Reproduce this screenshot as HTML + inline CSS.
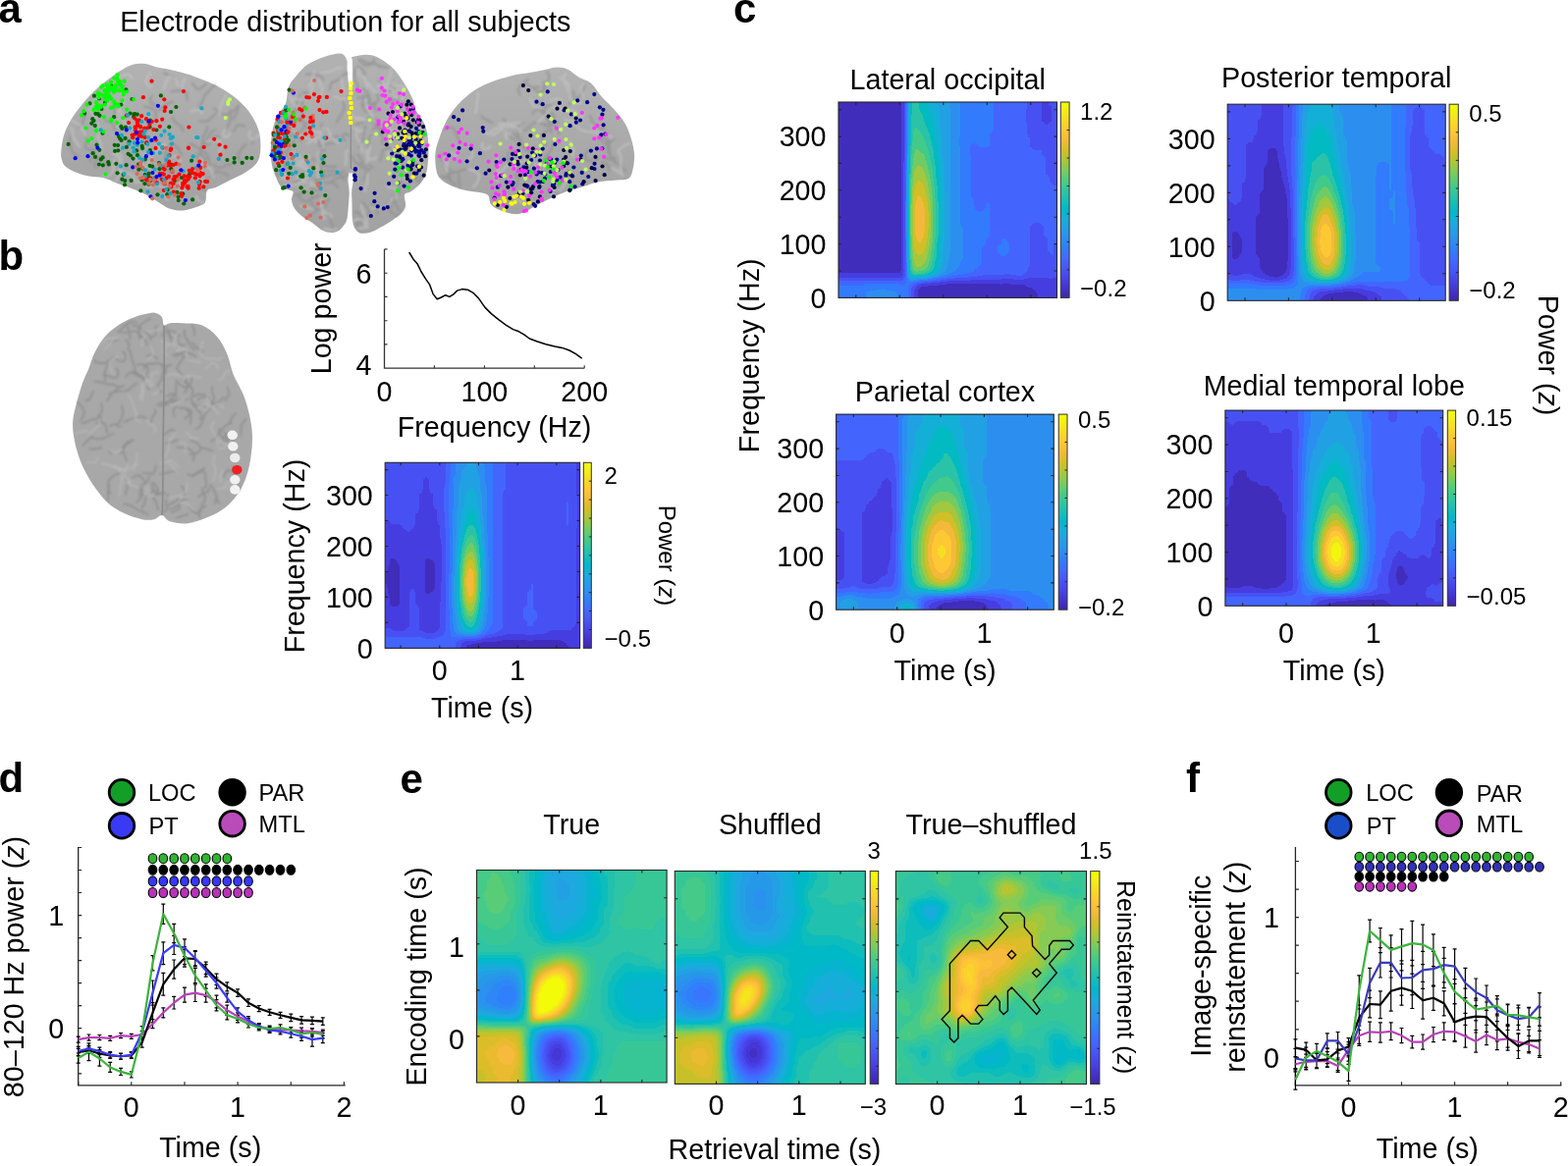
<!DOCTYPE html><html><head><meta charset="utf-8"><title>Figure</title><style>html,body{margin:0;padding:0;background:#fff;width:1597px;height:1188px;overflow:hidden}svg{display:block}</style></head><body><svg width="1597" height="1188" viewBox="0 0 1597 1188" font-family="'Liberation Sans', Arial, Helvetica, sans-serif" font-size="28.7" fill="#000"><defs><filter id="fc" x="0" y="0" width="1" height="1" color-interpolation-filters="sRGB"><feGaussianBlur stdDeviation="2.2"/><feComponentTransfer><feFuncR type="discrete" tableValues="0.256 0.276 0.281 0.266 0.196 0.174 0.137 0.079 0.011 0.166 0.260 0.439 0.641 0.820 0.958 0.995 0.967 0.954"/><feFuncG type="discrete" tableValues="0.178 0.241 0.320 0.399 0.485 0.561 0.630 0.690 0.733 0.765 0.794 0.803 0.784 0.750 0.728 0.788 0.871 0.962"/><feFuncB type="discrete" tableValues="0.741 0.881 0.956 0.993 0.989 0.943 0.896 0.847 0.760 0.662 0.545 0.396 0.244 0.154 0.228 0.201 0.138 0.065"/><feFuncA type="linear" slope="0" intercept="1"/></feComponentTransfer></filter><filter id="fe" x="0" y="0" width="1" height="1" color-interpolation-filters="sRGB"><feGaussianBlur stdDeviation="2.6"/><feComponentTransfer><feFuncR type="discrete" tableValues="0.249 0.261 0.271 0.277 0.281 0.281 0.278 0.270 0.252 0.216 0.185 0.178 0.169 0.148 0.136 0.114 0.086 0.030 0.002 0.054 0.133 0.181 0.216 0.271 0.350 0.434 0.527 0.617 0.703 0.783 0.855 0.918 0.972 0.997 0.994 0.983 0.969 0.958 0.953 0.957"/><feFuncG type="discrete" tableValues="0.162 0.188 0.215 0.247 0.283 0.318 0.353 0.389 0.426 0.465 0.503 0.537 0.570 0.602 0.631 0.660 0.686 0.708 0.727 0.743 0.757 0.770 0.784 0.795 0.801 0.803 0.797 0.788 0.774 0.758 0.742 0.731 0.730 0.756 0.790 0.826 0.864 0.904 0.945 0.988"/><feFuncB type="discrete" tableValues="0.699 0.769 0.836 0.889 0.926 0.955 0.977 0.991 0.997 0.996 0.982 0.962 0.936 0.913 0.896 0.879 0.852 0.816 0.777 0.734 0.690 0.644 0.593 0.534 0.471 0.400 0.331 0.262 0.203 0.161 0.158 0.189 0.239 0.227 0.200 0.173 0.143 0.112 0.079 0.039"/><feFuncA type="linear" slope="0" intercept="1"/></feComponentTransfer></filter><clipPath id="cl1"><rect x="392.2" y="471.3" width="198.4" height="189.1"/></clipPath><linearGradient id="cbg" x1="0" y1="0" x2="0" y2="1"><stop offset="0.00" stop-color="#f2ff03"/><stop offset="0.05" stop-color="#f3ec18"/><stop offset="0.10" stop-color="#f9d728"/><stop offset="0.15" stop-color="#fec536"/><stop offset="0.20" stop-color="#f1ba37"/><stop offset="0.25" stop-color="#d1bf27"/><stop offset="0.30" stop-color="#a8c73b"/><stop offset="0.35" stop-color="#7bcc5d"/><stop offset="0.40" stop-color="#4fcc80"/><stop offset="0.45" stop-color="#32c69e"/><stop offset="0.50" stop-color="#19bfb6"/><stop offset="0.55" stop-color="#02b7cb"/><stop offset="0.60" stop-color="#1aacdd"/><stop offset="0.65" stop-color="#259de6"/><stop offset="0.70" stop-color="#2d8df2"/><stop offset="0.75" stop-color="#327cfc"/><stop offset="0.80" stop-color="#4368fe"/><stop offset="0.85" stop-color="#4756f6"/><stop offset="0.90" stop-color="#4744e8"/><stop offset="0.95" stop-color="#4433cd"/><stop offset="1.00" stop-color="#3e26a8"/></linearGradient><clipPath id="cl2"><rect x="854.0" y="104.0" width="222.5" height="199.4"/></clipPath><clipPath id="cl3"><rect x="1250.2" y="106.2" width="222.0" height="200.1"/></clipPath><clipPath id="cl4"><rect x="851.6" y="422.1" width="221.7" height="199.1"/></clipPath><clipPath id="cl5"><rect x="1247.9" y="418.1" width="221.8" height="199.2"/></clipPath><clipPath id="cl6"><rect x="485.5" y="886.5" width="193.6" height="216.5"/></clipPath><clipPath id="cl7"><rect x="687.3" y="887.5" width="194.0" height="216.9"/></clipPath><clipPath id="cl8"><rect x="912.4" y="887.6" width="194.1" height="216.9"/></clipPath></defs><text x="-1.5" y="23.0" font-size="42" font-weight="bold">a</text><text x="122.2" y="31.7">Electrode distribution for all subjects</text><defs><linearGradient id="bgr" x1="0" y1="0" x2="0" y2="1"><stop offset="0" stop-color="#b2b2b2"/><stop offset="1" stop-color="#a2a2a2"/></linearGradient><filter id="sb" x="-5%" y="-5%" width="110%" height="110%"><feGaussianBlur stdDeviation="0.9"/></filter></defs><path d="M62.2 155.2C62.6 151.1 63.3 143.5 65.0 138.0C66.7 132.5 69.1 127.5 72.2 122.3C75.3 117.0 79.5 111.5 83.6 106.5C87.6 101.5 91.7 96.7 96.5 92.2C101.3 87.7 108.0 82.6 112.3 79.3C116.6 76.0 118.5 74.5 122.3 72.2C126.1 69.9 130.9 66.9 135.2 65.7C139.5 64.5 144.2 64.6 148.0 65.0C151.8 65.4 154.0 67.0 158.1 67.9C162.2 68.9 168.1 69.8 172.4 70.7C176.7 71.7 179.5 72.4 183.8 73.6C188.1 74.8 193.3 76.2 198.1 77.9C202.9 79.6 207.7 81.4 212.5 83.6C217.3 85.8 222.0 87.9 226.8 90.8C231.6 93.7 236.8 97.2 241.1 100.8C245.4 104.4 249.4 108.5 252.5 112.3C255.6 116.1 257.8 119.9 259.7 123.7C261.6 127.5 263.1 131.1 264.0 135.2C264.9 139.2 265.4 143.7 265.4 148.0C265.4 152.3 265.2 157.3 264.0 160.9C262.8 164.5 260.9 166.9 258.3 169.5C255.7 172.1 252.3 174.3 248.2 176.7C244.1 179.1 238.7 181.4 233.9 183.8C229.1 186.2 223.4 189.3 219.6 191.0C215.8 192.7 212.7 191.7 211.0 193.8C209.3 196.0 210.3 201.5 209.6 203.9C208.9 206.3 209.1 206.8 206.7 208.2C204.3 209.6 199.1 211.4 195.3 212.5C191.5 213.6 187.6 214.6 183.8 214.6C180.0 214.6 176.0 213.8 172.4 212.5C168.8 211.2 166.5 209.1 162.4 206.7C158.3 204.3 152.5 200.5 148.0 198.1C143.5 195.7 140.0 194.3 135.2 192.4C130.4 190.5 124.4 188.6 119.4 186.7C114.4 184.8 109.9 182.2 105.1 181.0C100.3 179.8 95.6 180.5 90.8 179.5C86.0 178.5 80.5 176.9 76.5 175.2C72.5 173.5 68.8 171.6 66.5 169.5C64.2 167.4 63.6 164.8 62.9 162.4C62.2 160.0 61.9 159.3 62.2 155.2Z" fill="url(#bgr)"/><path d="M353.2 61.0C352.1 58.4 350.5 55.1 346.8 54.6C343.1 54.1 336.4 55.9 330.8 57.8C325.2 59.7 318.0 62.6 313.2 65.8C308.4 69.0 305.2 73.3 302.0 77.0C298.8 80.7 295.9 83.4 294.0 88.2C292.1 93.0 292.9 100.5 290.8 105.8C288.7 111.1 283.6 114.3 281.2 120.2C278.8 126.1 277.2 133.5 276.4 141.0C275.6 148.5 275.3 157.8 276.4 165.0C277.5 172.2 280.9 179.8 282.8 184.2C284.7 188.6 285.4 189.9 288.0 191.7C290.6 193.5 296.7 193.0 298.2 195.1C299.7 197.2 296.6 201.1 297.0 204.1C297.4 207.1 298.7 210.5 300.4 213.1C302.1 215.7 304.4 217.7 307.2 219.9C310.0 222.2 314.1 224.3 317.3 226.6C320.5 228.8 323.4 231.7 326.4 233.4C329.4 235.1 332.6 236.4 335.4 236.8C338.2 237.2 341.1 236.6 343.3 235.7C345.6 234.8 347.2 233.3 348.9 231.2C350.6 229.1 352.4 227.4 353.4 223.3C354.4 219.2 354.7 211.1 355.1 206.4C355.5 201.7 355.8 198.6 355.7 195.0C355.6 191.4 354.7 188.2 354.6 185.0C354.5 181.8 354.7 178.5 355.2 176.0C355.7 173.5 357.2 182.7 357.6 170.0C358.0 157.3 358.0 114.0 357.6 100.0C357.2 86.0 355.9 91.0 355.2 86.0C354.5 81.0 353.9 74.2 353.6 70.0C353.3 65.8 354.3 63.6 353.2 61.0Z" fill="url(#bgr)"/><path d="M359.6 57.8C362.9 56.8 372.4 54.6 378.8 56.2C385.2 57.8 392.7 62.9 398.0 67.4C403.3 71.9 407.1 77.8 410.8 83.4C414.5 89.0 418.3 96.2 420.4 101.0C422.5 105.8 421.5 107.7 423.6 112.2C425.7 116.7 431.1 122.1 433.2 128.2C435.3 134.3 436.0 142.6 436.4 149.0C436.8 155.4 436.2 162.0 435.7 166.9C435.2 171.8 434.7 174.8 433.4 178.2C432.1 181.6 430.2 184.4 427.8 187.2C425.4 190.0 421.4 193.2 418.8 195.1C416.2 197.0 412.9 196.1 412.0 198.5C411.1 200.9 413.7 206.5 413.1 209.7C412.5 212.9 410.9 215.1 408.6 217.6C406.4 220.1 403.0 222.1 399.6 224.4C396.2 226.7 392.1 229.1 388.3 231.2C384.6 233.3 380.7 235.8 377.1 236.8C373.5 237.8 369.5 238.2 366.9 237.4C364.3 236.7 362.6 234.7 361.3 232.3C360.0 230.0 359.5 227.6 359.0 223.3C358.5 219.0 358.6 211.1 358.5 206.4C358.4 201.7 358.0 198.6 358.2 195.0C358.4 191.4 359.4 188.2 359.6 185.0C359.8 181.8 359.6 178.5 359.2 176.0C358.8 173.5 357.4 182.7 357.0 170.0C356.6 157.3 356.7 113.7 357.0 100.0C357.3 86.3 358.4 92.2 358.8 88.0C359.2 83.8 359.2 79.3 359.2 75.0C359.2 70.7 358.9 64.9 359.0 62.0C359.1 59.1 356.3 58.8 359.6 57.8Z" fill="url(#bgr)"/><path d="M443.3 157.1C443.7 151.4 445.2 147.2 447.2 141.4C449.1 135.7 451.9 128.3 455.0 122.6C458.1 116.9 461.6 112.0 466.0 107.0C470.4 102.0 476.0 96.8 481.7 92.9C487.4 89.0 493.9 86.1 500.4 83.5C506.9 80.9 514.3 78.8 520.8 77.2C527.3 75.6 533.9 75.1 539.6 74.1C545.3 73.1 550.5 71.9 555.2 71.0C559.9 70.1 563.9 68.6 567.8 68.6C571.7 68.6 575.1 69.3 578.7 71.0C582.4 72.7 585.8 76.5 589.7 78.8C593.6 81.1 598.3 81.6 602.2 85.0C606.1 88.4 609.3 94.6 613.2 99.1C617.1 103.5 621.8 107.3 625.7 111.7C629.6 116.1 633.7 120.8 636.6 125.7C639.5 130.7 641.3 136.2 642.9 141.4C644.5 146.6 645.7 151.9 646.0 157.1C646.3 162.3 645.5 168.5 644.5 172.7C643.5 176.9 642.9 180.3 639.8 182.1C636.7 183.9 630.7 183.2 625.7 183.7C620.7 184.2 615.2 184.2 610.0 185.2C604.8 186.2 599.6 188.3 594.4 189.9C589.2 191.5 583.9 192.8 578.7 194.6C573.5 196.4 568.3 198.6 563.1 200.9C557.9 203.2 552.4 206.1 547.4 208.7C542.4 211.3 537.2 214.9 533.3 216.5C529.4 218.1 527.5 218.3 523.9 218.1C520.2 217.8 515.3 216.6 511.4 215.0C507.5 213.4 502.8 211.3 500.4 208.7C498.0 206.1 499.1 201.4 497.3 199.3C495.5 197.2 492.9 197.0 489.5 196.2C486.1 195.4 481.7 195.6 477.0 194.6C472.3 193.6 465.7 191.7 461.3 189.9C456.9 188.1 453.1 186.0 450.4 183.7C447.7 181.3 446.1 180.2 444.9 175.8C443.7 171.4 442.9 162.8 443.3 157.1Z" fill="url(#bgr)"/><g filter="url(#sb)"><path d="M174.1 170.9C171.1 172.7 167.7 171.8 164.5 173.4 162.8 176.5 164.2 179.8 165.9 182.9M175.8 103.8C172.9 104.2 170.2 105.0 168.5 107.3 166.7 109.4 164.0 110.3 161.8 112.1M107.3 123.0C112.2 122.8 115.8 126.1 116.5 131.0 118.3 135.6 122.8 137.4 126.6 140.6M175.6 119.1C176.3 122.2 178.3 124.7 181.1 126.2 184.1 127.4 185.6 130.3 186.5 133.4M119.8 106.6C118.1 108.6 116.4 110.6 116.7 113.2 117.1 115.8 118.1 118.2 118.1 120.8M213.9 168.4C213.8 165.3 212.7 162.4 212.0 159.3 210.3 156.7 208.4 154.3 205.2 154.2M109.1 168.4C106.4 165.2 104.5 161.5 100.4 160.6 97.1 163.0 95.7 167.0 97.2 170.9M174.6 93.1C178.6 92.2 182.5 93.0 186.4 91.9 189.8 94.1 191.1 97.9 190.5 102.0M159.8 191.0C162.6 188.2 166.1 186.3 168.9 183.5 172.1 181.0 173.2 177.2 171.9 173.4M209.7 182.4C214.2 182.0 217.0 178.4 219.7 174.8 224.3 174.4 228.2 176.6 232.3 178.7M154.7 97.6C154.0 99.7 152.7 101.5 153.0 103.7 153.6 105.9 155.6 106.7 157.8 106.3M210.7 162.4C207.9 161.9 206.6 159.4 205.0 157.1 202.1 156.8 200.1 158.8 200.3 161.7M257.2 145.9C257.4 143.4 258.5 141.1 260.9 140.3M209.9 85.9C206.9 87.2 205.4 90.1 202.4 91.2 199.2 90.4 198.0 87.4 196.1 84.8M103.8 101.0C107.6 97.9 111.3 94.7 113.3 90.2 117.7 88.0 122.4 89.3 126.6 86.7M234.6 112.1C233.7 115.3 235.4 118.1 235.0 121.3 234.4 124.6 232.1 127.0 231.4 130.2M204.5 190.7C206.1 192.3 208.1 193.1 210.1 193.9M164.4 189.0C167.5 187.6 170.7 188.9 174.1 189.7 176.9 187.7 177.2 184.3 177.9 180.9M150.9 139.5C147.1 138.4 143.8 136.6 140.0 137.3 136.8 139.5 133.0 139.6 130.1 142.2M107.6 101.3C106.6 103.1 105.8 104.9 106.3 106.9 106.1 108.9 104.8 110.4 103.3 111.7M203.4 123.5C206.7 123.6 209.9 124.4 212.8 122.8 214.5 119.9 217.5 118.5 219.6 116.0M238.4 166.1C234.7 167.8 230.7 167.2 227.5 169.6 224.2 171.9 220.2 171.4 218.0 168.0M107.0 102.7C107.2 99.7 108.7 97.0 109.7 94.2 111.9 92.1 114.0 89.9 116.1 87.7M147.0 108.5C151.1 108.3 154.0 111.0 157.9 112.0 159.8 115.5 158.8 119.4 157.8 123.3M177.6 82.2C178.0 79.7 176.5 77.6 174.0 77.3 171.6 76.5 169.2 75.7 167.3 74.2M79.3 159.4C76.0 157.3 72.9 154.8 72.3 150.9 71.4 147.1 70.7 143.2 71.5 139.3M80.4 129.6C82.6 128.8 84.1 126.8 84.3 124.4 84.5 122.0 85.1 119.7 87.0 118.2M218.6 86.8C214.7 89.9 212.2 94.2 208.1 96.9 207.7 101.9 205.1 106.1 201.8 109.9M210.9 147.4C213.8 146.7 215.1 144.0 216.7 141.4 217.9 138.5 220.8 137.9 223.2 139.8M209.8 146.4C207.3 148.7 205.4 151.6 202.0 151.5 199.3 149.4 197.0 147.0 193.7 146.3M249.2 128.5C246.8 127.4 244.2 127.2 241.7 127.5 240.4 129.8 238.5 131.5 238.1 134.1M184.8 157.7C182.8 155.6 182.2 152.8 180.9 150.2 178.3 149.0 177.3 146.3 174.5 145.6M242.3 108.7C239.1 112.5 234.7 114.6 230.6 117.4 225.8 116.4 221.9 113.4 217.9 110.5M169.5 165.7C168.7 161.6 167.6 157.6 169.6 153.9 170.4 149.8 173.0 146.5 177.2 146.9M250.1 147.2C247.6 150.1 244.9 152.9 243.2 156.3 241.8 160.0 243.6 163.4 246.6 165.8M91.6 164.7C92.5 162.4 94.4 160.8 95.7 158.7 97.1 156.6 96.3 154.3 94.3 152.8M203.5 155.5C205.3 151.0 208.1 147.0 210.5 142.7 212.9 138.4 214.3 133.8 219.0 132.2M211.3 129.2C211.2 133.4 208.8 136.9 206.4 140.4 207.4 144.5 205.8 148.4 205.1 152.5M238.2 121.8C238.0 119.2 239.5 117.0 241.2 115.0 242.2 112.6 242.4 109.9 243.1 107.4M88.3 141.4C88.5 144.4 86.8 146.9 87.0 149.9 88.6 152.4 91.5 153.4 93.9 151.6" fill="none" stroke="#8e8e8e" stroke-width="2.2" stroke-linecap="round" opacity="0.65"/><path d="M148.7 191.3C151.2 188.8 154.6 188.7 158.1 188.8 161.5 189.2 164.7 190.7 167.9 189.3M170.4 203.5C168.2 201.4 168.1 198.4 168.8 195.5 166.9 193.1 167.2 190.1 164.9 188.1M200.0 199.6C200.6 203.2 203.3 205.6 206.7 206.5M121.3 177.3C121.1 173.0 123.4 169.4 122.7 165.1 122.6 160.8 119.0 158.5 115.3 156.2M233.6 135.7C233.4 138.5 231.2 140.2 228.4 139.4 226.4 137.5 226.9 134.7 228.8 132.5M120.0 130.1C120.7 126.0 121.4 122.0 119.2 118.4 120.7 114.6 119.9 110.5 122.8 107.6M138.6 186.3C141.6 184.8 144.9 184.6 148.2 185.5 151.5 186.1 154.2 188.0 154.3 191.3M81.1 149.2C78.0 146.9 77.3 143.0 74.7 140.1 74.7 136.2 74.4 132.3 71.7 129.5M223.7 154.8C226.2 151.1 225.7 146.7 223.2 143.1 218.8 143.2 214.5 142.0 210.8 144.3M98.6 101.6C95.5 104.3 92.4 106.9 92.1 110.9 93.2 114.8 96.2 117.5 97.7 121.3M110.5 105.1C107.5 108.9 102.6 109.5 97.9 108.1M155.6 172.0C152.4 170.3 148.9 169.8 145.8 168.1 142.5 166.5 140.2 163.8 139.1 160.4M134.5 79.8C133.5 76.9 130.9 75.4 127.9 76.0 125.0 77.0 121.9 77.0 119.7 79.2M198.9 177.1C199.8 179.2 201.9 180.2 204.1 180.7 205.8 182.3 208.0 183.0 209.2 185.0M154.2 89.2C151.4 87.5 148.7 85.6 148.7 82.3 150.3 79.4 150.6 76.1 153.2 74.2M99.6 126.1C100.7 130.9 100.3 135.8 99.9 140.8 102.6 144.9 104.1 149.6 102.6 154.3M223.8 116.7C223.0 113.1 224.1 109.6 225.6 106.2 226.8 102.7 228.9 99.7 230.6 96.4M120.7 106.8C122.4 110.5 124.5 114.2 124.0 118.3 125.0 122.3 126.8 126.1 130.0 128.7M122.1 149.0C120.5 150.4 119.5 152.4 118.9 154.5 119.7 156.5 121.8 157.2 123.6 158.4M179.7 203.6C182.5 202.4 184.1 199.9 185.0 197.0 186.9 194.6 189.0 192.6 189.0 189.5M204.7 162.0C204.8 166.4 207.7 169.6 212.0 170.3 216.0 172.1 216.9 176.3 217.0 180.7M122.2 172.1C123.9 175.6 127.8 176.3 131.7 177.1 135.5 177.9 137.5 181.3 137.9 185.2M123.9 161.5C123.1 165.4 121.5 169.0 122.4 172.8 121.8 176.7 120.8 180.6 118.1 183.5M175.9 159.7C177.8 158.7 179.9 158.8 181.9 159.5 183.0 161.3 183.4 163.4 183.3 165.5M186.1 89.6C185.1 86.2 186.3 82.9 188.6 80.2M205.5 115.6C205.7 113.1 204.1 111.2 201.7 111.5 199.4 112.6 197.0 112.8 194.6 113.3M123.8 94.0C125.8 94.8 126.5 97.0 126.2 99.2 125.6 101.3 125.6 103.6 126.4 105.7M184.2 197.1C183.1 194.2 182.2 191.3 182.0 188.2 183.4 185.5 183.5 182.4 184.7 179.6M116.4 162.6C117.5 166.8 114.8 170.3 114.8 174.7 113.0 178.7 109.0 180.5 104.8 179.2M167.9 147.2C164.6 150.4 161.2 153.4 157.8 156.5 153.3 156.0 148.8 155.0 145.0 157.6M169.0 148.2C167.0 147.9 165.0 148.0 162.9 148.2 160.9 148.7 159.7 150.4 157.7 150.5M73.3 122.8C75.9 125.1 79.0 126.5 82.2 127.8 83.9 130.8 84.5 134.2 86.4 137.1M155.0 158.4C154.0 160.8 152.0 162.4 151.2 164.9 152.1 167.3 153.8 169.2 153.3 171.8M263.7 136.8C261.9 139.6 259.7 142.1 256.3 142.2 253.8 140.1 253.1 136.8 254.8 134.0M166.4 90.3C168.8 85.9 168.9 80.9 172.6 77.7 177.6 78.4 180.3 82.5 181.6 87.3" fill="none" stroke="#c4c4c4" stroke-width="2.6" stroke-linecap="round" opacity="0.6"/><path d="M327.4 126.1C327.4 130.8 328.7 135.3 331.4 139.1 335.9 140.4 340.4 138.8 345.0 138.8M299.7 112.3C301.9 112.2 304.1 111.6 306.2 112.5 307.3 114.5 307.7 116.8 309.7 117.9M329.6 136.0C327.2 138.7 325.6 141.8 324.5 145.2 325.4 148.6 328.3 150.8 330.5 153.5M329.7 163.9C328.3 161.3 326.0 159.5 325.3 156.6 326.6 153.9 329.2 152.5 331.0 150.2M307.1 107.5C307.3 104.8 309.0 102.7 310.8 100.7 311.1 98.0 310.0 95.5 309.4 92.9M336.1 91.2C335.3 86.5 337.9 82.6 342.7 82.4 346.8 80.1 349.0 75.9 353.5 74.6M351.4 142.9C349.7 141.3 348.6 139.2 349.6 137.1 351.7 136.0 353.9 136.7 355.4 138.5M299.2 115.7C296.8 118.5 293.1 119.0 289.7 120.4M310.8 130.1C310.5 125.9 309.0 122.0 305.0 120.5 300.8 121.0 298.5 124.6 297.4 128.6M291.8 172.3C291.6 168.8 290.3 165.6 292.1 162.6 295.6 162.5 299.0 163.4 301.0 166.2M306.9 161.7C302.9 164.5 298.2 163.6 293.7 161.6 289.3 163.5 285.9 167.0 281.9 169.8M350.7 174.3C347.6 176.7 343.8 175.5 340.3 173.6 336.8 175.4 333.3 173.5 329.4 174.3M331.0 178.9C328.8 181.2 325.7 182.2 323.0 183.8 322.2 186.9 323.2 190.0 326.0 191.6M349.3 103.4C351.2 106.9 350.9 110.8 349.1 114.4 346.7 117.5 344.5 120.8 343.1 124.5M312.2 183.4C314.1 185.3 315.1 187.8 315.8 190.4 317.6 192.4 320.1 193.3 322.6 194.2M297.8 189.3C299.3 185.4 303.1 183.8 307.1 182.5 310.1 179.7 311.4 175.7 309.4 172.1M326.6 194.0C325.5 191.9 325.5 189.5 324.9 187.2 324.5 184.8 322.4 183.5 320.7 181.9M342.1 169.2C338.0 171.6 333.5 170.0 329.0 168.6 325.1 165.9 322.2 162.2 317.4 162.1M330.9 186.0C333.5 186.0 336.0 186.2 338.5 185.7 341.0 186.5 342.5 188.5 343.7 190.7M332.1 209.7C329.4 213.3 324.9 213.7 320.7 212.1 316.9 209.7 316.7 205.2 316.7 200.7M293.8 150.7C293.2 155.6 291.4 160.2 289.0 164.5 290.3 169.2 289.6 174.1 288.1 178.8M285.3 169.5C285.3 173.0 284.0 176.3 280.8 177.7M315.3 188.5C312.6 189.7 311.5 192.6 310.0 195.2 307.6 197.0 304.7 197.9 303.6 200.7M279.0 155.8C280.5 158.4 281.6 161.1 282.3 164.0 280.6 166.5 281.2 169.4 279.1 171.5M328.5 179.9C333.1 179.4 337.5 178.0 342.1 177.8 346.6 176.6 350.3 179.4 350.8 184.0M306.7 95.8C303.9 99.9 301.1 104.1 301.2 109.0 301.5 114.0 297.7 117.3 294.7 121.2M305.7 198.2C303.7 197.8 301.7 198.3 299.7 198.6M308.5 103.3C307.7 101.0 308.4 98.7 310.2 96.9 310.8 94.6 313.1 93.7 315.2 95.0M340.7 233.9C338.1 231.8 337.6 228.6 337.1 225.4 336.6 222.2 335.5 219.1 334.0 216.2M312.0 75.7C315.5 75.6 319.1 75.1 322.3 76.6 325.8 76.2 328.8 78.1 329.1 81.7M287.0 134.3C291.1 135.6 294.6 133.0 298.9 133.8 301.1 137.5 304.7 139.9 306.8 143.7M282.4 173.9C282.4 175.9 282.2 178.0 283.7 179.4 283.9 181.4 284.4 183.4 284.9 185.5M334.8 186.9C337.5 184.1 341.4 183.8 344.0 181.0 347.9 181.6 351.6 180.2 354.0 177.2M327.1 156.1C323.5 159.0 322.7 163.6 324.6 167.8 326.1 172.1 328.8 175.9 330.2 180.3M340.6 146.3C337.7 146.1 335.0 145.2 332.5 146.6 330.3 148.4 327.6 147.6 324.8 148.2M314.4 219.7C318.3 217.1 323.0 216.2 325.2 212.1 329.3 209.7 331.9 205.8 335.7 202.9M299.9 143.5C296.7 145.7 295.4 149.3 293.6 152.7 290.3 154.7 287.6 157.4 283.8 156.9M312.4 125.4C310.3 129.8 307.1 133.5 303.7 137.1 298.9 136.3 295.3 139.6 290.5 138.6M304.9 201.2C307.3 204.5 311.3 205.8 315.2 204.4 317.5 200.9 321.5 200.3 325.6 199.2M288.0 116.4C285.2 119.2 283.2 122.6 283.4 126.5 284.5 130.3 285.1 134.1 288.2 136.6" fill="none" stroke="#8e8e8e" stroke-width="2.2" stroke-linecap="round" opacity="0.65"/><path d="M337.8 221.5C337.2 218.7 334.8 217.0 331.9 217.0 329.4 215.4 328.2 212.8 326.4 210.4M284.1 171.0C285.4 175.3 286.3 179.8 289.9 182.7M324.0 181.0C324.2 176.3 322.9 171.7 324.3 167.2 323.6 162.6 322.2 158.1 325.1 154.4M314.9 159.4C313.4 161.4 311.2 162.3 310.1 164.5 307.7 165.1 305.6 163.8 303.2 163.4M347.9 79.0C347.7 83.7 348.3 88.3 350.6 92.3M313.0 145.7C317.1 144.6 319.4 141.0 323.5 140.1 327.2 138.2 328.7 134.3 329.3 130.1M336.8 136.7C337.2 141.3 341.1 143.8 345.4 145.4M303.0 109.8C299.2 106.6 295.6 103.1 295.5 98.1M327.6 203.0C327.1 206.7 329.4 209.5 328.4 213.1 328.4 216.8 327.8 220.4 330.5 223.0M318.6 135.4C320.8 135.3 322.6 134.1 324.8 134.2 326.6 135.4 328.2 137.0 330.1 138.1M313.3 176.8C311.3 177.6 309.1 177.4 307.0 178.2 305.7 180.0 303.6 180.3 301.6 181.3M295.6 126.2C292.2 126.7 289.6 128.9 286.9 131.0 286.4 134.4 283.6 136.3 282.0 139.3M311.3 192.2C312.8 190.5 315.0 190.0 316.7 188.4 318.9 188.7 321.2 189.0 323.4 189.5M351.9 100.5C349.7 100.3 347.7 101.2 345.5 100.8 344.5 98.8 342.5 97.9 340.5 98.9M330.1 232.9C334.6 233.9 338.8 235.7 342.7 233.1M322.7 140.1C325.1 139.6 327.0 141.3 328.3 143.5 328.7 146.0 329.7 148.3 329.4 150.8M311.7 101.6C307.3 101.7 303.2 100.3 298.8 101.0M307.0 182.4C309.1 183.8 311.5 183.0 313.5 181.5 313.7 179.0 312.7 176.7 313.6 174.3M333.3 130.9C334.2 132.9 335.4 134.7 336.2 136.7 336.0 138.8 335.3 140.8 333.7 142.3M321.9 144.6C318.3 141.7 314.1 139.7 309.5 140.4 305.9 137.4 301.4 136.1 297.9 133.0M295.6 163.1C296.7 164.9 298.4 166.2 300.2 167.3 302.1 168.2 304.1 168.9 306.1 169.6M287.0 173.1C287.2 169.8 285.1 167.3 281.8 167.5M319.0 86.7C317.6 89.6 316.6 92.8 316.4 96.1 313.8 98.2 310.6 99.2 307.8 97.6M290.4 176.7C288.9 179.3 286.0 180.0 285.1 182.8M306.4 210.1C308.6 210.1 310.6 210.6 312.5 211.7 314.6 211.9 316.6 212.8 318.6 213.2M299.1 155.4C298.6 160.4 301.3 164.5 305.8 166.6 307.7 171.2 311.2 174.7 316.1 174.6M325.0 81.6C325.6 85.5 328.4 88.2 328.7 92.1 328.0 96.0 324.9 98.4 322.8 101.6M304.7 158.6C307.1 160.4 307.7 163.2 308.5 166.0 311.0 167.6 311.5 170.5 313.5 172.6M280.0 144.1C279.0 140.6 277.4 137.3 278.2 133.7M348.6 69.0C344.8 68.7 341.1 69.5 338.4 72.2 335.0 74.0 331.2 73.4 327.5 74.3M318.0 185.7C313.4 186.7 309.3 184.5 304.9 186.2 301.4 189.2 296.7 189.1 292.1 188.7M351.8 168.0C352.4 165.4 353.0 162.8 352.5 160.1 351.8 157.5 351.8 154.8 354.0 153.1M320.1 72.7C319.1 75.4 318.4 78.3 318.8 81.2 317.5 83.8 316.6 86.6 314.0 87.9M286.6 168.3C287.1 171.0 287.3 173.6 288.2 176.1 290.7 177.1 291.9 179.4 292.4 182.1M283.4 172.0C283.3 168.9 283.1 165.9 284.5 163.2 287.1 161.7 290.1 161.8 292.6 163.6" fill="none" stroke="#c4c4c4" stroke-width="2.6" stroke-linecap="round" opacity="0.6"/><path d="M396.5 105.0C399.8 102.2 399.4 98.0 398.2 93.8 396.4 90.0 396.4 85.7 399.9 83.1M396.4 137.0C394.0 134.1 390.4 133.0 386.7 132.4 384.1 129.7 381.9 126.7 379.1 124.1M369.4 89.9C373.3 92.4 375.8 96.4 376.7 101.1 376.5 105.8 379.7 109.3 383.3 112.3M368.5 107.5C370.5 105.8 373.0 105.1 375.4 106.2 377.7 107.5 380.1 106.5 381.8 104.4M377.1 168.4C373.5 166.9 369.9 165.5 366.3 166.6M407.8 215.8C406.4 212.8 403.6 210.9 402.9 207.6 402.8 204.3 400.2 202.2 399.0 199.0M410.6 170.6C414.7 169.1 418.8 170.9 420.0 175.1 421.8 179.1 424.5 182.6 426.9 186.3M369.2 206.1C371.4 209.7 375.0 211.9 376.3 215.9 373.9 219.3 372.5 223.4 368.6 225.0M372.0 128.9C370.5 132.5 370.9 136.3 370.1 140.1 369.6 143.9 367.6 147.2 365.4 150.3M389.3 147.1C389.9 143.0 390.4 138.8 387.4 136.0 387.2 131.8 390.4 129.2 394.5 128.4M385.1 81.5C388.0 82.8 389.7 85.5 389.1 88.6 390.1 91.5 388.8 94.4 385.9 95.5M405.7 198.4C407.5 195.3 407.2 191.8 407.6 188.2 409.2 185.1 410.1 181.6 409.6 178.1M418.2 184.4C421.6 182.5 425.0 180.5 427.8 177.8M374.5 121.6C378.5 121.0 382.5 120.3 385.2 123.2 385.0 127.2 383.0 130.7 379.4 132.3M371.0 171.6C368.1 170.7 366.3 168.2 363.6 166.6 361.1 164.7 359.6 162.0 358.4 159.1M386.7 68.6C384.8 64.8 380.8 63.8 377.4 66.3 373.3 67.2 369.2 66.2 367.0 62.6M386.8 164.2C388.5 160.3 389.0 156.2 390.5 152.2 394.3 150.3 398.4 151.4 402.3 150.0M376.3 122.2C374.2 123.9 371.8 125.1 369.1 124.8 366.4 124.3 364.4 126.0 362.5 128.0M374.3 105.7C375.9 102.8 375.8 99.5 373.0 97.7 369.7 97.7 367.3 100.0 364.0 99.7M382.5 108.8C381.1 106.4 382.4 103.9 385.0 103.0 386.3 100.5 385.1 98.0 383.9 95.5M427.0 184.6C428.9 181.1 429.5 177.1 431.7 173.8M381.5 60.6C380.4 63.7 377.3 64.9 374.1 64.1 371.3 62.5 368.6 60.5 365.4 60.6M414.4 112.0C412.3 109.1 411.7 105.5 408.8 103.2 405.9 101.1 402.3 101.6 398.9 102.8M397.5 204.0C394.9 207.0 394.4 210.9 397.0 213.9 398.3 217.6 401.8 219.6 405.6 218.9M379.4 169.6C377.7 171.8 375.1 172.9 373.0 174.8 372.4 177.6 371.4 180.2 370.7 182.9M363.8 94.5C365.3 90.4 364.7 86.0 362.3 82.4 360.1 78.6 360.9 74.3 362.1 70.1M362.8 226.2C364.2 229.2 364.6 232.6 366.3 235.5M426.4 127.9C423.1 127.1 419.7 127.1 417.5 124.4 415.5 121.7 415.0 118.3 416.2 115.2M364.4 157.6C366.1 160.0 368.7 161.6 368.8 164.6 370.0 167.3 372.0 169.6 373.7 172.0M384.9 217.6C384.1 215.7 383.2 213.8 382.5 211.9 381.6 210.0 380.3 208.4 378.2 208.4M372.5 225.5C369.9 223.7 366.9 224.5 365.1 227.1M403.0 92.6C402.4 90.3 400.1 89.5 398.0 90.9 397.2 93.1 395.9 95.2 393.7 96.2M371.8 96.8C370.1 100.1 368.2 103.4 369.8 106.7 369.7 110.5 371.5 113.7 375.2 114.4M368.1 229.4C369.1 226.6 368.4 223.6 368.2 220.6 367.4 217.7 364.8 216.0 361.8 215.9M371.4 76.1C371.1 71.6 367.7 68.7 363.3 67.8M376.5 118.7C377.8 122.5 381.3 124.6 383.0 128.2 386.5 130.1 389.8 132.4 392.9 135.0M381.7 64.7C385.5 67.6 390.2 68.7 395.1 68.8M405.0 192.2C406.0 197.0 402.6 200.5 400.3 204.9 398.4 209.4 394.4 212.3 389.6 213.5M374.9 150.7C374.9 148.2 376.1 146.0 375.7 143.6 375.8 141.1 376.1 138.6 378.2 137.4M421.7 128.8C419.1 126.9 415.8 126.7 413.1 128.3 410.4 130.1 407.7 131.9 407.6 135.2" fill="none" stroke="#8e8e8e" stroke-width="2.2" stroke-linecap="round" opacity="0.65"/><path d="M358.5 115.2C358.1 118.2 360.3 120.2 362.8 121.8 365.8 121.9 368.7 121.1 371.5 122.2M400.2 83.9C401.0 86.5 403.6 87.3 406.3 87.7 409.0 87.2 411.6 87.8 413.9 89.3M372.3 123.3C370.5 120.6 367.3 120.3 364.1 119.8M423.6 124.9C427.2 125.9 429.4 129.1 428.5 132.8 424.9 134.2 421.8 136.4 420.1 139.8M373.0 101.6C371.5 105.7 373.8 109.4 375.8 113.2 379.0 116.1 380.2 120.2 380.6 124.5M384.0 86.7C387.2 89.4 391.1 90.7 393.3 94.2 397.3 95.0 399.9 98.3 403.8 99.5M412.4 106.2C413.3 109.0 413.1 112.0 411.7 114.5 411.4 117.5 409.5 119.7 409.9 122.6M371.6 224.8C367.8 222.8 363.5 223.1 359.7 225.0M394.5 191.1C397.8 190.5 401.2 190.3 403.3 192.9 405.4 195.5 404.5 198.8 403.2 201.9M426.4 125.6C426.3 127.7 427.4 129.4 427.2 131.4 427.0 133.5 427.1 135.5 425.6 136.9M400.1 201.4C397.5 205.3 396.5 209.9 392.5 212.3 387.8 211.8 383.2 211.0 378.6 212.0M368.0 209.2C369.0 213.1 369.3 217.3 372.0 220.3 374.3 223.8 373.9 227.9 374.2 232.0M399.4 95.6C401.1 91.7 405.2 90.7 408.8 93.0 411.7 96.2 411.3 100.4 408.1 103.3M393.8 116.3C396.9 115.3 400.2 115.4 403.3 114.3 405.9 116.3 406.7 119.4 408.9 121.9M387.9 86.5C390.2 87.7 392.7 88.2 395.0 89.2 397.5 89.6 399.7 90.9 401.1 93.1M415.8 161.3C417.4 163.2 420.0 163.0 422.2 161.8 422.7 159.3 423.4 156.9 424.7 154.7M364.6 70.4C364.6 74.2 366.5 77.5 370.3 78.1 373.0 80.7 372.9 84.6 374.1 88.2M394.9 155.4C397.2 157.0 400.0 157.3 402.5 156.0 403.2 153.3 402.4 150.6 399.8 149.5M424.7 161.6C426.8 163.9 428.0 166.8 429.8 169.4M395.5 159.8C397.0 158.0 398.4 156.1 400.6 155.1 402.5 153.6 404.2 152.0 406.5 152.4M374.2 177.6C373.9 180.6 373.6 183.7 374.3 186.8 372.6 189.3 371.1 192.0 372.3 194.9M373.1 153.4C373.6 156.3 374.4 159.1 375.9 161.6 378.5 163.0 381.3 162.5 382.9 160.0M364.3 233.3C366.7 232.6 369.2 232.5 371.7 231.8 372.9 229.6 372.1 227.3 370.3 225.5M369.0 132.9C365.9 133.5 363.2 131.8 360.6 130.1M424.7 135.9C426.3 133.5 426.7 130.7 427.7 128.0 427.8 125.1 425.5 123.4 425.4 120.6M376.6 149.0C376.9 152.2 375.7 155.2 374.0 158.0 374.7 161.2 375.0 164.4 372.8 166.7M428.5 176.5C424.4 176.0 421.5 178.9 417.8 180.6 413.9 182.1 410.0 180.9 405.9 181.4M402.9 139.9C402.4 137.7 403.1 135.7 401.8 133.9 400.0 132.7 397.9 132.0 395.7 131.7M410.5 142.2C408.9 139.1 409.6 135.6 410.1 132.0 408.5 128.9 405.9 126.4 406.0 122.8M432.2 167.7C430.3 170.3 429.9 173.6 431.0 176.7M389.0 81.9C389.2 84.1 390.7 85.8 392.8 86.4 395.1 86.1 397.2 85.5 399.2 84.4M369.5 155.1C367.7 151.2 368.5 147.0 365.7 143.7 362.2 141.2 362.1 136.9 364.2 133.1M390.1 95.1C387.1 93.9 383.8 94.5 380.9 93.2 379.3 90.3 376.6 88.4 375.7 85.2M434.1 141.1C432.0 143.8 429.4 146.0 426.7 148.1 423.3 148.0 420.0 149.0 417.4 146.9M398.4 71.0C397.2 74.5 398.1 78.0 395.8 80.9 396.2 84.5 393.5 87.0 392.7 90.5" fill="none" stroke="#c4c4c4" stroke-width="2.6" stroke-linecap="round" opacity="0.6"/><path d="M564.4 180.1C567.2 181.6 568.4 184.6 569.5 187.6 569.5 190.9 569.3 194.1 566.8 196.1M561.6 135.6C562.0 131.6 559.3 128.8 560.1 124.9 557.9 121.7 555.2 118.8 554.5 114.9M490.4 117.7C491.1 119.9 492.8 121.6 495.2 121.5 496.8 123.2 499.0 124.1 501.2 125.0M569.0 164.8C565.4 165.4 561.6 165.8 558.4 167.6 556.4 170.8 555.6 174.4 555.0 178.1M621.5 155.5C619.8 152.0 621.6 148.7 620.2 145.1 618.1 141.9 615.0 139.8 611.2 139.5M452.0 132.1C455.0 129.2 459.2 129.0 462.7 131.2 463.6 135.3 466.5 138.3 466.9 142.5M533.2 125.2C529.2 125.3 526.6 128.3 527.5 132.2 529.1 135.9 527.4 139.5 524.9 142.6M525.2 191.1C528.2 187.2 528.3 182.2 525.4 178.2 526.7 173.4 530.9 170.8 535.2 168.3M569.2 137.1C569.4 133.2 566.9 130.1 564.6 126.9 560.7 126.7 556.7 126.3 552.9 127.1M555.3 108.7C552.4 112.3 553.1 116.9 556.6 120.1 561.2 120.2 564.4 123.6 568.9 124.7M477.9 171.8C473.9 172.7 469.9 173.3 466.5 175.5 462.6 174.2 459.4 176.6 455.6 178.2M615.8 161.2C620.2 161.4 624.5 162.3 627.4 165.6 631.7 166.8 633.8 170.7 636.6 174.1M557.1 73.3C559.4 75.8 559.8 79.2 558.1 82.2 556.2 85.1 553.3 86.9 552.8 90.3M556.9 147.7C554.1 145.5 552.2 142.5 552.0 138.9 552.7 135.4 555.7 133.4 559.3 132.8M521.2 135.6C524.7 136.8 528.3 138.1 529.8 141.5 530.8 145.1 531.9 148.7 534.6 151.3M608.7 138.4C610.9 141.2 613.5 143.7 616.0 146.3 619.6 146.2 622.4 143.8 625.4 141.9M514.8 134.2C515.7 132.0 515.5 129.7 516.3 127.5 515.7 125.2 514.3 123.4 513.0 121.5M517.8 164.6C516.1 162.0 517.1 159.0 518.2 156.0 520.6 154.0 523.6 155.0 526.5 153.7M467.2 178.3C467.9 180.4 467.4 182.6 467.5 184.8 467.7 187.0 469.0 188.8 468.0 190.8M560.9 113.6C562.7 115.3 562.8 117.8 564.6 119.4 564.8 121.9 563.0 123.6 562.3 125.9M449.6 163.8C448.5 160.9 450.1 158.3 452.3 156.2 455.0 154.9 457.6 156.5 459.9 158.4M600.1 153.3C595.9 154.8 594.8 159.1 597.1 162.9 601.1 164.9 605.6 164.3 609.0 161.4M522.2 142.1C521.0 140.5 520.6 138.5 519.9 136.5 518.2 135.3 517.2 133.5 515.7 132.1M543.9 90.4C546.4 93.4 550.1 94.3 553.6 92.7 556.4 90.2 556.0 86.4 553.2 83.8M562.2 106.1C557.9 106.4 555.7 110.0 552.0 112.2 548.1 110.6 544.0 112.1 542.3 116.0M613.2 165.7C617.8 166.3 621.3 169.4 620.7 174.1M546.1 159.9C542.8 157.2 540.8 153.4 536.5 153.1 532.8 150.9 530.9 147.0 529.4 143.0M457.4 182.8C457.4 180.5 457.6 178.2 459.0 176.4 459.2 174.2 458.2 172.1 456.2 171.2M550.3 104.3C550.8 108.2 550.3 112.2 552.7 115.3 556.6 115.4 559.8 113.1 563.3 111.3M551.0 170.8C551.9 166.0 555.5 162.6 557.1 157.9 561.3 155.4 561.9 150.5 563.6 145.9M529.9 96.5C527.7 93.6 527.3 90.1 529.9 87.5 532.9 85.6 535.8 83.4 537.9 80.6M534.0 133.6C538.5 131.6 539.9 126.8 544.5 124.9 549.5 124.9 554.4 126.0 557.8 129.5M560.0 160.2C562.3 161.3 563.1 163.8 562.6 166.3 561.1 168.4 558.5 168.6 556.7 170.4M615.2 130.1C613.2 131.4 610.8 131.3 608.4 130.9 607.4 128.7 605.6 127.1 603.7 125.6M627.0 161.5C622.4 160.9 619.6 157.2 618.8 152.7 617.9 148.2 617.2 143.6 620.0 139.9M618.9 135.6C614.3 135.0 612.0 131.0 607.5 130.1 604.3 126.8 602.6 122.5 600.9 118.2M579.0 106.1C581.5 105.2 583.1 103.1 583.5 100.4 584.7 98.1 584.8 95.4 583.7 92.9M595.8 87.1C594.7 91.4 592.3 95.0 590.0 98.7 586.7 101.6 582.4 102.5 580.0 106.1M464.0 187.6C461.2 187.0 459.4 184.6 458.1 182.0 455.4 180.9 452.5 180.6 449.7 179.8M549.5 88.5C547.2 88.9 544.9 89.6 542.6 89.1 540.7 87.6 538.4 87.1 536.8 85.4" fill="none" stroke="#8e8e8e" stroke-width="2.2" stroke-linecap="round" opacity="0.65"/><path d="M547.6 125.3C550.9 122.3 553.7 118.8 557.1 115.9 559.2 111.9 563.1 109.9 567.6 109.7M564.6 185.8C565.1 190.3 562.4 193.9 562.3 198.5M580.4 144.6C580.6 147.4 581.4 150.0 583.7 151.5 584.5 154.1 583.5 156.7 583.0 159.4M623.4 171.2C627.5 173.0 630.8 175.9 634.3 178.6M576.5 75.2C574.3 77.0 573.4 79.7 574.5 82.4 575.1 85.2 576.7 87.6 578.2 90.0M602.6 127.9C605.7 130.5 608.3 133.7 612.0 135.4 616.1 135.9 619.8 137.5 622.6 140.5M544.7 206.0C540.2 206.7 536.1 205.0 532.2 207.0 528.2 204.9 525.5 201.4 521.9 198.7M629.6 153.6C633.5 150.5 636.2 146.4 641.1 146.3M566.7 193.0C569.7 194.0 572.6 192.5 573.8 189.5 576.1 187.3 576.8 184.1 578.1 181.2M594.2 98.9C592.8 96.8 593.3 94.4 591.6 92.6 591.6 90.1 592.1 87.7 593.7 85.8M486.6 94.5C487.7 97.9 486.3 101.2 485.5 104.7 486.0 108.3 486.1 111.8 484.1 114.8M545.0 167.9C547.8 168.1 550.5 168.6 553.3 168.8 556.0 169.7 558.8 169.2 561.5 169.8M499.8 134.5C502.8 131.3 506.7 129.4 510.9 128.9 515.1 127.8 519.0 126.0 523.0 127.6M552.4 110.2C549.7 108.4 546.8 109.5 543.7 108.8 541.3 106.6 541.5 103.5 539.9 100.7M629.7 154.3C631.7 157.6 633.7 160.8 632.2 164.3 631.3 167.9 632.5 171.6 632.8 175.3M508.2 125.8C511.7 128.5 515.9 130.1 519.7 127.8 524.2 127.9 527.9 130.5 529.9 134.4M506.9 185.4C503.9 182.1 504.4 177.7 507.2 174.3 508.1 170.0 506.3 166.0 506.1 161.6M516.3 141.6C514.6 140.1 514.7 137.9 515.3 135.7 517.3 134.7 519.5 135.1 520.6 137.1M560.5 104.3C562.9 101.0 566.7 99.3 570.4 101.0 572.0 104.8 569.8 108.2 570.2 112.3M587.2 115.1C583.7 112.6 579.4 111.5 575.1 112.2 570.7 112.0 566.3 111.9 563.9 108.2M521.9 129.9C521.0 128.0 519.7 126.4 517.8 125.4 515.7 125.4 513.6 125.6 511.5 126.0M530.8 125.0C526.5 125.8 522.3 124.9 518.7 127.3 515.9 130.6 513.5 134.2 514.9 138.3M570.5 78.8C572.6 81.5 576.0 82.1 578.6 84.3 579.0 87.7 578.4 91.0 579.3 94.3M473.8 164.9C475.5 162.7 478.1 161.8 480.5 160.4 482.1 158.2 481.7 155.5 480.8 152.8M482.3 190.4C486.0 187.5 487.8 183.2 488.1 178.5 486.3 174.2 481.7 173.3 477.1 172.3M584.9 126.7C587.1 130.8 591.6 131.6 595.6 134.0 600.2 133.9 604.7 134.6 608.6 137.0M592.4 105.0C589.5 105.1 586.8 105.9 583.9 105.6 582.5 103.1 582.4 100.2 580.0 98.6M524.7 168.6C521.2 168.4 517.7 167.9 514.5 169.4 513.2 172.7 510.7 175.2 507.8 177.2M526.4 162.6C527.6 164.4 529.5 165.5 531.6 165.2 533.4 163.9 535.5 163.3 537.2 162.1M455.3 174.0C455.2 171.4 454.3 169.0 455.1 166.6 453.6 164.6 453.2 162.1 451.8 159.9M455.4 167.9C456.4 163.4 455.4 158.9 453.6 154.7M467.4 150.7C465.3 152.6 465.8 155.3 465.3 158.0 462.9 159.4 460.4 158.1 459.8 155.4M575.9 122.1C579.9 123.9 584.0 125.3 587.6 122.8 591.6 121.1 594.3 117.7 593.4 113.4M492.7 133.6C495.3 136.5 499.2 137.0 503.1 137.5 505.9 134.7 509.4 132.8 512.3 130.2M499.5 148.8C498.2 151.1 495.8 152.0 493.2 152.2 491.0 150.9 490.6 148.4 491.5 145.9" fill="none" stroke="#c4c4c4" stroke-width="2.6" stroke-linecap="round" opacity="0.6"/></g><path d="M357.3 98C357.6 120 357.0 150 357.4 172" stroke="#8a8a8a" stroke-width="1.2" fill="none"/><circle cx="94.6" cy="156.2" r="2.1" fill="#006400"/><circle cx="119.6" cy="176.3" r="2.1" fill="#006400"/><circle cx="147.9" cy="162.3" r="2.1" fill="#006400"/><circle cx="152.9" cy="122.6" r="2.1" fill="#006400"/><circle cx="139.8" cy="116.6" r="2.1" fill="#006400"/><circle cx="96.0" cy="97.7" r="2.1" fill="#006400"/><circle cx="104.8" cy="168.3" r="2.1" fill="#006400"/><circle cx="104.5" cy="135.7" r="2.1" fill="#006400"/><circle cx="163.9" cy="97.4" r="2.1" fill="#006400"/><circle cx="120.9" cy="138.9" r="2.1" fill="#006400"/><circle cx="139.2" cy="153.4" r="2.1" fill="#006400"/><circle cx="140.0" cy="158.2" r="2.1" fill="#006400"/><circle cx="124.4" cy="130.9" r="2.1" fill="#006400"/><circle cx="159.4" cy="132.5" r="2.1" fill="#006400"/><circle cx="128.4" cy="91.4" r="2.1" fill="#006400"/><circle cx="151.0" cy="179.7" r="2.1" fill="#006400"/><circle cx="132.6" cy="115.5" r="2.1" fill="#006400"/><circle cx="179.4" cy="109.0" r="2.1" fill="#006400"/><circle cx="136.2" cy="118.9" r="2.1" fill="#006400"/><circle cx="128.9" cy="149.9" r="2.1" fill="#006400"/><circle cx="101.4" cy="117.8" r="2.1" fill="#006400"/><circle cx="130.6" cy="156.8" r="2.1" fill="#006400"/><circle cx="174.1" cy="114.0" r="2.1" fill="#006400"/><circle cx="103.4" cy="111.0" r="2.1" fill="#006400"/><circle cx="101.0" cy="100.5" r="2.1" fill="#006400"/><circle cx="93.4" cy="125.7" r="2.1" fill="#006400"/><circle cx="100.9" cy="167.5" r="2.1" fill="#006400"/><circle cx="91.5" cy="105.4" r="2.1" fill="#006400"/><circle cx="128.0" cy="129.6" r="2.1" fill="#006400"/><circle cx="120.3" cy="153.3" r="2.1" fill="#006400"/><circle cx="94.3" cy="121.2" r="2.1" fill="#006400"/><circle cx="122.2" cy="141.2" r="2.1" fill="#006400"/><circle cx="162.0" cy="166.0" r="2.1" fill="#006400"/><circle cx="152.9" cy="153.2" r="2.1" fill="#006400"/><circle cx="123.3" cy="128.9" r="2.1" fill="#006400"/><circle cx="123.3" cy="106.6" r="2.1" fill="#006400"/><circle cx="117.1" cy="153.9" r="2.1" fill="#006400"/><circle cx="133.0" cy="158.5" r="2.1" fill="#006400"/><circle cx="120.1" cy="148.1" r="2.1" fill="#006400"/><circle cx="149.3" cy="145.9" r="2.1" fill="#006400"/><circle cx="69.6" cy="146.9" r="2.1" fill="#006400"/><circle cx="107.0" cy="104.8" r="2.1" fill="#006400"/><circle cx="116.1" cy="119.2" r="2.1" fill="#006400"/><circle cx="110.9" cy="167.5" r="2.1" fill="#006400"/><circle cx="152.5" cy="129.5" r="2.1" fill="#006400"/><circle cx="128.6" cy="168.2" r="2.1" fill="#006400"/><circle cx="155.2" cy="169.7" r="2.1" fill="#006400"/><circle cx="116.7" cy="147.8" r="2.1" fill="#006400"/><circle cx="97.1" cy="159.9" r="2.1" fill="#006400"/><circle cx="86.2" cy="115.7" r="2.1" fill="#006400"/><circle cx="118.3" cy="166.8" r="2.1" fill="#006400"/><circle cx="101.3" cy="152.8" r="2.1" fill="#006400"/><circle cx="135.5" cy="161.6" r="2.1" fill="#006400"/><circle cx="123.6" cy="143.0" r="2.1" fill="#006400"/><circle cx="99.9" cy="116.2" r="2.1" fill="#006400"/><circle cx="136.4" cy="116.3" r="2.1" fill="#006400"/><circle cx="97.4" cy="115.8" r="2.1" fill="#006400"/><circle cx="113.8" cy="88.2" r="2.1" fill="#006400"/><circle cx="104.6" cy="160.4" r="2.1" fill="#006400"/><circle cx="110.3" cy="165.2" r="2.1" fill="#006400"/><circle cx="95.5" cy="122.9" r="2.1" fill="#006400"/><circle cx="96.8" cy="128.1" r="2.1" fill="#006400"/><circle cx="172.3" cy="129.4" r="2.1" fill="#006400"/><circle cx="134.5" cy="101.0" r="2.1" fill="#006400"/><circle cx="145.1" cy="151.1" r="2.1" fill="#006400"/><circle cx="137.4" cy="116.0" r="2.1" fill="#006400"/><circle cx="143.4" cy="138.1" r="2.1" fill="#006400"/><circle cx="133.6" cy="183.9" r="2.1" fill="#006400"/><circle cx="98.5" cy="147.7" r="2.1" fill="#006400"/><circle cx="127.6" cy="140.9" r="2.1" fill="#006400"/><circle cx="147.7" cy="178.1" r="2.1" fill="#006400"/><circle cx="143.4" cy="194.3" r="2.1" fill="#006400"/><circle cx="144.7" cy="148.9" r="2.1" fill="#006400"/><circle cx="181.7" cy="204.1" r="2.1" fill="#006400"/><circle cx="170.7" cy="193.3" r="2.1" fill="#006400"/><circle cx="162.5" cy="172.1" r="2.1" fill="#006400"/><circle cx="102.8" cy="162.4" r="2.1" fill="#006400"/><circle cx="141.2" cy="167.4" r="2.1" fill="#006400"/><circle cx="174.2" cy="167.5" r="2.1" fill="#006400"/><circle cx="186.2" cy="197.4" r="2.1" fill="#006400"/><circle cx="150.1" cy="182.6" r="2.1" fill="#006400"/><circle cx="147.4" cy="187.1" r="2.1" fill="#006400"/><circle cx="124.4" cy="182.7" r="2.1" fill="#006400"/><circle cx="181.6" cy="200.5" r="2.1" fill="#006400"/><circle cx="152.6" cy="168.8" r="2.1" fill="#006400"/><circle cx="151.6" cy="176.8" r="2.1" fill="#006400"/><circle cx="187.3" cy="207.5" r="2.1" fill="#006400"/><circle cx="178.2" cy="183.8" r="2.1" fill="#006400"/><circle cx="127.3" cy="184.1" r="2.1" fill="#006400"/><circle cx="180.4" cy="195.9" r="2.1" fill="#006400"/><circle cx="151.4" cy="187.7" r="2.1" fill="#006400"/><circle cx="193.1" cy="177.5" r="2.1" fill="#006400"/><circle cx="153.2" cy="184.1" r="2.1" fill="#006400"/><circle cx="131.6" cy="144.3" r="2.1" fill="#006400"/><circle cx="174.3" cy="172.1" r="2.1" fill="#006400"/><circle cx="141.3" cy="172.7" r="2.1" fill="#006400"/><circle cx="195.1" cy="163.7" r="2.1" fill="#006400"/><circle cx="196.1" cy="203.4" r="2.1" fill="#006400"/><circle cx="170.2" cy="198.1" r="2.1" fill="#006400"/><circle cx="125.7" cy="177.8" r="2.1" fill="#006400"/><circle cx="127.0" cy="188.3" r="2.1" fill="#006400"/><circle cx="184.9" cy="181.0" r="2.1" fill="#006400"/><circle cx="144.7" cy="171.6" r="2.1" fill="#006400"/><circle cx="160.5" cy="198.3" r="2.1" fill="#006400"/><circle cx="144.6" cy="183.5" r="2.1" fill="#006400"/><circle cx="120.5" cy="85.5" r="2.1" fill="#00ff00"/><circle cx="129.0" cy="93.5" r="2.1" fill="#00ff00"/><circle cx="112.8" cy="83.9" r="2.1" fill="#00ff00"/><circle cx="102.4" cy="96.0" r="2.1" fill="#00ff00"/><circle cx="111.3" cy="97.6" r="2.1" fill="#00ff00"/><circle cx="115.2" cy="91.6" r="2.1" fill="#00ff00"/><circle cx="113.2" cy="83.7" r="2.1" fill="#00ff00"/><circle cx="104.8" cy="87.3" r="2.1" fill="#00ff00"/><circle cx="117.0" cy="91.9" r="2.1" fill="#00ff00"/><circle cx="114.2" cy="89.5" r="2.1" fill="#00ff00"/><circle cx="120.3" cy="85.4" r="2.1" fill="#00ff00"/><circle cx="117.6" cy="91.8" r="2.1" fill="#00ff00"/><circle cx="116.9" cy="89.4" r="2.1" fill="#00ff00"/><circle cx="107.8" cy="92.2" r="2.1" fill="#00ff00"/><circle cx="97.9" cy="104.2" r="2.1" fill="#00ff00"/><circle cx="126.6" cy="82.7" r="2.1" fill="#00ff00"/><circle cx="109.8" cy="88.4" r="2.1" fill="#00ff00"/><circle cx="111.4" cy="99.8" r="2.1" fill="#00ff00"/><circle cx="122.5" cy="83.5" r="2.1" fill="#00ff00"/><circle cx="100.0" cy="96.1" r="2.1" fill="#00ff00"/><circle cx="123.5" cy="87.2" r="2.1" fill="#00ff00"/><circle cx="112.7" cy="88.7" r="2.1" fill="#00ff00"/><circle cx="121.2" cy="92.5" r="2.1" fill="#00ff00"/><circle cx="111.8" cy="91.0" r="2.1" fill="#00ff00"/><circle cx="121.6" cy="92.2" r="2.1" fill="#00ff00"/><circle cx="111.1" cy="89.8" r="2.1" fill="#00ff00"/><circle cx="118.1" cy="87.9" r="2.1" fill="#00ff00"/><circle cx="125.1" cy="92.9" r="2.1" fill="#00ff00"/><circle cx="120.9" cy="82.6" r="2.1" fill="#00ff00"/><circle cx="108.8" cy="86.0" r="2.1" fill="#00ff00"/><circle cx="113.3" cy="100.6" r="2.1" fill="#00ff00"/><circle cx="116.0" cy="94.0" r="2.1" fill="#00ff00"/><circle cx="100.1" cy="94.4" r="2.1" fill="#00ff00"/><circle cx="116.4" cy="79.6" r="2.1" fill="#00ff00"/><circle cx="116.9" cy="87.4" r="2.1" fill="#00ff00"/><circle cx="117.0" cy="92.4" r="2.1" fill="#00ff00"/><circle cx="116.3" cy="92.2" r="2.1" fill="#00ff00"/><circle cx="109.8" cy="93.5" r="2.1" fill="#00ff00"/><circle cx="119.4" cy="79.8" r="2.1" fill="#00ff00"/><circle cx="119.7" cy="76.0" r="2.1" fill="#00ff00"/><circle cx="119.8" cy="82.9" r="2.1" fill="#00ff00"/><circle cx="108.0" cy="96.4" r="2.1" fill="#00ff00"/><circle cx="124.6" cy="88.9" r="2.1" fill="#00ff00"/><circle cx="103.2" cy="88.7" r="2.1" fill="#00ff00"/><circle cx="109.9" cy="91.3" r="2.1" fill="#00ff00"/><circle cx="113.0" cy="110.0" r="2.1" fill="#00ff00"/><circle cx="125.7" cy="96.4" r="2.1" fill="#00ff00"/><circle cx="113.7" cy="121.7" r="2.1" fill="#00ff00"/><circle cx="124.7" cy="102.3" r="2.1" fill="#00ff00"/><circle cx="102.0" cy="109.5" r="2.1" fill="#00ff00"/><circle cx="105.9" cy="97.9" r="2.1" fill="#00ff00"/><circle cx="125.2" cy="120.1" r="2.1" fill="#00ff00"/><circle cx="100.5" cy="99.3" r="2.1" fill="#00ff00"/><circle cx="95.4" cy="111.9" r="2.1" fill="#00ff00"/><circle cx="116.7" cy="105.5" r="2.1" fill="#00ff00"/><circle cx="107.1" cy="106.6" r="2.1" fill="#00ff00"/><circle cx="136.2" cy="101.3" r="2.1" fill="#00ff00"/><circle cx="109.0" cy="102.7" r="2.1" fill="#00ff00"/><circle cx="118.2" cy="106.5" r="2.1" fill="#00ff00"/><circle cx="106.5" cy="96.4" r="2.1" fill="#00ff00"/><circle cx="106.1" cy="119.2" r="2.1" fill="#00ff00"/><circle cx="106.5" cy="92.0" r="2.1" fill="#00ff00"/><circle cx="103.6" cy="108.0" r="2.1" fill="#00ff00"/><circle cx="108.7" cy="98.1" r="2.1" fill="#00ff00"/><circle cx="116.3" cy="103.4" r="2.1" fill="#00ff00"/><circle cx="120.7" cy="108.3" r="2.1" fill="#00ff00"/><circle cx="112.8" cy="123.4" r="2.1" fill="#00ff00"/><circle cx="99.7" cy="111.6" r="2.1" fill="#00ff00"/><circle cx="99.6" cy="107.1" r="2.1" fill="#00ff00"/><circle cx="120.1" cy="106.4" r="2.1" fill="#00ff00"/><circle cx="107.2" cy="101.5" r="2.1" fill="#00ff00"/><circle cx="115.2" cy="109.0" r="2.1" fill="#00ff00"/><circle cx="129.3" cy="111.7" r="2.1" fill="#00ff00"/><circle cx="88.5" cy="106.7" r="2.1" fill="#00ff00"/><circle cx="97.9" cy="108.8" r="2.1" fill="#00ff00"/><circle cx="98.1" cy="133.6" r="2.1" fill="#00ff00"/><circle cx="89.8" cy="143.7" r="2.1" fill="#00ff00"/><circle cx="98.3" cy="132.6" r="2.1" fill="#00ff00"/><circle cx="107.6" cy="177.6" r="2.1" fill="#00ff00"/><circle cx="87.6" cy="130.5" r="2.1" fill="#00ff00"/><circle cx="105.4" cy="134.2" r="2.1" fill="#00ff00"/><circle cx="85.4" cy="113.2" r="2.1" fill="#00ff00"/><circle cx="93.4" cy="141.0" r="2.1" fill="#00ff00"/><circle cx="83.3" cy="117.4" r="2.1" fill="#00ff00"/><circle cx="119.2" cy="125.1" r="2.1" fill="#00ff00"/><circle cx="140.0" cy="125.3" r="2.1" fill="#ff0000"/><circle cx="128.9" cy="117.7" r="2.1" fill="#ff0000"/><circle cx="147.2" cy="130.5" r="2.1" fill="#ff0000"/><circle cx="152.4" cy="126.9" r="2.1" fill="#ff0000"/><circle cx="147.6" cy="139.9" r="2.1" fill="#ff0000"/><circle cx="149.4" cy="145.2" r="2.1" fill="#ff0000"/><circle cx="144.1" cy="139.0" r="2.1" fill="#ff0000"/><circle cx="159.4" cy="123.2" r="2.1" fill="#ff0000"/><circle cx="140.4" cy="127.3" r="2.1" fill="#ff0000"/><circle cx="150.8" cy="123.7" r="2.1" fill="#ff0000"/><circle cx="149.9" cy="130.5" r="2.1" fill="#ff0000"/><circle cx="143.1" cy="129.5" r="2.1" fill="#ff0000"/><circle cx="141.6" cy="138.3" r="2.1" fill="#ff0000"/><circle cx="137.7" cy="129.4" r="2.1" fill="#ff0000"/><circle cx="134.7" cy="137.6" r="2.1" fill="#ff0000"/><circle cx="137.2" cy="120.5" r="2.1" fill="#ff0000"/><circle cx="138.5" cy="129.8" r="2.1" fill="#ff0000"/><circle cx="142.1" cy="134.7" r="2.1" fill="#ff0000"/><circle cx="137.9" cy="132.5" r="2.1" fill="#ff0000"/><circle cx="135.3" cy="140.2" r="2.1" fill="#ff0000"/><circle cx="145.2" cy="133.8" r="2.1" fill="#ff0000"/><circle cx="137.6" cy="136.7" r="2.1" fill="#ff0000"/><circle cx="139.5" cy="122.7" r="2.1" fill="#ff0000"/><circle cx="154.8" cy="123.8" r="2.1" fill="#ff0000"/><circle cx="142.4" cy="136.7" r="2.1" fill="#ff0000"/><circle cx="144.2" cy="118.2" r="2.1" fill="#ff0000"/><circle cx="141.9" cy="122.3" r="2.1" fill="#ff0000"/><circle cx="140.7" cy="135.3" r="2.1" fill="#ff0000"/><circle cx="131.1" cy="125.0" r="2.1" fill="#ff0000"/><circle cx="143.0" cy="128.8" r="2.1" fill="#ff0000"/><circle cx="145.9" cy="99.2" r="2.1" fill="#ff0000"/><circle cx="165.2" cy="121.7" r="2.1" fill="#ff0000"/><circle cx="168.3" cy="109.4" r="2.1" fill="#ff0000"/><circle cx="154.5" cy="82.7" r="2.1" fill="#ff0000"/><circle cx="192.4" cy="129.6" r="2.1" fill="#ff0000"/><circle cx="158.8" cy="142.6" r="2.1" fill="#ff0000"/><circle cx="174.2" cy="151.6" r="2.1" fill="#ff0000"/><circle cx="167.3" cy="101.3" r="2.1" fill="#ff0000"/><circle cx="156.4" cy="132.1" r="2.1" fill="#ff0000"/><circle cx="165.6" cy="150.4" r="2.1" fill="#ff0000"/><circle cx="162.9" cy="128.8" r="2.1" fill="#ff0000"/><circle cx="149.0" cy="121.2" r="2.1" fill="#ff0000"/><circle cx="167.7" cy="113.0" r="2.1" fill="#ff0000"/><circle cx="187.0" cy="93.1" r="2.1" fill="#ff0000"/><circle cx="173.7" cy="152.9" r="2.1" fill="#ff0000"/><circle cx="167.5" cy="187.4" r="2.1" fill="#ff0000"/><circle cx="188.2" cy="186.5" r="2.1" fill="#ff0000"/><circle cx="202.7" cy="191.8" r="2.1" fill="#ff0000"/><circle cx="171.9" cy="179.9" r="2.1" fill="#ff0000"/><circle cx="179.4" cy="166.8" r="2.1" fill="#ff0000"/><circle cx="158.3" cy="181.4" r="2.1" fill="#ff0000"/><circle cx="203.4" cy="164.7" r="2.1" fill="#ff0000"/><circle cx="186.3" cy="186.5" r="2.1" fill="#ff0000"/><circle cx="204.2" cy="170.8" r="2.1" fill="#ff0000"/><circle cx="203.7" cy="179.4" r="2.1" fill="#ff0000"/><circle cx="172.5" cy="158.2" r="2.1" fill="#ff0000"/><circle cx="184.4" cy="197.2" r="2.1" fill="#ff0000"/><circle cx="173.3" cy="168.6" r="2.1" fill="#ff0000"/><circle cx="185.4" cy="191.4" r="2.1" fill="#ff0000"/><circle cx="167.6" cy="172.6" r="2.1" fill="#ff0000"/><circle cx="149.7" cy="183.4" r="2.1" fill="#ff0000"/><circle cx="211.1" cy="185.1" r="2.1" fill="#ff0000"/><circle cx="166.4" cy="171.4" r="2.1" fill="#ff0000"/><circle cx="176.8" cy="195.7" r="2.1" fill="#ff0000"/><circle cx="191.7" cy="191.7" r="2.1" fill="#ff0000"/><circle cx="174.3" cy="190.3" r="2.1" fill="#ff0000"/><circle cx="188.0" cy="183.4" r="2.1" fill="#ff0000"/><circle cx="187.5" cy="179.4" r="2.1" fill="#ff0000"/><circle cx="192.7" cy="173.8" r="2.1" fill="#ff0000"/><circle cx="159.6" cy="186.2" r="2.1" fill="#ff0000"/><circle cx="190.5" cy="190.4" r="2.1" fill="#ff0000"/><circle cx="166.9" cy="177.6" r="2.1" fill="#ff0000"/><circle cx="191.9" cy="150.7" r="2.1" fill="#ff0000"/><circle cx="206.7" cy="177.1" r="2.1" fill="#ff0000"/><circle cx="170.5" cy="168.5" r="2.1" fill="#ff0000"/><circle cx="198.9" cy="181.3" r="2.1" fill="#ff0000"/><circle cx="203.6" cy="175.6" r="2.1" fill="#ff0000"/><circle cx="196.0" cy="172.1" r="2.1" fill="#ff0000"/><circle cx="158.5" cy="150.9" r="2.1" fill="#ff0000"/><circle cx="193.3" cy="180.0" r="2.1" fill="#ff0000"/><circle cx="176.5" cy="182.9" r="2.1" fill="#ff0000"/><circle cx="185.1" cy="199.8" r="2.1" fill="#ff0000"/><circle cx="166.9" cy="193.9" r="2.1" fill="#ff0000"/><circle cx="148.9" cy="182.8" r="2.1" fill="#ff0000"/><circle cx="198.3" cy="176.8" r="2.1" fill="#ff0000"/><circle cx="169.5" cy="181.4" r="2.1" fill="#ff0000"/><circle cx="191.6" cy="182.6" r="2.1" fill="#ff0000"/><circle cx="166.7" cy="184.2" r="2.1" fill="#ff0000"/><circle cx="179.5" cy="180.4" r="2.1" fill="#ff0000"/><circle cx="190.0" cy="183.8" r="2.1" fill="#ff0000"/><circle cx="200.6" cy="177.7" r="2.1" fill="#ff0000"/><circle cx="182.5" cy="177.5" r="2.1" fill="#ff0000"/><circle cx="153.5" cy="181.7" r="2.1" fill="#ff0000"/><circle cx="207.3" cy="190.4" r="2.1" fill="#ff0000"/><circle cx="192.1" cy="150.8" r="2.1" fill="#ff0000"/><circle cx="176.7" cy="168.0" r="2.1" fill="#ff0000"/><circle cx="195.7" cy="175.9" r="2.1" fill="#ff0000"/><circle cx="203.7" cy="185.1" r="2.1" fill="#ff0000"/><circle cx="207.7" cy="150.0" r="2.1" fill="#ff0000"/><circle cx="175.6" cy="174.8" r="2.1" fill="#ff0000"/><circle cx="177.7" cy="180.0" r="2.1" fill="#ff0000"/><circle cx="162.8" cy="176.9" r="2.1" fill="#ff0000"/><circle cx="191.5" cy="189.8" r="2.1" fill="#ff0000"/><circle cx="186.3" cy="188.7" r="2.1" fill="#ff0000"/><circle cx="172.1" cy="164.7" r="2.1" fill="#ff0000"/><circle cx="176.5" cy="187.0" r="2.1" fill="#ff0000"/><circle cx="171.9" cy="165.1" r="2.1" fill="#ff0000"/><circle cx="190.7" cy="179.6" r="2.1" fill="#ff0000"/><circle cx="179.8" cy="179.8" r="2.1" fill="#ff0000"/><circle cx="173.7" cy="186.8" r="2.1" fill="#ff0000"/><circle cx="164.8" cy="182.6" r="2.1" fill="#ff0000"/><circle cx="203.0" cy="188.1" r="2.1" fill="#ff0000"/><circle cx="209.1" cy="184.8" r="2.1" fill="#ff0000"/><circle cx="165.3" cy="177.1" r="2.1" fill="#ff0000"/><circle cx="142.0" cy="161.0" r="2.1" fill="#1aa6c6"/><circle cx="163.8" cy="168.4" r="2.1" fill="#1aa6c6"/><circle cx="156.1" cy="156.0" r="2.1" fill="#1aa6c6"/><circle cx="148.0" cy="173.4" r="2.1" fill="#1aa6c6"/><circle cx="145.3" cy="162.8" r="2.1" fill="#1aa6c6"/><circle cx="172.6" cy="137.0" r="2.1" fill="#1aa6c6"/><circle cx="151.4" cy="123.8" r="2.1" fill="#1aa6c6"/><circle cx="169.3" cy="162.9" r="2.1" fill="#1aa6c6"/><circle cx="123.0" cy="169.4" r="2.1" fill="#1aa6c6"/><circle cx="139.6" cy="147.7" r="2.1" fill="#1aa6c6"/><circle cx="202.0" cy="185.9" r="2.1" fill="#1aa6c6"/><circle cx="205.3" cy="110.3" r="2.1" fill="#1aa6c6"/><circle cx="102.6" cy="132.4" r="2.1" fill="#1aa6c6"/><circle cx="162.0" cy="146.6" r="2.1" fill="#1aa6c6"/><circle cx="147.9" cy="179.8" r="2.1" fill="#1aa6c6"/><circle cx="176.0" cy="139.7" r="2.1" fill="#1aa6c6"/><circle cx="136.6" cy="154.4" r="2.1" fill="#1aa6c6"/><circle cx="146.4" cy="136.5" r="2.1" fill="#1aa6c6"/><circle cx="135.7" cy="150.5" r="2.1" fill="#1aa6c6"/><circle cx="151.3" cy="116.2" r="2.1" fill="#1aa6c6"/><circle cx="126.6" cy="177.1" r="2.1" fill="#1aa6c6"/><circle cx="151.1" cy="155.2" r="2.1" fill="#1aa6c6"/><circle cx="153.8" cy="143.3" r="2.1" fill="#1aa6c6"/><circle cx="171.7" cy="158.7" r="2.1" fill="#1aa6c6"/><circle cx="196.8" cy="159.3" r="2.1" fill="#1aa6c6"/><circle cx="201.5" cy="140.0" r="2.1" fill="#1aa6c6"/><circle cx="150.5" cy="195.3" r="2.1" fill="#1aa6c6"/><circle cx="150.5" cy="146.8" r="2.1" fill="#1aa6c6"/><circle cx="123.9" cy="137.9" r="2.1" fill="#1aa6c6"/><circle cx="173.6" cy="197.1" r="2.1" fill="#1aa6c6"/><circle cx="136.8" cy="145.7" r="2.1" fill="#1aa6c6"/><circle cx="147.7" cy="133.5" r="2.1" fill="#1aa6c6"/><circle cx="159.9" cy="187.5" r="2.1" fill="#1aa6c6"/><circle cx="222.7" cy="161.9" r="2.1" fill="#1aa6c6"/><circle cx="131.3" cy="146.7" r="2.1" fill="#1aa6c6"/><circle cx="144.5" cy="123.9" r="2.1" fill="#1aa6c6"/><circle cx="173.8" cy="140.9" r="2.1" fill="#1aa6c6"/><circle cx="175.1" cy="146.6" r="2.1" fill="#1aa6c6"/><circle cx="157.6" cy="172.5" r="2.1" fill="#1aa6c6"/><circle cx="162.8" cy="155.7" r="2.1" fill="#1aa6c6"/><circle cx="167.6" cy="133.7" r="2.1" fill="#1aa6c6"/><circle cx="130.1" cy="117.4" r="2.1" fill="#1aa6c6"/><circle cx="125.0" cy="150.7" r="2.1" fill="#1aa6c6"/><circle cx="165.3" cy="200.1" r="2.1" fill="#1aa6c6"/><circle cx="199.9" cy="171.0" r="2.1" fill="#1aa6c6"/><circle cx="169.2" cy="193.1" r="2.1" fill="#1aa6c6"/><circle cx="144.6" cy="144.6" r="2.1" fill="#1aa6c6"/><circle cx="164.2" cy="137.8" r="2.1" fill="#1aa6c6"/><circle cx="151.0" cy="140.0" r="2.1" fill="#1aa6c6"/><circle cx="156.9" cy="182.4" r="2.1" fill="#1aa6c6"/><circle cx="200.2" cy="140.1" r="2.1" fill="#1aa6c6"/><circle cx="167.0" cy="183.1" r="2.1" fill="#1aa6c6"/><circle cx="132.3" cy="130.5" r="2.1" fill="#1aa6c6"/><circle cx="165.1" cy="150.1" r="2.1" fill="#1aa6c6"/><circle cx="186.6" cy="174.5" r="2.1" fill="#1aa6c6"/><circle cx="119.0" cy="136.0" r="2.1" fill="#0000ff"/><circle cx="162.8" cy="178.6" r="2.1" fill="#0000ff"/><circle cx="128.8" cy="132.4" r="2.1" fill="#0000ff"/><circle cx="160.9" cy="107.8" r="2.1" fill="#0000ff"/><circle cx="99.4" cy="150.7" r="2.1" fill="#0000ff"/><circle cx="159.6" cy="180.0" r="2.1" fill="#0000ff"/><circle cx="184.4" cy="173.3" r="2.1" fill="#0000ff"/><circle cx="76.7" cy="161.2" r="2.1" fill="#0000ff"/><circle cx="154.5" cy="142.9" r="2.1" fill="#0000ff"/><circle cx="158.0" cy="140.6" r="2.1" fill="#0000ff"/><circle cx="151.7" cy="123.6" r="2.1" fill="#0000ff"/><circle cx="154.3" cy="156.1" r="2.1" fill="#0000ff"/><circle cx="155.4" cy="176.0" r="2.1" fill="#0000ff"/><circle cx="188.9" cy="204.0" r="2.1" fill="#0000ff"/><circle cx="135.2" cy="170.4" r="2.1" fill="#0000ff"/><circle cx="202.3" cy="168.7" r="2.1" fill="#0000ff"/><circle cx="140.3" cy="145.5" r="2.1" fill="#0000ff"/><circle cx="153.5" cy="200.3" r="2.1" fill="#0000ff"/><circle cx="148.9" cy="159.2" r="2.1" fill="#0000ff"/><circle cx="140.0" cy="141.8" r="2.1" fill="#0000ff"/><circle cx="138.8" cy="134.9" r="2.1" fill="#0000ff"/><circle cx="89.5" cy="159.2" r="2.1" fill="#0000ff"/><circle cx="156.9" cy="184.1" r="2.1" fill="#d86b5c"/><circle cx="151.8" cy="187.0" r="2.1" fill="#d86b5c"/><circle cx="167.8" cy="186.3" r="2.1" fill="#d86b5c"/><circle cx="171.4" cy="200.5" r="2.1" fill="#d86b5c"/><circle cx="154.7" cy="163.1" r="2.1" fill="#d86b5c"/><circle cx="209.0" cy="165.9" r="2.1" fill="#d86b5c"/><circle cx="201.8" cy="174.4" r="2.1" fill="#d86b5c"/><circle cx="153.1" cy="183.1" r="2.1" fill="#d86b5c"/><circle cx="168.3" cy="168.2" r="2.1" fill="#d86b5c"/><circle cx="145.3" cy="170.9" r="2.1" fill="#d86b5c"/><circle cx="208.8" cy="169.5" r="2.1" fill="#d86b5c"/><circle cx="145.8" cy="180.9" r="2.1" fill="#d86b5c"/><circle cx="139.7" cy="177.0" r="2.1" fill="#d86b5c"/><circle cx="155.7" cy="188.5" r="2.1" fill="#d86b5c"/><circle cx="181.0" cy="189.7" r="2.1" fill="#d86b5c"/><circle cx="175.6" cy="174.4" r="2.1" fill="#d86b5c"/><circle cx="181.4" cy="183.1" r="2.1" fill="#d86b5c"/><circle cx="155.2" cy="202.3" r="2.1" fill="#d86b5c"/><circle cx="177.8" cy="198.6" r="2.1" fill="#d86b5c"/><circle cx="173.1" cy="189.7" r="2.1" fill="#d86b5c"/><circle cx="143.1" cy="181.5" r="2.1" fill="#d86b5c"/><circle cx="181.6" cy="160.3" r="2.1" fill="#d86b5c"/><circle cx="169.0" cy="150.8" r="2.1" fill="#d86b5c"/><circle cx="143.1" cy="165.6" r="2.1" fill="#d86b5c"/><circle cx="200.9" cy="172.7" r="2.1" fill="#d86b5c"/><circle cx="166.9" cy="187.0" r="2.1" fill="#d86b5c"/><circle cx="143.1" cy="168.1" r="2.1" fill="#d86b5c"/><circle cx="182.5" cy="167.6" r="2.1" fill="#d86b5c"/><circle cx="161.9" cy="167.4" r="2.1" fill="#d86b5c"/><circle cx="138.9" cy="169.9" r="2.1" fill="#d86b5c"/><circle cx="233.9" cy="101.3" r="2.1" fill="#bfff5a"/><circle cx="229.7" cy="120.1" r="2.1" fill="#bfff5a"/><circle cx="232.3" cy="103.9" r="2.1" fill="#bfff5a"/><circle cx="232.3" cy="105.9" r="2.1" fill="#bfff5a"/><circle cx="238.7" cy="165.4" r="2.1" fill="#006400"/><circle cx="256.4" cy="161.1" r="2.1" fill="#006400"/><circle cx="238.6" cy="161.1" r="2.1" fill="#006400"/><circle cx="251.3" cy="160.8" r="2.1" fill="#006400"/><circle cx="246.7" cy="165.9" r="2.1" fill="#006400"/><circle cx="231.4" cy="163.0" r="2.1" fill="#006400"/><circle cx="229.6" cy="149.7" r="2.1" fill="#ff0000"/><circle cx="223.6" cy="147.5" r="2.1" fill="#ff0000"/><circle cx="224.5" cy="157.7" r="2.1" fill="#ff0000"/><circle cx="218.2" cy="141.8" r="2.1" fill="#ff0000"/><circle cx="282.8" cy="155.9" r="2.1" fill="#ff0000"/><circle cx="298.6" cy="117.9" r="2.1" fill="#ff0000"/><circle cx="290.9" cy="112.5" r="2.1" fill="#ff0000"/><circle cx="298.0" cy="119.4" r="2.1" fill="#ff0000"/><circle cx="285.9" cy="155.4" r="2.1" fill="#ff0000"/><circle cx="293.4" cy="134.3" r="2.1" fill="#ff0000"/><circle cx="291.7" cy="112.3" r="2.1" fill="#ff0000"/><circle cx="286.4" cy="149.3" r="2.1" fill="#ff0000"/><circle cx="289.0" cy="114.0" r="2.1" fill="#ff0000"/><circle cx="286.4" cy="132.7" r="2.1" fill="#ff0000"/><circle cx="287.3" cy="164.8" r="2.1" fill="#ff0000"/><circle cx="283.3" cy="133.4" r="2.1" fill="#ff0000"/><circle cx="283.2" cy="140.2" r="2.1" fill="#ff0000"/><circle cx="285.5" cy="146.4" r="2.1" fill="#ff0000"/><circle cx="282.9" cy="130.6" r="2.1" fill="#ff0000"/><circle cx="296.6" cy="157.1" r="2.1" fill="#ff0000"/><circle cx="278.9" cy="137.6" r="2.1" fill="#ff0000"/><circle cx="293.2" cy="130.9" r="2.1" fill="#ff0000"/><circle cx="285.9" cy="114.9" r="2.1" fill="#ff0000"/><circle cx="288.9" cy="115.0" r="2.1" fill="#ff0000"/><circle cx="283.6" cy="149.0" r="2.1" fill="#ff0000"/><circle cx="282.5" cy="121.4" r="2.1" fill="#ff0000"/><circle cx="289.8" cy="142.4" r="2.1" fill="#ff0000"/><circle cx="280.0" cy="152.1" r="2.1" fill="#ff0000"/><circle cx="285.1" cy="140.6" r="2.1" fill="#ff0000"/><circle cx="289.8" cy="148.7" r="2.1" fill="#ff0000"/><circle cx="283.3" cy="166.6" r="2.1" fill="#ff0000"/><circle cx="287.9" cy="135.9" r="2.1" fill="#ff0000"/><circle cx="283.7" cy="161.4" r="2.1" fill="#ff0000"/><circle cx="293.0" cy="181.5" r="2.1" fill="#ff0000"/><circle cx="280.0" cy="149.9" r="2.1" fill="#ff0000"/><circle cx="291.1" cy="134.8" r="2.1" fill="#ff0000"/><circle cx="278.5" cy="135.7" r="2.1" fill="#ff0000"/><circle cx="278.1" cy="158.4" r="2.1" fill="#ff0000"/><circle cx="289.7" cy="137.2" r="2.1" fill="#ff0000"/><circle cx="286.2" cy="145.4" r="2.1" fill="#ff0000"/><circle cx="278.4" cy="153.7" r="2.1" fill="#ff0000"/><circle cx="296.1" cy="125.9" r="2.1" fill="#ff0000"/><circle cx="285.6" cy="159.3" r="2.1" fill="#ff0000"/><circle cx="284.7" cy="135.9" r="2.1" fill="#ff0000"/><circle cx="293.2" cy="166.7" r="2.1" fill="#006400"/><circle cx="292.3" cy="145.6" r="2.1" fill="#006400"/><circle cx="278.8" cy="137.0" r="2.1" fill="#006400"/><circle cx="290.3" cy="115.9" r="2.1" fill="#006400"/><circle cx="299.8" cy="148.3" r="2.1" fill="#006400"/><circle cx="279.9" cy="150.0" r="2.1" fill="#006400"/><circle cx="287.7" cy="147.8" r="2.1" fill="#006400"/><circle cx="285.1" cy="160.9" r="2.1" fill="#006400"/><circle cx="288.9" cy="144.6" r="2.1" fill="#006400"/><circle cx="286.9" cy="177.6" r="2.1" fill="#006400"/><circle cx="293.8" cy="142.9" r="2.1" fill="#006400"/><circle cx="294.6" cy="91.6" r="2.1" fill="#006400"/><circle cx="282.0" cy="129.4" r="2.1" fill="#006400"/><circle cx="284.3" cy="169.2" r="2.1" fill="#006400"/><circle cx="280.6" cy="144.1" r="2.1" fill="#006400"/><circle cx="281.2" cy="173.2" r="2.1" fill="#006400"/><circle cx="279.3" cy="159.9" r="2.1" fill="#006400"/><circle cx="291.0" cy="138.2" r="2.1" fill="#006400"/><circle cx="285.2" cy="159.3" r="2.1" fill="#006400"/><circle cx="280.8" cy="161.2" r="2.1" fill="#006400"/><circle cx="279.6" cy="142.7" r="2.1" fill="#006400"/><circle cx="283.0" cy="136.9" r="2.1" fill="#006400"/><circle cx="295.7" cy="170.9" r="2.1" fill="#006400"/><circle cx="288.2" cy="191.7" r="2.1" fill="#006400"/><circle cx="292.3" cy="147.3" r="2.1" fill="#006400"/><circle cx="291.4" cy="111.5" r="2.1" fill="#006400"/><circle cx="291.8" cy="140.1" r="2.1" fill="#006400"/><circle cx="278.8" cy="146.6" r="2.1" fill="#006400"/><circle cx="281.1" cy="156.2" r="2.1" fill="#006400"/><circle cx="280.0" cy="144.8" r="2.1" fill="#006400"/><circle cx="282.5" cy="153.8" r="2.1" fill="#1aa6c6"/><circle cx="297.5" cy="177.2" r="2.1" fill="#1aa6c6"/><circle cx="283.6" cy="153.4" r="2.1" fill="#1aa6c6"/><circle cx="284.3" cy="123.9" r="2.1" fill="#1aa6c6"/><circle cx="292.2" cy="128.1" r="2.1" fill="#1aa6c6"/><circle cx="288.4" cy="114.7" r="2.1" fill="#1aa6c6"/><circle cx="284.3" cy="132.6" r="2.1" fill="#1aa6c6"/><circle cx="278.4" cy="146.3" r="2.1" fill="#1aa6c6"/><circle cx="280.2" cy="137.6" r="2.1" fill="#1aa6c6"/><circle cx="298.6" cy="166.5" r="2.1" fill="#1aa6c6"/><circle cx="281.7" cy="161.6" r="2.1" fill="#1aa6c6"/><circle cx="286.8" cy="177.5" r="2.1" fill="#1aa6c6"/><circle cx="285.5" cy="173.8" r="2.1" fill="#1aa6c6"/><circle cx="286.5" cy="146.7" r="2.1" fill="#1aa6c6"/><circle cx="290.0" cy="139.0" r="2.1" fill="#1aa6c6"/><circle cx="288.9" cy="132.8" r="2.1" fill="#1aa6c6"/><circle cx="291.1" cy="108.8" r="2.1" fill="#1aa6c6"/><circle cx="299.0" cy="159.7" r="2.1" fill="#1aa6c6"/><circle cx="293.4" cy="166.7" r="2.1" fill="#1aa6c6"/><circle cx="301.1" cy="139.5" r="2.1" fill="#1aa6c6"/><circle cx="284.5" cy="152.4" r="2.1" fill="#1aa6c6"/><circle cx="291.6" cy="121.5" r="2.1" fill="#1aa6c6"/><circle cx="277.4" cy="156.2" r="2.1" fill="#1aa6c6"/><circle cx="286.6" cy="143.8" r="2.1" fill="#1aa6c6"/><circle cx="290.5" cy="128.8" r="2.1" fill="#1aa6c6"/><circle cx="286.4" cy="148.6" r="2.1" fill="#0000ff"/><circle cx="289.4" cy="129.2" r="2.1" fill="#0000ff"/><circle cx="284.6" cy="147.0" r="2.1" fill="#0000ff"/><circle cx="283.5" cy="155.3" r="2.1" fill="#0000ff"/><circle cx="283.4" cy="118.5" r="2.1" fill="#0000ff"/><circle cx="284.3" cy="155.8" r="2.1" fill="#0000ff"/><circle cx="283.3" cy="118.9" r="2.1" fill="#0000ff"/><circle cx="288.2" cy="173.1" r="2.1" fill="#0000ff"/><circle cx="279.9" cy="162.4" r="2.1" fill="#0000ff"/><circle cx="276.6" cy="158.3" r="2.1" fill="#0000ff"/><circle cx="282.0" cy="145.0" r="2.1" fill="#0000ff"/><circle cx="293.7" cy="189.7" r="2.1" fill="#0000ff"/><circle cx="298.9" cy="94.6" r="2.1" fill="#0000ff"/><circle cx="296.1" cy="123.9" r="2.1" fill="#0000ff"/><circle cx="288.2" cy="147.1" r="2.1" fill="#0000ff"/><circle cx="286.6" cy="132.3" r="2.1" fill="#0000ff"/><circle cx="291.5" cy="133.9" r="2.1" fill="#0000ff"/><circle cx="288.9" cy="161.2" r="2.1" fill="#0000ff"/><circle cx="297.6" cy="161.3" r="2.1" fill="#d86b5c"/><circle cx="318.9" cy="170.6" r="2.1" fill="#d86b5c"/><circle cx="297.9" cy="92.6" r="2.1" fill="#d86b5c"/><circle cx="310.3" cy="109.6" r="2.1" fill="#d86b5c"/><circle cx="312.1" cy="163.1" r="2.1" fill="#d86b5c"/><circle cx="299.8" cy="124.8" r="2.1" fill="#d86b5c"/><circle cx="294.3" cy="130.9" r="2.1" fill="#d86b5c"/><circle cx="298.4" cy="114.9" r="2.1" fill="#d86b5c"/><circle cx="296.7" cy="121.2" r="2.1" fill="#d86b5c"/><circle cx="318.6" cy="118.0" r="2.1" fill="#d86b5c"/><circle cx="318.0" cy="139.3" r="2.1" fill="#d86b5c"/><circle cx="320.1" cy="82.0" r="2.1" fill="#d86b5c"/><circle cx="294.4" cy="148.1" r="2.1" fill="#d86b5c"/><circle cx="319.1" cy="121.4" r="2.1" fill="#d86b5c"/><circle cx="305.6" cy="122.2" r="2.1" fill="#d86b5c"/><circle cx="277.7" cy="145.6" r="2.1" fill="#d86b5c"/><circle cx="302.8" cy="136.2" r="2.1" fill="#d86b5c"/><circle cx="287.0" cy="124.4" r="2.1" fill="#d86b5c"/><circle cx="332.3" cy="140.6" r="2.1" fill="#ff0000"/><circle cx="305.2" cy="111.1" r="2.1" fill="#ff0000"/><circle cx="289.8" cy="148.6" r="2.1" fill="#ff0000"/><circle cx="293.2" cy="134.8" r="2.1" fill="#ff0000"/><circle cx="317.5" cy="136.1" r="2.1" fill="#ff0000"/><circle cx="307.9" cy="140.6" r="2.1" fill="#ff0000"/><circle cx="316.1" cy="134.4" r="2.1" fill="#ff0000"/><circle cx="316.4" cy="119.9" r="2.1" fill="#ff0000"/><circle cx="298.4" cy="119.2" r="2.1" fill="#ff0000"/><circle cx="299.4" cy="127.9" r="2.1" fill="#ff0000"/><circle cx="315.6" cy="130.3" r="2.1" fill="#ff0000"/><circle cx="315.9" cy="124.1" r="2.1" fill="#ff0000"/><circle cx="308.8" cy="118.6" r="2.1" fill="#ff0000"/><circle cx="318.7" cy="123.7" r="2.1" fill="#ff0000"/><circle cx="292.3" cy="124.7" r="2.1" fill="#ff0000"/><circle cx="325.5" cy="112.1" r="2.1" fill="#ff0000"/><circle cx="332.5" cy="113.9" r="2.1" fill="#ff0000"/><circle cx="307.4" cy="112.3" r="2.1" fill="#ff0000"/><circle cx="311.3" cy="136.5" r="2.1" fill="#ff0000"/><circle cx="329.3" cy="114.3" r="2.1" fill="#ff0000"/><circle cx="294.2" cy="176.8" r="2.1" fill="#006400"/><circle cx="308.1" cy="178.1" r="2.1" fill="#006400"/><circle cx="309.7" cy="195.6" r="2.1" fill="#006400"/><circle cx="306.6" cy="191.3" r="2.1" fill="#006400"/><circle cx="289.7" cy="191.2" r="2.1" fill="#006400"/><circle cx="327.1" cy="175.6" r="2.1" fill="#006400"/><circle cx="306.3" cy="179.6" r="2.1" fill="#006400"/><circle cx="330.4" cy="159.2" r="2.1" fill="#006400"/><circle cx="331.3" cy="199.1" r="2.1" fill="#006400"/><circle cx="308.2" cy="180.0" r="2.1" fill="#006400"/><circle cx="329.5" cy="166.0" r="2.1" fill="#006400"/><circle cx="319.3" cy="171.4" r="2.1" fill="#006400"/><circle cx="311.6" cy="159.8" r="2.1" fill="#006400"/><circle cx="317.5" cy="196.4" r="2.1" fill="#006400"/><circle cx="330.4" cy="140.4" r="2.1" fill="#1aa6c6"/><circle cx="328.3" cy="162.0" r="2.1" fill="#1aa6c6"/><circle cx="327.9" cy="178.6" r="2.1" fill="#1aa6c6"/><circle cx="315.7" cy="178.6" r="2.1" fill="#1aa6c6"/><circle cx="317.3" cy="175.8" r="2.1" fill="#1aa6c6"/><circle cx="313.7" cy="165.5" r="2.1" fill="#1aa6c6"/><circle cx="343.5" cy="175.7" r="2.1" fill="#1aa6c6"/><circle cx="314.7" cy="174.2" r="2.1" fill="#1aa6c6"/><circle cx="301.4" cy="175.7" r="2.1" fill="#1aa6c6"/><circle cx="302.4" cy="157.9" r="2.1" fill="#1aa6c6"/><circle cx="326.7" cy="192.1" r="2.1" fill="#1aa6c6"/><circle cx="346.5" cy="142.8" r="2.1" fill="#1aa6c6"/><circle cx="326.1" cy="186.9" r="2.1" fill="#1aa6c6"/><circle cx="319.1" cy="128.3" r="2.1" fill="#1aa6c6"/><circle cx="329.2" cy="206.0" r="2.1" fill="#d86b5c"/><circle cx="326.6" cy="221.6" r="2.1" fill="#d86b5c"/><circle cx="310.3" cy="210.4" r="2.1" fill="#d86b5c"/><circle cx="324.0" cy="207.6" r="2.1" fill="#d86b5c"/><circle cx="315.9" cy="219.6" r="2.1" fill="#d86b5c"/><circle cx="323.7" cy="187.5" r="2.1" fill="#d86b5c"/><circle cx="324.5" cy="189.5" r="2.1" fill="#d86b5c"/><circle cx="312.5" cy="222.1" r="2.1" fill="#d86b5c"/><circle cx="311.7" cy="110.6" r="2.1" fill="#00ff00"/><circle cx="299.4" cy="116.7" r="2.1" fill="#00ff00"/><circle cx="290.5" cy="119.3" r="2.1" fill="#00ff00"/><circle cx="291.2" cy="116.7" r="2.1" fill="#00ff00"/><circle cx="300.8" cy="121.6" r="2.1" fill="#00ff00"/><circle cx="294.2" cy="111.8" r="2.1" fill="#00ff00"/><circle cx="314.8" cy="99.3" r="2.1" fill="#ff0000"/><circle cx="312.3" cy="99.1" r="2.1" fill="#ff0000"/><circle cx="332.9" cy="98.9" r="2.1" fill="#ff0000"/><circle cx="347.5" cy="93.1" r="2.1" fill="#ff0000"/><circle cx="325.5" cy="98.8" r="2.1" fill="#ff0000"/><circle cx="324.0" cy="102.8" r="2.1" fill="#ff0000"/><circle cx="324.8" cy="99.3" r="2.1" fill="#ff0000"/><circle cx="319.9" cy="96.1" r="2.1" fill="#ff0000"/><circle cx="431.7" cy="178.7" r="2.1" fill="#000040"/><circle cx="405.9" cy="119.1" r="2.1" fill="#000040"/><circle cx="427.5" cy="122.7" r="2.1" fill="#000040"/><circle cx="417.0" cy="112.3" r="2.1" fill="#000040"/><circle cx="413.9" cy="149.0" r="2.1" fill="#000040"/><circle cx="414.4" cy="106.7" r="2.1" fill="#000040"/><circle cx="418.7" cy="106.6" r="2.1" fill="#000040"/><circle cx="414.5" cy="178.9" r="2.1" fill="#000040"/><circle cx="415.9" cy="147.0" r="2.1" fill="#000040"/><circle cx="415.9" cy="103.3" r="2.1" fill="#000040"/><circle cx="424.7" cy="124.4" r="2.1" fill="#000040"/><circle cx="420.2" cy="145.3" r="2.1" fill="#000040"/><circle cx="417.6" cy="143.3" r="2.1" fill="#000040"/><circle cx="418.6" cy="129.1" r="2.1" fill="#000040"/><circle cx="389.9" cy="134.3" r="2.1" fill="#000040"/><circle cx="419.6" cy="135.3" r="2.1" fill="#000040"/><circle cx="411.2" cy="148.5" r="2.1" fill="#000040"/><circle cx="427.8" cy="145.1" r="2.1" fill="#000040"/><circle cx="429.2" cy="163.2" r="2.1" fill="#000040"/><circle cx="407.0" cy="159.3" r="2.1" fill="#000040"/><circle cx="413.3" cy="151.6" r="2.1" fill="#000040"/><circle cx="427.1" cy="158.9" r="2.1" fill="#000040"/><circle cx="417.1" cy="142.2" r="2.1" fill="#000040"/><circle cx="405.0" cy="153.1" r="2.1" fill="#000040"/><circle cx="420.3" cy="164.7" r="2.1" fill="#000040"/><circle cx="416.8" cy="133.5" r="2.1" fill="#000040"/><circle cx="426.9" cy="173.4" r="2.1" fill="#000040"/><circle cx="408.0" cy="152.5" r="2.1" fill="#000040"/><circle cx="414.9" cy="182.0" r="2.1" fill="#000040"/><circle cx="393.8" cy="147.3" r="2.1" fill="#000040"/><circle cx="423.7" cy="135.9" r="2.1" fill="#000040"/><circle cx="433.3" cy="159.2" r="2.1" fill="#000040"/><circle cx="400.0" cy="114.0" r="2.1" fill="#000040"/><circle cx="426.9" cy="126.9" r="2.1" fill="#000040"/><circle cx="428.4" cy="143.9" r="2.1" fill="#000040"/><circle cx="415.3" cy="120.3" r="2.1" fill="#000040"/><circle cx="407.1" cy="130.4" r="2.1" fill="#000040"/><circle cx="424.6" cy="145.6" r="2.1" fill="#000040"/><circle cx="405.0" cy="136.5" r="2.1" fill="#000040"/><circle cx="420.9" cy="122.3" r="2.1" fill="#000040"/><circle cx="422.0" cy="176.7" r="2.1" fill="#000040"/><circle cx="424.2" cy="153.6" r="2.1" fill="#000040"/><circle cx="413.5" cy="118.4" r="2.1" fill="#000040"/><circle cx="431.1" cy="129.1" r="2.1" fill="#000040"/><circle cx="426.3" cy="121.6" r="2.1" fill="#000040"/><circle cx="416.1" cy="126.4" r="2.1" fill="#000040"/><circle cx="395.5" cy="115.7" r="2.1" fill="#000040"/><circle cx="401.9" cy="153.3" r="2.1" fill="#000040"/><circle cx="418.2" cy="171.1" r="2.1" fill="#000040"/><circle cx="412.6" cy="136.6" r="2.1" fill="#000040"/><circle cx="433.8" cy="152.3" r="2.1" fill="#000040"/><circle cx="419.1" cy="117.2" r="2.1" fill="#000040"/><circle cx="412.2" cy="115.7" r="2.1" fill="#000040"/><circle cx="420.5" cy="137.8" r="2.1" fill="#000040"/><circle cx="411.4" cy="133.5" r="2.1" fill="#000040"/><circle cx="430.5" cy="135.1" r="2.1" fill="#000040"/><circle cx="410.6" cy="135.1" r="2.1" fill="#000040"/><circle cx="420.4" cy="168.0" r="2.1" fill="#000040"/><circle cx="429.0" cy="170.5" r="2.1" fill="#000040"/><circle cx="422.0" cy="150.3" r="2.1" fill="#000040"/><circle cx="411.0" cy="123.8" r="2.1" fill="#000040"/><circle cx="415.7" cy="127.3" r="2.1" fill="#000040"/><circle cx="407.7" cy="160.9" r="2.1" fill="#000040"/><circle cx="418.5" cy="172.3" r="2.1" fill="#000040"/><circle cx="409.5" cy="140.8" r="2.1" fill="#000040"/><circle cx="417.0" cy="133.5" r="2.1" fill="#00008c"/><circle cx="427.3" cy="149.4" r="2.1" fill="#00008c"/><circle cx="402.6" cy="166.5" r="2.1" fill="#00008c"/><circle cx="411.3" cy="152.3" r="2.1" fill="#00008c"/><circle cx="428.4" cy="139.8" r="2.1" fill="#00008c"/><circle cx="431.8" cy="155.4" r="2.1" fill="#00008c"/><circle cx="419.2" cy="153.6" r="2.1" fill="#00008c"/><circle cx="426.5" cy="134.2" r="2.1" fill="#00008c"/><circle cx="409.9" cy="170.6" r="2.1" fill="#00008c"/><circle cx="406.0" cy="140.8" r="2.1" fill="#00008c"/><circle cx="412.6" cy="143.8" r="2.1" fill="#00008c"/><circle cx="404.1" cy="166.5" r="2.1" fill="#00008c"/><circle cx="417.8" cy="184.5" r="2.1" fill="#00008c"/><circle cx="408.7" cy="163.9" r="2.1" fill="#00008c"/><circle cx="426.5" cy="158.3" r="2.1" fill="#00008c"/><circle cx="407.8" cy="108.3" r="2.1" fill="#00008c"/><circle cx="405.3" cy="186.4" r="2.1" fill="#00008c"/><circle cx="398.3" cy="142.6" r="2.1" fill="#00008c"/><circle cx="417.4" cy="147.6" r="2.1" fill="#00008c"/><circle cx="424.3" cy="176.7" r="2.1" fill="#00008c"/><circle cx="426.1" cy="148.8" r="2.1" fill="#00008c"/><circle cx="404.1" cy="159.1" r="2.1" fill="#00008c"/><circle cx="421.9" cy="151.5" r="2.1" fill="#00008c"/><circle cx="401.2" cy="179.8" r="2.1" fill="#00008c"/><circle cx="418.7" cy="140.4" r="2.1" fill="#00008c"/><circle cx="429.7" cy="146.1" r="2.1" fill="#00008c"/><circle cx="420.1" cy="147.3" r="2.1" fill="#00008c"/><circle cx="419.8" cy="167.1" r="2.1" fill="#00008c"/><circle cx="399.2" cy="156.5" r="2.1" fill="#00008c"/><circle cx="424.1" cy="130.8" r="2.1" fill="#00008c"/><circle cx="411.6" cy="146.8" r="2.1" fill="#00008c"/><circle cx="412.6" cy="132.6" r="2.1" fill="#00008c"/><circle cx="404.2" cy="139.2" r="2.1" fill="#00008c"/><circle cx="421.0" cy="152.2" r="2.1" fill="#00008c"/><circle cx="427.5" cy="156.5" r="2.1" fill="#00008c"/><circle cx="417.0" cy="143.9" r="2.1" fill="#00008c"/><circle cx="406.1" cy="124.1" r="2.1" fill="#00008c"/><circle cx="405.3" cy="119.6" r="2.1" fill="#00008c"/><circle cx="415.6" cy="168.6" r="2.1" fill="#00008c"/><circle cx="429.3" cy="153.2" r="2.1" fill="#00008c"/><circle cx="425.1" cy="169.3" r="2.1" fill="#00008c"/><circle cx="410.3" cy="162.2" r="2.1" fill="#00008c"/><circle cx="423.8" cy="142.2" r="2.1" fill="#00008c"/><circle cx="416.3" cy="157.2" r="2.1" fill="#00008c"/><circle cx="423.5" cy="154.7" r="2.1" fill="#00008c"/><circle cx="420.8" cy="110.7" r="2.1" fill="#00008c"/><circle cx="419.7" cy="147.0" r="2.1" fill="#00008c"/><circle cx="427.1" cy="154.4" r="2.1" fill="#00008c"/><circle cx="427.4" cy="137.4" r="2.1" fill="#00008c"/><circle cx="418.8" cy="158.6" r="2.1" fill="#00008c"/><circle cx="406.5" cy="118.4" r="2.1" fill="#ff33ff"/><circle cx="401.7" cy="121.5" r="2.1" fill="#ff33ff"/><circle cx="414.3" cy="140.3" r="2.1" fill="#ff33ff"/><circle cx="425.9" cy="124.8" r="2.1" fill="#ff33ff"/><circle cx="391.3" cy="127.7" r="2.1" fill="#ff33ff"/><circle cx="411.9" cy="125.9" r="2.1" fill="#ff33ff"/><circle cx="416.9" cy="115.0" r="2.1" fill="#ff33ff"/><circle cx="397.7" cy="117.4" r="2.1" fill="#ff33ff"/><circle cx="393.7" cy="103.8" r="2.1" fill="#ff33ff"/><circle cx="408.9" cy="106.7" r="2.1" fill="#ff33ff"/><circle cx="407.6" cy="123.5" r="2.1" fill="#ff33ff"/><circle cx="405.7" cy="124.4" r="2.1" fill="#ff33ff"/><circle cx="420.6" cy="108.8" r="2.1" fill="#ff33ff"/><circle cx="426.4" cy="118.8" r="2.1" fill="#ff33ff"/><circle cx="397.5" cy="121.3" r="2.1" fill="#ff33ff"/><circle cx="404.9" cy="104.6" r="2.1" fill="#ff33ff"/><circle cx="391.2" cy="131.8" r="2.1" fill="#ff33ff"/><circle cx="403.4" cy="150.8" r="2.1" fill="#ff33ff"/><circle cx="385.5" cy="126.7" r="2.1" fill="#ff33ff"/><circle cx="395.4" cy="134.1" r="2.1" fill="#ff33ff"/><circle cx="386.2" cy="111.3" r="2.1" fill="#ff33ff"/><circle cx="385.6" cy="123.4" r="2.1" fill="#ff33ff"/><circle cx="400.3" cy="106.1" r="2.1" fill="#ff33ff"/><circle cx="414.8" cy="111.0" r="2.1" fill="#ff33ff"/><circle cx="392.8" cy="133.2" r="2.1" fill="#ff33ff"/><circle cx="392.7" cy="141.6" r="2.1" fill="#ff33ff"/><circle cx="404.7" cy="113.3" r="2.1" fill="#ff33ff"/><circle cx="401.9" cy="134.3" r="2.1" fill="#ff33ff"/><circle cx="411.1" cy="96.1" r="2.1" fill="#ff33ff"/><circle cx="407.8" cy="117.6" r="2.1" fill="#ff33ff"/><circle cx="388.9" cy="79.8" r="2.1" fill="#ff33ff"/><circle cx="388.7" cy="89.7" r="2.1" fill="#ff33ff"/><circle cx="398.9" cy="109.6" r="2.1" fill="#ff33ff"/><circle cx="397.8" cy="140.6" r="2.1" fill="#ff33ff"/><circle cx="396.7" cy="127.2" r="2.1" fill="#ff33ff"/><circle cx="408.3" cy="120.6" r="2.1" fill="#ff33ff"/><circle cx="435.2" cy="148.0" r="2.1" fill="#ff33ff"/><circle cx="421.5" cy="114.7" r="2.1" fill="#ff33ff"/><circle cx="392.3" cy="125.2" r="2.1" fill="#ff33ff"/><circle cx="396.0" cy="124.7" r="2.1" fill="#ff33ff"/><circle cx="423.2" cy="145.6" r="2.1" fill="#bfff5a"/><circle cx="396.7" cy="176.7" r="2.1" fill="#bfff5a"/><circle cx="393.8" cy="127.3" r="2.1" fill="#bfff5a"/><circle cx="373.5" cy="144.7" r="2.1" fill="#bfff5a"/><circle cx="398.7" cy="123.7" r="2.1" fill="#bfff5a"/><circle cx="383.1" cy="136.5" r="2.1" fill="#bfff5a"/><circle cx="402.4" cy="137.4" r="2.1" fill="#bfff5a"/><circle cx="414.0" cy="173.5" r="2.1" fill="#bfff5a"/><circle cx="404.6" cy="186.4" r="2.1" fill="#bfff5a"/><circle cx="409.7" cy="154.5" r="2.1" fill="#bfff5a"/><circle cx="397.8" cy="143.9" r="2.1" fill="#bfff5a"/><circle cx="397.0" cy="139.0" r="2.1" fill="#bfff5a"/><circle cx="395.3" cy="161.3" r="2.1" fill="#bfff5a"/><circle cx="416.9" cy="140.2" r="2.1" fill="#bfff5a"/><circle cx="411.3" cy="91.7" r="2.1" fill="#bfff5a"/><circle cx="405.1" cy="140.3" r="2.1" fill="#bfff5a"/><circle cx="409.3" cy="116.3" r="2.1" fill="#bfff5a"/><circle cx="401.9" cy="152.9" r="2.1" fill="#bfff5a"/><circle cx="405.1" cy="109.9" r="2.1" fill="#bfff5a"/><circle cx="416.9" cy="165.4" r="2.1" fill="#bfff5a"/><circle cx="421.8" cy="139.3" r="2.1" fill="#bfff5a"/><circle cx="406.7" cy="170.1" r="2.1" fill="#bfff5a"/><circle cx="402.0" cy="136.4" r="2.1" fill="#bfff5a"/><circle cx="376.5" cy="122.3" r="2.1" fill="#bfff5a"/><circle cx="400.7" cy="162.5" r="2.1" fill="#bfff5a"/><circle cx="412.8" cy="156.6" r="2.1" fill="#ffff00"/><circle cx="414.2" cy="120.2" r="2.1" fill="#ffff00"/><circle cx="412.2" cy="133.9" r="2.1" fill="#ffff00"/><circle cx="422.1" cy="139.5" r="2.1" fill="#ffff00"/><circle cx="426.9" cy="169.8" r="2.1" fill="#ffff00"/><circle cx="419.1" cy="151.8" r="2.1" fill="#ffff00"/><circle cx="411.7" cy="142.9" r="2.1" fill="#ffff00"/><circle cx="404.6" cy="149.6" r="2.1" fill="#ffff00"/><circle cx="430.1" cy="144.8" r="2.1" fill="#ffff00"/><circle cx="420.6" cy="180.4" r="2.1" fill="#ffff00"/><circle cx="428.2" cy="139.1" r="2.1" fill="#ffff00"/><circle cx="412.9" cy="139.0" r="2.1" fill="#ffff00"/><circle cx="403.7" cy="173.7" r="2.1" fill="#00ff00"/><circle cx="406.0" cy="163.9" r="2.1" fill="#00ff00"/><circle cx="427.4" cy="135.1" r="2.1" fill="#00ff00"/><circle cx="404.9" cy="194.4" r="2.1" fill="#00ff00"/><circle cx="415.9" cy="190.8" r="2.1" fill="#00ff00"/><circle cx="406.5" cy="170.7" r="2.1" fill="#00ff00"/><circle cx="415.7" cy="172.6" r="2.1" fill="#00ff00"/><circle cx="432.6" cy="136.8" r="2.1" fill="#00ff00"/><circle cx="408.8" cy="178.4" r="2.1" fill="#00ff00"/><circle cx="421.0" cy="163.1" r="2.1" fill="#00ff00"/><circle cx="402.3" cy="172.6" r="2.1" fill="#00008c"/><circle cx="390.8" cy="212.4" r="2.1" fill="#00008c"/><circle cx="381.6" cy="196.8" r="2.1" fill="#00008c"/><circle cx="384.7" cy="210.4" r="2.1" fill="#00008c"/><circle cx="396.1" cy="187.1" r="2.1" fill="#00008c"/><circle cx="411.6" cy="189.6" r="2.1" fill="#00008c"/><circle cx="381.3" cy="205.2" r="2.1" fill="#00008c"/><circle cx="367.6" cy="192.1" r="2.1" fill="#00008c"/><circle cx="377.8" cy="220.0" r="2.1" fill="#00008c"/><circle cx="394.8" cy="211.1" r="2.1" fill="#00008c"/><circle cx="361.1" cy="178.7" r="2.1" fill="#00008c"/><circle cx="361.6" cy="183.3" r="2.1" fill="#00008c"/><circle cx="362.0" cy="172.2" r="2.1" fill="#00008c"/><circle cx="361.9" cy="180.6" r="2.1" fill="#00008c"/><circle cx="361.9" cy="172.7" r="2.1" fill="#00008c"/><circle cx="389.4" cy="97.0" r="2.1" fill="#ff33ff"/><circle cx="396.8" cy="101.2" r="2.1" fill="#ff33ff"/><circle cx="366.4" cy="92.9" r="2.1" fill="#ff33ff"/><circle cx="363.9" cy="91.7" r="2.1" fill="#ff33ff"/><circle cx="391.6" cy="92.5" r="2.1" fill="#ff33ff"/><circle cx="392.1" cy="97.7" r="2.1" fill="#ff33ff"/><circle cx="377.0" cy="110.0" r="2.1" fill="#ff33ff"/><circle cx="407.0" cy="95.0" r="2.1" fill="#ff33ff"/><circle cx="357.7" cy="85.0" r="2.3" fill="#ffff00"/><circle cx="357.0" cy="90.0" r="2.3" fill="#ffff00"/><circle cx="357.5" cy="95.0" r="2.3" fill="#ffff00"/><circle cx="356.4" cy="100.0" r="2.3" fill="#ffff00"/><circle cx="357.5" cy="105.0" r="2.3" fill="#ffff00"/><circle cx="357.9" cy="110.0" r="2.3" fill="#ffff00"/><circle cx="355.7" cy="115.0" r="2.3" fill="#ffff00"/><circle cx="356.8" cy="120.0" r="2.3" fill="#ffff00"/><circle cx="357.3" cy="125.0" r="2.3" fill="#ffff00"/><circle cx="510.2" cy="179.2" r="2.1" fill="#00008c"/><circle cx="537.3" cy="189.8" r="2.1" fill="#00008c"/><circle cx="547.6" cy="185.2" r="2.1" fill="#00008c"/><circle cx="567.2" cy="162.6" r="2.1" fill="#00008c"/><circle cx="580.7" cy="193.3" r="2.1" fill="#00008c"/><circle cx="581.3" cy="178.1" r="2.1" fill="#00008c"/><circle cx="591.8" cy="158.6" r="2.1" fill="#00008c"/><circle cx="513.3" cy="162.6" r="2.1" fill="#00008c"/><circle cx="551.9" cy="176.1" r="2.1" fill="#00008c"/><circle cx="578.1" cy="166.3" r="2.1" fill="#00008c"/><circle cx="545.0" cy="158.6" r="2.1" fill="#00008c"/><circle cx="584.4" cy="170.5" r="2.1" fill="#00008c"/><circle cx="549.9" cy="163.5" r="2.1" fill="#00008c"/><circle cx="485.8" cy="171.3" r="2.1" fill="#00008c"/><circle cx="593.3" cy="187.5" r="2.1" fill="#00008c"/><circle cx="548.5" cy="175.6" r="2.1" fill="#00008c"/><circle cx="605.5" cy="172.0" r="2.1" fill="#00008c"/><circle cx="515.8" cy="185.6" r="2.1" fill="#00008c"/><circle cx="532.5" cy="197.1" r="2.1" fill="#00008c"/><circle cx="530.5" cy="172.9" r="2.1" fill="#00008c"/><circle cx="521.4" cy="162.0" r="2.1" fill="#00008c"/><circle cx="547.1" cy="154.6" r="2.1" fill="#00008c"/><circle cx="563.6" cy="187.1" r="2.1" fill="#00008c"/><circle cx="494.6" cy="176.7" r="2.1" fill="#00008c"/><circle cx="561.2" cy="162.6" r="2.1" fill="#00008c"/><circle cx="562.8" cy="189.1" r="2.1" fill="#00008c"/><circle cx="562.5" cy="169.8" r="2.1" fill="#00008c"/><circle cx="545.1" cy="209.8" r="2.1" fill="#00008c"/><circle cx="503.6" cy="201.6" r="2.1" fill="#00008c"/><circle cx="576.7" cy="177.0" r="2.1" fill="#00008c"/><circle cx="565.2" cy="165.7" r="2.1" fill="#00008c"/><circle cx="536.3" cy="189.2" r="2.1" fill="#00008c"/><circle cx="576.4" cy="178.9" r="2.1" fill="#00008c"/><circle cx="549.2" cy="190.9" r="2.1" fill="#00008c"/><circle cx="534.9" cy="178.1" r="2.1" fill="#00008c"/><circle cx="537.9" cy="175.1" r="2.1" fill="#00008c"/><circle cx="527.9" cy="153.8" r="2.1" fill="#00008c"/><circle cx="543.6" cy="208.0" r="2.1" fill="#00008c"/><circle cx="543.9" cy="171.7" r="2.1" fill="#00008c"/><circle cx="555.3" cy="177.5" r="2.1" fill="#00008c"/><circle cx="552.7" cy="151.6" r="2.1" fill="#00008c"/><circle cx="541.2" cy="163.0" r="2.1" fill="#00008c"/><circle cx="580.2" cy="185.2" r="2.1" fill="#00008c"/><circle cx="555.0" cy="181.9" r="2.1" fill="#00008c"/><circle cx="542.4" cy="192.1" r="2.1" fill="#00008c"/><circle cx="521.6" cy="188.3" r="2.1" fill="#00008c"/><circle cx="546.6" cy="177.4" r="2.1" fill="#00008c"/><circle cx="565.8" cy="183.3" r="2.1" fill="#00008c"/><circle cx="599.2" cy="180.0" r="2.1" fill="#00008c"/><circle cx="585.5" cy="190.3" r="2.1" fill="#00008c"/><circle cx="560.8" cy="175.0" r="2.1" fill="#00008c"/><circle cx="522.0" cy="156.9" r="2.1" fill="#00008c"/><circle cx="522.5" cy="186.2" r="2.1" fill="#00008c"/><circle cx="601.9" cy="153.6" r="2.1" fill="#00008c"/><circle cx="542.1" cy="155.5" r="2.1" fill="#00008c"/><circle cx="529.7" cy="160.1" r="2.1" fill="#00008c"/><circle cx="567.2" cy="183.4" r="2.1" fill="#00008c"/><circle cx="527.7" cy="167.3" r="2.1" fill="#00008c"/><circle cx="556.6" cy="166.7" r="2.1" fill="#00008c"/><circle cx="564.2" cy="187.4" r="2.1" fill="#00008c"/><circle cx="570.6" cy="180.6" r="2.1" fill="#00008c"/><circle cx="505.7" cy="165.0" r="2.1" fill="#00008c"/><circle cx="560.6" cy="195.0" r="2.1" fill="#00008c"/><circle cx="592.7" cy="175.9" r="2.1" fill="#00008c"/><circle cx="549.8" cy="185.5" r="2.1" fill="#00008c"/><circle cx="568.5" cy="173.0" r="2.1" fill="#00008c"/><circle cx="533.5" cy="170.4" r="2.1" fill="#00008c"/><circle cx="528.9" cy="196.7" r="2.1" fill="#00008c"/><circle cx="550.2" cy="157.5" r="2.1" fill="#00008c"/><circle cx="506.8" cy="190.7" r="2.1" fill="#00008c"/><circle cx="525.1" cy="157.2" r="2.1" fill="#000040"/><circle cx="506.9" cy="208.8" r="2.1" fill="#000040"/><circle cx="564.0" cy="200.3" r="2.1" fill="#000040"/><circle cx="525.5" cy="156.3" r="2.1" fill="#000040"/><circle cx="576.1" cy="160.1" r="2.1" fill="#000040"/><circle cx="541.1" cy="196.3" r="2.1" fill="#000040"/><circle cx="591.5" cy="162.4" r="2.1" fill="#000040"/><circle cx="519.5" cy="167.4" r="2.1" fill="#000040"/><circle cx="517.4" cy="190.7" r="2.1" fill="#000040"/><circle cx="542.8" cy="151.3" r="2.1" fill="#000040"/><circle cx="602.7" cy="171.2" r="2.1" fill="#000040"/><circle cx="613.5" cy="169.5" r="2.1" fill="#000040"/><circle cx="547.9" cy="205.4" r="2.1" fill="#000040"/><circle cx="574.1" cy="169.2" r="2.1" fill="#000040"/><circle cx="606.6" cy="184.1" r="2.1" fill="#000040"/><circle cx="579.7" cy="175.6" r="2.1" fill="#000040"/><circle cx="543.0" cy="190.2" r="2.1" fill="#000040"/><circle cx="540.8" cy="192.7" r="2.1" fill="#000040"/><circle cx="576.7" cy="165.9" r="2.1" fill="#000040"/><circle cx="549.5" cy="190.0" r="2.1" fill="#000040"/><circle cx="559.7" cy="161.6" r="2.1" fill="#000040"/><circle cx="527.0" cy="199.4" r="2.1" fill="#000040"/><circle cx="537.2" cy="159.7" r="2.1" fill="#000040"/><circle cx="516.0" cy="210.8" r="2.1" fill="#000040"/><circle cx="534.3" cy="188.6" r="2.1" fill="#000040"/><circle cx="519.3" cy="202.0" r="2.1" fill="#000040"/><circle cx="580.8" cy="154.0" r="2.1" fill="#000040"/><circle cx="527.1" cy="164.9" r="2.1" fill="#000040"/><circle cx="594.6" cy="185.2" r="2.1" fill="#000040"/><circle cx="583.1" cy="179.4" r="2.1" fill="#000040"/><circle cx="606.5" cy="159.9" r="2.1" fill="#000040"/><circle cx="536.3" cy="170.8" r="2.1" fill="#000040"/><circle cx="580.2" cy="194.1" r="2.1" fill="#000040"/><circle cx="553.0" cy="185.0" r="2.1" fill="#000040"/><circle cx="562.0" cy="169.6" r="2.1" fill="#000040"/><circle cx="536.7" cy="166.6" r="2.1" fill="#000040"/><circle cx="574.2" cy="162.7" r="2.1" fill="#000040"/><circle cx="564.6" cy="191.0" r="2.1" fill="#000040"/><circle cx="574.2" cy="153.0" r="2.1" fill="#000040"/><circle cx="558.4" cy="169.5" r="2.1" fill="#000040"/><circle cx="538.2" cy="203.9" r="2.1" fill="#000040"/><circle cx="549.9" cy="200.4" r="2.1" fill="#000040"/><circle cx="529.9" cy="178.5" r="2.1" fill="#000040"/><circle cx="615.7" cy="178.2" r="2.1" fill="#000040"/><circle cx="498.3" cy="173.5" r="2.1" fill="#000040"/><circle cx="533.8" cy="215.2" r="2.1" fill="#ff33ff"/><circle cx="559.9" cy="161.2" r="2.1" fill="#ff33ff"/><circle cx="535.9" cy="214.4" r="2.1" fill="#ff33ff"/><circle cx="537.9" cy="150.7" r="2.1" fill="#ff33ff"/><circle cx="525.5" cy="155.1" r="2.1" fill="#ff33ff"/><circle cx="508.8" cy="189.1" r="2.1" fill="#ff33ff"/><circle cx="540.2" cy="179.8" r="2.1" fill="#ff33ff"/><circle cx="567.2" cy="180.4" r="2.1" fill="#ff33ff"/><circle cx="504.9" cy="177.1" r="2.1" fill="#ff33ff"/><circle cx="511.6" cy="178.1" r="2.1" fill="#ff33ff"/><circle cx="513.6" cy="198.3" r="2.1" fill="#ff33ff"/><circle cx="548.0" cy="170.4" r="2.1" fill="#ff33ff"/><circle cx="522.7" cy="167.6" r="2.1" fill="#ff33ff"/><circle cx="551.8" cy="195.5" r="2.1" fill="#ff33ff"/><circle cx="513.5" cy="195.0" r="2.1" fill="#ff33ff"/><circle cx="559.6" cy="193.7" r="2.1" fill="#ff33ff"/><circle cx="512.8" cy="208.9" r="2.1" fill="#ff33ff"/><circle cx="545.0" cy="187.3" r="2.1" fill="#ff33ff"/><circle cx="527.8" cy="174.4" r="2.1" fill="#ff33ff"/><circle cx="532.7" cy="194.5" r="2.1" fill="#ff33ff"/><circle cx="531.3" cy="173.0" r="2.1" fill="#ff33ff"/><circle cx="535.6" cy="174.5" r="2.1" fill="#ff33ff"/><circle cx="572.6" cy="183.8" r="2.1" fill="#ff33ff"/><circle cx="505.9" cy="168.6" r="2.1" fill="#ff33ff"/><circle cx="523.2" cy="171.9" r="2.1" fill="#ff33ff"/><circle cx="532.7" cy="175.1" r="2.1" fill="#ff33ff"/><circle cx="520.1" cy="179.9" r="2.1" fill="#ff33ff"/><circle cx="520.3" cy="150.5" r="2.1" fill="#ff33ff"/><circle cx="500.4" cy="185.3" r="2.1" fill="#ff33ff"/><circle cx="497.6" cy="164.6" r="2.1" fill="#ff33ff"/><circle cx="501.5" cy="191.4" r="2.1" fill="#ff33ff"/><circle cx="551.8" cy="202.4" r="2.1" fill="#ff33ff"/><circle cx="506.5" cy="170.0" r="2.1" fill="#ff33ff"/><circle cx="503.5" cy="202.9" r="2.1" fill="#ff33ff"/><circle cx="509.8" cy="165.3" r="2.1" fill="#ff33ff"/><circle cx="552.0" cy="203.8" r="2.1" fill="#ff33ff"/><circle cx="563.9" cy="174.3" r="2.1" fill="#ff33ff"/><circle cx="505.4" cy="158.3" r="2.1" fill="#ff33ff"/><circle cx="513.8" cy="197.2" r="2.1" fill="#ff33ff"/><circle cx="505.1" cy="197.3" r="2.1" fill="#ff33ff"/><circle cx="523.2" cy="192.7" r="2.1" fill="#ff33ff"/><circle cx="539.2" cy="199.6" r="2.1" fill="#ff33ff"/><circle cx="565.0" cy="176.8" r="2.1" fill="#ff33ff"/><circle cx="507.8" cy="198.6" r="2.1" fill="#ff33ff"/><circle cx="505.6" cy="181.0" r="2.1" fill="#ff33ff"/><circle cx="519.6" cy="185.6" r="2.1" fill="#ff33ff"/><circle cx="572.4" cy="170.7" r="2.1" fill="#ff33ff"/><circle cx="545.4" cy="175.8" r="2.1" fill="#ff33ff"/><circle cx="546.5" cy="153.1" r="2.1" fill="#ff33ff"/><circle cx="557.8" cy="167.0" r="2.1" fill="#ff33ff"/><circle cx="538.6" cy="165.6" r="2.1" fill="#bfff5a"/><circle cx="536.8" cy="195.2" r="2.1" fill="#bfff5a"/><circle cx="580.2" cy="175.6" r="2.1" fill="#bfff5a"/><circle cx="513.7" cy="179.2" r="2.1" fill="#bfff5a"/><circle cx="577.0" cy="150.9" r="2.1" fill="#bfff5a"/><circle cx="554.7" cy="176.8" r="2.1" fill="#bfff5a"/><circle cx="529.9" cy="195.6" r="2.1" fill="#bfff5a"/><circle cx="563.3" cy="184.9" r="2.1" fill="#bfff5a"/><circle cx="546.9" cy="154.7" r="2.1" fill="#bfff5a"/><circle cx="536.2" cy="147.5" r="2.1" fill="#bfff5a"/><circle cx="564.4" cy="164.6" r="2.1" fill="#bfff5a"/><circle cx="563.8" cy="169.3" r="2.1" fill="#bfff5a"/><circle cx="554.3" cy="144.6" r="2.1" fill="#bfff5a"/><circle cx="555.0" cy="168.5" r="2.1" fill="#bfff5a"/><circle cx="574.2" cy="164.6" r="2.1" fill="#bfff5a"/><circle cx="567.5" cy="173.1" r="2.1" fill="#bfff5a"/><circle cx="543.6" cy="158.3" r="2.1" fill="#bfff5a"/><circle cx="550.2" cy="155.1" r="2.1" fill="#bfff5a"/><circle cx="592.9" cy="164.0" r="2.1" fill="#bfff5a"/><circle cx="528.8" cy="157.1" r="2.1" fill="#bfff5a"/><circle cx="576.4" cy="182.7" r="2.1" fill="#bfff5a"/><circle cx="535.2" cy="181.8" r="2.1" fill="#bfff5a"/><circle cx="563.8" cy="182.5" r="2.1" fill="#bfff5a"/><circle cx="596.6" cy="172.6" r="2.1" fill="#bfff5a"/><circle cx="524.0" cy="164.9" r="2.1" fill="#bfff5a"/><circle cx="509.5" cy="146.6" r="2.1" fill="#bfff5a"/><circle cx="550.4" cy="167.4" r="2.1" fill="#bfff5a"/><circle cx="550.7" cy="148.4" r="2.1" fill="#bfff5a"/><circle cx="539.1" cy="206.8" r="2.1" fill="#ffff00"/><circle cx="520.6" cy="207.4" r="2.1" fill="#ffff00"/><circle cx="513.4" cy="214.1" r="2.1" fill="#ffff00"/><circle cx="509.2" cy="205.9" r="2.1" fill="#ffff00"/><circle cx="523.6" cy="200.6" r="2.1" fill="#ffff00"/><circle cx="514.2" cy="204.9" r="2.1" fill="#ffff00"/><circle cx="526.5" cy="199.6" r="2.1" fill="#ffff00"/><circle cx="521.5" cy="207.7" r="2.1" fill="#ffff00"/><circle cx="533.1" cy="202.1" r="2.1" fill="#ffff00"/><circle cx="531.2" cy="200.5" r="2.1" fill="#ffff00"/><circle cx="534.0" cy="207.8" r="2.1" fill="#ffff00"/><circle cx="524.6" cy="206.1" r="2.1" fill="#ffff00"/><circle cx="512.9" cy="201.9" r="2.1" fill="#ffff00"/><circle cx="503.8" cy="207.4" r="2.1" fill="#ffff00"/><circle cx="557.8" cy="170.1" r="2.1" fill="#00ff00"/><circle cx="569.9" cy="186.3" r="2.1" fill="#00ff00"/><circle cx="563.3" cy="172.6" r="2.1" fill="#00ff00"/><circle cx="562.1" cy="165.4" r="2.1" fill="#00ff00"/><circle cx="540.8" cy="175.4" r="2.1" fill="#00ff00"/><circle cx="581.5" cy="189.8" r="2.1" fill="#00ff00"/><circle cx="556.2" cy="163.4" r="2.1" fill="#00ff00"/><circle cx="558.9" cy="180.5" r="2.1" fill="#00ff00"/><circle cx="554.0" cy="184.1" r="2.1" fill="#00ff00"/><circle cx="573.4" cy="166.3" r="2.1" fill="#00ff00"/><circle cx="581.9" cy="116.4" r="2.1" fill="#00008c"/><circle cx="598.1" cy="104.2" r="2.1" fill="#00008c"/><circle cx="564.8" cy="124.0" r="2.1" fill="#00008c"/><circle cx="616.4" cy="136.6" r="2.1" fill="#00008c"/><circle cx="552.7" cy="106.2" r="2.1" fill="#00008c"/><circle cx="607.9" cy="151.4" r="2.1" fill="#00008c"/><circle cx="605.3" cy="96.1" r="2.1" fill="#00008c"/><circle cx="580.6" cy="128.2" r="2.1" fill="#00008c"/><circle cx="605.6" cy="166.8" r="2.1" fill="#00008c"/><circle cx="546.5" cy="103.7" r="2.1" fill="#00008c"/><circle cx="574.6" cy="112.3" r="2.1" fill="#00008c"/><circle cx="613.3" cy="151.3" r="2.1" fill="#00008c"/><circle cx="586.8" cy="124.7" r="2.1" fill="#00008c"/><circle cx="612.3" cy="137.4" r="2.1" fill="#00008c"/><circle cx="614.6" cy="127.3" r="2.1" fill="#00008c"/><circle cx="610.9" cy="109.3" r="2.1" fill="#00008c"/><circle cx="565.4" cy="147.0" r="2.1" fill="#00008c"/><circle cx="613.4" cy="116.7" r="2.1" fill="#00008c"/><circle cx="588.2" cy="102.4" r="2.1" fill="#00008c"/><circle cx="591.0" cy="122.5" r="2.1" fill="#00008c"/><circle cx="614.4" cy="111.8" r="2.1" fill="#00008c"/><circle cx="557.8" cy="93.4" r="2.1" fill="#00008c"/><circle cx="569.9" cy="104.9" r="2.1" fill="#000040"/><circle cx="528.6" cy="146.9" r="2.1" fill="#000040"/><circle cx="532.9" cy="87.1" r="2.1" fill="#000040"/><circle cx="586.7" cy="120.5" r="2.1" fill="#000040"/><circle cx="558.6" cy="118.6" r="2.1" fill="#000040"/><circle cx="567.5" cy="110.7" r="2.1" fill="#000040"/><circle cx="553.9" cy="137.9" r="2.1" fill="#000040"/><circle cx="538.2" cy="92.1" r="2.1" fill="#000040"/><circle cx="575.7" cy="110.6" r="2.1" fill="#000040"/><circle cx="540.4" cy="138.1" r="2.1" fill="#000040"/><circle cx="608.4" cy="127.9" r="2.1" fill="#ff33ff"/><circle cx="629.3" cy="119.8" r="2.1" fill="#ff33ff"/><circle cx="612.4" cy="151.7" r="2.1" fill="#ff33ff"/><circle cx="610.2" cy="140.2" r="2.1" fill="#ff33ff"/><circle cx="569.5" cy="143.7" r="2.1" fill="#ff33ff"/><circle cx="617.5" cy="137.1" r="2.1" fill="#ff33ff"/><circle cx="566.8" cy="130.7" r="2.1" fill="#ff33ff"/><circle cx="615.1" cy="159.7" r="2.1" fill="#ff33ff"/><circle cx="612.9" cy="120.3" r="2.1" fill="#ff33ff"/><circle cx="605.3" cy="141.3" r="2.1" fill="#ff33ff"/><circle cx="587.9" cy="162.7" r="2.1" fill="#ff33ff"/><circle cx="592.8" cy="114.8" r="2.1" fill="#ff33ff"/><circle cx="605.3" cy="130.5" r="2.1" fill="#ff33ff"/><circle cx="611.5" cy="120.7" r="2.1" fill="#ff33ff"/><circle cx="585.6" cy="116.2" r="2.1" fill="#bfff5a"/><circle cx="564.0" cy="86.0" r="2.1" fill="#bfff5a"/><circle cx="571.2" cy="131.9" r="2.1" fill="#bfff5a"/><circle cx="576.5" cy="142.0" r="2.1" fill="#bfff5a"/><circle cx="578.2" cy="112.6" r="2.1" fill="#bfff5a"/><circle cx="576.2" cy="126.7" r="2.1" fill="#bfff5a"/><circle cx="561.4" cy="121.2" r="2.1" fill="#bfff5a"/><circle cx="543.5" cy="132.5" r="2.1" fill="#bfff5a"/><circle cx="557.2" cy="85.3" r="2.1" fill="#bfff5a"/><circle cx="581.8" cy="147.4" r="2.1" fill="#bfff5a"/><circle cx="584.7" cy="104.4" r="2.1" fill="#bfff5a"/><circle cx="564.7" cy="141.8" r="2.1" fill="#bfff5a"/><circle cx="550.6" cy="96.6" r="2.1" fill="#bfff5a"/><circle cx="547.5" cy="138.5" r="2.1" fill="#bfff5a"/><circle cx="468.4" cy="144.8" r="2.1" fill="#ff33ff"/><circle cx="455.4" cy="130.1" r="2.1" fill="#ff33ff"/><circle cx="475.8" cy="135.7" r="2.1" fill="#ff33ff"/><circle cx="462.9" cy="162.0" r="2.1" fill="#ff33ff"/><circle cx="467.3" cy="134.9" r="2.1" fill="#ff33ff"/><circle cx="466.3" cy="155.6" r="2.1" fill="#ff33ff"/><circle cx="480.2" cy="148.3" r="2.1" fill="#ff33ff"/><circle cx="468.4" cy="164.4" r="2.1" fill="#ff33ff"/><circle cx="453.5" cy="156.5" r="2.1" fill="#ff33ff"/><circle cx="474.0" cy="147.1" r="2.1" fill="#ff33ff"/><circle cx="454.8" cy="162.4" r="2.1" fill="#ff33ff"/><circle cx="447.4" cy="159.2" r="2.1" fill="#ff33ff"/><circle cx="461.3" cy="148.3" r="2.1" fill="#ff33ff"/><circle cx="469.8" cy="131.5" r="2.1" fill="#ff33ff"/><circle cx="457.2" cy="158.4" r="2.1" fill="#00008c"/><circle cx="471.1" cy="112.4" r="2.1" fill="#00008c"/><circle cx="479.6" cy="151.6" r="2.1" fill="#00008c"/><circle cx="488.9" cy="156.2" r="2.1" fill="#00008c"/><circle cx="491.7" cy="130.1" r="2.1" fill="#00008c"/><circle cx="462.1" cy="119.2" r="2.1" fill="#00008c"/><circle cx="467.5" cy="150.9" r="2.1" fill="#00008c"/><circle cx="492.3" cy="133.8" r="2.1" fill="#00008c"/><circle cx="475.6" cy="164.3" r="2.1" fill="#00008c"/><circle cx="467.0" cy="122.1" r="2.1" fill="#00008c"/><path d="M152.9 319.1C149.2 319.8 142.1 321.2 136.7 323.2C131.3 325.2 125.6 327.9 120.6 331.3C115.5 334.7 110.5 338.7 106.4 343.4C102.4 348.1 99.0 354.1 96.3 359.5C93.6 364.9 92.3 370.6 90.3 375.7C88.3 380.8 86.2 384.1 84.2 389.8C82.2 395.5 79.9 403.3 78.2 410.0C76.5 416.7 74.4 423.5 74.1 430.2C73.8 436.9 74.8 443.7 76.2 450.4C77.6 457.1 79.9 464.6 82.2 470.6C84.5 476.7 87.6 482.0 90.3 486.7C93.0 491.4 95.0 494.5 98.4 498.9C101.8 503.3 105.8 509.0 110.5 513.0C115.2 517.0 120.9 520.4 126.6 523.1C132.3 525.8 139.8 528.2 144.8 529.2C149.9 530.2 153.5 529.9 156.9 529.2C160.3 528.5 162.3 524.8 165.0 525.1C167.7 525.4 168.7 529.9 173.1 531.2C177.5 532.6 184.9 533.9 191.3 533.2C197.7 532.5 205.1 529.8 211.5 527.1C217.9 524.4 224.2 521.4 229.6 517.0C235.0 512.6 240.1 506.6 243.8 500.9C247.5 495.2 249.8 489.1 251.8 482.7C253.8 476.3 255.1 469.2 255.9 462.5C256.8 455.8 257.2 449.0 256.9 442.3C256.6 435.6 255.4 428.8 253.9 422.1C252.4 415.4 250.5 408.6 247.8 401.9C245.1 395.2 240.4 388.4 237.7 381.7C235.0 375.0 234.3 367.9 231.6 361.5C228.9 355.1 225.9 348.4 221.5 343.4C217.1 338.4 211.5 333.7 205.4 331.3C199.3 328.9 190.6 329.6 185.2 329.2C179.8 328.8 176.1 328.8 173.1 329.2C170.1 329.6 168.3 332.3 167.0 331.3C165.7 330.3 166.3 325.2 165.0 323.2C163.7 321.2 161.0 319.8 159.0 319.1C157.0 318.4 156.6 318.4 152.9 319.1Z" fill="#a8a8a8"/><g filter="url(#sb)"><path d="M158.8 474.3C158.4 477.7 158.2 481.2 155.4 483.2 151.9 482.9 149.0 481.1 145.6 481.9M131.9 352.9C130.8 348.6 128.2 345.0 123.8 344.2 120.3 346.9 116.0 347.9 111.5 348.0M175.1 522.3C177.6 520.6 180.6 520.6 182.5 518.2 183.7 515.5 182.4 512.7 180.2 510.7M218.5 512.9C220.3 509.7 221.1 506.1 219.5 502.8 217.6 499.7 217.2 496.0 214.1 493.9M128.9 469.2C127.5 464.6 124.9 460.6 125.1 455.8 127.6 451.8 131.3 448.7 136.1 448.3M191.5 524.1C187.3 524.7 183.6 526.6 179.5 527.7M213.0 416.0C209.5 413.6 205.5 412.2 201.5 413.5 197.5 412.4 195.0 409.0 194.3 404.8M234.1 457.8C234.6 455.3 234.3 452.8 233.6 450.3 232.1 448.2 230.9 445.9 230.5 443.4M179.3 387.2C181.9 391.0 184.9 394.4 189.4 394.5 193.6 392.9 195.3 388.7 195.6 384.2M203.8 527.6C202.5 525.1 201.9 522.4 203.1 519.8 204.4 517.4 207.1 516.7 209.7 515.6M126.4 430.2C130.1 428.2 133.7 426.2 137.8 425.3 141.8 424.1 145.8 423.2 148.9 426.0M150.9 524.6C147.2 521.6 142.5 521.0 138.4 518.4 134.4 515.7 130.5 513.0 125.8 513.5M139.5 328.9C136.1 326.4 132.0 327.5 129.1 330.5 125.2 332.1 123.9 336.1 120.4 338.4M214.3 416.3C210.0 418.3 208.8 422.9 206.6 427.1 206.1 431.8 204.0 436.1 199.4 437.0M140.0 372.0C143.9 369.8 148.1 371.5 151.2 374.8 150.9 379.2 148.1 382.7 147.8 387.2M127.3 488.4C127.7 491.2 129.5 493.5 129.9 496.4 128.3 498.8 127.6 501.6 128.0 504.4M79.2 409.6C81.8 412.2 84.0 415.2 85.6 418.6 86.5 422.2 84.5 425.3 82.3 428.3M231.6 394.5C231.8 397.1 233.4 399.2 233.7 401.9 231.9 403.9 230.0 405.8 229.8 408.4M188.1 400.4C189.3 398.0 190.4 395.5 191.5 393.1 190.9 390.5 189.7 388.1 189.4 385.4M160.1 331.9C157.5 333.8 157.6 337.1 159.0 340.0 157.7 342.9 154.7 344.1 151.8 342.5M212.8 412.0C215.7 411.4 218.6 411.3 221.4 410.9 223.7 409.1 225.3 406.7 227.6 404.8M126.0 393.2C123.1 394.0 120.2 394.5 118.9 397.2 116.6 399.0 114.2 400.8 111.2 401.0M164.5 385.7C164.8 383.1 165.0 380.6 166.8 378.9 166.9 376.4 166.2 374.0 165.7 371.5M198.1 341.6C198.3 338.0 197.7 334.3 195.8 331.2M112.8 461.9C111.4 457.6 108.0 454.8 103.6 455.6 99.5 457.4 95.2 458.7 91.2 456.7M193.5 462.8C195.8 462.5 198.0 462.8 200.2 462.1 201.8 460.4 203.8 459.3 204.5 457.1M172.2 338.6C174.3 341.9 176.8 345.1 179.8 347.8 181.5 351.4 185.3 352.5 189.3 351.9M214.5 415.8C214.4 411.9 215.9 408.3 218.1 405.1 216.7 401.4 215.0 397.8 216.3 394.1M216.7 459.3C212.6 457.8 208.1 457.2 204.0 455.5 201.8 451.7 198.3 448.9 193.9 448.8M123.9 413.1C124.5 416.9 126.3 420.4 124.6 423.9 123.5 427.6 122.2 431.3 118.5 432.3M203.9 427.3C205.4 424.3 205.2 420.9 202.4 418.8 200.1 416.3 198.0 413.6 195.6 411.2M132.3 379.4C137.1 379.6 140.0 383.5 144.7 384.9 147.4 389.0 149.0 393.6 152.3 397.2M183.1 342.5C181.2 339.1 177.7 337.3 173.8 337.0 169.9 336.9 166.5 338.9 164.1 342.0M174.9 350.6C174.4 347.3 174.3 343.9 172.1 341.4 172.4 338.0 170.3 335.4 168.4 332.7M188.3 506.0C187.0 504.3 187.3 502.2 187.5 500.1 187.4 498.0 186.5 496.1 184.6 495.1M196.4 403.7C198.5 403.8 200.0 402.2 202.1 401.9 204.1 401.4 206.2 401.9 208.3 402.2M191.5 365.1C189.1 364.0 187.0 362.6 185.2 360.6 182.5 360.5 180.3 362.0 178.3 363.6M168.5 502.6C164.1 501.7 160.0 503.4 157.1 506.7 158.1 511.0 160.2 514.9 161.2 519.3M180.1 414.1C178.6 415.4 177.2 416.8 176.1 418.6 176.5 420.5 177.4 422.3 177.7 424.3M169.7 404.0C171.4 402.6 173.4 402.0 175.3 401.0 177.5 400.8 179.0 402.3 180.0 404.2M196.3 469.4C198.9 465.6 197.3 461.2 193.9 457.9 189.8 455.7 185.2 455.7 180.5 456.2M143.8 497.5C145.7 499.9 146.0 502.9 144.2 505.4 143.8 508.5 141.2 510.0 138.8 511.9M154.1 492.9C155.4 495.2 155.1 497.8 156.3 500.2 158.9 500.7 161.3 502.0 162.5 504.3M83.2 431.0C87.0 431.4 90.1 429.2 93.3 427.3 96.9 428.6 100.1 426.5 100.7 422.7M111.0 493.5C111.6 496.3 110.2 498.7 110.0 501.5 110.0 504.4 110.1 507.2 110.2 510.0M155.6 491.5C158.7 493.2 159.7 496.6 161.3 499.7 159.5 502.7 156.8 505.0 155.9 508.4M190.8 482.9C193.0 484.2 195.5 484.7 198.1 484.3 200.1 482.9 201.8 480.9 204.3 481.1M157.9 417.1C159.1 419.4 158.4 421.9 156.1 423.1 155.1 425.5 154.6 428.0 153.7 430.4M175.3 362.2C179.4 360.7 183.1 358.4 187.5 358.2 191.7 359.7 196.0 360.4 199.2 363.4M235.9 430.6C231.0 431.4 227.8 435.3 224.4 438.8 221.9 443.1 219.4 447.5 215.2 450.0M135.8 447.8C133.6 450.3 130.6 451.6 127.9 453.7 126.5 456.6 124.4 459.3 122.5 462.0M220.6 504.4C220.5 507.7 220.9 511.0 223.6 513.0M169.3 381.7C167.9 379.6 168.5 377.2 168.7 374.7 170.5 373.0 172.5 371.5 174.9 371.8M125.1 358.3C128.5 360.5 128.6 364.6 126.4 368.1 122.5 369.1 119.2 366.8 116.4 363.7M160.3 365.5C158.6 364.2 156.6 363.3 155.5 361.5 153.3 361.3 151.2 361.9 149.5 363.3M195.2 506.5C190.9 507.8 186.5 509.0 182.8 511.7 181.4 515.9 177.3 517.9 172.9 519.1M123.1 434.4C121.1 434.9 119.2 433.8 117.7 432.4 115.6 432.3 113.5 432.5 111.9 433.9M105.2 382.1C109.8 381.8 112.9 385.0 117.5 385.0 121.3 382.7 121.8 378.1 118.3 375.3M191.3 406.6C186.7 406.6 182.7 408.9 178.1 408.4 175.1 411.8 170.4 411.7 166.0 413.0M186.5 364.1C184.9 368.1 181.6 371.0 179.9 375.0 181.4 379.1 185.4 380.7 187.6 384.5M102.8 430.8C102.3 427.3 101.8 423.9 102.9 420.6 104.7 417.6 104.4 414.1 102.9 411.0M197.9 356.0C194.2 354.3 193.1 350.4 191.3 346.7 188.4 343.8 186.7 340.1 188.3 336.4M227.3 439.4C230.2 441.3 231.3 444.6 234.0 446.7 236.9 448.7 239.1 451.3 240.2 454.6M232.0 450.3C228.9 450.2 227.0 447.8 225.9 445.0 224.6 442.2 222.5 440.0 223.3 437.0M208.6 497.5C211.0 494.6 210.5 490.9 209.1 487.4 210.0 483.8 208.0 480.7 205.0 478.4M188.6 415.5C190.4 417.3 192.0 419.2 193.2 421.4 192.4 423.8 190.1 424.8 188.4 426.6M235.9 431.1C234.1 429.7 234.2 427.4 236.0 425.9 237.5 424.2 238.1 422.0 240.2 421.0M165.8 522.0C169.5 521.2 170.8 517.6 172.1 514.1 175.7 512.8 179.1 511.3 181.2 508.2M201.9 506.6C203.5 504.4 206.0 503.3 208.5 502.0 211.2 502.1 212.9 500.0 213.2 497.2M144.9 517.6C146.1 513.8 148.9 510.8 148.4 506.9 150.8 503.7 154.5 502.2 156.9 498.9M182.8 415.8C187.2 415.3 191.6 415.8 194.7 418.9 194.5 423.3 194.0 427.7 194.0 432.1M206.9 358.3C205.0 356.6 202.6 356.1 200.7 354.5 198.7 353.0 197.5 350.8 195.8 349.0M250.5 426.7C248.7 429.4 246.1 431.4 245.2 434.5 246.5 437.4 244.9 440.3 245.1 443.5M182.8 341.7C180.4 343.5 180.6 346.5 182.1 349.1 182.1 352.1 180.6 354.7 177.9 356.1M179.6 480.6C176.7 480.0 173.7 479.9 171.5 481.9 168.6 481.4 166.1 482.9 163.2 483.0M112.3 502.9C109.6 498.9 110.1 494.0 110.5 489.2 114.2 486.1 117.3 482.4 122.1 482.3M192.3 516.2C193.7 518.9 196.3 520.7 198.6 522.6 201.3 524.2 204.1 522.9 204.7 519.9M163.7 400.1C164.3 397.2 162.6 394.7 160.6 392.5 161.2 389.6 163.7 388.0 166.3 386.6M169.1 452.1C170.7 450.6 172.8 450.6 175.0 450.5 177.0 449.7 179.1 449.0 181.1 448.4M132.2 345.8C132.8 341.2 131.6 336.7 129.8 332.4M119.9 394.6C117.1 391.5 112.9 391.1 108.7 391.4 105.1 389.1 100.9 388.6 96.7 388.9M124.1 398.2C120.9 399.5 117.6 398.6 114.4 399.9 112.3 402.6 111.2 405.9 109.0 408.5M208.6 476.6C206.7 478.5 204.6 480.1 201.9 480.4 199.9 482.1 197.5 483.3 195.8 485.4M162.8 414.1C165.6 412.9 167.8 410.7 170.4 409.0 173.4 409.4 176.3 408.2 178.9 406.6M235.6 447.8C233.2 448.0 231.5 449.8 229.1 449.7 227.6 447.8 228.1 445.4 229.8 443.7M195.1 402.3C197.0 399.0 196.3 395.4 193.2 393.2 191.1 390.1 187.5 389.2 184.5 387.0M153.6 346.6C152.7 342.3 149.9 339.0 146.4 336.4 142.8 333.9 139.2 331.5 134.8 331.2M134.4 338.2C129.6 339.7 124.7 339.0 119.8 338.0M93.9 445.1C89.4 446.8 88.1 451.5 84.0 453.9M96.0 367.5C99.1 370.1 103.2 370.4 107.2 369.9 111.0 368.6 112.4 364.8 116.3 363.9M228.0 485.8C228.1 482.6 230.2 480.2 233.1 478.9 236.1 480.0 238.1 482.5 238.7 485.6M240.7 489.2C241.7 492.6 243.3 495.7 243.9 499.2M179.5 390.5C179.3 393.5 179.3 396.6 179.6 399.7 178.3 402.4 176.2 404.7 173.8 406.6M142.2 345.0C141.6 340.5 140.5 336.1 142.4 331.9 145.9 328.9 149.5 326.1 153.6 324.1M167.1 443.1C168.6 441.3 170.8 440.7 172.4 439.0 174.2 437.6 176.4 437.4 178.0 439.1M149.6 351.7C149.0 347.9 147.6 344.4 143.9 343.4 142.1 340.0 139.6 337.1 135.8 337.2M93.0 445.4C96.3 448.2 100.4 447.0 104.7 447.1 108.7 445.5 111.7 442.4 115.9 442.0M87.2 408.4C89.4 408.2 91.3 407.0 92.4 405.0 92.7 402.8 94.0 400.9 94.9 398.8M204.8 515.9C206.6 512.8 209.2 510.3 209.1 506.7 208.0 503.3 205.6 500.6 206.2 497.0M176.5 403.0C175.6 406.5 172.6 408.5 169.6 410.5 166.2 409.2 163.1 411.0 159.7 412.2M151.7 384.2C146.9 385.6 142.7 382.8 138.8 379.7 134.3 377.6 129.7 379.5 128.1 384.3M126.9 398.3C129.5 398.0 132.0 397.3 133.5 395.2 135.4 393.4 137.1 391.5 139.5 390.3M110.9 370.9C108.3 372.8 107.6 375.9 106.8 379.0 106.9 382.2 107.8 385.3 106.8 388.3M130.1 354.7C133.4 357.8 133.4 362.2 134.5 366.6 136.2 370.7 137.7 374.9 138.1 379.4M168.7 372.8C164.4 370.5 159.8 368.9 155.6 371.2 151.3 369.1 147.0 371.3 146.5 376.2M142.9 505.4C142.2 501.4 142.6 497.3 144.6 493.8 148.4 492.5 151.4 489.7 152.1 485.7M135.0 486.9C137.2 484.6 140.4 484.0 143.4 485.0 145.5 487.5 147.4 490.1 148.4 493.2M98.2 431.5C100.8 429.4 104.2 429.6 106.7 431.9 108.7 434.6 107.9 437.9 109.6 440.8M201.1 408.0C203.5 404.4 207.9 404.2 212.2 404.3 215.0 407.5 218.3 410.3 220.0 414.2M171.0 503.8C170.5 508.0 168.3 511.7 168.9 515.9" fill="none" stroke="#8a8a8a" stroke-width="1.7" stroke-linecap="round" opacity="0.8"/><path d="M105.0 455.3C108.8 455.3 111.1 458.3 114.4 460.1 117.8 461.8 121.2 460.0 124.3 457.8M190.7 356.5C189.0 360.4 189.4 364.6 192.4 367.5 196.5 366.7 200.5 368.2 204.5 369.4M145.0 407.2C144.7 404.1 146.1 401.2 146.2 398.1 143.9 395.9 143.8 392.7 145.3 390.0M139.6 461.4C139.7 464.4 139.5 467.5 138.6 470.4 137.4 473.2 136.6 476.1 135.9 479.1M169.0 382.8C172.4 380.5 176.5 380.8 180.4 381.8 184.3 383.2 188.2 384.1 192.3 384.5M215.8 364.5C219.2 366.6 223.2 366.6 226.5 364.4M223.0 387.3C225.5 386.3 227.7 384.8 227.9 382.2 229.3 379.9 231.0 377.9 233.5 377.0M127.8 344.8C123.2 345.0 118.7 344.2 114.1 344.7 109.6 344.4 105.4 346.5 103.9 350.8M241.5 441.5C237.6 443.6 236.1 447.8 233.1 451.1 230.6 454.7 227.2 457.7 222.9 456.7M133.9 490.2C132.3 491.6 130.3 492.5 128.2 492.4 126.3 491.3 126.1 489.2 125.1 487.2M227.4 415.7C225.8 414.4 224.6 412.6 223.0 411.2 220.9 411.4 219.2 412.6 217.8 414.3M190.7 491.8C191.1 494.7 189.5 497.1 189.4 500.0 187.6 502.3 185.1 503.7 183.2 505.8M115.0 346.2C112.5 349.7 109.0 352.2 107.2 356.2M170.9 470.8C173.4 471.6 174.6 473.9 175.7 476.2 178.1 477.1 179.1 479.4 180.2 481.8M89.2 438.7C84.8 439.9 80.3 440.6 76.3 442.6M222.6 421.5C219.7 418.1 217.1 414.5 213.0 412.8 208.8 411.6 204.4 412.4 201.7 415.9M222.2 453.0C221.7 448.3 220.4 443.8 217.3 440.3 214.4 436.6 214.9 431.9 218.8 429.4M178.2 345.0C176.0 348.7 176.8 352.9 178.9 356.7 182.9 358.5 187.1 357.4 189.2 353.7M144.6 352.3C144.9 350.3 144.1 348.3 144.9 346.4 146.8 345.5 148.0 343.8 147.4 341.8M209.7 375.9C212.4 374.1 213.5 371.1 216.2 369.3 219.3 370.0 221.3 372.5 221.8 375.7M145.5 335.2C148.2 337.6 151.8 337.9 155.4 337.5 158.8 336.4 162.4 336.6 164.9 333.9M172.5 411.1C175.5 413.0 179.0 412.8 180.9 409.8 184.3 408.7 187.6 407.3 188.8 403.9M178.6 441.1C175.3 444.5 172.4 448.0 171.6 452.6 172.8 457.1 170.3 461.1 168.7 465.4M181.2 353.1C180.3 348.2 178.4 343.7 174.6 340.5M89.1 471.5C91.5 470.9 93.9 470.3 96.2 471.4 98.6 470.8 99.5 468.5 99.6 466.0M104.1 472.5C108.1 473.1 112.2 473.3 115.4 475.8 119.1 477.5 122.9 479.2 127.0 479.0M224.5 490.9C224.3 488.7 224.2 486.6 224.1 484.4 225.8 483.1 226.2 481.0 227.3 479.1M212.3 403.1C211.1 404.9 210.6 407.1 210.4 409.3 211.1 411.4 212.4 413.1 211.8 415.3M195.3 507.1C191.1 505.8 187.0 507.4 183.2 505.1 179.0 506.2 174.6 506.6 170.4 507.8M205.2 384.5C201.1 384.5 197.1 383.7 193.1 382.7 189.1 382.7 186.0 385.4 185.6 389.5M208.4 417.9C211.2 417.7 213.3 415.7 214.3 413.0 213.0 410.5 213.5 407.7 215.8 406.1M154.3 392.4C153.8 389.0 153.7 385.7 154.0 382.3 155.9 379.6 158.8 378.0 161.8 379.6M130.4 474.0C128.4 476.7 127.7 480.1 126.5 483.3 127.8 486.5 129.7 489.4 132.4 491.4M169.7 361.8C166.9 360.7 166.1 357.7 167.0 354.7 169.1 352.5 172.2 352.1 174.2 349.9M120.9 477.7C124.0 481.4 124.2 486.3 123.6 491.1 122.5 495.9 122.5 500.7 121.0 505.3M149.8 495.2C149.2 497.4 150.1 499.5 152.1 500.6 152.2 502.9 151.2 504.9 150.9 507.1M150.0 428.4C150.9 431.1 153.2 432.9 156.0 432.9 158.2 434.9 159.0 437.6 157.2 439.9M188.3 356.4C183.6 355.4 180.5 351.9 176.1 350.3 171.7 352.0 167.7 349.5 163.6 347.1M236.0 439.8C234.6 443.7 235.9 447.6 235.1 451.6 231.2 453.0 227.3 451.7 224.1 449.1M217.3 489.8C220.1 486.0 219.1 481.4 219.4 476.7 216.5 472.9 215.9 468.2 219.4 465.1M206.8 347.9C205.1 351.9 203.6 356.0 203.9 360.3 206.8 363.6 210.7 365.6 214.9 366.6M129.3 487.0C130.1 489.6 131.2 492.2 132.6 494.6 135.4 495.1 138.1 495.3 140.3 497.0M239.4 487.3C238.0 491.0 236.9 494.7 233.3 496.2 229.6 497.6 225.7 497.7 221.8 498.0M189.5 440.2C191.7 441.8 193.9 443.4 194.8 446.0 197.1 447.5 199.7 446.6 202.4 446.6M182.8 451.4C185.3 450.3 187.9 451.2 189.0 453.7 188.6 456.4 189.4 459.0 188.4 461.5M236.8 484.2C237.1 486.7 235.5 488.6 233.8 490.4 232.1 492.2 229.8 493.1 228.7 495.3M156.3 391.8C154.5 393.8 151.8 393.5 149.7 392.0 149.5 389.3 149.5 386.6 148.7 384.0M89.8 442.9C92.1 440.4 94.9 438.5 97.4 436.1 100.2 434.2 102.2 431.5 101.8 428.1M182.0 475.8C178.9 473.7 177.0 470.4 173.7 468.7 170.3 470.3 167.0 472.1 163.3 472.0M143.0 406.8C142.1 403.3 144.2 400.5 145.4 397.1 147.3 394.1 146.9 390.6 148.3 387.4M140.8 473.2C136.1 473.9 133.5 477.8 128.8 478.2 124.1 478.6 119.9 476.3 115.7 474.2M138.7 423.1C137.8 419.3 137.7 415.4 135.5 412.2 134.9 408.3 131.8 405.9 131.2 402.0M154.8 401.6C156.8 401.8 158.8 401.1 160.5 399.9 161.6 398.2 162.3 396.2 163.7 394.8M115.7 381.2C113.4 377.8 111.7 374.1 111.7 370.0 112.9 366.1 116.4 363.9 120.4 363.0M153.7 353.1C154.7 355.8 155.7 358.4 156.6 361.2 155.2 363.7 152.7 365.0 150.0 366.0M183.1 358.7C180.9 355.8 180.8 352.1 180.3 348.4 178.5 345.1 180.2 341.7 181.3 338.2M143.1 430.6C141.8 428.8 139.5 428.5 137.6 427.2 137.2 425.0 138.6 423.3 140.3 421.8M147.4 500.0C147.8 502.6 150.0 504.1 152.7 503.7 154.8 505.3 157.1 506.6 159.6 505.6M145.7 381.0C147.4 382.6 149.2 384.0 149.5 386.2 151.3 387.7 153.3 388.6 154.0 390.7M179.5 512.7C182.8 511.1 186.2 512.6 189.9 512.4 193.0 514.4 194.0 518.0 197.4 519.6" fill="none" stroke="#bdbdbd" stroke-width="1.5" stroke-linecap="round" opacity="0.7"/></g><path d="M167 332C168 380 166 430 166 470C166 500 166 515 165 525" stroke="#8a8a8a" stroke-width="1.6" fill="none"/><ellipse cx="236.7" cy="443.3" rx="5.2" ry="4.8" fill="#f2f2f2"/><ellipse cx="237.3" cy="454.8" rx="5.2" ry="4.8" fill="#f0f0f0"/><ellipse cx="239.3" cy="466.5" rx="5.2" ry="4.8" fill="#ececec"/><ellipse cx="239.3" cy="488.8" rx="5.2" ry="4.8" fill="#f0f0f0"/><ellipse cx="239.3" cy="498.9" rx="5.2" ry="4.8" fill="#f2f2f2"/><ellipse cx="241.3" cy="478.7" rx="5.2" ry="4.8" fill="#ee2222"/><text x="-1.5" y="275.0" font-size="42" font-weight="bold">b</text><path d="M391.5 253.9V375.2H595.2" stroke="#333" stroke-width="1.3" fill="none"/><path d="M442.4 375.2v-3M493.4 375.2v-3M544.3 375.2v-3M595.2 375.2v-3M391.5 350.9h3M391.5 326.7h3M391.5 302.4h3M391.5 278.2h3M391.5 253.9h3" stroke="#333" stroke-width="1.1" fill="none"/><polyline points="416.7,257.0 420.7,263.7 425.0,268.7 429.1,277.0 433.7,284.4 437.4,289.6 441.1,299.6 445.2,304.8 449.4,303.0 453.7,300.7 457.8,302.4 461.5,300.2 465.6,296.1 470.7,294.6 476.3,295.2 481.9,298.3 487.4,303.9 493.9,313.1 500.4,319.6 507.8,325.6 515.2,331.1 522.6,335.6 527.2,337.2 533.7,340.9 539.3,345.0 546.7,347.8 555.9,350.7 565.2,353.0 572.6,354.4 580.0,357.0 586.5,360.7 592.6,365.2" fill="none" stroke="#000" stroke-width="1.5" stroke-linejoin="round"/><text x="378.4" y="288.7" text-anchor="end">6</text><text x="378.4" y="381.8" text-anchor="end">4</text><text x="391.5" y="408.5" text-anchor="middle">0</text><text x="493.4" y="408.5" text-anchor="middle">100</text><text x="595.2" y="408.5" text-anchor="middle">200</text><text x="503.6" y="444.6" text-anchor="middle">Frequency (Hz)</text><text x="337.2" y="314.3" text-anchor="middle" transform="rotate(-90 337.2 314.3)">Log power</text><g clip-path="url(#cl1)"><g filter="url(#fc)"><path fill="#050505" d="M398 581h4v4h-4zM398 585h4v4h-4zM398 589h4v4h-4zM398 593h4v4h-4zM398 597h4v4h-4zM398 601h4v4h-4zM514 653h20v4h-20zM482 657h76v4h-76zM482 661h76v4h-76zM482 665h76v4h-76zM482 669h76v4h-76z"/><path fill="#0b0b0b" d="M398 569h4v4h-4zM434 569h4v4h-4zM398 573h8v4h-8zM434 573h8v4h-8zM394 577h12v4h-12zM434 577h8v4h-8zM394 581h4v4h-4zM402 581h4v4h-4zM434 581h8v4h-8zM394 585h4v4h-4zM402 585h4v4h-4zM434 585h8v4h-8zM394 589h4v4h-4zM402 589h4v4h-4zM434 589h8v4h-8zM394 593h4v4h-4zM402 593h4v4h-4zM434 593h8v4h-8zM394 597h4v4h-4zM402 597h4v4h-4zM434 597h8v4h-8zM394 601h4v4h-4zM402 601h4v4h-4zM434 601h4v4h-4zM398 605h8v4h-8zM398 609h8v4h-8zM398 613h8v4h-8zM486 653h28v4h-28zM534 653h40v4h-40zM474 657h8v4h-8zM558 657h20v4h-20zM474 661h8v4h-8zM558 661h20v4h-20zM474 665h8v4h-8zM558 665h20v4h-20zM474 669h8v4h-8zM558 669h20v4h-20z"/><path fill="#101010" d="M434 541h4v4h-4zM434 545h8v4h-8zM430 549h12v4h-12zM430 553h12v4h-12zM430 557h16v4h-16zM398 561h4v4h-4zM430 561h16v4h-16zM394 565h12v4h-12zM430 565h16v4h-16zM394 569h4v4h-4zM402 569h4v4h-4zM430 569h4v4h-4zM438 569h8v4h-8zM394 573h4v4h-4zM406 573h4v4h-4zM430 573h4v4h-4zM442 573h4v4h-4zM406 577h4v4h-4zM430 577h4v4h-4zM442 577h4v4h-4zM382 581h12v4h-12zM406 581h4v4h-4zM430 581h4v4h-4zM442 581h4v4h-4zM382 585h12v4h-12zM406 585h4v4h-4zM430 585h4v4h-4zM442 585h4v4h-4zM382 589h12v4h-12zM406 589h4v4h-4zM430 589h4v4h-4zM442 589h4v4h-4zM382 593h12v4h-12zM406 593h4v4h-4zM430 593h4v4h-4zM442 593h4v4h-4zM406 597h4v4h-4zM430 597h4v4h-4zM442 597h4v4h-4zM406 601h4v4h-4zM430 601h4v4h-4zM438 601h8v4h-8zM394 605h4v4h-4zM406 605h4v4h-4zM430 605h16v4h-16zM394 609h4v4h-4zM406 609h4v4h-4zM430 609h16v4h-16zM394 613h4v4h-4zM406 613h4v4h-4zM430 613h12v4h-12zM394 617h16v4h-16zM434 617h8v4h-8zM398 621h8v4h-8zM434 621h8v4h-8zM398 625h8v4h-8zM434 625h8v4h-8zM434 629h8v4h-8zM434 633h4v4h-4zM506 649h72v4h-72zM474 653h12v4h-12zM574 653h28v4h-28zM578 657h24v4h-24zM470 661h4v4h-4zM578 661h24v4h-24zM470 665h4v4h-4zM578 665h24v4h-24zM470 669h4v4h-4zM578 669h24v4h-24z"/><path fill="#161616" d="M434 521h4v4h-4zM430 525h12v4h-12zM430 529h12v4h-12zM426 533h16v4h-16zM426 537h20v4h-20zM426 541h8v4h-8zM438 541h8v4h-8zM426 545h8v4h-8zM442 545h4v4h-4zM398 549h4v4h-4zM426 549h4v4h-4zM442 549h4v4h-4zM394 553h12v4h-12zM426 553h4v4h-4zM442 553h4v4h-4zM394 557h16v4h-16zM426 557h4v4h-4zM446 557h4v4h-4zM382 561h16v4h-16zM402 561h8v4h-8zM426 561h4v4h-4zM446 561h4v4h-4zM382 565h12v4h-12zM406 565h4v4h-4zM426 565h4v4h-4zM446 565h4v4h-4zM382 569h12v4h-12zM406 569h4v4h-4zM426 569h4v4h-4zM446 569h4v4h-4zM382 573h12v4h-12zM410 573h4v4h-4zM426 573h4v4h-4zM446 573h4v4h-4zM382 577h12v4h-12zM410 577h4v4h-4zM426 577h4v4h-4zM446 577h4v4h-4zM410 581h4v4h-4zM426 581h4v4h-4zM446 581h4v4h-4zM410 585h4v4h-4zM426 585h4v4h-4zM446 585h4v4h-4zM410 589h4v4h-4zM426 589h4v4h-4zM446 589h4v4h-4zM410 593h4v4h-4zM426 593h4v4h-4zM382 597h12v4h-12zM410 597h4v4h-4zM426 597h4v4h-4zM382 601h12v4h-12zM410 601h4v4h-4zM426 601h4v4h-4zM382 605h12v4h-12zM410 605h4v4h-4zM426 605h4v4h-4zM382 609h12v4h-12zM410 609h4v4h-4zM426 609h4v4h-4zM382 613h12v4h-12zM410 613h4v4h-4zM442 613h4v4h-4zM382 617h12v4h-12zM410 617h4v4h-4zM430 617h4v4h-4zM442 617h4v4h-4zM382 621h16v4h-16zM406 621h8v4h-8zM430 621h4v4h-4zM442 621h4v4h-4zM394 625h4v4h-4zM406 625h4v4h-4zM430 625h4v4h-4zM442 625h4v4h-4zM394 629h16v4h-16zM430 629h4v4h-4zM442 629h4v4h-4zM398 633h12v4h-12zM430 633h4v4h-4zM438 633h8v4h-8zM402 637h4v4h-4zM430 637h16v4h-16zM434 641h8v4h-8zM558 645h12v4h-12zM494 649h12v4h-12zM578 649h24v4h-24zM470 653h4v4h-4zM470 657h4v4h-4z"/><path fill="#1b1b1b" d="M586 461h16v4h-16zM586 465h16v4h-16zM586 469h16v4h-16zM586 473h16v4h-16zM586 477h16v4h-16zM586 481h16v4h-16zM430 485h8v4h-8zM586 485h16v4h-16zM430 489h8v4h-8zM586 489h16v4h-16zM430 493h8v4h-8zM586 493h16v4h-16zM430 497h8v4h-8zM586 497h16v4h-16zM426 501h16v4h-16zM586 501h16v4h-16zM426 505h16v4h-16zM586 505h16v4h-16zM426 509h16v4h-16zM586 509h16v4h-16zM426 513h16v4h-16zM586 513h16v4h-16zM426 517h20v4h-20zM586 517h16v4h-16zM422 521h12v4h-12zM438 521h8v4h-8zM586 521h16v4h-16zM422 525h8v4h-8zM442 525h4v4h-4zM586 525h16v4h-16zM382 529h16v4h-16zM422 529h8v4h-8zM442 529h4v4h-4zM586 529h16v4h-16zM382 533h28v4h-28zM422 533h4v4h-4zM442 533h8v4h-8zM586 533h16v4h-16zM382 537h32v4h-32zM418 537h8v4h-8zM446 537h4v4h-4zM586 537h16v4h-16zM382 541h44v4h-44zM446 541h4v4h-4zM586 541h16v4h-16zM382 545h44v4h-44zM446 545h4v4h-4zM586 545h16v4h-16zM382 549h16v4h-16zM402 549h24v4h-24zM446 549h4v4h-4zM586 549h16v4h-16zM382 553h12v4h-12zM406 553h20v4h-20zM446 553h4v4h-4zM586 553h16v4h-16zM382 557h12v4h-12zM410 557h16v4h-16zM586 557h16v4h-16zM410 561h16v4h-16zM586 561h16v4h-16zM410 565h16v4h-16zM586 565h16v4h-16zM410 569h16v4h-16zM586 569h16v4h-16zM414 573h12v4h-12zM586 573h16v4h-16zM414 577h12v4h-12zM586 577h16v4h-16zM414 581h12v4h-12zM586 581h16v4h-16zM414 585h12v4h-12zM586 585h16v4h-16zM414 589h12v4h-12zM586 589h16v4h-16zM414 593h12v4h-12zM446 593h4v4h-4zM586 593h16v4h-16zM414 597h12v4h-12zM446 597h4v4h-4zM586 597h16v4h-16zM414 601h4v4h-4zM422 601h4v4h-4zM446 601h4v4h-4zM586 601h16v4h-16zM414 605h4v4h-4zM422 605h4v4h-4zM446 605h4v4h-4zM586 605h16v4h-16zM414 609h4v4h-4zM422 609h4v4h-4zM446 609h4v4h-4zM586 609h16v4h-16zM414 613h4v4h-4zM422 613h8v4h-8zM446 613h4v4h-4zM586 613h16v4h-16zM414 617h4v4h-4zM426 617h4v4h-4zM446 617h4v4h-4zM586 617h16v4h-16zM414 621h4v4h-4zM426 621h4v4h-4zM446 621h4v4h-4zM586 621h16v4h-16zM382 625h12v4h-12zM410 625h8v4h-8zM426 625h4v4h-4zM446 625h4v4h-4zM586 625h16v4h-16zM382 629h12v4h-12zM410 629h8v4h-8zM426 629h4v4h-4zM446 629h4v4h-4zM586 629h16v4h-16zM382 633h16v4h-16zM410 633h8v4h-8zM426 633h4v4h-4zM446 633h4v4h-4zM586 633h16v4h-16zM382 637h20v4h-20zM406 637h12v4h-12zM426 637h4v4h-4zM446 637h4v4h-4zM582 637h20v4h-20zM398 641h16v4h-16zM426 641h8v4h-8zM442 641h4v4h-4zM558 641h44v4h-44zM514 645h24v4h-24zM542 645h16v4h-16zM570 645h32v4h-32zM490 649h4v4h-4z"/><path fill="#212121" d="M382 461h72v4h-72zM550 461h24v4h-24zM582 461h4v4h-4zM382 465h72v4h-72zM550 465h24v4h-24zM582 465h4v4h-4zM382 469h72v4h-72zM550 469h24v4h-24zM582 469h4v4h-4zM382 473h12v4h-12zM402 473h48v4h-48zM550 473h24v4h-24zM582 473h4v4h-4zM382 477h12v4h-12zM402 477h48v4h-48zM550 477h24v4h-24zM582 477h4v4h-4zM402 481h48v4h-48zM542 481h28v4h-28zM582 481h4v4h-4zM402 485h28v4h-28zM438 485h12v4h-12zM538 485h32v4h-32zM582 485h4v4h-4zM402 489h28v4h-28zM438 489h12v4h-12zM538 489h32v4h-32zM582 489h4v4h-4zM402 493h28v4h-28zM438 493h12v4h-12zM538 493h8v4h-8zM550 493h20v4h-20zM582 493h4v4h-4zM402 497h28v4h-28zM438 497h12v4h-12zM538 497h8v4h-8zM554 497h16v4h-16zM582 497h4v4h-4zM382 501h12v4h-12zM402 501h24v4h-24zM442 501h8v4h-8zM526 501h4v4h-4zM538 501h8v4h-8zM554 501h16v4h-16zM582 501h4v4h-4zM382 505h12v4h-12zM402 505h24v4h-24zM442 505h8v4h-8zM522 505h8v4h-8zM538 505h8v4h-8zM554 505h16v4h-16zM382 509h44v4h-44zM442 509h8v4h-8zM522 509h8v4h-8zM538 509h4v4h-4zM554 509h16v4h-16zM382 513h44v4h-44zM442 513h8v4h-8zM522 513h8v4h-8zM538 513h4v4h-4zM558 513h12v4h-12zM382 517h44v4h-44zM446 517h4v4h-4zM522 517h8v4h-8zM538 517h4v4h-4zM558 517h12v4h-12zM382 521h40v4h-40zM446 521h4v4h-4zM522 521h8v4h-8zM538 521h4v4h-4zM558 521h12v4h-12zM382 525h40v4h-40zM446 525h4v4h-4zM522 525h8v4h-8zM562 525h8v4h-8zM398 529h24v4h-24zM446 529h4v4h-4zM522 529h8v4h-8zM410 533h12v4h-12zM414 537h4v4h-4zM582 537h4v4h-4zM582 541h4v4h-4zM582 545h4v4h-4zM450 549h4v4h-4zM582 549h4v4h-4zM450 553h4v4h-4zM582 553h4v4h-4zM450 557h4v4h-4zM566 557h4v4h-4zM582 557h4v4h-4zM450 561h4v4h-4zM566 561h8v4h-8zM582 561h4v4h-4zM450 565h4v4h-4zM566 565h8v4h-8zM582 565h4v4h-4zM450 569h4v4h-4zM562 569h12v4h-12zM582 569h4v4h-4zM450 573h4v4h-4zM558 573h16v4h-16zM582 573h4v4h-4zM450 577h4v4h-4zM558 577h16v4h-16zM582 577h4v4h-4zM450 581h4v4h-4zM554 581h24v4h-24zM582 581h4v4h-4zM450 585h4v4h-4zM554 585h32v4h-32zM450 589h4v4h-4zM554 589h32v4h-32zM554 593h32v4h-32zM554 597h32v4h-32zM418 601h4v4h-4zM554 601h32v4h-32zM418 605h4v4h-4zM554 605h32v4h-32zM418 609h4v4h-4zM554 609h32v4h-32zM418 613h4v4h-4zM554 613h32v4h-32zM418 617h8v4h-8zM554 617h32v4h-32zM418 621h8v4h-8zM554 621h32v4h-32zM418 625h8v4h-8zM554 625h32v4h-32zM418 629h8v4h-8zM554 629h32v4h-32zM418 633h8v4h-8zM518 633h4v4h-4zM554 633h32v4h-32zM418 637h8v4h-8zM518 637h8v4h-8zM554 637h28v4h-28zM382 641h16v4h-16zM414 641h12v4h-12zM446 641h4v4h-4zM514 641h16v4h-16zM550 641h8v4h-8zM430 645h16v4h-16zM506 645h8v4h-8zM538 645h4v4h-4zM486 649h4v4h-4zM466 653h4v4h-4zM466 657h4v4h-4zM466 661h4v4h-4zM466 665h4v4h-4zM466 669h4v4h-4z"/><path fill="#262626" d="M518 461h32v4h-32zM574 461h8v4h-8zM518 465h32v4h-32zM574 465h8v4h-8zM518 469h32v4h-32zM574 469h8v4h-8zM394 473h8v4h-8zM450 473h4v4h-4zM518 473h32v4h-32zM574 473h8v4h-8zM394 477h8v4h-8zM450 477h4v4h-4zM518 477h32v4h-32zM574 477h8v4h-8zM382 481h20v4h-20zM450 481h4v4h-4zM518 481h24v4h-24zM570 481h12v4h-12zM382 485h20v4h-20zM450 485h4v4h-4zM518 485h20v4h-20zM570 485h12v4h-12zM382 489h20v4h-20zM450 489h4v4h-4zM518 489h20v4h-20zM570 489h12v4h-12zM382 493h20v4h-20zM450 493h4v4h-4zM518 493h20v4h-20zM546 493h4v4h-4zM570 493h12v4h-12zM382 497h20v4h-20zM518 497h20v4h-20zM546 497h8v4h-8zM570 497h12v4h-12zM394 501h8v4h-8zM514 501h12v4h-12zM530 501h8v4h-8zM546 501h8v4h-8zM570 501h12v4h-12zM394 505h8v4h-8zM514 505h8v4h-8zM530 505h8v4h-8zM546 505h8v4h-8zM570 505h16v4h-16zM514 509h8v4h-8zM530 509h8v4h-8zM542 509h12v4h-12zM570 509h4v4h-4zM582 509h4v4h-4zM514 513h8v4h-8zM530 513h8v4h-8zM542 513h16v4h-16zM570 513h4v4h-4zM582 513h4v4h-4zM514 517h8v4h-8zM530 517h8v4h-8zM542 517h16v4h-16zM570 517h4v4h-4zM582 517h4v4h-4zM450 521h4v4h-4zM514 521h8v4h-8zM530 521h8v4h-8zM542 521h16v4h-16zM570 521h4v4h-4zM582 521h4v4h-4zM450 525h4v4h-4zM514 525h8v4h-8zM530 525h32v4h-32zM570 525h4v4h-4zM582 525h4v4h-4zM450 529h4v4h-4zM514 529h8v4h-8zM530 529h44v4h-44zM582 529h4v4h-4zM450 533h4v4h-4zM514 533h60v4h-60zM582 533h4v4h-4zM450 537h4v4h-4zM514 537h60v4h-60zM578 537h4v4h-4zM450 541h4v4h-4zM514 541h68v4h-68zM450 545h4v4h-4zM514 545h68v4h-68zM514 549h68v4h-68zM514 553h68v4h-68zM514 557h52v4h-52zM570 557h12v4h-12zM514 561h52v4h-52zM574 561h8v4h-8zM514 565h52v4h-52zM574 565h8v4h-8zM514 569h48v4h-48zM574 569h8v4h-8zM514 573h44v4h-44zM574 573h8v4h-8zM514 577h44v4h-44zM574 577h8v4h-8zM514 581h40v4h-40zM578 581h4v4h-4zM514 585h40v4h-40zM514 589h24v4h-24zM542 589h12v4h-12zM450 593h4v4h-4zM514 593h24v4h-24zM546 593h8v4h-8zM450 597h4v4h-4zM514 597h24v4h-24zM546 597h8v4h-8zM450 601h4v4h-4zM514 601h20v4h-20zM546 601h8v4h-8zM450 605h4v4h-4zM514 605h20v4h-20zM546 605h8v4h-8zM450 609h4v4h-4zM514 609h20v4h-20zM546 609h8v4h-8zM450 613h4v4h-4zM514 613h20v4h-20zM546 613h8v4h-8zM450 617h4v4h-4zM514 617h16v4h-16zM546 617h8v4h-8zM450 621h4v4h-4zM514 621h16v4h-16zM550 621h4v4h-4zM450 625h4v4h-4zM514 625h16v4h-16zM550 625h4v4h-4zM450 629h4v4h-4zM514 629h16v4h-16zM550 629h4v4h-4zM450 633h4v4h-4zM514 633h4v4h-4zM522 633h12v4h-12zM546 633h8v4h-8zM450 637h4v4h-4zM514 637h4v4h-4zM526 637h8v4h-8zM546 637h8v4h-8zM450 641h4v4h-4zM510 641h4v4h-4zM530 641h20v4h-20zM382 645h48v4h-48zM446 645h4v4h-4zM498 645h8v4h-8zM474 649h12v4h-12z"/><path fill="#2b2b2b" d="M454 461h4v4h-4zM510 461h8v4h-8zM454 465h4v4h-4zM510 465h8v4h-8zM454 469h4v4h-4zM510 469h8v4h-8zM510 473h8v4h-8zM510 477h8v4h-8zM510 481h8v4h-8zM510 485h8v4h-8zM510 489h8v4h-8zM510 493h8v4h-8zM450 497h4v4h-4zM510 497h8v4h-8zM450 501h4v4h-4zM510 501h4v4h-4zM450 505h4v4h-4zM510 505h4v4h-4zM450 509h4v4h-4zM510 509h4v4h-4zM574 509h8v4h-8zM450 513h4v4h-4zM510 513h4v4h-4zM574 513h8v4h-8zM450 517h4v4h-4zM510 517h4v4h-4zM574 517h8v4h-8zM510 521h4v4h-4zM574 521h8v4h-8zM510 525h4v4h-4zM574 525h8v4h-8zM510 529h4v4h-4zM574 529h8v4h-8zM510 533h4v4h-4zM574 533h8v4h-8zM510 537h4v4h-4zM574 537h4v4h-4zM510 541h4v4h-4zM510 545h4v4h-4zM510 549h4v4h-4zM510 553h4v4h-4zM510 557h4v4h-4zM510 561h4v4h-4zM510 565h4v4h-4zM510 569h4v4h-4zM510 573h4v4h-4zM510 577h4v4h-4zM510 581h4v4h-4zM510 585h4v4h-4zM510 589h4v4h-4zM538 589h4v4h-4zM510 593h4v4h-4zM538 593h8v4h-8zM510 597h4v4h-4zM538 597h8v4h-8zM510 601h4v4h-4zM534 601h12v4h-12zM510 605h4v4h-4zM534 605h12v4h-12zM510 609h4v4h-4zM534 609h12v4h-12zM510 613h4v4h-4zM534 613h12v4h-12zM510 617h4v4h-4zM530 617h16v4h-16zM510 621h4v4h-4zM530 621h20v4h-20zM510 625h4v4h-4zM530 625h20v4h-20zM510 629h4v4h-4zM530 629h20v4h-20zM510 633h4v4h-4zM534 633h12v4h-12zM510 637h4v4h-4zM534 637h12v4h-12zM506 641h4v4h-4zM450 645h4v4h-4zM494 645h4v4h-4zM430 649h16v4h-16zM470 649h4v4h-4zM462 653h4v4h-4zM462 657h4v4h-4zM462 661h4v4h-4zM462 665h4v4h-4zM462 669h4v4h-4z"/><path fill="#313131" d="M506 461h4v4h-4zM506 465h4v4h-4zM506 469h4v4h-4zM454 473h4v4h-4zM506 473h4v4h-4zM454 477h4v4h-4zM506 477h4v4h-4zM454 481h4v4h-4zM506 481h4v4h-4zM454 485h4v4h-4zM506 485h4v4h-4zM454 489h4v4h-4zM506 489h4v4h-4zM506 493h4v4h-4zM506 497h4v4h-4zM506 501h4v4h-4zM506 505h4v4h-4zM506 509h4v4h-4zM506 513h4v4h-4zM506 517h4v4h-4zM506 521h4v4h-4zM506 525h4v4h-4zM506 529h4v4h-4zM506 533h4v4h-4zM454 537h4v4h-4zM506 537h4v4h-4zM454 541h4v4h-4zM506 541h4v4h-4zM454 545h4v4h-4zM506 545h4v4h-4zM454 549h4v4h-4zM506 549h4v4h-4zM454 553h4v4h-4zM506 553h4v4h-4zM454 557h4v4h-4zM506 557h4v4h-4zM454 561h4v4h-4zM506 561h4v4h-4zM454 565h4v4h-4zM506 565h4v4h-4zM454 569h4v4h-4zM506 569h4v4h-4zM454 573h4v4h-4zM506 573h4v4h-4zM454 577h4v4h-4zM506 577h4v4h-4zM454 581h4v4h-4zM506 581h4v4h-4zM454 585h4v4h-4zM506 585h4v4h-4zM454 589h4v4h-4zM506 589h4v4h-4zM454 593h4v4h-4zM506 593h4v4h-4zM454 597h4v4h-4zM506 597h4v4h-4zM454 601h4v4h-4zM506 601h4v4h-4zM454 605h4v4h-4zM506 605h4v4h-4zM454 609h4v4h-4zM506 609h4v4h-4zM454 613h4v4h-4zM506 613h4v4h-4zM454 617h4v4h-4zM506 617h4v4h-4zM454 621h4v4h-4zM506 621h4v4h-4zM454 625h4v4h-4zM506 625h4v4h-4zM454 629h4v4h-4zM506 629h4v4h-4zM454 633h4v4h-4zM506 633h4v4h-4zM454 637h4v4h-4zM502 637h8v4h-8zM454 641h4v4h-4zM502 641h4v4h-4zM454 645h4v4h-4zM382 649h48v4h-48zM446 649h12v4h-12zM462 649h8v4h-8zM458 653h4v4h-4zM458 657h4v4h-4zM458 661h4v4h-4zM458 665h4v4h-4zM458 669h4v4h-4z"/><path fill="#363636" d="M502 461h4v4h-4zM502 465h4v4h-4zM502 469h4v4h-4zM502 473h4v4h-4zM502 477h4v4h-4zM502 481h4v4h-4zM502 485h4v4h-4zM502 489h4v4h-4zM454 493h4v4h-4zM502 493h4v4h-4zM454 497h4v4h-4zM502 497h4v4h-4zM454 501h4v4h-4zM502 501h4v4h-4zM454 505h4v4h-4zM502 505h4v4h-4zM454 509h4v4h-4zM502 509h4v4h-4zM454 513h4v4h-4zM502 513h4v4h-4zM454 517h4v4h-4zM502 517h4v4h-4zM454 521h4v4h-4zM502 521h4v4h-4zM454 525h4v4h-4zM502 525h4v4h-4zM454 529h4v4h-4zM502 529h4v4h-4zM454 533h4v4h-4zM502 533h4v4h-4zM502 537h4v4h-4zM502 541h4v4h-4zM502 545h4v4h-4zM502 549h4v4h-4zM502 553h4v4h-4zM502 557h4v4h-4zM502 561h4v4h-4zM502 565h4v4h-4zM502 569h4v4h-4zM502 573h4v4h-4zM502 577h4v4h-4zM502 581h4v4h-4zM502 585h4v4h-4zM502 589h4v4h-4zM502 593h4v4h-4zM502 597h4v4h-4zM502 601h4v4h-4zM502 605h4v4h-4zM502 609h4v4h-4zM502 613h4v4h-4zM502 617h4v4h-4zM502 621h4v4h-4zM502 625h4v4h-4zM502 629h4v4h-4zM502 633h4v4h-4zM498 637h4v4h-4zM498 641h4v4h-4zM490 645h4v4h-4zM458 649h4v4h-4zM382 653h76v4h-76zM382 657h76v4h-76zM382 661h76v4h-76zM382 665h76v4h-76zM382 669h76v4h-76z"/><path fill="#3c3c3c" d="M458 461h4v4h-4zM498 461h4v4h-4zM458 465h4v4h-4zM498 465h4v4h-4zM458 469h4v4h-4zM498 469h4v4h-4zM458 473h4v4h-4zM498 473h4v4h-4zM458 477h4v4h-4zM498 477h4v4h-4zM458 481h4v4h-4zM498 481h4v4h-4zM498 485h4v4h-4zM498 489h4v4h-4zM498 493h4v4h-4zM498 497h4v4h-4zM498 501h4v4h-4zM498 505h4v4h-4zM498 509h4v4h-4zM498 513h4v4h-4zM498 517h4v4h-4zM498 521h4v4h-4zM498 525h4v4h-4zM498 529h4v4h-4zM498 533h4v4h-4zM498 537h4v4h-4zM498 541h4v4h-4zM498 545h4v4h-4zM498 549h4v4h-4zM498 553h4v4h-4zM498 557h4v4h-4zM498 561h4v4h-4zM498 565h4v4h-4zM498 569h4v4h-4zM498 573h4v4h-4zM498 577h4v4h-4zM498 581h4v4h-4zM498 585h4v4h-4zM498 589h4v4h-4zM498 593h4v4h-4zM498 597h4v4h-4zM498 601h4v4h-4zM498 605h4v4h-4zM498 609h4v4h-4zM498 613h4v4h-4zM498 617h4v4h-4zM498 621h4v4h-4zM498 625h4v4h-4zM498 629h4v4h-4zM498 633h4v4h-4zM458 641h4v4h-4zM494 641h4v4h-4zM458 645h4v4h-4z"/><path fill="#414141" d="M494 461h4v4h-4zM494 465h4v4h-4zM494 469h4v4h-4zM494 473h4v4h-4zM494 477h4v4h-4zM494 481h4v4h-4zM458 485h4v4h-4zM494 485h4v4h-4zM458 489h4v4h-4zM494 489h4v4h-4zM458 493h4v4h-4zM458 497h4v4h-4zM458 501h4v4h-4zM458 505h4v4h-4zM458 509h4v4h-4zM458 513h4v4h-4zM458 517h4v4h-4zM458 521h4v4h-4zM458 525h4v4h-4zM458 529h4v4h-4zM458 533h4v4h-4zM458 537h4v4h-4zM458 541h4v4h-4zM458 545h4v4h-4zM458 549h4v4h-4zM458 553h4v4h-4zM458 557h4v4h-4zM458 561h4v4h-4zM458 565h4v4h-4zM458 569h4v4h-4zM458 573h4v4h-4zM458 577h4v4h-4zM458 581h4v4h-4zM458 621h4v4h-4zM458 625h4v4h-4zM458 629h4v4h-4zM458 633h4v4h-4zM494 633h4v4h-4zM458 637h4v4h-4zM494 637h4v4h-4zM462 645h4v4h-4zM486 645h4v4h-4z"/><path fill="#474747" d="M462 461h4v4h-4zM490 461h4v4h-4zM462 465h4v4h-4zM490 465h4v4h-4zM462 469h4v4h-4zM490 469h4v4h-4zM462 473h4v4h-4zM490 473h4v4h-4zM462 477h4v4h-4zM462 481h4v4h-4zM494 493h4v4h-4zM494 497h4v4h-4zM494 501h4v4h-4zM494 505h4v4h-4zM494 509h4v4h-4zM494 513h4v4h-4zM494 517h4v4h-4zM494 521h4v4h-4zM494 525h4v4h-4zM494 529h4v4h-4zM494 533h4v4h-4zM494 537h4v4h-4zM494 541h4v4h-4zM494 545h4v4h-4zM494 549h4v4h-4zM494 553h4v4h-4zM494 557h4v4h-4zM458 585h4v4h-4zM458 589h4v4h-4zM458 593h4v4h-4zM458 597h4v4h-4zM458 601h4v4h-4zM458 605h4v4h-4zM458 609h4v4h-4zM458 613h4v4h-4zM458 617h4v4h-4zM494 617h4v4h-4zM494 621h4v4h-4zM494 625h4v4h-4zM494 629h4v4h-4zM490 641h4v4h-4zM466 645h4v4h-4z"/><path fill="#4c4c4c" d="M466 461h4v4h-4zM486 461h4v4h-4zM466 465h4v4h-4zM486 465h4v4h-4zM466 469h4v4h-4zM486 469h4v4h-4zM466 473h4v4h-4zM490 477h4v4h-4zM490 481h4v4h-4zM462 485h4v4h-4zM490 485h4v4h-4zM462 489h4v4h-4zM490 489h4v4h-4zM462 493h4v4h-4zM490 493h4v4h-4zM462 497h4v4h-4zM490 497h4v4h-4zM462 501h4v4h-4zM462 505h4v4h-4zM462 509h4v4h-4zM462 513h4v4h-4zM494 561h4v4h-4zM494 565h4v4h-4zM494 569h4v4h-4zM494 573h4v4h-4zM494 577h4v4h-4zM494 581h4v4h-4zM494 585h4v4h-4zM494 589h4v4h-4zM494 593h4v4h-4zM494 597h4v4h-4zM494 601h4v4h-4zM494 605h4v4h-4zM494 609h4v4h-4zM494 613h4v4h-4zM462 637h4v4h-4zM490 637h4v4h-4zM462 641h4v4h-4zM470 645h4v4h-4zM482 645h4v4h-4z"/><path fill="#515151" d="M470 461h4v4h-4zM470 465h4v4h-4zM470 469h4v4h-4zM470 473h4v4h-4zM486 473h4v4h-4zM466 477h4v4h-4zM486 477h4v4h-4zM466 481h4v4h-4zM486 481h4v4h-4zM466 485h4v4h-4zM466 489h4v4h-4zM490 501h4v4h-4zM490 505h4v4h-4zM490 509h4v4h-4zM490 513h4v4h-4zM462 517h4v4h-4zM490 517h4v4h-4zM462 521h4v4h-4zM490 521h4v4h-4zM462 525h4v4h-4zM490 525h4v4h-4zM462 529h4v4h-4zM462 533h4v4h-4zM462 537h4v4h-4zM462 541h4v4h-4zM462 545h4v4h-4zM462 549h4v4h-4zM462 553h4v4h-4zM462 557h4v4h-4zM462 629h4v4h-4zM462 633h4v4h-4zM490 633h4v4h-4zM474 645h8v4h-8z"/><path fill="#575757" d="M474 461h12v4h-12zM474 465h12v4h-12zM474 469h12v4h-12zM474 473h12v4h-12zM470 477h8v4h-8zM482 477h4v4h-4zM470 481h4v4h-4zM470 485h4v4h-4zM486 485h4v4h-4zM486 489h4v4h-4zM466 493h4v4h-4zM486 493h4v4h-4zM466 497h4v4h-4zM486 497h4v4h-4zM466 501h4v4h-4zM466 505h4v4h-4zM466 509h4v4h-4zM466 513h4v4h-4zM490 529h4v4h-4zM490 533h4v4h-4zM490 537h4v4h-4zM490 541h4v4h-4zM462 561h4v4h-4zM462 565h4v4h-4zM462 569h4v4h-4zM462 573h4v4h-4zM462 617h4v4h-4zM462 621h4v4h-4zM462 625h4v4h-4zM490 625h4v4h-4zM490 629h4v4h-4zM466 641h4v4h-4zM486 641h4v4h-4z"/><path fill="#5c5c5c" d="M478 477h4v4h-4zM474 481h12v4h-12zM474 485h12v4h-12zM470 489h8v4h-8zM482 489h4v4h-4zM470 493h4v4h-4zM470 497h4v4h-4zM470 501h4v4h-4zM486 501h4v4h-4zM486 505h4v4h-4zM486 509h4v4h-4zM466 517h4v4h-4zM466 521h4v4h-4zM466 525h4v4h-4zM466 529h4v4h-4zM490 545h4v4h-4zM490 549h4v4h-4zM490 553h4v4h-4zM462 577h4v4h-4zM462 581h4v4h-4zM462 585h4v4h-4zM462 589h4v4h-4zM462 593h4v4h-4zM462 597h4v4h-4zM462 601h4v4h-4zM462 605h4v4h-4zM462 609h4v4h-4zM462 613h4v4h-4zM490 617h4v4h-4zM490 621h4v4h-4zM466 637h4v4h-4z"/><path fill="#626262" d="M478 489h4v4h-4zM474 493h12v4h-12zM474 497h4v4h-4zM482 497h4v4h-4zM470 505h4v4h-4zM470 509h4v4h-4zM470 513h4v4h-4zM486 513h4v4h-4zM486 517h4v4h-4zM486 521h4v4h-4zM466 533h4v4h-4zM466 537h4v4h-4zM466 541h4v4h-4zM490 557h4v4h-4zM490 561h4v4h-4zM490 565h4v4h-4zM490 609h4v4h-4zM490 613h4v4h-4zM466 633h4v4h-4zM486 637h4v4h-4zM470 641h4v4h-4z"/><path fill="#676767" d="M478 497h4v4h-4zM474 501h12v4h-12zM474 505h4v4h-4zM482 505h4v4h-4zM474 509h4v4h-4zM470 517h4v4h-4zM470 521h4v4h-4zM486 525h4v4h-4zM486 529h4v4h-4zM466 545h4v4h-4zM466 549h4v4h-4zM490 569h4v4h-4zM490 573h4v4h-4zM490 577h4v4h-4zM490 581h4v4h-4zM490 585h4v4h-4zM490 589h4v4h-4zM490 593h4v4h-4zM490 597h4v4h-4zM490 601h4v4h-4zM490 605h4v4h-4zM466 629h4v4h-4zM486 633h4v4h-4zM482 641h4v4h-4z"/><path fill="#6d6d6d" d="M478 505h4v4h-4zM478 509h8v4h-8zM474 513h4v4h-4zM482 513h4v4h-4zM474 517h4v4h-4zM470 525h4v4h-4zM470 529h4v4h-4zM486 533h4v4h-4zM486 537h4v4h-4zM466 553h4v4h-4zM466 557h4v4h-4zM466 625h4v4h-4zM486 629h4v4h-4zM474 641h4v4h-4z"/><path fill="#727272" d="M478 513h4v4h-4zM478 517h8v4h-8zM474 521h4v4h-4zM482 521h4v4h-4zM470 533h4v4h-4zM470 537h4v4h-4zM486 541h4v4h-4zM486 545h4v4h-4zM466 561h4v4h-4zM466 617h4v4h-4zM466 621h4v4h-4zM486 625h4v4h-4zM470 637h4v4h-4zM478 641h4v4h-4z"/><path fill="#777777" d="M478 521h4v4h-4zM474 525h12v4h-12zM474 529h4v4h-4zM482 529h4v4h-4zM470 541h4v4h-4zM486 549h4v4h-4zM466 565h4v4h-4zM466 569h4v4h-4zM466 613h4v4h-4zM486 621h4v4h-4zM470 633h4v4h-4zM482 637h4v4h-4z"/><path fill="#7d7d7d" d="M478 529h4v4h-4zM474 533h4v4h-4zM482 533h4v4h-4zM470 545h4v4h-4zM486 553h4v4h-4zM486 557h4v4h-4zM466 573h4v4h-4zM466 577h4v4h-4zM466 605h4v4h-4zM466 609h4v4h-4zM486 617h4v4h-4zM474 637h4v4h-4z"/><path fill="#828282" d="M478 533h4v4h-4zM474 537h4v4h-4zM482 537h4v4h-4zM470 549h4v4h-4zM486 561h4v4h-4zM466 581h4v4h-4zM466 585h4v4h-4zM466 589h4v4h-4zM466 593h4v4h-4zM466 597h4v4h-4zM466 601h4v4h-4zM486 613h4v4h-4zM470 629h4v4h-4zM482 633h4v4h-4zM478 637h4v4h-4z"/><path fill="#888888" d="M478 537h4v4h-4zM474 541h4v4h-4zM482 541h4v4h-4zM470 553h4v4h-4zM486 565h4v4h-4zM486 569h4v4h-4zM486 609h4v4h-4zM470 625h4v4h-4zM482 629h4v4h-4zM474 633h4v4h-4z"/><path fill="#8d8d8d" d="M478 541h4v4h-4zM474 545h4v4h-4zM482 545h4v4h-4zM470 557h4v4h-4zM486 573h4v4h-4zM486 577h4v4h-4zM486 601h4v4h-4zM486 605h4v4h-4zM470 621h4v4h-4zM478 633h4v4h-4z"/><path fill="#929292" d="M478 545h4v4h-4zM474 549h4v4h-4zM482 549h4v4h-4zM470 561h4v4h-4zM486 581h4v4h-4zM486 585h4v4h-4zM486 589h4v4h-4zM486 593h4v4h-4zM486 597h4v4h-4zM470 617h4v4h-4zM482 625h4v4h-4zM474 629h4v4h-4z"/><path fill="#989898" d="M478 549h4v4h-4zM474 553h4v4h-4zM482 553h4v4h-4zM470 565h4v4h-4zM478 629h4v4h-4z"/><path fill="#9d9d9d" d="M482 557h4v4h-4zM470 569h4v4h-4zM470 613h4v4h-4zM482 621h4v4h-4zM474 625h4v4h-4z"/><path fill="#a3a3a3" d="M478 553h4v4h-4zM474 557h4v4h-4zM482 561h4v4h-4zM470 573h4v4h-4zM470 577h4v4h-4zM470 609h4v4h-4zM482 617h4v4h-4zM478 625h4v4h-4z"/><path fill="#a8a8a8" d="M478 557h4v4h-4zM474 561h4v4h-4zM482 565h4v4h-4zM470 581h4v4h-4zM470 601h4v4h-4zM470 605h4v4h-4zM482 613h4v4h-4zM474 621h4v4h-4z"/><path fill="#aeaeae" d="M478 561h4v4h-4zM482 569h4v4h-4zM470 585h4v4h-4zM470 589h4v4h-4zM470 593h4v4h-4zM470 597h4v4h-4zM474 617h4v4h-4zM478 621h4v4h-4z"/><path fill="#b3b3b3" d="M474 565h4v4h-4zM482 573h4v4h-4zM482 609h4v4h-4zM478 617h4v4h-4z"/><path fill="#b8b8b8" d="M478 565h4v4h-4zM474 569h4v4h-4zM482 577h4v4h-4zM482 601h4v4h-4zM482 605h4v4h-4zM474 613h4v4h-4z"/><path fill="#bebebe" d="M478 569h4v4h-4zM474 573h4v4h-4zM482 581h4v4h-4zM482 585h4v4h-4zM482 589h4v4h-4zM482 593h4v4h-4zM482 597h4v4h-4zM474 609h4v4h-4zM478 613h4v4h-4z"/><path fill="#c3c3c3" d="M478 573h4v4h-4zM474 577h4v4h-4zM474 605h4v4h-4zM478 609h4v4h-4z"/><path fill="#c9c9c9" d="M474 581h4v4h-4zM474 601h4v4h-4z"/><path fill="#cecece" d="M478 577h4v4h-4zM478 581h4v4h-4zM474 585h4v4h-4zM474 589h4v4h-4zM474 593h4v4h-4zM474 597h4v4h-4zM478 605h4v4h-4z"/><path fill="#d4d4d4" d="M478 585h4v4h-4zM478 589h4v4h-4zM478 597h4v4h-4zM478 601h4v4h-4z"/><path fill="#d9d9d9" d="M478 593h4v4h-4z"/></g></g><rect x="392.2" y="471.3" width="198.4" height="189.1" fill="none" stroke="#262626" stroke-width="1.1"/><path d="M408.1 660.4v-3.0M408.1 471.3v3.0M447.8 660.4v-3.0M447.8 471.3v3.0M487.4 660.4v-3.0M487.4 471.3v3.0M527.1 660.4v-3.0M527.1 471.3v3.0M566.8 660.4v-3.0M566.8 471.3v3.0M392.2 634.4h3.0M590.6 634.4h-3.0M392.2 608.4h3.0M590.6 608.4h-3.0M392.2 582.5h3.0M590.6 582.5h-3.0M392.2 556.5h3.0M590.6 556.5h-3.0M392.2 530.5h3.0M590.6 530.5h-3.0M392.2 504.5h3.0M590.6 504.5h-3.0M392.2 478.6h3.0M590.6 478.6h-3.0" stroke="#262626" stroke-width="1.1" fill="none"/><rect x="594.3" y="471.3" width="8.0" height="189.1" fill="url(#cbg)" stroke="#333" stroke-width="1"/><path d="M602.3 490.2h-2.5M602.3 509.1h-2.5M602.3 528.0h-2.5M602.3 546.9h-2.5M602.3 565.9h-2.5M602.3 584.8h-2.5M602.3 603.7h-2.5M602.3 622.6h-2.5M602.3 641.5h-2.5" stroke="#262626" stroke-width="1" fill="none"/><text x="379.8" y="670.7" text-anchor="end">0</text><text x="379.8" y="618.7" text-anchor="end">100</text><text x="379.8" y="566.8" text-anchor="end">200</text><text x="379.8" y="514.8" text-anchor="end">300</text><text x="447.8" y="692.9" text-anchor="middle">0</text><text x="527.1" y="692.9" text-anchor="middle">1</text><text x="491.1" y="730.5" text-anchor="middle">Time (s)</text><text x="309.6" y="566.5" text-anchor="middle" transform="rotate(-90 309.6 566.5)">Frequency (Hz)</text><text x="615.6" y="493.0" font-size="24">2</text><text x="615.6" y="658.5" font-size="24">−0.5</text><text x="671.3" y="566.0" text-anchor="middle" font-size="24" transform="rotate(90 671.3 566.0)">Power (<tspan font-style="italic">z</tspan>)</text><text x="747.0" y="23.3" font-size="42" font-weight="bold">c</text><g clip-path="url(#cl2)"><g filter="url(#fc)"><path fill="#000000" d="M960 302h4v4h-4zM960 306h4v4h-4zM960 310h4v4h-4z"/><path fill="#050505" d="M956 290h60v4h-60zM936 294h92v4h-92zM936 298h92v4h-92zM936 302h24v4h-24zM964 302h64v4h-64zM936 306h24v4h-24zM964 306h64v4h-64zM936 310h24v4h-24zM964 310h64v4h-64z"/><path fill="#0b0b0b" d="M844 94h76v4h-76zM844 98h76v4h-76zM844 102h76v4h-76zM844 106h76v4h-76zM844 110h76v4h-76zM844 114h76v4h-76zM844 118h76v4h-76zM844 122h76v4h-76zM844 126h76v4h-76zM844 130h76v4h-76zM844 134h76v4h-76zM844 138h76v4h-76zM844 142h76v4h-76zM844 146h76v4h-76zM844 150h76v4h-76zM844 154h76v4h-76zM844 158h76v4h-76zM844 162h76v4h-76zM844 166h76v4h-76zM844 170h76v4h-76zM844 174h76v4h-76zM844 178h76v4h-76zM844 182h76v4h-76zM844 186h76v4h-76zM844 190h76v4h-76zM844 194h76v4h-76zM844 198h76v4h-76zM844 202h76v4h-76zM844 206h76v4h-76zM844 210h76v4h-76zM844 214h76v4h-76zM844 218h76v4h-76zM844 222h76v4h-76zM844 226h76v4h-76zM844 230h76v4h-76zM844 234h76v4h-76zM844 238h76v4h-76zM844 242h76v4h-76zM844 246h76v4h-76zM844 250h76v4h-76zM844 254h76v4h-76zM844 258h76v4h-76zM844 262h76v4h-76zM844 266h76v4h-76zM844 270h76v4h-76zM844 274h76v4h-76zM936 290h20v4h-20zM1016 290h28v4h-28zM1028 294h24v4h-24zM1028 298h28v4h-28zM1028 302h28v4h-28zM1028 306h28v4h-28zM1028 310h28v4h-28z"/><path fill="#101010" d="M844 278h76v4h-76zM964 286h96v4h-96zM1044 290h44v4h-44zM932 294h4v4h-4zM1052 294h36v4h-36zM932 298h4v4h-4zM1056 298h32v4h-32zM932 302h4v4h-4zM1056 302h32v4h-32zM932 306h4v4h-4zM1056 306h32v4h-32zM932 310h4v4h-4zM1056 310h32v4h-32z"/><path fill="#161616" d="M952 286h12v4h-12zM1060 286h28v4h-28zM932 290h4v4h-4z"/><path fill="#1b1b1b" d="M920 94h4v4h-4zM1060 94h8v4h-8zM920 98h4v4h-4zM1060 98h8v4h-8zM920 102h4v4h-4zM1060 102h8v4h-8zM920 106h4v4h-4zM1060 106h12v4h-12zM920 110h4v4h-4zM1060 110h12v4h-12zM920 114h4v4h-4zM1060 114h12v4h-12zM920 118h4v4h-4zM1060 118h12v4h-12zM920 122h4v4h-4zM1060 122h12v4h-12zM920 126h4v4h-4zM1064 126h4v4h-4zM920 130h4v4h-4zM920 134h4v4h-4zM920 138h4v4h-4zM920 142h4v4h-4zM920 146h4v4h-4zM920 150h4v4h-4zM920 154h4v4h-4zM920 158h4v4h-4zM1020 282h12v4h-12zM1044 282h44v4h-44zM944 286h8v4h-8z"/><path fill="#212121" d="M1056 94h4v4h-4zM1068 94h8v4h-8zM1056 98h4v4h-4zM1068 98h8v4h-8zM1056 102h4v4h-4zM1068 102h8v4h-8zM1052 106h8v4h-8zM1072 106h4v4h-4zM1052 110h8v4h-8zM1072 110h4v4h-4zM1052 114h8v4h-8zM1072 114h4v4h-4zM1052 118h8v4h-8zM1072 118h4v4h-4zM1056 122h4v4h-4zM1072 122h4v4h-4zM1056 126h8v4h-8zM1068 126h8v4h-8zM1056 130h16v4h-16zM1060 134h12v4h-12zM1064 138h8v4h-8zM920 162h4v4h-4zM920 166h4v4h-4zM920 170h4v4h-4zM920 174h4v4h-4zM920 178h4v4h-4zM920 182h4v4h-4zM920 186h4v4h-4zM920 190h4v4h-4zM920 194h4v4h-4zM920 198h4v4h-4zM920 202h4v4h-4zM920 206h4v4h-4zM920 210h4v4h-4zM920 214h4v4h-4zM920 218h4v4h-4zM920 222h4v4h-4zM920 226h4v4h-4zM920 230h4v4h-4zM920 234h4v4h-4zM920 238h4v4h-4zM920 242h4v4h-4zM920 246h4v4h-4zM920 250h4v4h-4zM920 254h4v4h-4zM920 258h4v4h-4zM920 262h4v4h-4zM920 266h4v4h-4zM920 270h4v4h-4zM920 274h4v4h-4zM920 278h4v4h-4zM1052 278h16v4h-16zM1072 278h16v4h-16zM844 282h76v4h-76zM988 282h32v4h-32zM1032 282h12v4h-12zM936 286h8v4h-8zM928 294h4v4h-4zM928 298h4v4h-4zM928 302h4v4h-4zM928 306h4v4h-4zM928 310h4v4h-4z"/><path fill="#262626" d="M1048 94h8v4h-8zM1076 94h12v4h-12zM1048 98h8v4h-8zM1076 98h12v4h-12zM1048 102h8v4h-8zM1076 102h12v4h-12zM1048 106h4v4h-4zM1076 106h12v4h-12zM1048 110h4v4h-4zM1076 110h12v4h-12zM1048 114h4v4h-4zM1076 114h12v4h-12zM1048 118h4v4h-4zM1076 118h12v4h-12zM1048 122h8v4h-8zM1076 122h12v4h-12zM1048 126h8v4h-8zM1076 126h12v4h-12zM1048 130h8v4h-8zM1072 130h16v4h-16zM1048 134h12v4h-12zM1072 134h16v4h-16zM1052 138h12v4h-12zM1072 138h16v4h-16zM1052 142h36v4h-36zM1052 146h36v4h-36zM1064 150h24v4h-24zM1064 154h24v4h-24zM1068 158h20v4h-20zM1068 162h20v4h-20zM1068 166h20v4h-20zM1068 170h20v4h-20zM1068 174h20v4h-20zM1072 178h16v4h-16zM1072 182h16v4h-16zM1052 230h8v4h-8zM1052 234h8v4h-8zM1052 238h8v4h-8zM1052 242h12v4h-12zM1052 246h12v4h-12zM1052 250h12v4h-12zM1076 250h12v4h-12zM1052 254h12v4h-12zM1076 254h12v4h-12zM1052 258h16v4h-16zM1076 258h12v4h-12zM1052 262h16v4h-16zM1072 262h16v4h-16zM1052 266h16v4h-16zM1072 266h16v4h-16zM1052 270h36v4h-36zM1048 274h40v4h-40zM1044 278h8v4h-8zM1068 278h4v4h-4zM972 282h16v4h-16zM928 290h4v4h-4z"/><path fill="#2b2b2b" d="M1044 94h4v4h-4zM1044 98h4v4h-4zM1044 102h4v4h-4zM1044 106h4v4h-4zM1040 110h8v4h-8zM1040 114h8v4h-8zM1040 118h8v4h-8zM1040 122h8v4h-8zM1044 126h4v4h-4zM1044 130h4v4h-4zM1044 134h4v4h-4zM1044 138h8v4h-8zM1044 142h8v4h-8zM1044 146h8v4h-8zM1044 150h20v4h-20zM1044 154h20v4h-20zM1044 158h24v4h-24zM1044 162h24v4h-24zM1044 166h24v4h-24zM1044 170h24v4h-24zM1044 174h24v4h-24zM1044 178h28v4h-28zM1044 182h28v4h-28zM1044 186h44v4h-44zM1044 190h44v4h-44zM1044 194h44v4h-44zM1044 198h44v4h-44zM1044 202h44v4h-44zM1044 206h44v4h-44zM1044 210h44v4h-44zM1044 214h44v4h-44zM1044 218h44v4h-44zM1044 222h44v4h-44zM1044 226h44v4h-44zM1044 230h8v4h-8zM1060 230h28v4h-28zM1044 234h8v4h-8zM1060 234h28v4h-28zM1044 238h8v4h-8zM1060 238h28v4h-28zM1044 242h8v4h-8zM1064 242h24v4h-24zM1044 246h8v4h-8zM1064 246h24v4h-24zM1044 250h8v4h-8zM1064 250h12v4h-12zM1044 254h8v4h-8zM1064 254h12v4h-12zM1044 258h8v4h-8zM1068 258h8v4h-8zM1044 262h8v4h-8zM1068 262h4v4h-4zM1044 266h8v4h-8zM1068 266h4v4h-4zM1044 270h8v4h-8zM1044 274h4v4h-4zM1000 278h36v4h-36zM1040 278h4v4h-4zM920 282h4v4h-4zM964 282h8v4h-8zM932 286h4v4h-4z"/><path fill="#313131" d="M1028 94h16v4h-16zM1028 98h16v4h-16zM1028 102h16v4h-16zM1028 106h16v4h-16zM1028 110h12v4h-12zM1028 114h12v4h-12zM1028 118h12v4h-12zM1028 122h12v4h-12zM1028 126h16v4h-16zM1028 130h16v4h-16zM1028 134h16v4h-16zM1028 138h16v4h-16zM1028 142h16v4h-16zM1028 146h16v4h-16zM1028 150h16v4h-16zM1028 154h16v4h-16zM1028 158h16v4h-16zM1028 162h16v4h-16zM1028 166h16v4h-16zM1028 170h16v4h-16zM1028 174h16v4h-16zM996 178h4v4h-4zM1028 178h16v4h-16zM996 182h4v4h-4zM1028 182h16v4h-16zM1028 186h16v4h-16zM1028 190h16v4h-16zM1028 194h16v4h-16zM1028 198h16v4h-16zM1028 202h16v4h-16zM1028 206h16v4h-16zM1028 210h16v4h-16zM1032 214h12v4h-12zM1032 218h12v4h-12zM1032 222h12v4h-12zM1032 226h12v4h-12zM1032 230h12v4h-12zM1032 234h12v4h-12zM1032 238h12v4h-12zM1036 242h8v4h-8zM1032 246h12v4h-12zM1032 250h12v4h-12zM1032 254h12v4h-12zM1032 258h12v4h-12zM1028 262h16v4h-16zM1028 266h16v4h-16zM1024 270h20v4h-20zM1016 274h20v4h-20zM1040 274h4v4h-4zM992 278h8v4h-8zM1036 278h4v4h-4zM960 282h4v4h-4zM844 286h36v4h-36zM916 286h4v4h-4z"/><path fill="#363636" d="M1012 94h16v4h-16zM1012 98h16v4h-16zM1012 102h16v4h-16zM1012 106h16v4h-16zM1012 110h16v4h-16zM1012 114h16v4h-16zM1012 118h16v4h-16zM1012 122h16v4h-16zM1012 126h16v4h-16zM1012 130h16v4h-16zM1008 134h20v4h-20zM1008 138h20v4h-20zM1008 142h20v4h-20zM988 146h8v4h-8zM1008 146h20v4h-20zM988 150h40v4h-40zM988 154h40v4h-40zM988 158h40v4h-40zM988 162h40v4h-40zM988 166h40v4h-40zM988 170h40v4h-40zM988 174h40v4h-40zM988 178h8v4h-8zM1000 178h28v4h-28zM988 182h8v4h-8zM1000 182h28v4h-28zM988 186h40v4h-40zM988 190h40v4h-40zM988 194h40v4h-40zM988 198h40v4h-40zM992 202h36v4h-36zM992 206h12v4h-12zM1008 206h20v4h-20zM992 210h12v4h-12zM1008 210h20v4h-20zM996 214h4v4h-4zM1008 214h24v4h-24zM1008 218h24v4h-24zM1008 222h24v4h-24zM1008 226h24v4h-24zM1008 230h24v4h-24zM1008 234h24v4h-24zM1008 238h24v4h-24zM1004 242h16v4h-16zM1024 242h12v4h-12zM1004 246h16v4h-16zM1028 246h4v4h-4zM1000 250h16v4h-16zM1028 250h4v4h-4zM1000 254h16v4h-16zM1028 254h4v4h-4zM1000 258h20v4h-20zM1024 258h8v4h-8zM1000 262h28v4h-28zM1000 266h28v4h-28zM996 270h28v4h-28zM992 274h24v4h-24zM1036 274h4v4h-4zM980 278h12v4h-12zM956 282h4v4h-4zM880 286h36v4h-36zM920 286h4v4h-4zM928 286h4v4h-4zM924 290h4v4h-4zM924 294h4v4h-4zM924 298h4v4h-4zM924 302h4v4h-4zM924 306h4v4h-4zM924 310h4v4h-4z"/><path fill="#3c3c3c" d="M1004 94h8v4h-8zM1004 98h8v4h-8zM1004 102h8v4h-8zM1004 106h8v4h-8zM1004 110h8v4h-8zM1004 114h8v4h-8zM984 118h4v4h-4zM1004 118h8v4h-8zM984 122h8v4h-8zM1000 122h12v4h-12zM984 126h8v4h-8zM1000 126h12v4h-12zM984 130h28v4h-28zM984 134h24v4h-24zM980 138h28v4h-28zM980 142h28v4h-28zM980 146h8v4h-8zM996 146h12v4h-12zM980 150h8v4h-8zM980 154h8v4h-8zM984 158h4v4h-4zM984 162h4v4h-4zM984 166h4v4h-4zM984 170h4v4h-4zM984 174h4v4h-4zM984 178h4v4h-4zM984 182h4v4h-4zM984 186h4v4h-4zM984 190h4v4h-4zM984 194h4v4h-4zM984 198h4v4h-4zM984 202h8v4h-8zM984 206h8v4h-8zM1004 206h4v4h-4zM988 210h4v4h-4zM1004 210h4v4h-4zM988 214h8v4h-8zM1000 214h8v4h-8zM988 218h20v4h-20zM988 222h20v4h-20zM988 226h20v4h-20zM988 230h20v4h-20zM988 234h20v4h-20zM988 238h20v4h-20zM992 242h12v4h-12zM1020 242h4v4h-4zM992 246h12v4h-12zM1020 246h8v4h-8zM992 250h8v4h-8zM1016 250h12v4h-12zM992 254h8v4h-8zM1016 254h12v4h-12zM992 258h8v4h-8zM1020 258h4v4h-4zM992 262h8v4h-8zM992 266h8v4h-8zM988 270h8v4h-8zM984 274h8v4h-8zM972 278h8v4h-8zM952 282h4v4h-4zM844 290h36v4h-36zM916 290h8v4h-8zM844 294h20v4h-20zM844 298h16v4h-16zM844 302h16v4h-16zM844 306h16v4h-16zM844 310h16v4h-16z"/><path fill="#414141" d="M980 94h24v4h-24zM980 98h24v4h-24zM980 102h24v4h-24zM980 106h24v4h-24zM980 110h24v4h-24zM980 114h24v4h-24zM980 118h4v4h-4zM988 118h16v4h-16zM980 122h4v4h-4zM992 122h8v4h-8zM980 126h4v4h-4zM992 126h8v4h-8zM980 130h4v4h-4zM980 134h4v4h-4zM976 142h4v4h-4zM980 158h4v4h-4zM980 162h4v4h-4zM980 166h4v4h-4zM980 170h4v4h-4zM980 174h4v4h-4zM980 178h4v4h-4zM980 182h4v4h-4zM980 186h4v4h-4zM980 190h4v4h-4zM980 194h4v4h-4zM980 198h4v4h-4zM980 202h4v4h-4zM980 206h4v4h-4zM980 210h8v4h-8zM980 214h8v4h-8zM980 218h8v4h-8zM980 222h8v4h-8zM980 226h8v4h-8zM984 230h4v4h-4zM984 234h4v4h-4zM984 238h4v4h-4zM984 242h8v4h-8zM984 246h8v4h-8zM984 250h8v4h-8zM984 254h8v4h-8zM984 258h8v4h-8zM984 262h8v4h-8zM980 266h12v4h-12zM980 270h8v4h-8zM976 274h8v4h-8zM968 278h4v4h-4zM948 282h4v4h-4zM924 286h4v4h-4zM880 290h36v4h-36zM864 294h16v4h-16zM916 294h8v4h-8zM860 298h16v4h-16zM920 298h4v4h-4zM860 302h20v4h-20zM916 302h8v4h-8zM860 306h20v4h-20zM916 306h8v4h-8zM860 310h20v4h-20zM916 310h8v4h-8z"/><path fill="#474747" d="M976 94h4v4h-4zM976 98h4v4h-4zM976 102h4v4h-4zM976 106h4v4h-4zM976 110h4v4h-4zM976 114h4v4h-4zM976 118h4v4h-4zM976 122h4v4h-4zM976 126h4v4h-4zM976 130h4v4h-4zM976 134h4v4h-4zM976 138h4v4h-4zM976 146h4v4h-4zM976 150h4v4h-4zM976 154h4v4h-4zM976 158h4v4h-4zM976 162h4v4h-4zM976 166h4v4h-4zM976 170h4v4h-4zM976 174h4v4h-4zM976 178h4v4h-4zM976 182h4v4h-4zM976 186h4v4h-4zM976 190h4v4h-4zM976 194h4v4h-4zM976 198h4v4h-4zM976 202h4v4h-4zM976 206h4v4h-4zM976 210h4v4h-4zM976 214h4v4h-4zM976 218h4v4h-4zM976 222h4v4h-4zM976 226h4v4h-4zM976 230h8v4h-8zM976 234h8v4h-8zM976 238h8v4h-8zM976 242h8v4h-8zM976 246h8v4h-8zM976 250h8v4h-8zM976 254h8v4h-8zM976 258h8v4h-8zM976 262h8v4h-8zM976 266h4v4h-4zM972 270h8v4h-8zM972 274h4v4h-4zM964 278h4v4h-4zM880 294h16v4h-16zM900 294h16v4h-16zM876 298h12v4h-12zM908 298h12v4h-12zM880 302h36v4h-36zM880 306h36v4h-36zM880 310h36v4h-36z"/><path fill="#4c4c4c" d="M972 94h4v4h-4zM972 98h4v4h-4zM972 102h4v4h-4zM972 106h4v4h-4zM972 110h4v4h-4zM972 114h4v4h-4zM972 118h4v4h-4zM972 122h4v4h-4zM972 126h4v4h-4zM972 130h4v4h-4zM972 134h4v4h-4zM972 138h4v4h-4zM972 142h4v4h-4zM972 146h4v4h-4zM972 150h4v4h-4zM972 154h4v4h-4zM972 158h4v4h-4zM972 162h4v4h-4zM972 166h4v4h-4zM972 170h4v4h-4zM972 174h4v4h-4zM972 178h4v4h-4zM972 182h4v4h-4zM972 186h4v4h-4zM972 190h4v4h-4zM972 194h4v4h-4zM972 198h4v4h-4zM972 202h4v4h-4zM972 206h4v4h-4zM972 210h4v4h-4zM972 214h4v4h-4zM972 218h4v4h-4zM972 222h4v4h-4zM972 226h4v4h-4zM972 230h4v4h-4zM972 234h4v4h-4zM972 238h4v4h-4zM972 242h4v4h-4zM972 246h4v4h-4zM972 250h4v4h-4zM972 254h4v4h-4zM968 258h8v4h-8zM968 262h8v4h-8zM968 266h8v4h-8zM968 270h4v4h-4zM968 274h4v4h-4zM960 278h4v4h-4zM944 282h4v4h-4zM896 294h4v4h-4zM888 298h20v4h-20z"/><path fill="#515151" d="M968 94h4v4h-4zM968 98h4v4h-4zM968 102h4v4h-4zM968 106h4v4h-4zM968 110h4v4h-4zM968 114h4v4h-4zM968 118h4v4h-4zM968 122h4v4h-4zM968 126h4v4h-4zM968 130h4v4h-4zM968 134h4v4h-4zM968 138h4v4h-4zM968 142h4v4h-4zM968 146h4v4h-4zM968 150h4v4h-4zM968 154h4v4h-4zM968 158h4v4h-4zM968 162h4v4h-4zM968 166h4v4h-4zM968 170h4v4h-4zM968 174h4v4h-4zM968 178h4v4h-4zM968 182h4v4h-4zM968 186h4v4h-4zM968 190h4v4h-4zM968 194h4v4h-4zM968 198h4v4h-4zM968 202h4v4h-4zM968 206h4v4h-4zM968 210h4v4h-4zM968 214h4v4h-4zM968 218h4v4h-4zM968 222h4v4h-4zM968 226h4v4h-4zM968 230h4v4h-4zM968 234h4v4h-4zM968 238h4v4h-4zM968 242h4v4h-4zM968 246h4v4h-4zM968 250h4v4h-4zM968 254h4v4h-4zM964 266h4v4h-4zM964 270h4v4h-4zM964 274h4v4h-4zM956 278h4v4h-4zM940 282h4v4h-4z"/><path fill="#575757" d="M960 94h8v4h-8zM960 98h8v4h-8zM960 102h8v4h-8zM960 106h8v4h-8zM964 110h4v4h-4zM964 114h4v4h-4zM964 118h4v4h-4zM964 122h4v4h-4zM964 126h4v4h-4zM964 130h4v4h-4zM964 134h4v4h-4zM964 138h4v4h-4zM964 142h4v4h-4zM964 146h4v4h-4zM964 150h4v4h-4zM964 154h4v4h-4zM964 158h4v4h-4zM964 162h4v4h-4zM964 166h4v4h-4zM964 170h4v4h-4zM964 174h4v4h-4zM964 178h4v4h-4zM964 182h4v4h-4zM964 186h4v4h-4zM964 190h4v4h-4zM964 194h4v4h-4zM964 198h4v4h-4zM964 202h4v4h-4zM964 206h4v4h-4zM964 210h4v4h-4zM964 214h4v4h-4zM964 218h4v4h-4zM964 222h4v4h-4zM964 226h4v4h-4zM964 230h4v4h-4zM964 234h4v4h-4zM964 238h4v4h-4zM964 242h4v4h-4zM964 246h4v4h-4zM964 250h4v4h-4zM964 254h4v4h-4zM964 258h4v4h-4zM964 262h4v4h-4zM960 274h4v4h-4zM924 282h4v4h-4zM932 282h8v4h-8z"/><path fill="#5c5c5c" d="M956 94h4v4h-4zM956 98h4v4h-4zM956 102h4v4h-4zM956 106h4v4h-4zM960 110h4v4h-4zM960 114h4v4h-4zM960 118h4v4h-4zM960 122h4v4h-4zM960 126h4v4h-4zM960 130h4v4h-4zM960 134h4v4h-4zM960 138h4v4h-4zM960 142h4v4h-4zM960 146h4v4h-4zM960 150h4v4h-4zM960 154h4v4h-4zM960 158h4v4h-4zM960 162h4v4h-4zM960 254h4v4h-4zM960 258h4v4h-4zM960 262h4v4h-4zM960 266h4v4h-4zM960 270h4v4h-4zM952 278h4v4h-4z"/><path fill="#626262" d="M952 94h4v4h-4zM952 98h4v4h-4zM952 102h4v4h-4zM956 110h4v4h-4zM956 114h4v4h-4zM956 118h4v4h-4zM956 122h4v4h-4zM956 126h4v4h-4zM956 130h4v4h-4zM960 166h4v4h-4zM960 170h4v4h-4zM960 174h4v4h-4zM960 178h4v4h-4zM960 182h4v4h-4zM960 186h4v4h-4zM960 190h4v4h-4zM960 194h4v4h-4zM960 198h4v4h-4zM960 202h4v4h-4zM960 206h4v4h-4zM960 210h4v4h-4zM960 214h4v4h-4zM960 218h4v4h-4zM960 222h4v4h-4zM960 226h4v4h-4zM960 230h4v4h-4zM960 234h4v4h-4zM960 238h4v4h-4zM960 242h4v4h-4zM960 246h4v4h-4zM960 250h4v4h-4zM956 274h4v4h-4zM928 282h4v4h-4z"/><path fill="#676767" d="M948 94h4v4h-4zM948 98h4v4h-4zM948 102h4v4h-4zM952 106h4v4h-4zM952 110h4v4h-4zM952 114h4v4h-4zM952 118h4v4h-4zM952 122h4v4h-4zM956 134h4v4h-4zM956 138h4v4h-4zM956 142h4v4h-4zM956 146h4v4h-4zM956 150h4v4h-4zM956 154h4v4h-4zM956 158h4v4h-4zM956 266h4v4h-4zM956 270h4v4h-4z"/><path fill="#6d6d6d" d="M924 94h4v4h-4zM944 94h4v4h-4zM924 98h4v4h-4zM944 98h4v4h-4zM924 102h4v4h-4zM944 102h4v4h-4zM924 106h4v4h-4zM948 106h4v4h-4zM924 110h4v4h-4zM948 110h4v4h-4zM924 114h4v4h-4zM948 114h4v4h-4zM952 126h4v4h-4zM952 130h4v4h-4zM952 134h4v4h-4zM952 138h4v4h-4zM956 162h4v4h-4zM956 166h4v4h-4zM956 170h4v4h-4zM956 174h4v4h-4zM956 178h4v4h-4zM956 182h4v4h-4zM956 186h4v4h-4zM956 246h4v4h-4zM956 250h4v4h-4zM956 254h4v4h-4zM956 258h4v4h-4zM956 262h4v4h-4zM952 274h4v4h-4zM924 278h4v4h-4zM948 278h4v4h-4z"/><path fill="#727272" d="M944 106h4v4h-4zM944 110h4v4h-4zM944 114h4v4h-4zM924 118h4v4h-4zM948 118h4v4h-4zM924 122h4v4h-4zM948 122h4v4h-4zM924 126h4v4h-4zM948 126h4v4h-4zM924 130h4v4h-4zM924 134h4v4h-4zM924 138h4v4h-4zM924 142h4v4h-4zM952 142h4v4h-4zM952 146h4v4h-4zM952 150h4v4h-4zM956 190h4v4h-4zM956 194h4v4h-4zM956 198h4v4h-4zM956 202h4v4h-4zM956 206h4v4h-4zM956 210h4v4h-4zM956 214h4v4h-4zM956 218h4v4h-4zM956 222h4v4h-4zM956 226h4v4h-4zM956 230h4v4h-4zM956 234h4v4h-4zM956 238h4v4h-4zM956 242h4v4h-4z"/><path fill="#777777" d="M940 94h4v4h-4zM940 98h4v4h-4zM940 102h4v4h-4zM940 106h4v4h-4zM940 110h4v4h-4zM944 118h4v4h-4zM944 122h4v4h-4zM948 130h4v4h-4zM948 134h4v4h-4zM948 138h4v4h-4zM924 146h4v4h-4zM924 150h4v4h-4zM924 154h4v4h-4zM952 154h4v4h-4zM952 158h4v4h-4zM952 162h4v4h-4zM952 166h4v4h-4zM952 266h4v4h-4zM952 270h4v4h-4zM924 274h4v4h-4zM944 278h4v4h-4z"/><path fill="#7d7d7d" d="M936 94h4v4h-4zM936 98h4v4h-4zM936 102h4v4h-4zM936 106h4v4h-4zM936 110h4v4h-4zM940 114h4v4h-4zM940 118h4v4h-4zM940 122h4v4h-4zM944 126h4v4h-4zM944 130h4v4h-4zM948 142h4v4h-4zM948 146h4v4h-4zM924 158h4v4h-4zM924 162h4v4h-4zM924 166h4v4h-4zM924 170h4v4h-4zM952 170h4v4h-4zM952 174h4v4h-4zM952 178h4v4h-4zM952 182h4v4h-4zM952 254h4v4h-4zM952 258h4v4h-4zM952 262h4v4h-4zM924 266h4v4h-4zM924 270h4v4h-4zM948 274h4v4h-4z"/><path fill="#828282" d="M932 94h4v4h-4zM932 98h4v4h-4zM932 102h4v4h-4zM932 106h4v4h-4zM932 110h4v4h-4zM936 114h4v4h-4zM936 118h4v4h-4zM940 126h4v4h-4zM940 130h4v4h-4zM944 134h4v4h-4zM944 138h4v4h-4zM948 150h4v4h-4zM948 154h4v4h-4zM948 158h4v4h-4zM924 174h4v4h-4zM924 178h4v4h-4zM924 182h4v4h-4zM924 186h4v4h-4zM952 186h4v4h-4zM952 190h4v4h-4zM952 194h4v4h-4zM952 198h4v4h-4zM952 242h4v4h-4zM952 246h4v4h-4zM952 250h4v4h-4zM924 254h4v4h-4zM924 258h4v4h-4zM924 262h4v4h-4zM940 278h4v4h-4z"/><path fill="#888888" d="M928 94h4v4h-4zM928 98h4v4h-4zM928 102h4v4h-4zM928 106h4v4h-4zM928 110h4v4h-4zM932 114h4v4h-4zM932 118h4v4h-4zM936 122h4v4h-4zM936 126h4v4h-4zM940 134h4v4h-4zM944 142h4v4h-4zM944 146h4v4h-4zM948 162h4v4h-4zM948 166h4v4h-4zM924 190h4v4h-4zM924 194h4v4h-4zM924 198h4v4h-4zM924 202h4v4h-4zM952 202h4v4h-4zM952 206h4v4h-4zM952 210h4v4h-4zM952 214h4v4h-4zM952 218h4v4h-4zM952 222h4v4h-4zM952 226h4v4h-4zM952 230h4v4h-4zM952 234h4v4h-4zM952 238h4v4h-4zM924 242h4v4h-4zM924 246h4v4h-4zM924 250h4v4h-4zM948 266h4v4h-4zM948 270h4v4h-4zM928 278h12v4h-12z"/><path fill="#8d8d8d" d="M928 114h4v4h-4zM928 118h4v4h-4zM928 122h8v4h-8zM928 126h8v4h-8zM932 130h8v4h-8zM936 134h4v4h-4zM940 138h4v4h-4zM940 142h4v4h-4zM944 150h4v4h-4zM944 154h4v4h-4zM948 170h4v4h-4zM948 174h4v4h-4zM948 178h4v4h-4zM924 206h4v4h-4zM924 210h4v4h-4zM924 214h4v4h-4zM924 218h4v4h-4zM924 222h4v4h-4zM924 226h4v4h-4zM924 230h4v4h-4zM924 234h4v4h-4zM924 238h4v4h-4zM948 262h4v4h-4zM944 274h4v4h-4z"/><path fill="#929292" d="M928 130h4v4h-4zM928 134h8v4h-8zM928 138h12v4h-12zM936 142h4v4h-4zM940 146h4v4h-4zM940 150h4v4h-4zM944 158h4v4h-4zM944 162h4v4h-4zM948 182h4v4h-4zM948 186h4v4h-4zM948 254h4v4h-4zM948 258h4v4h-4z"/><path fill="#989898" d="M928 142h8v4h-8zM928 146h12v4h-12zM936 150h4v4h-4zM940 154h4v4h-4zM944 166h4v4h-4zM944 170h4v4h-4zM948 190h4v4h-4zM948 194h4v4h-4zM948 198h4v4h-4zM948 246h4v4h-4zM948 250h4v4h-4zM944 270h4v4h-4zM940 274h4v4h-4z"/><path fill="#9d9d9d" d="M928 150h8v4h-8zM928 154h12v4h-12zM928 158h4v4h-4zM940 158h4v4h-4zM940 162h4v4h-4zM944 174h4v4h-4zM948 202h4v4h-4zM948 206h4v4h-4zM948 210h4v4h-4zM948 214h4v4h-4zM948 218h4v4h-4zM948 222h4v4h-4zM948 226h4v4h-4zM948 230h4v4h-4zM948 234h4v4h-4zM948 238h4v4h-4zM948 242h4v4h-4zM944 266h4v4h-4zM928 274h4v4h-4zM936 274h4v4h-4z"/><path fill="#a3a3a3" d="M932 158h8v4h-8zM928 162h4v4h-4zM936 162h4v4h-4zM928 166h4v4h-4zM940 166h4v4h-4zM944 178h4v4h-4zM944 182h4v4h-4zM944 258h4v4h-4zM944 262h4v4h-4zM928 270h4v4h-4zM940 270h4v4h-4zM932 274h4v4h-4z"/><path fill="#a8a8a8" d="M932 162h4v4h-4zM932 166h8v4h-8zM928 170h4v4h-4zM940 170h4v4h-4zM928 174h4v4h-4zM940 174h4v4h-4zM944 186h4v4h-4zM944 190h4v4h-4zM944 254h4v4h-4zM928 266h4v4h-4zM940 266h4v4h-4zM936 270h4v4h-4z"/><path fill="#aeaeae" d="M932 170h8v4h-8zM928 178h4v4h-4zM940 178h4v4h-4zM944 194h4v4h-4zM944 198h4v4h-4zM944 246h4v4h-4zM944 250h4v4h-4zM928 262h4v4h-4zM940 262h4v4h-4zM932 270h4v4h-4z"/><path fill="#b3b3b3" d="M932 174h8v4h-8zM932 178h8v4h-8zM928 182h4v4h-4zM940 182h4v4h-4zM928 186h4v4h-4zM940 186h4v4h-4zM944 202h4v4h-4zM944 206h4v4h-4zM944 210h4v4h-4zM944 234h4v4h-4zM944 238h4v4h-4zM944 242h4v4h-4zM928 254h4v4h-4zM928 258h4v4h-4zM940 258h4v4h-4zM932 262h4v4h-4zM932 266h8v4h-8z"/><path fill="#b8b8b8" d="M932 182h8v4h-8zM928 190h4v4h-4zM940 190h4v4h-4zM928 194h4v4h-4zM944 214h4v4h-4zM944 218h4v4h-4zM944 222h4v4h-4zM944 226h4v4h-4zM944 230h4v4h-4zM928 246h4v4h-4zM928 250h4v4h-4zM940 254h4v4h-4zM932 258h8v4h-8zM936 262h4v4h-4z"/><path fill="#bebebe" d="M932 186h8v4h-8zM932 190h4v4h-4zM940 194h4v4h-4zM928 198h4v4h-4zM940 198h4v4h-4zM928 202h4v4h-4zM928 206h4v4h-4zM928 238h4v4h-4zM928 242h4v4h-4zM940 246h4v4h-4zM940 250h4v4h-4zM932 254h8v4h-8z"/><path fill="#c3c3c3" d="M936 190h4v4h-4zM932 194h8v4h-8zM940 202h4v4h-4zM940 206h4v4h-4zM928 210h4v4h-4zM928 214h4v4h-4zM928 218h4v4h-4zM928 222h4v4h-4zM928 226h4v4h-4zM928 230h4v4h-4zM928 234h4v4h-4zM940 238h4v4h-4zM940 242h4v4h-4zM932 246h4v4h-4zM932 250h8v4h-8z"/><path fill="#c9c9c9" d="M932 198h8v4h-8zM932 202h8v4h-8zM940 210h4v4h-4zM940 214h4v4h-4zM940 218h4v4h-4zM940 222h4v4h-4zM940 226h4v4h-4zM940 230h4v4h-4zM940 234h4v4h-4zM932 242h8v4h-8zM936 246h4v4h-4z"/><path fill="#cecece" d="M932 206h8v4h-8zM932 210h8v4h-8zM932 214h4v4h-4zM932 218h4v4h-4zM932 226h4v4h-4zM932 230h4v4h-4zM932 234h8v4h-8zM932 238h8v4h-8z"/><path fill="#d4d4d4" d="M936 214h4v4h-4zM936 218h4v4h-4zM932 222h8v4h-8zM936 226h4v4h-4zM936 230h4v4h-4z"/></g></g><rect x="854.0" y="104.0" width="222.5" height="199.4" fill="none" stroke="#262626" stroke-width="1.1"/><path d="M871.8 303.4v-3.0M871.8 104.0v3.0M916.3 303.4v-3.0M916.3 104.0v3.0M960.8 303.4v-3.0M960.8 104.0v3.0M1005.3 303.4v-3.0M1005.3 104.0v3.0M1049.8 303.4v-3.0M1049.8 104.0v3.0M854.0 276.0h3.0M1076.5 276.0h-3.0M854.0 248.6h3.0M1076.5 248.6h-3.0M854.0 221.2h3.0M1076.5 221.2h-3.0M854.0 193.8h3.0M1076.5 193.8h-3.0M854.0 166.4h3.0M1076.5 166.4h-3.0M854.0 139.1h3.0M1076.5 139.1h-3.0M854.0 111.7h3.0M1076.5 111.7h-3.0" stroke="#262626" stroke-width="1.1" fill="none"/><rect x="1080.3" y="104.0" width="8.8" height="199.4" fill="url(#cbg)" stroke="#333" stroke-width="1"/><path d="M1089.1 132.5h-2.5M1089.1 161.0h-2.5M1089.1 189.5h-2.5M1089.1 217.9h-2.5M1089.1 246.4h-2.5M1089.1 274.9h-2.5" stroke="#262626" stroke-width="1" fill="none"/><text x="841.5" y="313.7" text-anchor="end">0</text><text x="841.5" y="258.9" text-anchor="end">100</text><text x="841.5" y="204.1" text-anchor="end">200</text><text x="841.5" y="149.4" text-anchor="end">300</text><text x="965.2" y="90.5" text-anchor="middle">Lateral occipital</text><text x="1100.1" y="121.8" font-size="24">1.2</text><text x="1100.1" y="302.0" font-size="24">−0.2</text><g clip-path="url(#cl3)"><g filter="url(#fc)"><path fill="#000000" d="M1296 192h4v4h-4zM1296 196h8v4h-8zM1292 200h12v4h-12zM1292 204h12v4h-12zM1292 208h16v4h-16zM1292 212h16v4h-16zM1292 216h16v4h-16zM1292 220h16v4h-16zM1292 224h16v4h-16zM1288 228h20v4h-20zM1288 232h20v4h-20zM1288 236h20v4h-20zM1288 240h20v4h-20zM1288 244h20v4h-20zM1288 248h20v4h-20zM1288 252h20v4h-20zM1292 256h16v4h-16zM1292 260h16v4h-16zM1292 264h16v4h-16zM1292 268h12v4h-12zM1296 272h8v4h-8zM1360 300h20v4h-20zM1352 304h32v4h-32zM1352 308h32v4h-32zM1352 312h32v4h-32zM1352 316h32v4h-32z"/><path fill="#050505" d="M1296 168h4v4h-4zM1296 172h4v4h-4zM1292 176h8v4h-8zM1292 180h12v4h-12zM1292 184h12v4h-12zM1292 188h12v4h-12zM1292 192h4v4h-4zM1300 192h8v4h-8zM1288 196h8v4h-8zM1304 196h4v4h-4zM1288 200h4v4h-4zM1304 200h4v4h-4zM1288 204h4v4h-4zM1304 204h4v4h-4zM1288 208h4v4h-4zM1288 212h4v4h-4zM1288 216h4v4h-4zM1288 220h4v4h-4zM1284 224h8v4h-8zM1308 224h4v4h-4zM1284 228h4v4h-4zM1308 228h4v4h-4zM1284 232h4v4h-4zM1308 232h4v4h-4zM1284 236h4v4h-4zM1308 236h4v4h-4zM1284 240h4v4h-4zM1308 240h4v4h-4zM1284 244h4v4h-4zM1308 244h4v4h-4zM1284 248h4v4h-4zM1308 248h4v4h-4zM1284 252h4v4h-4zM1308 252h4v4h-4zM1284 256h8v4h-8zM1308 256h4v4h-4zM1288 260h4v4h-4zM1308 260h4v4h-4zM1288 264h4v4h-4zM1288 268h4v4h-4zM1304 268h4v4h-4zM1288 272h8v4h-8zM1304 272h4v4h-4zM1292 276h12v4h-12zM1352 300h8v4h-8zM1380 300h4v4h-4zM1348 304h4v4h-4zM1384 304h4v4h-4zM1348 308h4v4h-4zM1384 308h4v4h-4zM1348 312h4v4h-4zM1384 312h4v4h-4zM1348 316h4v4h-4zM1384 316h4v4h-4z"/><path fill="#0b0b0b" d="M1292 152h8v4h-8zM1292 156h8v4h-8zM1292 160h8v4h-8zM1292 164h12v4h-12zM1288 168h8v4h-8zM1300 168h4v4h-4zM1288 172h8v4h-8zM1300 172h4v4h-4zM1288 176h4v4h-4zM1300 176h4v4h-4zM1288 180h4v4h-4zM1288 184h4v4h-4zM1304 184h4v4h-4zM1288 188h4v4h-4zM1304 188h4v4h-4zM1288 192h4v4h-4zM1284 196h4v4h-4zM1284 200h4v4h-4zM1308 200h4v4h-4zM1284 204h4v4h-4zM1308 204h4v4h-4zM1284 208h4v4h-4zM1308 208h4v4h-4zM1284 212h4v4h-4zM1308 212h4v4h-4zM1284 216h4v4h-4zM1308 216h4v4h-4zM1280 220h8v4h-8zM1308 220h4v4h-4zM1280 224h4v4h-4zM1280 228h4v4h-4zM1280 232h4v4h-4zM1256 236h4v4h-4zM1280 236h4v4h-4zM1256 240h8v4h-8zM1280 240h4v4h-4zM1256 244h8v4h-8zM1280 244h4v4h-4zM1256 248h8v4h-8zM1280 248h4v4h-4zM1256 252h8v4h-8zM1280 252h4v4h-4zM1256 256h8v4h-8zM1280 256h4v4h-4zM1256 260h4v4h-4zM1284 260h4v4h-4zM1284 264h4v4h-4zM1308 264h4v4h-4zM1284 268h4v4h-4zM1308 268h4v4h-4zM1284 272h4v4h-4zM1308 272h4v4h-4zM1288 276h4v4h-4zM1304 276h4v4h-4zM1296 280h8v4h-8zM1360 296h20v4h-20zM1348 300h4v4h-4zM1384 300h8v4h-8zM1344 304h4v4h-4zM1388 304h4v4h-4zM1344 308h4v4h-4zM1388 308h4v4h-4zM1344 312h4v4h-4zM1388 312h4v4h-4zM1344 316h4v4h-4zM1388 316h4v4h-4z"/><path fill="#101010" d="M1292 140h8v4h-8zM1292 144h8v4h-8zM1288 148h16v4h-16zM1288 152h4v4h-4zM1300 152h4v4h-4zM1288 156h4v4h-4zM1300 156h4v4h-4zM1288 160h4v4h-4zM1300 160h4v4h-4zM1288 164h4v4h-4zM1284 168h4v4h-4zM1284 172h4v4h-4zM1304 172h4v4h-4zM1284 176h4v4h-4zM1304 176h4v4h-4zM1284 180h4v4h-4zM1304 180h4v4h-4zM1284 184h4v4h-4zM1284 188h4v4h-4zM1308 188h4v4h-4zM1280 192h8v4h-8zM1308 192h4v4h-4zM1280 196h4v4h-4zM1308 196h4v4h-4zM1280 200h4v4h-4zM1280 204h4v4h-4zM1280 208h4v4h-4zM1280 212h4v4h-4zM1276 216h8v4h-8zM1276 220h4v4h-4zM1276 224h4v4h-4zM1256 228h8v4h-8zM1276 228h4v4h-4zM1252 232h12v4h-12zM1276 232h4v4h-4zM1252 236h4v4h-4zM1260 236h4v4h-4zM1276 236h4v4h-4zM1252 240h4v4h-4zM1264 240h4v4h-4zM1276 240h4v4h-4zM1252 244h4v4h-4zM1264 244h4v4h-4zM1276 244h4v4h-4zM1252 248h4v4h-4zM1264 248h4v4h-4zM1276 248h4v4h-4zM1252 252h4v4h-4zM1264 252h4v4h-4zM1276 252h4v4h-4zM1252 256h4v4h-4zM1264 256h4v4h-4zM1276 256h4v4h-4zM1252 260h4v4h-4zM1260 260h4v4h-4zM1276 260h8v4h-8zM1252 264h12v4h-12zM1280 264h4v4h-4zM1256 268h8v4h-8zM1280 268h4v4h-4zM1280 272h4v4h-4zM1284 276h4v4h-4zM1308 276h4v4h-4zM1288 280h8v4h-8zM1304 280h4v4h-4zM1352 296h8v4h-8zM1380 296h8v4h-8zM1344 300h4v4h-4zM1392 300h4v4h-4zM1340 304h4v4h-4zM1392 304h8v4h-8zM1340 308h4v4h-4zM1392 308h8v4h-8zM1340 312h4v4h-4zM1392 312h8v4h-8zM1340 316h4v4h-4zM1392 316h8v4h-8z"/><path fill="#161616" d="M1296 120h4v4h-4zM1292 124h8v4h-8zM1288 128h16v4h-16zM1288 132h16v4h-16zM1288 136h16v4h-16zM1284 140h8v4h-8zM1300 140h4v4h-4zM1284 144h8v4h-8zM1300 144h4v4h-4zM1284 148h4v4h-4zM1284 152h4v4h-4zM1304 152h4v4h-4zM1284 156h4v4h-4zM1304 156h4v4h-4zM1280 160h8v4h-8zM1304 160h4v4h-4zM1280 164h8v4h-8zM1304 164h4v4h-4zM1280 168h4v4h-4zM1304 168h4v4h-4zM1280 172h4v4h-4zM1280 176h4v4h-4zM1276 180h8v4h-8zM1308 180h4v4h-4zM1276 184h8v4h-8zM1308 184h4v4h-4zM1276 188h8v4h-8zM1276 192h4v4h-4zM1276 196h4v4h-4zM1272 200h8v4h-8zM1272 204h8v4h-8zM1272 208h8v4h-8zM1272 212h8v4h-8zM1312 212h4v4h-4zM1256 216h8v4h-8zM1272 216h4v4h-4zM1312 216h4v4h-4zM1240 220h36v4h-36zM1312 220h4v4h-4zM1240 224h36v4h-36zM1312 224h4v4h-4zM1240 228h16v4h-16zM1264 228h12v4h-12zM1312 228h4v4h-4zM1240 232h12v4h-12zM1264 232h12v4h-12zM1312 232h4v4h-4zM1240 236h12v4h-12zM1264 236h12v4h-12zM1312 236h4v4h-4zM1240 240h12v4h-12zM1268 240h8v4h-8zM1312 240h4v4h-4zM1240 244h12v4h-12zM1268 244h8v4h-8zM1312 244h4v4h-4zM1240 248h12v4h-12zM1268 248h8v4h-8zM1312 248h4v4h-4zM1240 252h12v4h-12zM1268 252h8v4h-8zM1312 252h4v4h-4zM1240 256h12v4h-12zM1268 256h8v4h-8zM1312 256h4v4h-4zM1240 260h12v4h-12zM1264 260h12v4h-12zM1312 260h4v4h-4zM1240 264h12v4h-12zM1264 264h16v4h-16zM1312 264h4v4h-4zM1252 268h4v4h-4zM1264 268h4v4h-4zM1272 268h8v4h-8zM1312 268h4v4h-4zM1252 272h16v4h-16zM1276 272h4v4h-4zM1256 276h8v4h-8zM1276 276h8v4h-8zM1284 280h4v4h-4zM1308 280h4v4h-4zM1344 296h8v4h-8zM1388 296h8v4h-8zM1340 300h4v4h-4zM1396 300h4v4h-4zM1400 304h4v4h-4zM1400 308h4v4h-4zM1400 312h4v4h-4zM1400 316h4v4h-4z"/><path fill="#1b1b1b" d="M1284 96h24v4h-24zM1284 100h24v4h-24zM1284 104h24v4h-24zM1284 108h24v4h-24zM1284 112h24v4h-24zM1284 116h24v4h-24zM1280 120h16v4h-16zM1300 120h8v4h-8zM1280 124h12v4h-12zM1300 124h8v4h-8zM1280 128h8v4h-8zM1304 128h4v4h-4zM1280 132h8v4h-8zM1304 132h4v4h-4zM1276 136h12v4h-12zM1304 136h4v4h-4zM1276 140h8v4h-8zM1304 140h4v4h-4zM1268 144h16v4h-16zM1304 144h4v4h-4zM1268 148h16v4h-16zM1304 148h4v4h-4zM1268 152h16v4h-16zM1268 156h16v4h-16zM1268 160h12v4h-12zM1308 160h4v4h-4zM1268 164h12v4h-12zM1308 164h4v4h-4zM1268 168h12v4h-12zM1308 168h4v4h-4zM1268 172h12v4h-12zM1308 172h4v4h-4zM1268 176h12v4h-12zM1308 176h4v4h-4zM1268 180h8v4h-8zM1264 184h12v4h-12zM1264 188h12v4h-12zM1264 192h12v4h-12zM1312 192h4v4h-4zM1264 196h12v4h-12zM1312 196h4v4h-4zM1240 200h12v4h-12zM1264 200h8v4h-8zM1312 200h4v4h-4zM1240 204h16v4h-16zM1260 204h12v4h-12zM1312 204h4v4h-4zM1240 208h32v4h-32zM1312 208h4v4h-4zM1240 212h32v4h-32zM1240 216h16v4h-16zM1264 216h8v4h-8zM1240 268h12v4h-12zM1268 268h4v4h-4zM1240 272h12v4h-12zM1268 272h8v4h-8zM1312 272h4v4h-4zM1240 276h16v4h-16zM1264 276h12v4h-12zM1312 276h4v4h-4zM1256 280h4v4h-4zM1276 280h8v4h-8zM1292 284h12v4h-12zM1368 292h20v4h-20zM1340 296h4v4h-4zM1396 296h8v4h-8zM1336 300h4v4h-4zM1400 300h8v4h-8zM1336 304h4v4h-4zM1404 304h4v4h-4zM1336 308h4v4h-4zM1404 308h4v4h-4zM1336 312h4v4h-4zM1404 312h4v4h-4zM1336 316h4v4h-4zM1404 316h4v4h-4z"/><path fill="#212121" d="M1240 96h44v4h-44zM1308 96h4v4h-4zM1240 100h44v4h-44zM1308 100h4v4h-4zM1240 104h44v4h-44zM1308 104h4v4h-4zM1240 108h44v4h-44zM1308 108h4v4h-4zM1240 112h44v4h-44zM1308 112h4v4h-4zM1240 116h44v4h-44zM1308 116h4v4h-4zM1240 120h40v4h-40zM1308 120h4v4h-4zM1240 124h40v4h-40zM1308 124h4v4h-4zM1240 128h40v4h-40zM1308 128h4v4h-4zM1240 132h40v4h-40zM1308 132h4v4h-4zM1440 132h4v4h-4zM1240 136h36v4h-36zM1308 136h4v4h-4zM1440 136h4v4h-4zM1240 140h16v4h-16zM1260 140h16v4h-16zM1308 140h4v4h-4zM1440 140h8v4h-8zM1240 144h16v4h-16zM1260 144h8v4h-8zM1308 144h4v4h-4zM1440 144h8v4h-8zM1240 148h12v4h-12zM1260 148h8v4h-8zM1308 148h4v4h-4zM1440 148h8v4h-8zM1240 152h12v4h-12zM1260 152h8v4h-8zM1308 152h4v4h-4zM1440 152h8v4h-8zM1240 156h12v4h-12zM1260 156h8v4h-8zM1308 156h4v4h-4zM1440 156h8v4h-8zM1240 160h12v4h-12zM1260 160h8v4h-8zM1440 160h12v4h-12zM1240 164h12v4h-12zM1260 164h8v4h-8zM1440 164h12v4h-12zM1240 168h12v4h-12zM1260 168h8v4h-8zM1440 168h12v4h-12zM1240 172h12v4h-12zM1260 172h8v4h-8zM1440 172h16v4h-16zM1240 176h12v4h-12zM1260 176h8v4h-8zM1440 176h20v4h-20zM1240 180h12v4h-12zM1260 180h8v4h-8zM1312 180h4v4h-4zM1440 180h24v4h-24zM1240 184h12v4h-12zM1260 184h4v4h-4zM1312 184h4v4h-4zM1440 184h24v4h-24zM1240 188h16v4h-16zM1260 188h4v4h-4zM1312 188h4v4h-4zM1440 188h28v4h-28zM1240 192h24v4h-24zM1444 192h24v4h-24zM1240 196h24v4h-24zM1444 196h24v4h-24zM1252 200h12v4h-12zM1444 200h8v4h-8zM1464 200h4v4h-4zM1256 204h4v4h-4zM1460 232h8v4h-8zM1460 236h8v4h-8zM1460 240h8v4h-8zM1456 244h12v4h-12zM1456 248h12v4h-12zM1456 252h12v4h-12zM1456 256h12v4h-12zM1456 260h12v4h-12zM1460 264h8v4h-8zM1460 268h8v4h-8zM1240 280h16v4h-16zM1260 280h16v4h-16zM1312 280h4v4h-4zM1284 284h8v4h-8zM1304 284h4v4h-4zM1360 292h8v4h-8zM1388 292h8v4h-8zM1404 296h8v4h-8zM1408 300h8v4h-8zM1408 304h8v4h-8zM1408 308h8v4h-8zM1408 312h8v4h-8zM1408 316h8v4h-8z"/><path fill="#262626" d="M1312 96h4v4h-4zM1312 100h4v4h-4zM1312 104h4v4h-4zM1312 108h4v4h-4zM1312 112h4v4h-4zM1440 112h8v4h-8zM1312 116h4v4h-4zM1440 116h8v4h-8zM1312 120h4v4h-4zM1440 120h8v4h-8zM1312 124h4v4h-4zM1440 124h8v4h-8zM1312 128h4v4h-4zM1440 128h8v4h-8zM1312 132h4v4h-4zM1444 132h4v4h-4zM1312 136h4v4h-4zM1436 136h4v4h-4zM1444 136h4v4h-4zM1256 140h4v4h-4zM1312 140h4v4h-4zM1436 140h4v4h-4zM1448 140h4v4h-4zM1256 144h4v4h-4zM1312 144h4v4h-4zM1436 144h4v4h-4zM1448 144h4v4h-4zM1252 148h8v4h-8zM1312 148h4v4h-4zM1436 148h4v4h-4zM1448 148h4v4h-4zM1252 152h8v4h-8zM1312 152h4v4h-4zM1436 152h4v4h-4zM1448 152h8v4h-8zM1252 156h8v4h-8zM1312 156h4v4h-4zM1436 156h4v4h-4zM1448 156h12v4h-12zM1252 160h8v4h-8zM1312 160h4v4h-4zM1436 160h4v4h-4zM1452 160h16v4h-16zM1252 164h8v4h-8zM1312 164h4v4h-4zM1436 164h4v4h-4zM1452 164h16v4h-16zM1252 168h8v4h-8zM1312 168h4v4h-4zM1436 168h4v4h-4zM1452 168h32v4h-32zM1252 172h8v4h-8zM1312 172h4v4h-4zM1436 172h4v4h-4zM1456 172h28v4h-28zM1252 176h8v4h-8zM1312 176h4v4h-4zM1460 176h24v4h-24zM1252 180h8v4h-8zM1464 180h20v4h-20zM1252 184h8v4h-8zM1464 184h20v4h-20zM1256 188h4v4h-4zM1468 188h16v4h-16zM1440 192h4v4h-4zM1468 192h16v4h-16zM1440 196h4v4h-4zM1468 196h16v4h-16zM1440 200h4v4h-4zM1452 200h12v4h-12zM1468 200h16v4h-16zM1440 204h44v4h-44zM1440 208h44v4h-44zM1444 212h40v4h-40zM1444 216h40v4h-40zM1444 220h40v4h-40zM1444 224h40v4h-40zM1444 228h40v4h-40zM1444 232h16v4h-16zM1468 232h16v4h-16zM1444 236h16v4h-16zM1468 236h16v4h-16zM1444 240h16v4h-16zM1468 240h16v4h-16zM1448 244h8v4h-8zM1468 244h16v4h-16zM1448 248h8v4h-8zM1468 248h16v4h-16zM1448 252h8v4h-8zM1468 252h16v4h-16zM1448 256h8v4h-8zM1468 256h16v4h-16zM1448 260h8v4h-8zM1468 260h16v4h-16zM1448 264h12v4h-12zM1468 264h16v4h-16zM1448 268h12v4h-12zM1468 268h16v4h-16zM1448 272h36v4h-36zM1448 276h36v4h-36zM1452 280h32v4h-32zM1276 284h8v4h-8zM1308 284h4v4h-4zM1456 284h28v4h-28zM1352 292h8v4h-8zM1396 292h12v4h-12zM1336 296h4v4h-4zM1412 296h12v4h-12zM1416 300h12v4h-12zM1332 304h4v4h-4zM1416 304h16v4h-16zM1332 308h4v4h-4zM1416 308h16v4h-16zM1332 312h4v4h-4zM1416 312h16v4h-16zM1332 316h4v4h-4zM1416 316h16v4h-16z"/><path fill="#2b2b2b" d="M1440 96h44v4h-44zM1440 100h44v4h-44zM1440 104h44v4h-44zM1436 108h48v4h-48zM1436 112h4v4h-4zM1448 112h36v4h-36zM1436 116h4v4h-4zM1448 116h36v4h-36zM1436 120h4v4h-4zM1448 120h36v4h-36zM1436 124h4v4h-4zM1448 124h36v4h-36zM1436 128h4v4h-4zM1448 128h36v4h-36zM1436 132h4v4h-4zM1448 132h36v4h-36zM1448 136h36v4h-36zM1452 140h32v4h-32zM1452 144h32v4h-32zM1452 148h32v4h-32zM1456 152h28v4h-28zM1460 156h24v4h-24zM1468 160h16v4h-16zM1468 164h16v4h-16zM1436 176h4v4h-4zM1436 180h4v4h-4zM1436 184h4v4h-4zM1436 188h4v4h-4zM1436 192h4v4h-4zM1436 196h4v4h-4zM1440 212h4v4h-4zM1440 216h4v4h-4zM1440 220h4v4h-4zM1440 224h4v4h-4zM1440 228h4v4h-4zM1440 232h4v4h-4zM1440 236h4v4h-4zM1316 240h4v4h-4zM1440 240h4v4h-4zM1316 244h4v4h-4zM1440 244h8v4h-8zM1316 248h4v4h-4zM1444 248h4v4h-4zM1316 252h4v4h-4zM1444 252h4v4h-4zM1316 256h4v4h-4zM1444 256h4v4h-4zM1316 260h4v4h-4zM1444 260h4v4h-4zM1316 264h4v4h-4zM1444 264h4v4h-4zM1316 268h4v4h-4zM1444 268h4v4h-4zM1316 272h4v4h-4zM1444 272h4v4h-4zM1316 276h4v4h-4zM1444 276h4v4h-4zM1444 280h8v4h-8zM1240 284h36v4h-36zM1312 284h4v4h-4zM1444 284h12v4h-12zM1380 288h12v4h-12zM1440 288h44v4h-44zM1340 292h12v4h-12zM1408 292h76v4h-76zM1332 296h4v4h-4zM1424 296h60v4h-60zM1332 300h4v4h-4zM1428 300h56v4h-56zM1432 304h52v4h-52zM1432 308h52v4h-52zM1432 312h52v4h-52zM1432 316h52v4h-52z"/><path fill="#313131" d="M1316 96h4v4h-4zM1436 96h4v4h-4zM1316 100h4v4h-4zM1436 100h4v4h-4zM1316 104h4v4h-4zM1436 104h4v4h-4zM1316 108h4v4h-4zM1316 112h4v4h-4zM1316 116h4v4h-4zM1316 120h4v4h-4zM1316 124h4v4h-4zM1316 128h4v4h-4zM1432 128h4v4h-4zM1316 132h4v4h-4zM1432 132h4v4h-4zM1316 136h4v4h-4zM1432 136h4v4h-4zM1316 140h4v4h-4zM1432 140h4v4h-4zM1316 144h4v4h-4zM1432 144h4v4h-4zM1316 148h4v4h-4zM1432 148h4v4h-4zM1316 152h4v4h-4zM1432 152h4v4h-4zM1316 156h4v4h-4zM1432 156h4v4h-4zM1432 160h4v4h-4zM1432 164h4v4h-4zM1432 168h4v4h-4zM1432 172h4v4h-4zM1316 180h4v4h-4zM1316 184h4v4h-4zM1316 188h4v4h-4zM1316 192h4v4h-4zM1316 196h4v4h-4zM1316 200h4v4h-4zM1436 200h4v4h-4zM1316 204h4v4h-4zM1436 204h4v4h-4zM1316 208h4v4h-4zM1436 208h4v4h-4zM1316 212h4v4h-4zM1436 212h4v4h-4zM1316 216h4v4h-4zM1436 216h4v4h-4zM1316 220h4v4h-4zM1436 220h4v4h-4zM1316 224h4v4h-4zM1436 224h4v4h-4zM1316 228h4v4h-4zM1436 228h4v4h-4zM1316 232h4v4h-4zM1316 236h4v4h-4zM1440 248h4v4h-4zM1440 252h4v4h-4zM1440 256h4v4h-4zM1440 260h4v4h-4zM1440 264h4v4h-4zM1440 268h4v4h-4zM1440 272h4v4h-4zM1440 276h4v4h-4zM1316 280h4v4h-4zM1440 280h4v4h-4zM1440 284h4v4h-4zM1372 288h8v4h-8zM1392 288h48v4h-48zM1336 292h4v4h-4z"/><path fill="#363636" d="M1432 96h4v4h-4zM1432 100h4v4h-4zM1432 104h4v4h-4zM1432 108h4v4h-4zM1432 112h4v4h-4zM1432 116h4v4h-4zM1432 120h4v4h-4zM1432 124h4v4h-4zM1316 160h4v4h-4zM1316 164h4v4h-4zM1316 168h4v4h-4zM1316 172h4v4h-4zM1316 176h4v4h-4zM1432 176h4v4h-4zM1432 180h4v4h-4zM1432 184h4v4h-4zM1432 188h4v4h-4zM1432 192h4v4h-4zM1432 196h4v4h-4zM1432 200h4v4h-4zM1432 204h4v4h-4zM1432 208h4v4h-4zM1436 232h4v4h-4zM1436 236h4v4h-4zM1436 240h4v4h-4zM1436 244h4v4h-4zM1436 248h4v4h-4zM1436 252h4v4h-4zM1436 256h4v4h-4zM1436 260h4v4h-4zM1436 264h4v4h-4zM1436 268h4v4h-4zM1436 272h4v4h-4zM1436 276h4v4h-4zM1436 280h4v4h-4zM1316 284h4v4h-4zM1432 284h8v4h-8zM1280 288h32v4h-32zM1368 288h4v4h-4zM1332 292h4v4h-4zM1328 300h4v4h-4zM1328 304h4v4h-4zM1328 308h4v4h-4zM1328 312h4v4h-4zM1328 316h4v4h-4z"/><path fill="#3c3c3c" d="M1428 96h4v4h-4zM1428 100h4v4h-4zM1428 104h4v4h-4zM1428 108h4v4h-4zM1428 112h4v4h-4zM1428 116h4v4h-4zM1428 120h4v4h-4zM1428 124h4v4h-4zM1428 128h4v4h-4zM1428 132h4v4h-4zM1428 136h4v4h-4zM1428 140h4v4h-4zM1428 144h4v4h-4zM1428 148h4v4h-4zM1428 152h4v4h-4zM1428 156h4v4h-4zM1428 160h4v4h-4zM1428 164h4v4h-4zM1428 168h4v4h-4zM1428 172h4v4h-4zM1428 176h4v4h-4zM1428 180h4v4h-4zM1428 184h4v4h-4zM1428 188h4v4h-4zM1428 192h4v4h-4zM1428 196h4v4h-4zM1432 212h4v4h-4zM1432 216h4v4h-4zM1432 220h4v4h-4zM1432 224h4v4h-4zM1432 228h4v4h-4zM1432 232h4v4h-4zM1432 236h4v4h-4zM1432 240h4v4h-4zM1432 244h4v4h-4zM1432 248h4v4h-4zM1432 252h4v4h-4zM1432 256h4v4h-4zM1432 260h4v4h-4zM1432 264h4v4h-4zM1432 268h4v4h-4zM1432 272h4v4h-4zM1432 276h4v4h-4zM1432 280h4v4h-4zM1380 284h52v4h-52zM1240 288h40v4h-40zM1312 288h4v4h-4zM1364 288h4v4h-4zM1328 296h4v4h-4z"/><path fill="#414141" d="M1320 96h4v4h-4zM1420 96h8v4h-8zM1320 100h4v4h-4zM1420 100h8v4h-8zM1320 104h4v4h-4zM1420 104h8v4h-8zM1320 108h4v4h-4zM1420 108h8v4h-8zM1320 112h4v4h-4zM1420 112h8v4h-8zM1320 116h4v4h-4zM1420 116h8v4h-8zM1320 120h4v4h-4zM1420 120h8v4h-8zM1320 124h4v4h-4zM1420 124h8v4h-8zM1320 128h4v4h-4zM1420 128h8v4h-8zM1320 132h4v4h-4zM1420 132h8v4h-8zM1320 136h4v4h-4zM1420 136h8v4h-8zM1420 140h8v4h-8zM1420 144h8v4h-8zM1420 148h8v4h-8zM1420 152h8v4h-8zM1420 156h8v4h-8zM1420 160h8v4h-8zM1420 164h8v4h-8zM1404 168h8v4h-8zM1420 168h8v4h-8zM1404 172h8v4h-8zM1420 172h8v4h-8zM1404 176h8v4h-8zM1420 176h8v4h-8zM1404 180h8v4h-8zM1420 180h8v4h-8zM1404 184h8v4h-8zM1420 184h8v4h-8zM1404 188h8v4h-8zM1420 188h8v4h-8zM1404 192h8v4h-8zM1424 192h4v4h-4zM1404 196h12v4h-12zM1424 196h4v4h-4zM1404 200h8v4h-8zM1424 200h8v4h-8zM1404 204h8v4h-8zM1424 204h8v4h-8zM1404 208h8v4h-8zM1424 208h8v4h-8zM1404 212h8v4h-8zM1424 212h8v4h-8zM1404 216h12v4h-12zM1424 216h8v4h-8zM1404 220h12v4h-12zM1424 220h8v4h-8zM1404 224h12v4h-12zM1424 224h8v4h-8zM1404 228h12v4h-12zM1424 228h8v4h-8zM1404 232h28v4h-28zM1404 236h28v4h-28zM1404 240h28v4h-28zM1404 244h28v4h-28zM1404 248h28v4h-28zM1404 252h28v4h-28zM1404 256h28v4h-28zM1404 260h28v4h-28zM1404 264h28v4h-28zM1408 268h24v4h-24zM1412 272h20v4h-20zM1408 276h24v4h-24zM1388 280h44v4h-44zM1376 284h4v4h-4zM1316 288h4v4h-4zM1360 288h4v4h-4zM1328 292h4v4h-4zM1324 300h4v4h-4zM1324 304h4v4h-4zM1324 308h4v4h-4zM1324 312h4v4h-4zM1324 316h4v4h-4z"/><path fill="#474747" d="M1372 96h48v4h-48zM1372 100h48v4h-48zM1372 104h48v4h-48zM1376 108h44v4h-44zM1376 112h44v4h-44zM1376 116h16v4h-16zM1396 116h24v4h-24zM1376 120h16v4h-16zM1396 120h24v4h-24zM1376 124h16v4h-16zM1400 124h20v4h-20zM1376 128h16v4h-16zM1400 128h20v4h-20zM1380 132h12v4h-12zM1400 132h20v4h-20zM1380 136h8v4h-8zM1400 136h20v4h-20zM1320 140h4v4h-4zM1380 140h8v4h-8zM1400 140h20v4h-20zM1320 144h4v4h-4zM1380 144h8v4h-8zM1400 144h20v4h-20zM1320 148h4v4h-4zM1380 148h8v4h-8zM1400 148h20v4h-20zM1320 152h4v4h-4zM1384 152h4v4h-4zM1400 152h20v4h-20zM1320 156h4v4h-4zM1400 156h20v4h-20zM1320 160h4v4h-4zM1400 160h20v4h-20zM1320 164h4v4h-4zM1400 164h20v4h-20zM1320 168h4v4h-4zM1400 168h4v4h-4zM1412 168h8v4h-8zM1320 172h4v4h-4zM1400 172h4v4h-4zM1412 172h8v4h-8zM1320 176h4v4h-4zM1400 176h4v4h-4zM1412 176h8v4h-8zM1320 180h4v4h-4zM1396 180h8v4h-8zM1412 180h8v4h-8zM1396 184h8v4h-8zM1412 184h8v4h-8zM1396 188h8v4h-8zM1412 188h8v4h-8zM1396 192h8v4h-8zM1412 192h12v4h-12zM1396 196h8v4h-8zM1416 196h8v4h-8zM1396 200h8v4h-8zM1412 200h12v4h-12zM1396 204h8v4h-8zM1412 204h12v4h-12zM1396 208h8v4h-8zM1412 208h12v4h-12zM1396 212h8v4h-8zM1412 212h12v4h-12zM1396 216h8v4h-8zM1416 216h8v4h-8zM1396 220h8v4h-8zM1416 220h8v4h-8zM1396 224h8v4h-8zM1416 224h8v4h-8zM1396 228h8v4h-8zM1416 228h8v4h-8zM1396 232h8v4h-8zM1396 236h8v4h-8zM1396 240h8v4h-8zM1396 244h8v4h-8zM1396 248h8v4h-8zM1396 252h8v4h-8zM1396 256h8v4h-8zM1392 260h12v4h-12zM1320 264h4v4h-4zM1392 264h12v4h-12zM1320 268h4v4h-4zM1388 268h20v4h-20zM1320 272h4v4h-4zM1384 272h28v4h-28zM1320 276h4v4h-4zM1384 276h24v4h-24zM1320 280h4v4h-4zM1380 280h8v4h-8zM1320 284h4v4h-4zM1320 288h4v4h-4zM1356 288h4v4h-4zM1240 292h80v4h-80zM1324 292h4v4h-4zM1324 296h4v4h-4z"/><path fill="#4c4c4c" d="M1368 96h4v4h-4zM1368 100h4v4h-4zM1368 104h4v4h-4zM1368 108h8v4h-8zM1368 112h8v4h-8zM1372 116h4v4h-4zM1392 116h4v4h-4zM1372 120h4v4h-4zM1392 120h4v4h-4zM1372 124h4v4h-4zM1392 124h8v4h-8zM1372 128h4v4h-4zM1392 128h8v4h-8zM1372 132h8v4h-8zM1392 132h8v4h-8zM1372 136h8v4h-8zM1388 136h12v4h-12zM1376 140h4v4h-4zM1388 140h12v4h-12zM1376 144h4v4h-4zM1388 144h12v4h-12zM1376 148h4v4h-4zM1388 148h12v4h-12zM1376 152h8v4h-8zM1388 152h12v4h-12zM1376 156h24v4h-24zM1376 160h24v4h-24zM1376 164h24v4h-24zM1376 168h24v4h-24zM1376 172h24v4h-24zM1380 176h20v4h-20zM1380 180h16v4h-16zM1320 184h4v4h-4zM1380 184h16v4h-16zM1320 188h4v4h-4zM1380 188h16v4h-16zM1320 192h4v4h-4zM1380 192h16v4h-16zM1320 196h4v4h-4zM1380 196h16v4h-16zM1320 200h4v4h-4zM1380 200h16v4h-16zM1320 204h4v4h-4zM1380 204h16v4h-16zM1320 208h4v4h-4zM1380 208h16v4h-16zM1320 212h4v4h-4zM1384 212h12v4h-12zM1320 216h4v4h-4zM1384 216h12v4h-12zM1320 220h4v4h-4zM1384 220h12v4h-12zM1320 224h4v4h-4zM1384 224h12v4h-12zM1320 228h4v4h-4zM1384 228h12v4h-12zM1320 232h4v4h-4zM1384 232h12v4h-12zM1320 236h4v4h-4zM1384 236h12v4h-12zM1320 240h4v4h-4zM1384 240h12v4h-12zM1320 244h4v4h-4zM1384 244h12v4h-12zM1320 248h4v4h-4zM1384 248h12v4h-12zM1320 252h4v4h-4zM1384 252h12v4h-12zM1320 256h4v4h-4zM1384 256h12v4h-12zM1320 260h4v4h-4zM1384 260h8v4h-8zM1384 264h8v4h-8zM1384 268h4v4h-4zM1380 272h4v4h-4zM1380 276h4v4h-4zM1372 284h4v4h-4zM1324 288h32v4h-32zM1320 292h4v4h-4zM1240 296h84v4h-84zM1316 300h8v4h-8zM1316 304h8v4h-8zM1316 308h8v4h-8zM1316 312h8v4h-8zM1316 316h8v4h-8z"/><path fill="#515151" d="M1324 96h4v4h-4zM1364 96h4v4h-4zM1324 100h4v4h-4zM1364 100h4v4h-4zM1324 104h4v4h-4zM1364 104h4v4h-4zM1324 108h4v4h-4zM1364 108h4v4h-4zM1324 112h4v4h-4zM1364 112h4v4h-4zM1324 116h4v4h-4zM1368 116h4v4h-4zM1368 120h4v4h-4zM1368 124h4v4h-4zM1368 128h4v4h-4zM1368 132h4v4h-4zM1368 136h4v4h-4zM1372 140h4v4h-4zM1372 144h4v4h-4zM1372 148h4v4h-4zM1372 152h4v4h-4zM1372 156h4v4h-4zM1372 160h4v4h-4zM1372 164h4v4h-4zM1372 168h4v4h-4zM1376 176h4v4h-4zM1376 180h4v4h-4zM1376 184h4v4h-4zM1376 188h4v4h-4zM1376 192h4v4h-4zM1376 196h4v4h-4zM1376 200h4v4h-4zM1376 204h4v4h-4zM1376 208h4v4h-4zM1380 212h4v4h-4zM1380 216h4v4h-4zM1380 220h4v4h-4zM1380 224h4v4h-4zM1380 228h4v4h-4zM1380 232h4v4h-4zM1380 236h4v4h-4zM1380 240h4v4h-4zM1380 244h4v4h-4zM1380 248h4v4h-4zM1380 252h4v4h-4zM1380 256h4v4h-4zM1380 260h4v4h-4zM1380 264h4v4h-4zM1380 268h4v4h-4zM1376 280h4v4h-4zM1324 284h4v4h-4zM1368 284h4v4h-4zM1240 300h76v4h-76zM1240 304h76v4h-76zM1240 308h76v4h-76zM1240 312h76v4h-76zM1240 316h76v4h-76z"/><path fill="#575757" d="M1360 96h4v4h-4zM1360 100h4v4h-4zM1360 104h4v4h-4zM1360 108h4v4h-4zM1364 116h4v4h-4zM1324 120h4v4h-4zM1364 120h4v4h-4zM1324 124h4v4h-4zM1364 124h4v4h-4zM1324 128h4v4h-4zM1364 128h4v4h-4zM1324 132h4v4h-4zM1364 132h4v4h-4zM1324 136h4v4h-4zM1324 140h4v4h-4zM1368 140h4v4h-4zM1368 144h4v4h-4zM1368 148h4v4h-4zM1368 152h4v4h-4zM1368 156h4v4h-4zM1368 160h4v4h-4zM1372 172h4v4h-4zM1372 176h4v4h-4zM1372 180h4v4h-4zM1372 184h4v4h-4zM1372 188h4v4h-4zM1376 212h4v4h-4zM1376 216h4v4h-4zM1376 220h4v4h-4zM1376 224h4v4h-4zM1376 228h4v4h-4zM1376 232h4v4h-4zM1376 268h4v4h-4zM1376 272h4v4h-4zM1376 276h4v4h-4zM1324 280h4v4h-4zM1372 280h4v4h-4z"/><path fill="#5c5c5c" d="M1328 96h4v4h-4zM1356 96h4v4h-4zM1328 100h4v4h-4zM1356 100h4v4h-4zM1328 104h4v4h-4zM1356 104h4v4h-4zM1328 108h4v4h-4zM1360 112h4v4h-4zM1360 116h4v4h-4zM1360 120h4v4h-4zM1360 124h4v4h-4zM1360 128h4v4h-4zM1364 136h4v4h-4zM1364 140h4v4h-4zM1324 144h4v4h-4zM1364 144h4v4h-4zM1324 148h4v4h-4zM1364 148h4v4h-4zM1324 152h4v4h-4zM1364 152h4v4h-4zM1324 156h4v4h-4zM1324 160h4v4h-4zM1324 164h4v4h-4zM1368 164h4v4h-4zM1324 168h4v4h-4zM1368 168h4v4h-4zM1368 172h4v4h-4zM1368 176h4v4h-4zM1372 192h4v4h-4zM1372 196h4v4h-4zM1372 200h4v4h-4zM1372 204h4v4h-4zM1376 236h4v4h-4zM1376 240h4v4h-4zM1376 244h4v4h-4zM1376 248h4v4h-4zM1376 252h4v4h-4zM1376 256h4v4h-4zM1376 260h4v4h-4zM1376 264h4v4h-4zM1324 276h4v4h-4zM1328 284h4v4h-4zM1364 284h4v4h-4z"/><path fill="#626262" d="M1332 96h4v4h-4zM1332 100h4v4h-4zM1332 104h4v4h-4zM1356 108h4v4h-4zM1328 112h4v4h-4zM1356 112h4v4h-4zM1328 116h4v4h-4zM1356 116h4v4h-4zM1328 120h4v4h-4zM1356 120h4v4h-4zM1328 124h4v4h-4zM1360 132h4v4h-4zM1360 136h4v4h-4zM1360 140h4v4h-4zM1360 144h4v4h-4zM1364 156h4v4h-4zM1364 160h4v4h-4zM1364 164h4v4h-4zM1324 172h4v4h-4zM1324 176h4v4h-4zM1324 180h4v4h-4zM1368 180h4v4h-4zM1324 184h4v4h-4zM1368 184h4v4h-4zM1324 188h4v4h-4zM1368 188h4v4h-4zM1324 192h4v4h-4zM1324 196h4v4h-4zM1372 208h4v4h-4zM1372 212h4v4h-4zM1372 216h4v4h-4zM1324 264h4v4h-4zM1324 268h4v4h-4zM1324 272h4v4h-4zM1372 276h4v4h-4zM1332 284h4v4h-4z"/><path fill="#676767" d="M1336 96h20v4h-20zM1336 100h20v4h-20zM1336 104h20v4h-20zM1332 108h16v4h-16zM1352 108h4v4h-4zM1332 112h8v4h-8zM1352 112h4v4h-4zM1332 116h4v4h-4zM1356 124h4v4h-4zM1328 128h4v4h-4zM1356 128h4v4h-4zM1328 132h4v4h-4zM1356 132h4v4h-4zM1328 136h4v4h-4zM1356 136h4v4h-4zM1328 140h4v4h-4zM1360 148h4v4h-4zM1360 152h4v4h-4zM1360 156h4v4h-4zM1364 168h4v4h-4zM1364 172h4v4h-4zM1364 176h4v4h-4zM1368 192h4v4h-4zM1368 196h4v4h-4zM1324 200h4v4h-4zM1324 204h4v4h-4zM1324 208h4v4h-4zM1324 212h4v4h-4zM1324 216h4v4h-4zM1372 220h4v4h-4zM1372 224h4v4h-4zM1372 228h4v4h-4zM1372 232h4v4h-4zM1324 252h4v4h-4zM1324 256h4v4h-4zM1324 260h4v4h-4zM1372 264h4v4h-4zM1372 268h4v4h-4zM1372 272h4v4h-4zM1328 280h4v4h-4zM1368 280h4v4h-4zM1360 284h4v4h-4z"/><path fill="#6d6d6d" d="M1348 108h4v4h-4zM1340 112h12v4h-12zM1336 116h20v4h-20zM1332 120h24v4h-24zM1332 124h8v4h-8zM1352 124h4v4h-4zM1332 128h4v4h-4zM1352 128h4v4h-4zM1356 140h4v4h-4zM1328 144h4v4h-4zM1356 144h4v4h-4zM1328 148h4v4h-4zM1356 148h4v4h-4zM1328 152h4v4h-4zM1328 156h4v4h-4zM1328 160h4v4h-4zM1360 160h4v4h-4zM1360 164h4v4h-4zM1360 168h4v4h-4zM1364 180h4v4h-4zM1364 184h4v4h-4zM1368 200h4v4h-4zM1368 204h4v4h-4zM1324 220h4v4h-4zM1324 224h4v4h-4zM1324 228h4v4h-4zM1324 232h4v4h-4zM1324 236h4v4h-4zM1372 236h4v4h-4zM1324 240h4v4h-4zM1372 240h4v4h-4zM1324 244h4v4h-4zM1372 244h4v4h-4zM1324 248h4v4h-4zM1372 248h4v4h-4zM1372 252h4v4h-4zM1372 256h4v4h-4zM1372 260h4v4h-4zM1336 284h4v4h-4z"/><path fill="#727272" d="M1340 124h12v4h-12zM1336 128h16v4h-16zM1332 132h24v4h-24zM1332 136h4v4h-4zM1352 136h4v4h-4zM1332 140h4v4h-4zM1352 140h4v4h-4zM1332 144h4v4h-4zM1356 152h4v4h-4zM1356 156h4v4h-4zM1356 160h4v4h-4zM1328 164h4v4h-4zM1328 168h4v4h-4zM1328 172h4v4h-4zM1360 172h4v4h-4zM1328 176h4v4h-4zM1360 176h4v4h-4zM1328 180h4v4h-4zM1328 184h4v4h-4zM1364 188h4v4h-4zM1364 192h4v4h-4zM1368 208h4v4h-4zM1368 212h4v4h-4zM1328 276h4v4h-4zM1368 276h4v4h-4zM1340 284h4v4h-4zM1356 284h4v4h-4z"/><path fill="#777777" d="M1336 136h16v4h-16zM1336 140h16v4h-16zM1336 144h20v4h-20zM1332 148h4v4h-4zM1352 148h4v4h-4zM1332 152h4v4h-4zM1352 152h4v4h-4zM1332 156h4v4h-4zM1356 164h4v4h-4zM1356 168h4v4h-4zM1360 180h4v4h-4zM1360 184h4v4h-4zM1328 188h4v4h-4zM1328 192h4v4h-4zM1328 196h4v4h-4zM1364 196h4v4h-4zM1328 200h4v4h-4zM1368 216h4v4h-4zM1368 220h4v4h-4zM1328 268h4v4h-4zM1328 272h4v4h-4zM1368 272h4v4h-4zM1332 280h4v4h-4zM1364 280h4v4h-4zM1344 284h4v4h-4zM1352 284h4v4h-4z"/><path fill="#7d7d7d" d="M1336 148h16v4h-16zM1336 152h16v4h-16zM1336 156h8v4h-8zM1352 156h4v4h-4zM1332 160h8v4h-8zM1352 160h4v4h-4zM1332 164h4v4h-4zM1332 168h4v4h-4zM1332 172h4v4h-4zM1356 172h4v4h-4zM1332 176h4v4h-4zM1356 176h4v4h-4zM1360 188h4v4h-4zM1364 200h4v4h-4zM1328 204h4v4h-4zM1364 204h4v4h-4zM1328 208h4v4h-4zM1328 212h4v4h-4zM1368 224h4v4h-4zM1368 228h4v4h-4zM1328 264h4v4h-4zM1368 264h4v4h-4zM1368 268h4v4h-4zM1348 284h4v4h-4z"/><path fill="#828282" d="M1344 156h8v4h-8zM1340 160h12v4h-12zM1336 164h12v4h-12zM1352 164h4v4h-4zM1336 168h8v4h-8zM1352 168h4v4h-4zM1336 172h4v4h-4zM1332 180h4v4h-4zM1356 180h4v4h-4zM1332 184h4v4h-4zM1332 188h4v4h-4zM1360 192h4v4h-4zM1364 208h4v4h-4zM1328 216h4v4h-4zM1328 220h4v4h-4zM1328 224h4v4h-4zM1368 232h4v4h-4zM1368 236h4v4h-4zM1368 240h4v4h-4zM1368 244h4v4h-4zM1368 248h4v4h-4zM1328 252h4v4h-4zM1368 252h4v4h-4zM1328 256h4v4h-4zM1368 256h4v4h-4zM1328 260h4v4h-4zM1368 260h4v4h-4zM1332 276h4v4h-4zM1364 276h4v4h-4zM1336 280h4v4h-4z"/><path fill="#888888" d="M1348 164h4v4h-4zM1344 168h8v4h-8zM1340 172h8v4h-8zM1352 172h4v4h-4zM1336 176h8v4h-8zM1352 176h4v4h-4zM1336 180h4v4h-4zM1336 184h4v4h-4zM1356 184h4v4h-4zM1332 192h4v4h-4zM1332 196h4v4h-4zM1360 196h4v4h-4zM1332 200h4v4h-4zM1364 212h4v4h-4zM1328 228h4v4h-4zM1328 232h4v4h-4zM1328 236h4v4h-4zM1328 240h4v4h-4zM1328 244h4v4h-4zM1328 248h4v4h-4zM1332 272h4v4h-4zM1360 280h4v4h-4z"/><path fill="#8d8d8d" d="M1348 172h4v4h-4zM1344 176h8v4h-8zM1340 180h4v4h-4zM1352 180h4v4h-4zM1336 188h4v4h-4zM1356 188h4v4h-4zM1336 192h4v4h-4zM1356 192h4v4h-4zM1360 200h4v4h-4zM1332 204h4v4h-4zM1332 208h4v4h-4zM1364 216h4v4h-4zM1332 268h4v4h-4zM1364 272h4v4h-4zM1340 280h4v4h-4z"/><path fill="#929292" d="M1344 180h8v4h-8zM1340 184h8v4h-8zM1352 184h4v4h-4zM1340 188h4v4h-4zM1336 196h4v4h-4zM1356 196h4v4h-4zM1360 204h4v4h-4zM1332 212h4v4h-4zM1332 216h4v4h-4zM1364 220h4v4h-4zM1364 224h4v4h-4zM1332 264h4v4h-4zM1364 268h4v4h-4zM1336 276h4v4h-4zM1356 280h4v4h-4z"/><path fill="#989898" d="M1348 184h4v4h-4zM1344 188h4v4h-4zM1352 188h4v4h-4zM1340 192h4v4h-4zM1336 200h4v4h-4zM1336 204h4v4h-4zM1360 208h4v4h-4zM1332 220h4v4h-4zM1332 224h4v4h-4zM1364 228h4v4h-4zM1364 232h4v4h-4zM1332 256h4v4h-4zM1332 260h4v4h-4zM1364 260h4v4h-4zM1364 264h4v4h-4zM1336 272h4v4h-4zM1360 276h4v4h-4zM1344 280h4v4h-4z"/><path fill="#9d9d9d" d="M1348 188h4v4h-4zM1344 192h4v4h-4zM1352 192h4v4h-4zM1340 196h4v4h-4zM1356 200h4v4h-4zM1336 208h4v4h-4zM1360 212h4v4h-4zM1332 228h4v4h-4zM1332 232h4v4h-4zM1332 236h4v4h-4zM1364 236h4v4h-4zM1332 240h4v4h-4zM1364 240h4v4h-4zM1332 244h4v4h-4zM1364 244h4v4h-4zM1332 248h4v4h-4zM1364 248h4v4h-4zM1332 252h4v4h-4zM1364 252h4v4h-4zM1364 256h4v4h-4zM1360 272h4v4h-4zM1340 276h4v4h-4zM1348 280h8v4h-8z"/><path fill="#a3a3a3" d="M1348 192h4v4h-4zM1344 196h4v4h-4zM1352 196h4v4h-4zM1340 200h4v4h-4zM1356 204h4v4h-4zM1336 212h4v4h-4zM1360 216h4v4h-4zM1336 268h4v4h-4zM1356 276h4v4h-4z"/><path fill="#a8a8a8" d="M1348 196h4v4h-4zM1344 200h4v4h-4zM1352 200h4v4h-4zM1340 204h4v4h-4zM1340 208h4v4h-4zM1356 208h4v4h-4zM1336 216h4v4h-4zM1336 220h4v4h-4zM1360 220h4v4h-4zM1336 264h4v4h-4zM1360 268h4v4h-4zM1340 272h4v4h-4zM1344 276h4v4h-4z"/><path fill="#aeaeae" d="M1348 200h4v4h-4zM1344 204h4v4h-4zM1352 204h4v4h-4zM1340 212h4v4h-4zM1356 212h4v4h-4zM1336 224h4v4h-4zM1360 224h4v4h-4zM1360 228h4v4h-4zM1336 256h4v4h-4zM1336 260h4v4h-4zM1360 264h4v4h-4zM1352 276h4v4h-4z"/><path fill="#b3b3b3" d="M1348 204h4v4h-4zM1344 208h4v4h-4zM1352 208h4v4h-4zM1340 216h4v4h-4zM1356 216h4v4h-4zM1336 228h4v4h-4zM1336 232h4v4h-4zM1360 232h4v4h-4zM1336 236h4v4h-4zM1336 248h4v4h-4zM1336 252h4v4h-4zM1360 260h4v4h-4zM1340 268h4v4h-4zM1356 272h4v4h-4zM1348 276h4v4h-4z"/><path fill="#b8b8b8" d="M1348 208h4v4h-4zM1344 212h4v4h-4zM1340 220h4v4h-4zM1356 220h4v4h-4zM1360 236h4v4h-4zM1336 240h4v4h-4zM1360 240h4v4h-4zM1336 244h4v4h-4zM1360 244h4v4h-4zM1360 248h4v4h-4zM1360 252h4v4h-4zM1360 256h4v4h-4zM1340 264h4v4h-4zM1356 268h4v4h-4zM1344 272h4v4h-4z"/><path fill="#bebebe" d="M1348 212h8v4h-8zM1340 224h4v4h-4zM1356 224h4v4h-4zM1340 260h4v4h-4zM1344 268h4v4h-4zM1348 272h8v4h-8z"/><path fill="#c3c3c3" d="M1344 216h4v4h-4zM1352 216h4v4h-4zM1340 228h4v4h-4zM1356 228h4v4h-4zM1340 256h4v4h-4zM1356 264h4v4h-4z"/><path fill="#c9c9c9" d="M1348 216h4v4h-4zM1344 220h4v4h-4zM1352 220h4v4h-4zM1340 232h4v4h-4zM1356 232h4v4h-4zM1340 236h4v4h-4zM1340 240h4v4h-4zM1340 248h4v4h-4zM1340 252h4v4h-4zM1356 260h4v4h-4zM1344 264h4v4h-4zM1348 268h8v4h-8z"/><path fill="#cecece" d="M1348 220h4v4h-4zM1344 224h4v4h-4zM1352 224h4v4h-4zM1356 236h4v4h-4zM1356 240h4v4h-4zM1340 244h4v4h-4zM1356 244h4v4h-4zM1356 248h4v4h-4zM1356 252h4v4h-4zM1356 256h4v4h-4zM1344 260h4v4h-4zM1348 264h8v4h-8z"/><path fill="#d4d4d4" d="M1348 224h4v4h-4zM1344 228h4v4h-4zM1352 228h4v4h-4zM1344 256h4v4h-4zM1352 260h4v4h-4z"/><path fill="#d9d9d9" d="M1348 228h4v4h-4zM1344 232h4v4h-4zM1352 232h4v4h-4zM1344 236h4v4h-4zM1344 240h4v4h-4zM1344 248h4v4h-4zM1344 252h4v4h-4zM1352 256h4v4h-4zM1348 260h4v4h-4z"/><path fill="#dedede" d="M1348 232h4v4h-4zM1352 236h4v4h-4zM1352 240h4v4h-4zM1344 244h4v4h-4zM1352 244h4v4h-4zM1352 248h4v4h-4zM1352 252h4v4h-4zM1348 256h4v4h-4z"/><path fill="#e4e4e4" d="M1348 236h4v4h-4zM1348 240h4v4h-4zM1348 244h4v4h-4zM1348 248h4v4h-4zM1348 252h4v4h-4z"/></g></g><rect x="1250.2" y="106.2" width="222.0" height="200.1" fill="none" stroke="#262626" stroke-width="1.1"/><path d="M1268.0 306.3v-3.0M1268.0 106.2v3.0M1312.4 306.3v-3.0M1312.4 106.2v3.0M1356.8 306.3v-3.0M1356.8 106.2v3.0M1401.2 306.3v-3.0M1401.2 106.2v3.0M1445.6 306.3v-3.0M1445.6 106.2v3.0M1250.2 278.8h3.0M1472.2 278.8h-3.0M1250.2 251.3h3.0M1472.2 251.3h-3.0M1250.2 223.8h3.0M1472.2 223.8h-3.0M1250.2 196.4h3.0M1472.2 196.4h-3.0M1250.2 168.9h3.0M1472.2 168.9h-3.0M1250.2 141.4h3.0M1472.2 141.4h-3.0M1250.2 113.9h3.0M1472.2 113.9h-3.0" stroke="#262626" stroke-width="1.1" fill="none"/><rect x="1476.1" y="106.2" width="9.2" height="200.1" fill="url(#cbg)" stroke="#333" stroke-width="1"/><path d="M1485.3 134.8h-2.5M1485.3 163.4h-2.5M1485.3 192.0h-2.5M1485.3 220.5h-2.5M1485.3 249.1h-2.5M1485.3 277.7h-2.5" stroke="#262626" stroke-width="1" fill="none"/><text x="1237.7" y="316.6" text-anchor="end">0</text><text x="1237.7" y="261.6" text-anchor="end">100</text><text x="1237.7" y="206.7" text-anchor="end">200</text><text x="1237.7" y="151.7" text-anchor="end">300</text><text x="1361.2" y="89.4" text-anchor="middle">Posterior temporal</text><text x="1496.3" y="123.8" font-size="24">0.5</text><text x="1496.3" y="304.0" font-size="24">−0.2</text><g clip-path="url(#cl4)"><g filter="url(#fc)"><path fill="#000000" d="M969 616h24v4h-24zM969 620h24v4h-24zM969 624h24v4h-24zM969 628h24v4h-24z"/><path fill="#050505" d="M973 612h20v4h-20zM961 616h8v4h-8zM993 616h8v4h-8zM961 620h8v4h-8zM993 620h8v4h-8zM961 624h8v4h-8zM993 624h8v4h-8zM961 628h8v4h-8zM993 628h8v4h-8z"/><path fill="#0b0b0b" d="M961 612h12v4h-12zM993 612h8v4h-8zM953 616h8v4h-8zM1001 616h4v4h-4zM957 620h4v4h-4zM1001 620h4v4h-4zM957 624h4v4h-4zM1001 624h4v4h-4zM957 628h4v4h-4zM1001 628h4v4h-4z"/><path fill="#101010" d="M897 528h4v4h-4zM893 532h12v4h-12zM893 536h12v4h-12zM889 540h16v4h-16zM885 544h16v4h-16zM885 548h16v4h-16zM885 552h16v4h-16zM885 556h16v4h-16zM881 560h20v4h-20zM881 564h20v4h-20zM881 568h16v4h-16zM881 572h16v4h-16zM881 576h12v4h-12zM885 580h4v4h-4zM957 612h4v4h-4zM1001 612h4v4h-4zM949 616h4v4h-4zM1005 616h8v4h-8zM949 620h8v4h-8zM1005 620h4v4h-4zM949 624h8v4h-8zM1005 624h4v4h-4zM949 628h8v4h-8zM1005 628h4v4h-4z"/><path fill="#161616" d="M901 504h4v4h-4zM897 508h8v4h-8zM897 512h8v4h-8zM893 516h12v4h-12zM889 520h20v4h-20zM885 524h24v4h-24zM885 528h12v4h-12zM901 528h8v4h-8zM881 532h12v4h-12zM905 532h4v4h-4zM881 536h12v4h-12zM905 536h4v4h-4zM881 540h8v4h-8zM881 544h4v4h-4zM901 544h4v4h-4zM881 548h4v4h-4zM901 548h4v4h-4zM853 552h4v4h-4zM881 552h4v4h-4zM901 552h4v4h-4zM853 556h4v4h-4zM881 556h4v4h-4zM901 556h4v4h-4zM853 560h4v4h-4zM901 560h4v4h-4zM853 564h4v4h-4zM901 564h4v4h-4zM853 568h4v4h-4zM897 568h8v4h-8zM853 572h4v4h-4zM897 572h8v4h-8zM853 576h4v4h-4zM893 576h8v4h-8zM853 580h4v4h-4zM881 580h4v4h-4zM889 580h8v4h-8zM881 584h12v4h-12zM881 588h12v4h-12zM981 608h12v4h-12zM953 612h4v4h-4zM1005 612h8v4h-8zM1013 616h4v4h-4zM1009 620h8v4h-8zM1009 624h8v4h-8zM1009 628h8v4h-8z"/><path fill="#1b1b1b" d="M901 484h4v4h-4zM897 488h12v4h-12zM897 492h12v4h-12zM893 496h16v4h-16zM893 500h16v4h-16zM889 504h12v4h-12zM905 504h4v4h-4zM885 508h12v4h-12zM905 508h4v4h-4zM881 512h16v4h-16zM905 512h4v4h-4zM881 516h12v4h-12zM905 516h4v4h-4zM877 520h12v4h-12zM877 524h8v4h-8zM877 528h8v4h-8zM877 532h4v4h-4zM853 536h4v4h-4zM877 536h4v4h-4zM841 540h20v4h-20zM877 540h4v4h-4zM905 540h4v4h-4zM841 544h20v4h-20zM877 544h4v4h-4zM905 544h4v4h-4zM841 548h20v4h-20zM877 548h4v4h-4zM905 548h4v4h-4zM841 552h12v4h-12zM857 552h4v4h-4zM877 552h4v4h-4zM905 552h4v4h-4zM841 556h12v4h-12zM857 556h4v4h-4zM877 556h4v4h-4zM905 556h4v4h-4zM841 560h12v4h-12zM857 560h4v4h-4zM877 560h4v4h-4zM905 560h4v4h-4zM841 564h12v4h-12zM857 564h4v4h-4zM877 564h4v4h-4zM905 564h4v4h-4zM841 568h12v4h-12zM857 568h4v4h-4zM877 568h4v4h-4zM905 568h4v4h-4zM841 572h12v4h-12zM857 572h4v4h-4zM877 572h4v4h-4zM841 576h12v4h-12zM857 576h4v4h-4zM877 576h4v4h-4zM901 576h4v4h-4zM841 580h12v4h-12zM857 580h4v4h-4zM877 580h4v4h-4zM897 580h8v4h-8zM841 584h20v4h-20zM877 584h4v4h-4zM893 584h12v4h-12zM841 588h20v4h-20zM877 588h4v4h-4zM893 588h4v4h-4zM877 592h16v4h-16zM969 608h12v4h-12zM993 608h12v4h-12zM949 612h4v4h-4zM1013 612h4v4h-4zM945 616h4v4h-4zM1017 616h4v4h-4zM945 620h4v4h-4zM1017 620h4v4h-4zM945 624h4v4h-4zM1017 624h4v4h-4zM945 628h4v4h-4zM1017 628h4v4h-4z"/><path fill="#212121" d="M897 476h12v4h-12zM893 480h16v4h-16zM889 484h12v4h-12zM905 484h4v4h-4zM885 488h12v4h-12zM909 488h4v4h-4zM877 492h20v4h-20zM909 492h4v4h-4zM869 496h24v4h-24zM909 496h4v4h-4zM841 500h52v4h-52zM909 500h4v4h-4zM841 504h48v4h-48zM909 504h4v4h-4zM841 508h44v4h-44zM909 508h4v4h-4zM841 512h40v4h-40zM909 512h4v4h-4zM841 516h40v4h-40zM909 516h4v4h-4zM841 520h36v4h-36zM909 520h4v4h-4zM841 524h36v4h-36zM909 524h4v4h-4zM841 528h36v4h-36zM909 528h4v4h-4zM841 532h36v4h-36zM909 532h4v4h-4zM841 536h12v4h-12zM857 536h20v4h-20zM909 536h4v4h-4zM861 540h16v4h-16zM909 540h4v4h-4zM861 544h16v4h-16zM861 548h16v4h-16zM861 552h16v4h-16zM861 556h16v4h-16zM861 560h16v4h-16zM861 564h16v4h-16zM861 568h16v4h-16zM861 572h16v4h-16zM905 572h4v4h-4zM861 576h16v4h-16zM905 576h4v4h-4zM861 580h16v4h-16zM905 580h4v4h-4zM861 584h16v4h-16zM905 584h4v4h-4zM861 588h16v4h-16zM897 588h12v4h-12zM841 592h24v4h-24zM873 592h4v4h-4zM893 592h12v4h-12zM881 596h8v4h-8zM961 608h8v4h-8zM1005 608h8v4h-8zM945 612h4v4h-4zM1017 612h4v4h-4zM941 616h4v4h-4zM1021 616h4v4h-4zM941 620h4v4h-4zM1021 620h4v4h-4zM941 624h4v4h-4zM1021 624h4v4h-4zM941 628h4v4h-4zM1021 628h4v4h-4z"/><path fill="#262626" d="M893 460h8v4h-8zM885 464h24v4h-24zM881 468h28v4h-28zM841 472h72v4h-72zM841 476h56v4h-56zM909 476h4v4h-4zM841 480h52v4h-52zM909 480h4v4h-4zM841 484h48v4h-48zM909 484h4v4h-4zM841 488h44v4h-44zM841 492h36v4h-36zM841 496h28v4h-28zM909 544h4v4h-4zM909 548h4v4h-4zM909 552h4v4h-4zM909 556h4v4h-4zM909 560h4v4h-4zM909 564h4v4h-4zM909 568h4v4h-4zM909 572h4v4h-4zM909 576h4v4h-4zM909 580h4v4h-4zM865 592h8v4h-8zM905 592h4v4h-4zM841 596h24v4h-24zM873 596h8v4h-8zM889 596h8v4h-8zM901 596h4v4h-4zM953 608h8v4h-8zM1013 608h8v4h-8zM941 612h4v4h-4zM1021 612h8v4h-8zM1025 616h4v4h-4zM1025 620h4v4h-4zM1025 624h4v4h-4zM1025 628h4v4h-4z"/><path fill="#2b2b2b" d="M841 412h68v4h-68zM841 416h68v4h-68zM841 420h68v4h-68zM841 424h68v4h-68zM841 428h68v4h-68zM841 432h68v4h-68zM841 436h68v4h-68zM841 440h68v4h-68zM841 444h68v4h-68zM841 448h68v4h-68zM841 452h68v4h-68zM841 456h72v4h-72zM841 460h52v4h-52zM901 460h12v4h-12zM841 464h44v4h-44zM909 464h4v4h-4zM841 468h40v4h-40zM909 468h4v4h-4zM909 584h4v4h-4zM909 588h4v4h-4zM909 592h4v4h-4zM865 596h8v4h-8zM897 596h4v4h-4zM905 596h4v4h-4zM945 608h8v4h-8zM1021 608h4v4h-4zM1029 612h4v4h-4zM1029 616h8v4h-8zM1029 620h4v4h-4zM1029 624h4v4h-4zM1029 628h4v4h-4z"/><path fill="#313131" d="M909 412h4v4h-4zM909 416h4v4h-4zM909 420h4v4h-4zM909 424h4v4h-4zM909 428h4v4h-4zM909 432h4v4h-4zM909 436h4v4h-4zM909 440h4v4h-4zM909 444h4v4h-4zM909 448h4v4h-4zM909 452h4v4h-4zM913 472h4v4h-4zM913 476h4v4h-4zM913 480h4v4h-4zM913 484h4v4h-4zM913 488h4v4h-4zM913 492h4v4h-4zM913 496h4v4h-4zM913 500h4v4h-4zM913 504h4v4h-4zM913 508h4v4h-4zM913 512h4v4h-4zM913 516h4v4h-4zM913 520h4v4h-4zM913 524h4v4h-4zM913 528h4v4h-4zM913 532h4v4h-4zM913 536h4v4h-4zM909 596h4v4h-4zM841 600h24v4h-24zM873 600h24v4h-24zM989 604h24v4h-24zM941 608h4v4h-4zM1025 608h8v4h-8zM937 612h4v4h-4zM1033 612h4v4h-4zM937 616h4v4h-4zM1037 616h4v4h-4zM937 620h4v4h-4zM1033 620h8v4h-8zM937 624h4v4h-4zM1033 624h8v4h-8zM937 628h4v4h-4zM1033 628h8v4h-8z"/><path fill="#363636" d="M913 412h4v4h-4zM913 416h4v4h-4zM913 420h4v4h-4zM913 424h4v4h-4zM913 428h4v4h-4zM913 432h4v4h-4zM913 436h4v4h-4zM913 440h4v4h-4zM913 444h4v4h-4zM913 448h4v4h-4zM913 452h4v4h-4zM913 456h4v4h-4zM913 460h4v4h-4zM913 464h4v4h-4zM913 468h4v4h-4zM913 540h4v4h-4zM913 544h4v4h-4zM913 548h4v4h-4zM913 552h4v4h-4zM913 556h4v4h-4zM913 560h4v4h-4zM913 564h4v4h-4zM913 568h4v4h-4zM913 572h4v4h-4zM913 576h4v4h-4zM913 580h4v4h-4zM913 584h4v4h-4zM913 588h4v4h-4zM913 592h4v4h-4zM865 600h8v4h-8zM897 600h16v4h-16zM981 604h8v4h-8zM1013 604h12v4h-12zM1033 608h8v4h-8zM1037 612h8v4h-8zM1041 616h4v4h-4zM1041 620h4v4h-4zM1041 624h4v4h-4zM1041 628h4v4h-4z"/><path fill="#3c3c3c" d="M913 596h4v4h-4zM881 604h8v4h-8zM977 604h4v4h-4zM1025 604h12v4h-12zM937 608h4v4h-4zM1041 608h8v4h-8zM1045 612h8v4h-8zM1045 616h8v4h-8zM1045 620h8v4h-8zM1045 624h8v4h-8zM1045 628h8v4h-8z"/><path fill="#414141" d="M917 412h4v4h-4zM917 416h4v4h-4zM917 420h4v4h-4zM913 600h4v4h-4zM1009 600h16v4h-16zM841 604h20v4h-20zM869 604h12v4h-12zM889 604h24v4h-24zM969 604h8v4h-8zM1037 604h12v4h-12zM1049 608h8v4h-8zM1053 612h8v4h-8zM1053 616h12v4h-12zM1053 620h12v4h-12zM1053 624h12v4h-12zM1053 628h12v4h-12z"/><path fill="#474747" d="M917 424h4v4h-4zM917 428h4v4h-4zM917 432h4v4h-4zM917 436h4v4h-4zM917 440h4v4h-4zM917 444h4v4h-4zM917 448h4v4h-4zM1029 448h4v4h-4zM917 452h4v4h-4zM1025 452h8v4h-8zM917 456h4v4h-4zM1025 456h12v4h-12zM917 460h4v4h-4zM1025 460h12v4h-12zM917 464h4v4h-4zM1025 464h12v4h-12zM917 468h4v4h-4zM1021 468h16v4h-16zM917 472h4v4h-4zM1021 472h16v4h-16zM917 476h4v4h-4zM1021 476h16v4h-16zM917 480h4v4h-4zM1021 480h16v4h-16zM917 484h4v4h-4zM1021 484h16v4h-16zM917 488h4v4h-4zM1021 488h16v4h-16zM917 492h4v4h-4zM1025 492h12v4h-12zM917 496h4v4h-4zM1025 496h12v4h-12zM917 500h4v4h-4zM1025 500h8v4h-8zM917 504h4v4h-4zM1029 504h4v4h-4zM917 508h4v4h-4zM917 512h4v4h-4zM917 516h4v4h-4zM917 520h4v4h-4zM997 600h12v4h-12zM1025 600h28v4h-28zM861 604h8v4h-8zM913 604h4v4h-4zM961 604h8v4h-8zM1049 604h20v4h-20zM881 608h28v4h-28zM933 608h4v4h-4zM1057 608h28v4h-28zM933 612h4v4h-4zM1061 612h24v4h-24zM933 616h4v4h-4zM1065 616h20v4h-20zM1065 620h20v4h-20zM1065 624h20v4h-20zM1065 628h20v4h-20z"/><path fill="#4c4c4c" d="M1013 412h52v4h-52zM1069 412h16v4h-16zM1013 416h52v4h-52zM1069 416h16v4h-16zM1013 420h52v4h-52zM1069 420h16v4h-16zM1013 424h52v4h-52zM1069 424h16v4h-16zM1013 428h72v4h-72zM1013 432h72v4h-72zM1013 436h72v4h-72zM1013 440h72v4h-72zM1013 444h72v4h-72zM1013 448h16v4h-16zM1033 448h52v4h-52zM1013 452h12v4h-12zM1033 452h52v4h-52zM1013 456h12v4h-12zM1037 456h48v4h-48zM1013 460h12v4h-12zM1037 460h48v4h-48zM1013 464h12v4h-12zM1037 464h48v4h-48zM1013 468h8v4h-8zM1037 468h48v4h-48zM1013 472h8v4h-8zM1037 472h48v4h-48zM1013 476h8v4h-8zM1037 476h48v4h-48zM1013 480h8v4h-8zM1037 480h48v4h-48zM1013 484h8v4h-8zM1037 484h48v4h-48zM1013 488h8v4h-8zM1037 488h48v4h-48zM1013 492h12v4h-12zM1037 492h48v4h-48zM1013 496h12v4h-12zM1037 496h48v4h-48zM1017 500h8v4h-8zM1033 500h52v4h-52zM1017 504h12v4h-12zM1033 504h52v4h-52zM1017 508h68v4h-68zM1021 512h64v4h-64zM1021 516h64v4h-64zM1025 520h60v4h-60zM917 524h4v4h-4zM1025 524h60v4h-60zM917 528h4v4h-4zM1025 528h60v4h-60zM917 532h4v4h-4zM1025 532h60v4h-60zM917 536h4v4h-4zM1025 536h60v4h-60zM917 540h4v4h-4zM1025 540h60v4h-60zM917 544h4v4h-4zM1025 544h60v4h-60zM917 548h4v4h-4zM1017 548h68v4h-68zM1017 552h68v4h-68zM1017 556h68v4h-68zM1017 560h68v4h-68zM1013 564h72v4h-72zM1013 568h72v4h-72zM917 572h4v4h-4zM1013 572h72v4h-72zM917 576h4v4h-4zM1013 576h72v4h-72zM917 580h4v4h-4zM1013 580h72v4h-72zM917 584h4v4h-4zM1013 584h72v4h-72zM917 588h4v4h-4zM1013 588h72v4h-72zM917 592h4v4h-4zM1013 592h72v4h-72zM917 596h4v4h-4zM1009 596h76v4h-76zM917 600h4v4h-4zM993 600h4v4h-4zM1053 600h32v4h-32zM917 604h4v4h-4zM941 604h20v4h-20zM1069 604h16v4h-16zM841 608h16v4h-16zM873 608h8v4h-8zM909 608h8v4h-8zM877 612h32v4h-32zM881 616h28v4h-28zM841 620h12v4h-12zM877 620h28v4h-28zM933 620h4v4h-4zM841 624h12v4h-12zM877 624h28v4h-28zM933 624h4v4h-4zM841 628h12v4h-12zM877 628h28v4h-28zM933 628h4v4h-4z"/><path fill="#515151" d="M921 412h4v4h-4zM1005 412h8v4h-8zM1065 412h4v4h-4zM921 416h4v4h-4zM1005 416h8v4h-8zM1065 416h4v4h-4zM921 420h4v4h-4zM1005 420h8v4h-8zM1065 420h4v4h-4zM921 424h4v4h-4zM1005 424h8v4h-8zM1065 424h4v4h-4zM921 428h4v4h-4zM1005 428h8v4h-8zM921 432h4v4h-4zM1005 432h8v4h-8zM921 436h4v4h-4zM1005 436h8v4h-8zM921 440h4v4h-4zM1005 440h8v4h-8zM921 444h4v4h-4zM1005 444h8v4h-8zM921 448h4v4h-4zM1005 448h8v4h-8zM921 452h4v4h-4zM1005 452h8v4h-8zM921 456h4v4h-4zM1005 456h8v4h-8zM1005 460h8v4h-8zM1005 464h8v4h-8zM1001 468h12v4h-12zM1001 472h12v4h-12zM1001 476h12v4h-12zM1001 480h12v4h-12zM1001 484h12v4h-12zM1001 488h12v4h-12zM1005 492h8v4h-8zM1005 496h8v4h-8zM1005 500h12v4h-12zM1005 504h12v4h-12zM1005 508h12v4h-12zM1009 512h12v4h-12zM1009 516h12v4h-12zM1009 520h16v4h-16zM1009 524h16v4h-16zM1009 528h16v4h-16zM1009 532h16v4h-16zM1009 536h16v4h-16zM1009 540h16v4h-16zM1009 544h16v4h-16zM1009 548h8v4h-8zM917 552h4v4h-4zM1009 552h8v4h-8zM917 556h4v4h-4zM1009 556h8v4h-8zM917 560h4v4h-4zM1009 560h8v4h-8zM917 564h4v4h-4zM1009 564h4v4h-4zM917 568h4v4h-4zM1009 568h4v4h-4zM1009 572h4v4h-4zM1009 576h4v4h-4zM1009 580h4v4h-4zM1009 584h4v4h-4zM1009 588h4v4h-4zM1005 592h8v4h-8zM1001 596h8v4h-8zM989 600h4v4h-4zM921 604h4v4h-4zM937 604h4v4h-4zM857 608h4v4h-4zM869 608h4v4h-4zM917 608h16v4h-16zM841 612h12v4h-12zM873 612h4v4h-4zM909 612h4v4h-4zM841 616h16v4h-16zM873 616h8v4h-8zM909 616h4v4h-4zM853 620h4v4h-4zM873 620h4v4h-4zM905 620h4v4h-4zM853 624h4v4h-4zM873 624h4v4h-4zM905 624h4v4h-4zM853 628h4v4h-4zM873 628h4v4h-4zM905 628h4v4h-4z"/><path fill="#575757" d="M925 412h4v4h-4zM989 412h16v4h-16zM925 416h4v4h-4zM989 416h16v4h-16zM925 420h4v4h-4zM989 420h16v4h-16zM989 424h16v4h-16zM989 428h16v4h-16zM993 432h12v4h-12zM993 436h12v4h-12zM993 440h12v4h-12zM993 444h12v4h-12zM993 448h12v4h-12zM993 452h12v4h-12zM993 456h12v4h-12zM921 460h4v4h-4zM993 460h12v4h-12zM921 464h4v4h-4zM993 464h12v4h-12zM921 468h4v4h-4zM993 468h8v4h-8zM921 472h4v4h-4zM993 472h8v4h-8zM921 476h4v4h-4zM993 476h8v4h-8zM921 480h4v4h-4zM993 480h8v4h-8zM921 484h4v4h-4zM993 484h8v4h-8zM921 488h4v4h-4zM993 488h8v4h-8zM997 492h8v4h-8zM997 496h8v4h-8zM997 500h8v4h-8zM997 504h8v4h-8zM1001 508h4v4h-4zM1001 512h8v4h-8zM1001 516h8v4h-8zM1001 520h8v4h-8zM1001 524h8v4h-8zM1005 528h4v4h-4zM1005 532h4v4h-4zM1005 536h4v4h-4zM1005 540h4v4h-4zM1005 544h4v4h-4zM1005 548h4v4h-4zM1005 552h4v4h-4zM1005 556h4v4h-4zM1005 560h4v4h-4zM1005 564h4v4h-4zM1005 568h4v4h-4zM1005 572h4v4h-4zM1005 576h4v4h-4zM1005 580h4v4h-4zM1005 584h4v4h-4zM1001 588h8v4h-8zM1001 592h4v4h-4zM997 596h4v4h-4zM921 600h4v4h-4zM985 600h4v4h-4zM925 604h12v4h-12zM861 608h8v4h-8zM853 612h4v4h-4zM913 612h4v4h-4zM929 612h4v4h-4zM857 620h16v4h-16zM909 620h4v4h-4zM857 624h16v4h-16zM909 624h4v4h-4zM857 628h16v4h-16zM909 628h4v4h-4z"/><path fill="#5c5c5c" d="M929 412h4v4h-4zM981 412h8v4h-8zM929 416h4v4h-4zM981 416h8v4h-8zM929 420h4v4h-4zM981 420h8v4h-8zM925 424h8v4h-8zM981 424h8v4h-8zM925 428h4v4h-4zM981 428h8v4h-8zM925 432h4v4h-4zM985 432h8v4h-8zM925 436h4v4h-4zM985 436h8v4h-8zM925 440h4v4h-4zM985 440h8v4h-8zM925 444h4v4h-4zM985 444h8v4h-8zM925 448h4v4h-4zM985 448h8v4h-8zM925 452h4v4h-4zM985 452h8v4h-8zM925 456h4v4h-4zM989 456h4v4h-4zM925 460h4v4h-4zM989 460h4v4h-4zM989 464h4v4h-4zM989 468h4v4h-4zM989 472h4v4h-4zM989 476h4v4h-4zM989 480h4v4h-4zM989 484h4v4h-4zM989 488h4v4h-4zM921 492h4v4h-4zM993 492h4v4h-4zM921 496h4v4h-4zM993 496h4v4h-4zM921 500h4v4h-4zM993 500h4v4h-4zM921 504h4v4h-4zM993 504h4v4h-4zM921 508h4v4h-4zM997 508h4v4h-4zM997 512h4v4h-4zM997 516h4v4h-4zM997 520h4v4h-4zM997 524h4v4h-4zM1001 528h4v4h-4zM1001 532h4v4h-4zM1001 536h4v4h-4zM1001 540h4v4h-4zM1001 544h4v4h-4zM1001 548h4v4h-4zM1001 552h4v4h-4zM1001 556h4v4h-4zM1001 560h4v4h-4zM1001 564h4v4h-4zM1001 568h4v4h-4zM1001 572h4v4h-4zM1001 576h4v4h-4zM1001 580h4v4h-4zM1001 584h4v4h-4zM997 592h4v4h-4zM921 596h4v4h-4zM993 596h4v4h-4zM981 600h4v4h-4zM857 612h4v4h-4zM869 612h4v4h-4zM917 612h4v4h-4zM925 612h4v4h-4zM857 616h4v4h-4zM869 616h4v4h-4zM913 616h4v4h-4z"/><path fill="#626262" d="M933 412h8v4h-8zM977 412h4v4h-4zM933 416h8v4h-8zM977 416h4v4h-4zM933 420h8v4h-8zM977 420h4v4h-4zM933 424h8v4h-8zM977 424h4v4h-4zM929 428h12v4h-12zM977 428h4v4h-4zM929 432h8v4h-8zM977 432h8v4h-8zM929 436h8v4h-8zM981 436h4v4h-4zM929 440h4v4h-4zM981 440h4v4h-4zM929 444h4v4h-4zM981 444h4v4h-4zM929 448h4v4h-4zM981 448h4v4h-4zM929 452h4v4h-4zM981 452h4v4h-4zM981 456h8v4h-8zM985 460h4v4h-4zM925 464h4v4h-4zM985 464h4v4h-4zM925 468h4v4h-4zM985 468h4v4h-4zM925 472h4v4h-4zM985 472h4v4h-4zM925 476h4v4h-4zM985 476h4v4h-4zM925 480h4v4h-4zM985 480h4v4h-4zM985 484h4v4h-4zM989 492h4v4h-4zM989 496h4v4h-4zM989 500h4v4h-4zM993 508h4v4h-4zM921 512h4v4h-4zM993 512h4v4h-4zM921 516h4v4h-4zM993 516h4v4h-4zM921 520h4v4h-4zM921 524h4v4h-4zM997 528h4v4h-4zM997 532h4v4h-4zM997 536h4v4h-4zM997 540h4v4h-4zM997 544h4v4h-4zM997 548h4v4h-4zM997 552h4v4h-4zM997 556h4v4h-4zM997 560h4v4h-4zM997 564h4v4h-4zM997 568h4v4h-4zM997 572h4v4h-4zM997 576h4v4h-4zM997 580h4v4h-4zM921 584h4v4h-4zM997 584h4v4h-4zM921 588h4v4h-4zM997 588h4v4h-4zM921 592h4v4h-4zM993 592h4v4h-4zM989 596h4v4h-4zM925 600h4v4h-4zM861 612h8v4h-8zM921 612h4v4h-4zM861 616h8v4h-8zM929 616h4v4h-4zM913 620h4v4h-4zM913 624h4v4h-4zM913 628h4v4h-4z"/><path fill="#676767" d="M941 412h8v4h-8zM969 412h8v4h-8zM941 416h8v4h-8zM969 416h8v4h-8zM941 420h8v4h-8zM969 420h8v4h-8zM941 424h8v4h-8zM969 424h8v4h-8zM941 428h4v4h-4zM973 428h4v4h-4zM937 432h8v4h-8zM973 432h4v4h-4zM937 436h8v4h-8zM977 436h4v4h-4zM933 440h8v4h-8zM977 440h4v4h-4zM933 444h8v4h-8zM977 444h4v4h-4zM933 448h4v4h-4zM977 448h4v4h-4zM933 452h4v4h-4zM977 452h4v4h-4zM929 456h8v4h-8zM929 460h4v4h-4zM981 460h4v4h-4zM929 464h4v4h-4zM981 464h4v4h-4zM929 468h4v4h-4zM981 468h4v4h-4zM929 472h4v4h-4zM981 472h4v4h-4zM929 476h4v4h-4zM981 476h4v4h-4zM925 484h4v4h-4zM925 488h4v4h-4zM985 488h4v4h-4zM925 492h4v4h-4zM985 492h4v4h-4zM925 496h4v4h-4zM989 504h4v4h-4zM989 508h4v4h-4zM993 520h4v4h-4zM993 524h4v4h-4zM921 528h4v4h-4zM993 528h4v4h-4zM921 532h4v4h-4zM993 532h4v4h-4zM921 536h4v4h-4zM921 540h4v4h-4zM921 544h4v4h-4zM921 548h4v4h-4zM921 552h4v4h-4zM921 556h4v4h-4zM921 560h4v4h-4zM921 564h4v4h-4zM921 568h4v4h-4zM921 572h4v4h-4zM921 576h4v4h-4zM921 580h4v4h-4zM993 584h4v4h-4zM993 588h4v4h-4zM929 600h4v4h-4zM977 600h4v4h-4zM929 620h4v4h-4zM929 624h4v4h-4zM929 628h4v4h-4z"/><path fill="#6d6d6d" d="M949 412h20v4h-20zM949 416h20v4h-20zM949 420h20v4h-20zM949 424h20v4h-20zM945 428h28v4h-28zM945 432h8v4h-8zM969 432h4v4h-4zM945 436h4v4h-4zM969 436h8v4h-8zM941 440h8v4h-8zM973 440h4v4h-4zM941 444h4v4h-4zM973 444h4v4h-4zM937 448h8v4h-8zM973 448h4v4h-4zM937 452h4v4h-4zM937 456h4v4h-4zM977 456h4v4h-4zM933 460h8v4h-8zM977 460h4v4h-4zM933 464h4v4h-4zM977 464h4v4h-4zM933 468h4v4h-4zM977 468h4v4h-4zM933 472h4v4h-4zM929 480h4v4h-4zM981 480h4v4h-4zM929 484h4v4h-4zM981 484h4v4h-4zM929 488h4v4h-4zM985 496h4v4h-4zM925 500h4v4h-4zM985 500h4v4h-4zM925 504h4v4h-4zM925 508h4v4h-4zM989 512h4v4h-4zM989 516h4v4h-4zM989 520h4v4h-4zM993 536h4v4h-4zM993 540h4v4h-4zM993 544h4v4h-4zM993 548h4v4h-4zM993 552h4v4h-4zM993 556h4v4h-4zM993 560h4v4h-4zM993 564h4v4h-4zM993 568h4v4h-4zM993 572h4v4h-4zM993 576h4v4h-4zM993 580h4v4h-4zM989 592h4v4h-4zM925 596h4v4h-4zM985 596h4v4h-4zM933 600h8v4h-8zM973 600h4v4h-4zM917 616h4v4h-4z"/><path fill="#727272" d="M953 432h16v4h-16zM949 436h20v4h-20zM949 440h12v4h-12zM965 440h8v4h-8zM945 444h12v4h-12zM969 444h4v4h-4zM945 448h8v4h-8zM969 448h4v4h-4zM941 452h8v4h-8zM973 452h4v4h-4zM941 456h8v4h-8zM973 456h4v4h-4zM941 460h4v4h-4zM973 460h4v4h-4zM937 464h8v4h-8zM937 468h4v4h-4zM937 472h4v4h-4zM977 472h4v4h-4zM933 476h4v4h-4zM977 476h4v4h-4zM933 480h4v4h-4zM933 484h4v4h-4zM933 488h4v4h-4zM981 488h4v4h-4zM929 492h4v4h-4zM981 492h4v4h-4zM929 496h4v4h-4zM929 500h4v4h-4zM985 504h4v4h-4zM985 508h4v4h-4zM925 512h4v4h-4zM925 516h4v4h-4zM925 520h4v4h-4zM989 524h4v4h-4zM989 528h4v4h-4zM989 584h4v4h-4zM925 588h4v4h-4zM989 588h4v4h-4zM925 592h4v4h-4zM941 600h4v4h-4zM969 600h4v4h-4zM925 616h4v4h-4zM917 620h4v4h-4zM917 624h4v4h-4zM917 628h4v4h-4z"/><path fill="#777777" d="M961 440h4v4h-4zM957 444h12v4h-12zM953 448h16v4h-16zM949 452h12v4h-12zM969 452h4v4h-4zM949 456h8v4h-8zM969 456h4v4h-4zM945 460h8v4h-8zM969 460h4v4h-4zM945 464h4v4h-4zM973 464h4v4h-4zM941 468h4v4h-4zM973 468h4v4h-4zM941 472h4v4h-4zM937 476h4v4h-4zM937 480h4v4h-4zM977 480h4v4h-4zM937 484h4v4h-4zM977 484h4v4h-4zM933 492h4v4h-4zM933 496h4v4h-4zM981 496h4v4h-4zM981 500h4v4h-4zM929 504h4v4h-4zM929 508h4v4h-4zM929 512h4v4h-4zM985 512h4v4h-4zM985 516h4v4h-4zM925 524h4v4h-4zM925 528h4v4h-4zM925 532h4v4h-4zM989 532h4v4h-4zM989 536h4v4h-4zM989 540h4v4h-4zM989 544h4v4h-4zM989 548h4v4h-4zM989 568h4v4h-4zM989 572h4v4h-4zM989 576h4v4h-4zM925 580h4v4h-4zM989 580h4v4h-4zM925 584h4v4h-4zM985 592h4v4h-4zM929 596h4v4h-4zM981 596h4v4h-4zM945 600h8v4h-8zM965 600h4v4h-4zM921 616h4v4h-4zM925 620h4v4h-4zM925 624h4v4h-4zM925 628h4v4h-4z"/><path fill="#7d7d7d" d="M961 452h8v4h-8zM957 456h12v4h-12zM953 460h8v4h-8zM965 460h4v4h-4zM949 464h12v4h-12zM969 464h4v4h-4zM945 468h12v4h-12zM969 468h4v4h-4zM945 472h8v4h-8zM973 472h4v4h-4zM941 476h8v4h-8zM973 476h4v4h-4zM941 480h4v4h-4zM941 484h4v4h-4zM937 488h4v4h-4zM977 488h4v4h-4zM937 492h4v4h-4zM977 492h4v4h-4zM933 500h4v4h-4zM933 504h4v4h-4zM981 504h4v4h-4zM933 508h4v4h-4zM929 516h4v4h-4zM929 520h4v4h-4zM985 520h4v4h-4zM985 524h4v4h-4zM925 536h4v4h-4zM925 540h4v4h-4zM925 544h4v4h-4zM925 548h4v4h-4zM925 552h4v4h-4zM989 552h4v4h-4zM925 556h4v4h-4zM989 556h4v4h-4zM925 560h4v4h-4zM989 560h4v4h-4zM925 564h4v4h-4zM989 564h4v4h-4zM925 568h4v4h-4zM925 572h4v4h-4zM925 576h4v4h-4zM985 588h4v4h-4zM929 592h4v4h-4zM933 596h4v4h-4zM953 600h12v4h-12zM921 620h4v4h-4zM921 624h4v4h-4zM921 628h4v4h-4z"/><path fill="#828282" d="M961 460h4v4h-4zM961 464h8v4h-8zM957 468h12v4h-12zM953 472h8v4h-8zM969 472h4v4h-4zM949 476h8v4h-8zM969 476h4v4h-4zM945 480h8v4h-8zM973 480h4v4h-4zM945 484h4v4h-4zM973 484h4v4h-4zM941 488h4v4h-4zM937 496h4v4h-4zM977 496h4v4h-4zM937 500h4v4h-4zM981 508h4v4h-4zM933 512h4v4h-4zM981 512h4v4h-4zM933 516h4v4h-4zM929 524h4v4h-4zM929 528h4v4h-4zM985 528h4v4h-4zM929 532h4v4h-4zM985 532h4v4h-4zM985 580h4v4h-4zM985 584h4v4h-4zM929 588h4v4h-4zM977 596h4v4h-4z"/><path fill="#888888" d="M961 472h8v4h-8zM957 476h12v4h-12zM953 480h8v4h-8zM969 480h4v4h-4zM949 484h4v4h-4zM969 484h4v4h-4zM945 488h4v4h-4zM973 488h4v4h-4zM941 492h4v4h-4zM973 492h4v4h-4zM941 496h4v4h-4zM977 500h4v4h-4zM937 504h4v4h-4zM977 504h4v4h-4zM937 508h4v4h-4zM981 516h4v4h-4zM933 520h4v4h-4zM929 536h4v4h-4zM985 536h4v4h-4zM929 540h4v4h-4zM985 540h4v4h-4zM985 544h4v4h-4zM985 548h4v4h-4zM985 564h4v4h-4zM985 568h4v4h-4zM985 572h4v4h-4zM929 576h4v4h-4zM985 576h4v4h-4zM929 580h4v4h-4zM929 584h4v4h-4zM933 592h4v4h-4zM981 592h4v4h-4zM937 596h4v4h-4z"/><path fill="#8d8d8d" d="M961 480h8v4h-8zM953 484h16v4h-16zM949 488h8v4h-8zM969 488h4v4h-4zM945 492h8v4h-8zM945 496h4v4h-4zM973 496h4v4h-4zM941 500h4v4h-4zM941 504h4v4h-4zM977 508h4v4h-4zM937 512h4v4h-4zM981 520h4v4h-4zM933 524h4v4h-4zM981 524h4v4h-4zM933 528h4v4h-4zM929 544h4v4h-4zM929 548h4v4h-4zM929 552h4v4h-4zM985 552h4v4h-4zM929 556h4v4h-4zM985 556h4v4h-4zM929 560h4v4h-4zM985 560h4v4h-4zM929 564h4v4h-4zM929 568h4v4h-4zM929 572h4v4h-4zM933 588h4v4h-4zM981 588h4v4h-4z"/><path fill="#929292" d="M957 488h12v4h-12zM953 492h8v4h-8zM965 492h8v4h-8zM949 496h4v4h-4zM969 496h4v4h-4zM945 500h4v4h-4zM973 500h4v4h-4zM941 508h4v4h-4zM977 512h4v4h-4zM937 516h4v4h-4zM937 520h4v4h-4zM981 528h4v4h-4zM933 532h4v4h-4zM981 532h4v4h-4zM933 536h4v4h-4zM981 580h4v4h-4zM933 584h4v4h-4zM981 584h4v4h-4zM977 592h4v4h-4zM941 596h4v4h-4zM973 596h4v4h-4z"/><path fill="#989898" d="M961 492h4v4h-4zM953 496h16v4h-16zM949 500h4v4h-4zM969 500h4v4h-4zM945 504h4v4h-4zM973 504h4v4h-4zM941 512h4v4h-4zM977 516h4v4h-4zM937 524h4v4h-4zM981 536h4v4h-4zM933 540h4v4h-4zM981 540h4v4h-4zM933 544h4v4h-4zM933 548h4v4h-4zM981 572h4v4h-4zM933 576h4v4h-4zM981 576h4v4h-4zM933 580h4v4h-4zM937 592h4v4h-4zM945 596h4v4h-4zM969 596h4v4h-4z"/><path fill="#9d9d9d" d="M953 500h16v4h-16zM949 504h4v4h-4zM969 504h4v4h-4zM945 508h4v4h-4zM973 508h4v4h-4zM973 512h4v4h-4zM941 516h4v4h-4zM977 520h4v4h-4zM977 524h4v4h-4zM937 528h4v4h-4zM937 532h4v4h-4zM981 544h4v4h-4zM981 548h4v4h-4zM933 552h4v4h-4zM981 552h4v4h-4zM933 556h4v4h-4zM981 556h4v4h-4zM933 560h4v4h-4zM981 560h4v4h-4zM933 564h4v4h-4zM981 564h4v4h-4zM933 568h4v4h-4zM981 568h4v4h-4zM933 572h4v4h-4zM937 588h4v4h-4zM977 588h4v4h-4zM949 596h4v4h-4zM965 596h4v4h-4z"/><path fill="#a3a3a3" d="M953 504h16v4h-16zM949 508h4v4h-4zM969 508h4v4h-4zM945 512h4v4h-4zM945 516h4v4h-4zM973 516h4v4h-4zM941 520h4v4h-4zM941 524h4v4h-4zM977 528h4v4h-4zM937 536h4v4h-4zM937 584h4v4h-4zM977 584h4v4h-4zM941 592h4v4h-4zM973 592h4v4h-4zM953 596h4v4h-4zM961 596h4v4h-4z"/><path fill="#a8a8a8" d="M953 508h16v4h-16zM949 512h4v4h-4zM969 512h4v4h-4zM945 520h4v4h-4zM973 520h4v4h-4zM941 528h4v4h-4zM977 532h4v4h-4zM977 536h4v4h-4zM937 540h4v4h-4zM937 544h4v4h-4zM937 548h4v4h-4zM937 576h4v4h-4zM977 576h4v4h-4zM937 580h4v4h-4zM977 580h4v4h-4zM941 588h4v4h-4zM957 596h4v4h-4z"/><path fill="#aeaeae" d="M953 512h16v4h-16zM949 516h4v4h-4zM969 516h4v4h-4zM945 524h4v4h-4zM973 524h4v4h-4zM941 532h4v4h-4zM977 540h4v4h-4zM977 544h4v4h-4zM977 548h4v4h-4zM937 552h4v4h-4zM937 556h4v4h-4zM937 560h4v4h-4zM937 564h4v4h-4zM977 564h4v4h-4zM937 568h4v4h-4zM977 568h4v4h-4zM937 572h4v4h-4zM977 572h4v4h-4zM941 584h4v4h-4zM973 588h4v4h-4zM945 592h4v4h-4zM969 592h4v4h-4z"/><path fill="#b3b3b3" d="M953 516h16v4h-16zM949 520h4v4h-4zM969 520h4v4h-4zM945 528h4v4h-4zM973 528h4v4h-4zM941 536h4v4h-4zM941 540h4v4h-4zM977 552h4v4h-4zM977 556h4v4h-4zM977 560h4v4h-4zM941 580h4v4h-4zM973 584h4v4h-4zM949 592h4v4h-4zM965 592h4v4h-4z"/><path fill="#b8b8b8" d="M953 520h16v4h-16zM949 524h4v4h-4zM969 524h4v4h-4zM969 528h4v4h-4zM945 532h4v4h-4zM973 532h4v4h-4zM973 536h4v4h-4zM941 544h4v4h-4zM941 548h4v4h-4zM941 576h4v4h-4zM973 580h4v4h-4zM945 588h4v4h-4zM969 588h4v4h-4zM953 592h4v4h-4z"/><path fill="#bebebe" d="M953 524h16v4h-16zM949 528h4v4h-4zM969 532h4v4h-4zM945 536h4v4h-4zM973 540h4v4h-4zM973 544h4v4h-4zM941 552h4v4h-4zM941 556h4v4h-4zM941 560h4v4h-4zM941 564h4v4h-4zM941 568h4v4h-4zM941 572h4v4h-4zM973 572h4v4h-4zM973 576h4v4h-4zM945 584h4v4h-4zM969 584h4v4h-4zM949 588h4v4h-4zM957 592h8v4h-8z"/><path fill="#c3c3c3" d="M953 528h4v4h-4zM961 528h8v4h-8zM949 532h4v4h-4zM969 536h4v4h-4zM945 540h4v4h-4zM973 548h4v4h-4zM973 552h4v4h-4zM973 556h4v4h-4zM973 560h4v4h-4zM973 564h4v4h-4zM973 568h4v4h-4zM945 580h4v4h-4zM969 580h4v4h-4zM965 588h4v4h-4z"/><path fill="#c9c9c9" d="M957 528h4v4h-4zM953 532h4v4h-4zM961 532h8v4h-8zM949 536h4v4h-4zM969 540h4v4h-4zM945 544h4v4h-4zM969 544h4v4h-4zM945 548h4v4h-4zM945 572h4v4h-4zM945 576h4v4h-4zM969 576h4v4h-4zM949 584h4v4h-4zM965 584h4v4h-4zM953 588h12v4h-12z"/><path fill="#cecece" d="M957 532h4v4h-4zM953 536h4v4h-4zM961 536h8v4h-8zM949 540h4v4h-4zM965 540h4v4h-4zM969 548h4v4h-4zM945 552h4v4h-4zM969 552h4v4h-4zM945 556h4v4h-4zM969 556h4v4h-4zM945 560h4v4h-4zM969 560h4v4h-4zM945 564h4v4h-4zM969 564h4v4h-4zM945 568h4v4h-4zM969 568h4v4h-4zM969 572h4v4h-4zM949 580h4v4h-4zM965 580h4v4h-4zM953 584h4v4h-4zM961 584h4v4h-4z"/><path fill="#d4d4d4" d="M957 536h4v4h-4zM953 540h4v4h-4zM961 540h4v4h-4zM949 544h4v4h-4zM965 544h4v4h-4zM949 548h4v4h-4zM949 572h4v4h-4zM949 576h4v4h-4zM965 576h4v4h-4zM953 580h4v4h-4zM961 580h4v4h-4zM957 584h4v4h-4z"/><path fill="#d9d9d9" d="M957 540h4v4h-4zM953 544h4v4h-4zM961 544h4v4h-4zM965 548h4v4h-4zM949 552h4v4h-4zM965 552h4v4h-4zM949 556h4v4h-4zM965 556h4v4h-4zM949 560h4v4h-4zM965 560h4v4h-4zM949 564h4v4h-4zM965 564h4v4h-4zM949 568h4v4h-4zM965 568h4v4h-4zM965 572h4v4h-4zM953 576h4v4h-4zM961 576h4v4h-4zM957 580h4v4h-4z"/><path fill="#dedede" d="M957 544h4v4h-4zM953 548h12v4h-12zM953 552h4v4h-4zM961 552h4v4h-4zM953 568h4v4h-4zM961 568h4v4h-4zM953 572h12v4h-12zM957 576h4v4h-4z"/><path fill="#e4e4e4" d="M957 552h4v4h-4zM953 556h12v4h-12zM953 560h12v4h-12zM953 564h12v4h-12zM957 568h4v4h-4z"/></g></g><rect x="851.6" y="422.1" width="221.7" height="199.1" fill="none" stroke="#262626" stroke-width="1.1"/><path d="M869.3 621.2v-3.0M869.3 422.1v3.0M913.7 621.2v-3.0M913.7 422.1v3.0M958.0 621.2v-3.0M958.0 422.1v3.0M1002.4 621.2v-3.0M1002.4 422.1v3.0M1046.7 621.2v-3.0M1046.7 422.1v3.0M851.6 593.9h3.0M1073.3 593.9h-3.0M851.6 566.5h3.0M1073.3 566.5h-3.0M851.6 539.2h3.0M1073.3 539.2h-3.0M851.6 511.8h3.0M1073.3 511.8h-3.0M851.6 484.5h3.0M1073.3 484.5h-3.0M851.6 457.1h3.0M1073.3 457.1h-3.0M851.6 429.8h3.0M1073.3 429.8h-3.0" stroke="#262626" stroke-width="1.1" fill="none"/><rect x="1078.2" y="422.1" width="8.8" height="199.1" fill="url(#cbg)" stroke="#333" stroke-width="1"/><path d="M1087.0 450.5h-2.5M1087.0 479.0h-2.5M1087.0 507.4h-2.5M1087.0 535.9h-2.5M1087.0 564.3h-2.5M1087.0 592.8h-2.5" stroke="#262626" stroke-width="1" fill="none"/><text x="839.1" y="631.5" text-anchor="end">0</text><text x="839.1" y="576.8" text-anchor="end">100</text><text x="839.1" y="522.1" text-anchor="end">200</text><text x="839.1" y="467.4" text-anchor="end">300</text><text x="962.5" y="408.5" text-anchor="middle">Parietal cortex</text><text x="1098.0" y="435.9" font-size="24">0.5</text><text x="1098.0" y="626.7" font-size="24">−0.2</text><text x="913.7" y="654.7" text-anchor="middle">0</text><text x="1002.4" y="654.7" text-anchor="middle">1</text><text x="962.5" y="692.7" text-anchor="middle">Time (s)</text><g clip-path="url(#cl5)"><g filter="url(#fc)"><path fill="#000000" d="M1285 548h8v4h-8zM1285 552h8v4h-8zM1285 556h8v4h-8zM1285 560h8v4h-8zM1285 564h12v4h-12zM1285 568h12v4h-12zM1285 572h8v4h-8zM1285 576h8v4h-8zM1285 580h8v4h-8zM1285 584h8v4h-8z"/><path fill="#050505" d="M1261 500h4v4h-4zM1261 504h8v4h-8zM1257 508h12v4h-12zM1257 512h12v4h-12zM1257 516h16v4h-16zM1257 520h20v4h-20zM1257 524h32v4h-32zM1257 528h40v4h-40zM1257 532h40v4h-40zM1257 536h44v4h-44zM1257 540h44v4h-44zM1257 544h44v4h-44zM1257 548h28v4h-28zM1293 548h8v4h-8zM1257 552h28v4h-28zM1293 552h8v4h-8zM1257 556h28v4h-28zM1293 556h8v4h-8zM1257 560h28v4h-28zM1293 560h8v4h-8zM1257 564h28v4h-28zM1297 564h4v4h-4zM1257 568h28v4h-28zM1297 568h4v4h-4zM1257 572h8v4h-8zM1273 572h12v4h-12zM1293 572h8v4h-8zM1253 576h12v4h-12zM1277 576h8v4h-8zM1293 576h8v4h-8zM1253 580h12v4h-12zM1277 580h8v4h-8zM1293 580h8v4h-8zM1253 584h12v4h-12zM1277 584h8v4h-8zM1293 584h8v4h-8zM1253 588h12v4h-12zM1281 588h16v4h-16zM1257 592h4v4h-4zM1285 592h12v4h-12zM1373 612h24v4h-24zM1361 616h44v4h-44zM1361 620h44v4h-44zM1361 624h44v4h-44z"/><path fill="#0b0b0b" d="M1261 480h8v4h-8zM1257 484h12v4h-12zM1257 488h16v4h-16zM1257 492h24v4h-24zM1253 496h40v4h-40zM1253 500h8v4h-8zM1265 500h32v4h-32zM1253 504h8v4h-8zM1269 504h32v4h-32zM1253 508h4v4h-4zM1269 508h32v4h-32zM1253 512h4v4h-4zM1269 512h36v4h-36zM1249 516h8v4h-8zM1273 516h32v4h-32zM1249 520h8v4h-8zM1277 520h28v4h-28zM1237 524h20v4h-20zM1289 524h20v4h-20zM1237 528h20v4h-20zM1297 528h12v4h-12zM1237 532h20v4h-20zM1297 532h12v4h-12zM1237 536h20v4h-20zM1301 536h8v4h-8zM1237 540h20v4h-20zM1301 540h8v4h-8zM1237 544h20v4h-20zM1301 544h8v4h-8zM1237 548h20v4h-20zM1301 548h8v4h-8zM1237 552h20v4h-20zM1301 552h8v4h-8zM1237 556h20v4h-20zM1301 556h8v4h-8zM1237 560h20v4h-20zM1301 560h8v4h-8zM1237 564h20v4h-20zM1301 564h8v4h-8zM1237 568h20v4h-20zM1301 568h8v4h-8zM1237 572h20v4h-20zM1265 572h8v4h-8zM1301 572h8v4h-8zM1237 576h16v4h-16zM1265 576h12v4h-12zM1301 576h8v4h-8zM1425 576h4v4h-4zM1237 580h16v4h-16zM1265 580h12v4h-12zM1301 580h8v4h-8zM1421 580h8v4h-8zM1237 584h16v4h-16zM1265 584h12v4h-12zM1301 584h8v4h-8zM1421 584h12v4h-12zM1237 588h16v4h-16zM1265 588h16v4h-16zM1297 588h12v4h-12zM1421 588h12v4h-12zM1237 592h20v4h-20zM1261 592h24v4h-24zM1297 592h8v4h-8zM1425 592h4v4h-4zM1249 596h16v4h-16zM1277 596h24v4h-24zM1357 612h16v4h-16zM1397 612h16v4h-16zM1349 616h12v4h-12zM1405 616h12v4h-12zM1349 620h12v4h-12zM1405 620h12v4h-12zM1349 624h12v4h-12zM1405 624h12v4h-12z"/><path fill="#101010" d="M1237 448h12v4h-12zM1237 452h12v4h-12zM1257 452h16v4h-16zM1237 456h48v4h-48zM1237 460h52v4h-52zM1237 464h56v4h-56zM1237 468h56v4h-56zM1237 472h60v4h-60zM1237 476h64v4h-64zM1237 480h24v4h-24zM1269 480h36v4h-36zM1237 484h20v4h-20zM1269 484h36v4h-36zM1237 488h20v4h-20zM1273 488h36v4h-36zM1237 492h20v4h-20zM1281 492h28v4h-28zM1237 496h16v4h-16zM1293 496h16v4h-16zM1237 500h16v4h-16zM1297 500h12v4h-12zM1237 504h16v4h-16zM1301 504h12v4h-12zM1237 508h16v4h-16zM1301 508h12v4h-12zM1237 512h16v4h-16zM1305 512h8v4h-8zM1237 516h12v4h-12zM1305 516h8v4h-8zM1237 520h12v4h-12zM1305 520h8v4h-8zM1309 524h4v4h-4zM1309 528h4v4h-4zM1309 532h4v4h-4zM1309 536h4v4h-4zM1309 540h4v4h-4zM1309 544h4v4h-4zM1309 548h4v4h-4zM1309 552h4v4h-4zM1309 556h4v4h-4zM1309 560h4v4h-4zM1309 564h4v4h-4zM1309 568h4v4h-4zM1309 572h4v4h-4zM1421 572h8v4h-8zM1309 576h4v4h-4zM1421 576h4v4h-4zM1429 576h4v4h-4zM1309 580h4v4h-4zM1429 580h4v4h-4zM1309 584h4v4h-4zM1433 584h4v4h-4zM1309 588h4v4h-4zM1433 588h4v4h-4zM1305 592h8v4h-8zM1421 592h4v4h-4zM1429 592h4v4h-4zM1237 596h12v4h-12zM1265 596h12v4h-12zM1301 596h12v4h-12zM1421 596h12v4h-12zM1285 600h8v4h-8zM1381 608h32v4h-32zM1349 612h8v4h-8zM1413 612h12v4h-12zM1345 616h4v4h-4zM1417 616h12v4h-12zM1345 620h4v4h-4zM1417 620h12v4h-12zM1345 624h4v4h-4zM1417 624h12v4h-12z"/><path fill="#161616" d="M1237 436h12v4h-12zM1237 440h52v4h-52zM1237 444h56v4h-56zM1249 448h44v4h-44zM1305 448h8v4h-8zM1249 452h8v4h-8zM1273 452h24v4h-24zM1305 452h8v4h-8zM1285 456h28v4h-28zM1289 460h24v4h-24zM1293 464h20v4h-20zM1293 468h20v4h-20zM1297 472h16v4h-16zM1301 476h12v4h-12zM1305 480h12v4h-12zM1305 484h12v4h-12zM1309 488h8v4h-8zM1309 492h8v4h-8zM1309 496h8v4h-8zM1309 500h8v4h-8zM1313 504h4v4h-4zM1313 508h4v4h-4zM1313 512h4v4h-4zM1313 516h4v4h-4zM1313 520h4v4h-4zM1313 524h4v4h-4zM1313 528h4v4h-4zM1313 532h4v4h-4zM1313 536h4v4h-4zM1313 540h4v4h-4zM1313 544h4v4h-4zM1313 548h4v4h-4zM1313 552h4v4h-4zM1313 556h4v4h-4zM1465 556h4v4h-4zM1313 560h4v4h-4zM1465 560h4v4h-4zM1313 564h4v4h-4zM1465 564h4v4h-4zM1313 568h4v4h-4zM1421 568h12v4h-12zM1465 568h4v4h-4zM1313 572h4v4h-4zM1429 572h8v4h-8zM1313 576h4v4h-4zM1417 576h4v4h-4zM1433 576h16v4h-16zM1313 580h4v4h-4zM1417 580h4v4h-4zM1433 580h20v4h-20zM1313 584h4v4h-4zM1417 584h4v4h-4zM1437 584h16v4h-16zM1313 588h4v4h-4zM1417 588h4v4h-4zM1437 588h16v4h-16zM1313 592h4v4h-4zM1417 592h4v4h-4zM1433 592h16v4h-16zM1313 596h4v4h-4zM1417 596h4v4h-4zM1433 596h4v4h-4zM1237 600h48v4h-48zM1293 600h16v4h-16zM1421 600h12v4h-12zM1417 604h16v4h-16zM1365 608h16v4h-16zM1413 608h20v4h-20zM1345 612h4v4h-4zM1425 612h16v4h-16zM1341 616h4v4h-4zM1429 616h12v4h-12zM1341 620h4v4h-4zM1429 620h12v4h-12zM1341 624h4v4h-4zM1429 624h12v4h-12z"/><path fill="#1b1b1b" d="M1237 428h16v4h-16zM1257 428h28v4h-28zM1237 432h56v4h-56zM1249 436h44v4h-44zM1305 436h12v4h-12zM1289 440h28v4h-28zM1293 444h24v4h-24zM1293 448h12v4h-12zM1313 448h4v4h-4zM1297 452h8v4h-8zM1313 452h4v4h-4zM1313 456h4v4h-4zM1313 460h4v4h-4zM1313 464h4v4h-4zM1313 468h4v4h-4zM1313 472h4v4h-4zM1313 476h4v4h-4zM1465 524h4v4h-4zM1461 528h8v4h-8zM1461 532h20v4h-20zM1461 536h20v4h-20zM1461 540h20v4h-20zM1461 544h20v4h-20zM1461 548h20v4h-20zM1461 552h20v4h-20zM1457 556h8v4h-8zM1469 556h12v4h-12zM1421 560h8v4h-8zM1457 560h8v4h-8zM1469 560h12v4h-12zM1421 564h12v4h-12zM1445 564h8v4h-8zM1457 564h8v4h-8zM1469 564h12v4h-12zM1417 568h4v4h-4zM1433 568h32v4h-32zM1469 568h12v4h-12zM1417 572h4v4h-4zM1437 572h44v4h-44zM1449 576h32v4h-32zM1413 580h4v4h-4zM1453 580h28v4h-28zM1413 584h4v4h-4zM1453 584h28v4h-28zM1413 588h4v4h-4zM1453 588h28v4h-28zM1413 592h4v4h-4zM1449 592h20v4h-20zM1413 596h4v4h-4zM1437 596h20v4h-20zM1461 596h4v4h-4zM1309 600h8v4h-8zM1417 600h4v4h-4zM1433 600h20v4h-20zM1401 604h16v4h-16zM1433 604h20v4h-20zM1349 608h16v4h-16zM1433 608h28v4h-28zM1341 612h4v4h-4zM1441 612h40v4h-40zM1441 616h40v4h-40zM1441 620h40v4h-40zM1441 624h40v4h-40z"/><path fill="#212121" d="M1237 408h80v4h-80zM1237 412h80v4h-80zM1237 416h80v4h-80zM1237 420h80v4h-80zM1237 424h80v4h-80zM1253 428h4v4h-4zM1285 428h32v4h-32zM1293 432h24v4h-24zM1293 436h12v4h-12zM1317 436h4v4h-4zM1317 440h4v4h-4zM1317 444h4v4h-4zM1317 448h4v4h-4zM1317 452h4v4h-4zM1317 456h4v4h-4zM1317 460h4v4h-4zM1317 464h4v4h-4zM1317 468h4v4h-4zM1317 472h4v4h-4zM1317 476h4v4h-4zM1317 480h4v4h-4zM1317 484h4v4h-4zM1317 488h4v4h-4zM1317 492h4v4h-4zM1317 496h4v4h-4zM1461 496h4v4h-4zM1317 500h4v4h-4zM1461 500h8v4h-8zM1317 504h4v4h-4zM1461 504h8v4h-8zM1317 508h4v4h-4zM1461 508h8v4h-8zM1317 512h4v4h-4zM1461 512h20v4h-20zM1317 516h4v4h-4zM1457 516h24v4h-24zM1317 520h4v4h-4zM1457 520h24v4h-24zM1317 524h4v4h-4zM1457 524h8v4h-8zM1469 524h12v4h-12zM1317 528h4v4h-4zM1457 528h4v4h-4zM1469 528h12v4h-12zM1317 532h4v4h-4zM1457 532h4v4h-4zM1317 536h4v4h-4zM1457 536h4v4h-4zM1317 540h4v4h-4zM1453 540h8v4h-8zM1317 544h4v4h-4zM1453 544h8v4h-8zM1317 548h4v4h-4zM1449 548h12v4h-12zM1317 552h4v4h-4zM1425 552h4v4h-4zM1445 552h16v4h-16zM1317 556h4v4h-4zM1421 556h12v4h-12zM1441 556h16v4h-16zM1317 560h4v4h-4zM1417 560h4v4h-4zM1429 560h28v4h-28zM1317 564h4v4h-4zM1417 564h4v4h-4zM1433 564h12v4h-12zM1453 564h4v4h-4zM1317 568h4v4h-4zM1413 568h4v4h-4zM1317 572h4v4h-4zM1413 572h4v4h-4zM1317 576h4v4h-4zM1413 576h4v4h-4zM1317 580h4v4h-4zM1317 584h4v4h-4zM1409 584h4v4h-4zM1317 588h4v4h-4zM1409 588h4v4h-4zM1317 592h4v4h-4zM1409 592h4v4h-4zM1469 592h12v4h-12zM1317 596h4v4h-4zM1409 596h4v4h-4zM1457 596h4v4h-4zM1465 596h16v4h-16zM1409 600h8v4h-8zM1453 600h28v4h-28zM1389 604h12v4h-12zM1453 604h28v4h-28zM1341 608h8v4h-8zM1461 608h20v4h-20zM1337 612h4v4h-4zM1337 616h4v4h-4zM1337 620h4v4h-4zM1337 624h4v4h-4z"/><path fill="#262626" d="M1317 408h4v4h-4zM1417 408h4v4h-4zM1317 412h4v4h-4zM1417 412h4v4h-4zM1317 416h4v4h-4zM1417 416h4v4h-4zM1317 420h4v4h-4zM1417 420h4v4h-4zM1317 424h4v4h-4zM1417 424h4v4h-4zM1317 428h4v4h-4zM1317 432h4v4h-4zM1453 436h4v4h-4zM1453 440h8v4h-8zM1449 444h12v4h-12zM1449 448h16v4h-16zM1449 452h20v4h-20zM1449 456h20v4h-20zM1449 460h32v4h-32zM1449 464h32v4h-32zM1449 468h32v4h-32zM1449 472h32v4h-32zM1449 476h32v4h-32zM1449 480h32v4h-32zM1449 484h32v4h-32zM1453 488h28v4h-28zM1453 492h28v4h-28zM1453 496h8v4h-8zM1465 496h16v4h-16zM1453 500h8v4h-8zM1469 500h12v4h-12zM1453 504h8v4h-8zM1469 504h12v4h-12zM1453 508h8v4h-8zM1469 508h12v4h-12zM1453 512h8v4h-8zM1449 516h8v4h-8zM1449 520h8v4h-8zM1449 524h8v4h-8zM1449 528h8v4h-8zM1449 532h8v4h-8zM1449 536h8v4h-8zM1445 540h8v4h-8zM1421 544h8v4h-8zM1445 544h8v4h-8zM1417 548h16v4h-16zM1441 548h8v4h-8zM1417 552h8v4h-8zM1429 552h16v4h-16zM1417 556h4v4h-4zM1433 556h8v4h-8zM1413 560h4v4h-4zM1413 564h4v4h-4zM1409 568h4v4h-4zM1409 572h4v4h-4zM1409 576h4v4h-4zM1409 580h4v4h-4zM1405 584h4v4h-4zM1405 588h4v4h-4zM1405 592h4v4h-4zM1405 596h4v4h-4zM1317 600h4v4h-4zM1401 600h8v4h-8zM1237 604h76v4h-76zM1385 604h4v4h-4zM1337 608h4v4h-4z"/><path fill="#2b2b2b" d="M1321 408h4v4h-4zM1409 408h8v4h-8zM1421 408h4v4h-4zM1445 408h36v4h-36zM1321 412h4v4h-4zM1409 412h8v4h-8zM1421 412h4v4h-4zM1445 412h36v4h-36zM1321 416h4v4h-4zM1409 416h8v4h-8zM1421 416h4v4h-4zM1445 416h36v4h-36zM1321 420h4v4h-4zM1409 420h8v4h-8zM1421 420h4v4h-4zM1445 420h36v4h-36zM1321 424h4v4h-4zM1409 424h8v4h-8zM1421 424h4v4h-4zM1445 424h36v4h-36zM1321 428h4v4h-4zM1409 428h16v4h-16zM1445 428h36v4h-36zM1321 432h4v4h-4zM1409 432h16v4h-16zM1445 432h36v4h-36zM1321 436h4v4h-4zM1409 436h16v4h-16zM1445 436h8v4h-8zM1457 436h24v4h-24zM1321 440h4v4h-4zM1409 440h16v4h-16zM1445 440h8v4h-8zM1461 440h20v4h-20zM1321 444h4v4h-4zM1409 444h16v4h-16zM1445 444h4v4h-4zM1461 444h20v4h-20zM1321 448h4v4h-4zM1409 448h16v4h-16zM1445 448h4v4h-4zM1465 448h16v4h-16zM1321 452h4v4h-4zM1409 452h16v4h-16zM1445 452h4v4h-4zM1469 452h12v4h-12zM1321 456h4v4h-4zM1413 456h12v4h-12zM1445 456h4v4h-4zM1469 456h12v4h-12zM1321 460h4v4h-4zM1413 460h12v4h-12zM1445 460h4v4h-4zM1321 464h4v4h-4zM1413 464h12v4h-12zM1445 464h4v4h-4zM1321 468h4v4h-4zM1413 468h12v4h-12zM1445 468h4v4h-4zM1321 472h4v4h-4zM1413 472h8v4h-8zM1445 472h4v4h-4zM1321 476h4v4h-4zM1413 476h8v4h-8zM1445 476h4v4h-4zM1321 480h4v4h-4zM1413 480h8v4h-8zM1445 480h4v4h-4zM1321 484h4v4h-4zM1413 484h8v4h-8zM1445 484h4v4h-4zM1321 488h4v4h-4zM1413 488h8v4h-8zM1445 488h8v4h-8zM1321 492h4v4h-4zM1413 492h8v4h-8zM1449 492h4v4h-4zM1321 496h4v4h-4zM1413 496h12v4h-12zM1449 496h4v4h-4zM1321 500h4v4h-4zM1413 500h12v4h-12zM1449 500h4v4h-4zM1321 504h4v4h-4zM1413 504h12v4h-12zM1445 504h8v4h-8zM1321 508h4v4h-4zM1417 508h8v4h-8zM1445 508h8v4h-8zM1321 512h4v4h-4zM1417 512h8v4h-8zM1445 512h8v4h-8zM1321 516h4v4h-4zM1417 516h8v4h-8zM1445 516h4v4h-4zM1413 520h16v4h-16zM1445 520h4v4h-4zM1413 524h16v4h-16zM1445 524h4v4h-4zM1413 528h16v4h-16zM1445 528h4v4h-4zM1413 532h20v4h-20zM1441 532h8v4h-8zM1413 536h24v4h-24zM1441 536h8v4h-8zM1413 540h32v4h-32zM1413 544h8v4h-8zM1429 544h16v4h-16zM1413 548h4v4h-4zM1433 548h8v4h-8zM1409 552h8v4h-8zM1409 556h8v4h-8zM1409 560h4v4h-4zM1409 564h4v4h-4zM1405 568h4v4h-4zM1405 572h4v4h-4zM1405 576h4v4h-4zM1405 580h4v4h-4zM1401 584h4v4h-4zM1401 588h4v4h-4zM1321 592h4v4h-4zM1401 592h4v4h-4zM1321 596h4v4h-4zM1401 596h4v4h-4zM1397 600h4v4h-4zM1313 604h8v4h-8zM1381 604h4v4h-4zM1333 612h4v4h-4zM1333 616h4v4h-4zM1333 620h4v4h-4zM1333 624h4v4h-4z"/><path fill="#313131" d="M1401 408h8v4h-8zM1425 408h4v4h-4zM1437 408h8v4h-8zM1401 412h8v4h-8zM1425 412h4v4h-4zM1437 412h8v4h-8zM1401 416h8v4h-8zM1425 416h4v4h-4zM1437 416h8v4h-8zM1401 420h8v4h-8zM1425 420h4v4h-4zM1437 420h8v4h-8zM1401 424h8v4h-8zM1425 424h4v4h-4zM1441 424h4v4h-4zM1401 428h8v4h-8zM1425 428h4v4h-4zM1441 428h4v4h-4zM1401 432h8v4h-8zM1425 432h4v4h-4zM1441 432h4v4h-4zM1401 436h8v4h-8zM1425 436h4v4h-4zM1441 436h4v4h-4zM1401 440h8v4h-8zM1425 440h4v4h-4zM1441 440h4v4h-4zM1401 444h8v4h-8zM1425 444h4v4h-4zM1441 444h4v4h-4zM1401 448h8v4h-8zM1425 448h4v4h-4zM1441 448h4v4h-4zM1401 452h8v4h-8zM1425 452h4v4h-4zM1441 452h4v4h-4zM1401 456h12v4h-12zM1425 456h4v4h-4zM1441 456h4v4h-4zM1401 460h12v4h-12zM1425 460h4v4h-4zM1441 460h4v4h-4zM1401 464h12v4h-12zM1425 464h4v4h-4zM1441 464h4v4h-4zM1401 468h12v4h-12zM1425 468h4v4h-4zM1441 468h4v4h-4zM1401 472h12v4h-12zM1421 472h8v4h-8zM1441 472h4v4h-4zM1405 476h8v4h-8zM1421 476h8v4h-8zM1405 480h8v4h-8zM1421 480h8v4h-8zM1405 484h8v4h-8zM1421 484h8v4h-8zM1405 488h8v4h-8zM1421 488h8v4h-8zM1405 492h8v4h-8zM1421 492h12v4h-12zM1445 492h4v4h-4zM1405 496h8v4h-8zM1425 496h8v4h-8zM1445 496h4v4h-4zM1405 500h8v4h-8zM1425 500h8v4h-8zM1441 500h8v4h-8zM1405 504h8v4h-8zM1425 504h8v4h-8zM1441 504h4v4h-4zM1405 508h12v4h-12zM1425 508h8v4h-8zM1441 508h4v4h-4zM1405 512h12v4h-12zM1425 512h8v4h-8zM1441 512h4v4h-4zM1405 516h12v4h-12zM1425 516h12v4h-12zM1441 516h4v4h-4zM1321 520h4v4h-4zM1405 520h8v4h-8zM1429 520h16v4h-16zM1321 524h4v4h-4zM1405 524h8v4h-8zM1429 524h16v4h-16zM1321 528h4v4h-4zM1405 528h8v4h-8zM1429 528h16v4h-16zM1321 532h4v4h-4zM1405 532h8v4h-8zM1433 532h8v4h-8zM1321 536h4v4h-4zM1405 536h8v4h-8zM1437 536h4v4h-4zM1321 540h4v4h-4zM1405 540h8v4h-8zM1321 544h4v4h-4zM1405 544h8v4h-8zM1321 548h4v4h-4zM1405 548h8v4h-8zM1321 552h4v4h-4zM1405 552h4v4h-4zM1321 556h4v4h-4zM1405 556h4v4h-4zM1321 560h4v4h-4zM1405 560h4v4h-4zM1321 564h4v4h-4zM1401 564h8v4h-8zM1321 568h4v4h-4zM1401 568h4v4h-4zM1321 572h4v4h-4zM1401 572h4v4h-4zM1321 576h4v4h-4zM1401 576h4v4h-4zM1321 580h4v4h-4zM1401 580h4v4h-4zM1321 584h4v4h-4zM1321 588h4v4h-4zM1397 588h4v4h-4zM1397 592h4v4h-4zM1397 596h4v4h-4zM1321 600h4v4h-4zM1393 600h4v4h-4zM1321 604h4v4h-4zM1373 604h8v4h-8zM1237 608h80v4h-80zM1329 608h8v4h-8zM1329 612h4v4h-4zM1329 616h4v4h-4zM1329 620h4v4h-4zM1329 624h4v4h-4z"/><path fill="#363636" d="M1325 408h4v4h-4zM1393 408h8v4h-8zM1429 408h8v4h-8zM1325 412h4v4h-4zM1393 412h8v4h-8zM1429 412h8v4h-8zM1325 416h4v4h-4zM1393 416h8v4h-8zM1429 416h8v4h-8zM1325 420h4v4h-4zM1393 420h8v4h-8zM1429 420h8v4h-8zM1325 424h4v4h-4zM1393 424h8v4h-8zM1429 424h12v4h-12zM1325 428h4v4h-4zM1397 428h4v4h-4zM1429 428h12v4h-12zM1325 432h4v4h-4zM1397 432h4v4h-4zM1429 432h12v4h-12zM1325 436h4v4h-4zM1397 436h4v4h-4zM1429 436h12v4h-12zM1325 440h4v4h-4zM1397 440h4v4h-4zM1429 440h12v4h-12zM1325 444h4v4h-4zM1397 444h4v4h-4zM1429 444h12v4h-12zM1325 448h4v4h-4zM1397 448h4v4h-4zM1429 448h12v4h-12zM1325 452h4v4h-4zM1397 452h4v4h-4zM1429 452h12v4h-12zM1397 456h4v4h-4zM1429 456h12v4h-12zM1397 460h4v4h-4zM1429 460h12v4h-12zM1397 464h4v4h-4zM1429 464h12v4h-12zM1397 468h4v4h-4zM1429 468h12v4h-12zM1397 472h4v4h-4zM1429 472h12v4h-12zM1397 476h8v4h-8zM1429 476h16v4h-16zM1397 480h8v4h-8zM1429 480h16v4h-16zM1397 484h8v4h-8zM1429 484h16v4h-16zM1397 488h8v4h-8zM1429 488h16v4h-16zM1397 492h8v4h-8zM1433 492h12v4h-12zM1397 496h8v4h-8zM1433 496h12v4h-12zM1397 500h8v4h-8zM1433 500h8v4h-8zM1397 504h8v4h-8zM1433 504h8v4h-8zM1397 508h8v4h-8zM1433 508h8v4h-8zM1401 512h4v4h-4zM1433 512h8v4h-8zM1401 516h4v4h-4zM1437 516h4v4h-4zM1401 520h4v4h-4zM1401 524h4v4h-4zM1401 528h4v4h-4zM1401 532h4v4h-4zM1401 536h4v4h-4zM1401 540h4v4h-4zM1401 544h4v4h-4zM1401 548h4v4h-4zM1401 552h4v4h-4zM1401 556h4v4h-4zM1401 560h4v4h-4zM1397 572h4v4h-4zM1397 576h4v4h-4zM1397 580h4v4h-4zM1397 584h4v4h-4zM1393 592h4v4h-4zM1393 596h4v4h-4zM1389 600h4v4h-4zM1325 604h4v4h-4zM1337 604h12v4h-12zM1369 604h4v4h-4zM1317 608h12v4h-12zM1237 612h92v4h-92zM1237 616h92v4h-92zM1237 620h92v4h-92zM1237 624h92v4h-92z"/><path fill="#3c3c3c" d="M1389 408h4v4h-4zM1389 412h4v4h-4zM1389 416h4v4h-4zM1389 420h4v4h-4zM1393 428h4v4h-4zM1393 432h4v4h-4zM1393 436h4v4h-4zM1393 440h4v4h-4zM1393 444h4v4h-4zM1393 448h4v4h-4zM1393 452h4v4h-4zM1325 456h4v4h-4zM1393 456h4v4h-4zM1325 460h4v4h-4zM1393 460h4v4h-4zM1325 464h4v4h-4zM1393 464h4v4h-4zM1325 468h4v4h-4zM1393 468h4v4h-4zM1325 472h4v4h-4zM1393 472h4v4h-4zM1325 476h4v4h-4zM1393 476h4v4h-4zM1325 480h4v4h-4zM1393 480h4v4h-4zM1325 484h4v4h-4zM1393 484h4v4h-4zM1393 488h4v4h-4zM1393 492h4v4h-4zM1393 496h4v4h-4zM1393 500h4v4h-4zM1397 512h4v4h-4zM1397 516h4v4h-4zM1397 520h4v4h-4zM1397 524h4v4h-4zM1397 528h4v4h-4zM1397 532h4v4h-4zM1397 536h4v4h-4zM1397 540h4v4h-4zM1397 544h4v4h-4zM1397 548h4v4h-4zM1397 552h4v4h-4zM1397 556h4v4h-4zM1397 560h4v4h-4zM1397 564h4v4h-4zM1397 568h4v4h-4zM1393 584h4v4h-4zM1393 588h4v4h-4zM1325 596h4v4h-4zM1325 600h4v4h-4zM1385 600h4v4h-4zM1329 604h8v4h-8zM1349 604h20v4h-20z"/><path fill="#414141" d="M1329 408h4v4h-4zM1329 412h4v4h-4zM1329 416h4v4h-4zM1329 420h4v4h-4zM1329 424h4v4h-4zM1389 424h4v4h-4zM1329 428h4v4h-4zM1389 428h4v4h-4zM1329 432h4v4h-4zM1389 432h4v4h-4zM1329 436h4v4h-4zM1389 436h4v4h-4zM1329 440h4v4h-4zM1389 440h4v4h-4zM1389 444h4v4h-4zM1389 448h4v4h-4zM1389 452h4v4h-4zM1389 456h4v4h-4zM1389 460h4v4h-4zM1389 464h4v4h-4zM1325 488h4v4h-4zM1325 492h4v4h-4zM1325 496h4v4h-4zM1325 500h4v4h-4zM1325 504h4v4h-4zM1393 504h4v4h-4zM1325 508h4v4h-4zM1393 508h4v4h-4zM1325 512h4v4h-4zM1393 512h4v4h-4zM1325 516h4v4h-4zM1393 516h4v4h-4zM1325 520h4v4h-4zM1393 520h4v4h-4zM1325 524h4v4h-4zM1393 524h4v4h-4zM1393 528h4v4h-4zM1393 532h4v4h-4zM1393 536h4v4h-4zM1393 572h4v4h-4zM1393 576h4v4h-4zM1393 580h4v4h-4zM1325 584h4v4h-4zM1325 588h4v4h-4zM1325 592h4v4h-4zM1389 592h4v4h-4zM1389 596h4v4h-4zM1329 600h4v4h-4z"/><path fill="#474747" d="M1333 408h8v4h-8zM1385 408h4v4h-4zM1333 412h8v4h-8zM1385 412h4v4h-4zM1333 416h8v4h-8zM1385 416h4v4h-4zM1333 420h4v4h-4zM1385 420h4v4h-4zM1333 424h4v4h-4zM1385 424h4v4h-4zM1333 428h4v4h-4zM1385 428h4v4h-4zM1333 432h4v4h-4zM1385 432h4v4h-4zM1385 436h4v4h-4zM1329 444h4v4h-4zM1329 448h4v4h-4zM1329 452h4v4h-4zM1329 456h4v4h-4zM1329 460h4v4h-4zM1389 468h4v4h-4zM1389 472h4v4h-4zM1389 476h4v4h-4zM1389 480h4v4h-4zM1389 484h4v4h-4zM1389 488h4v4h-4zM1389 492h4v4h-4zM1389 496h4v4h-4zM1389 500h4v4h-4zM1389 504h4v4h-4zM1389 508h4v4h-4zM1389 512h4v4h-4zM1325 528h4v4h-4zM1325 532h4v4h-4zM1325 536h4v4h-4zM1325 540h4v4h-4zM1393 540h4v4h-4zM1325 544h4v4h-4zM1393 544h4v4h-4zM1393 548h4v4h-4zM1393 552h4v4h-4zM1393 556h4v4h-4zM1393 560h4v4h-4zM1393 564h4v4h-4zM1393 568h4v4h-4zM1325 572h4v4h-4zM1325 576h4v4h-4zM1325 580h4v4h-4zM1389 588h4v4h-4zM1329 596h4v4h-4zM1333 600h4v4h-4zM1381 600h4v4h-4z"/><path fill="#4c4c4c" d="M1341 408h8v4h-8zM1377 408h8v4h-8zM1341 412h8v4h-8zM1377 412h8v4h-8zM1341 416h8v4h-8zM1377 416h8v4h-8zM1337 420h8v4h-8zM1381 420h4v4h-4zM1337 424h8v4h-8zM1381 424h4v4h-4zM1337 428h8v4h-8zM1381 428h4v4h-4zM1337 432h4v4h-4zM1333 436h8v4h-8zM1333 440h4v4h-4zM1385 440h4v4h-4zM1333 444h4v4h-4zM1385 444h4v4h-4zM1333 448h4v4h-4zM1385 448h4v4h-4zM1385 452h4v4h-4zM1385 456h4v4h-4zM1385 460h4v4h-4zM1329 464h4v4h-4zM1385 464h4v4h-4zM1329 468h4v4h-4zM1329 472h4v4h-4zM1329 476h4v4h-4zM1329 480h4v4h-4zM1389 516h4v4h-4zM1389 520h4v4h-4zM1389 524h4v4h-4zM1389 528h4v4h-4zM1389 532h4v4h-4zM1325 548h4v4h-4zM1325 552h4v4h-4zM1325 556h4v4h-4zM1325 560h4v4h-4zM1325 564h4v4h-4zM1325 568h4v4h-4zM1389 580h4v4h-4zM1389 584h4v4h-4zM1329 592h4v4h-4zM1385 596h4v4h-4zM1337 600h4v4h-4z"/><path fill="#515151" d="M1349 408h8v4h-8zM1369 408h8v4h-8zM1349 412h8v4h-8zM1369 412h8v4h-8zM1349 416h8v4h-8zM1369 416h8v4h-8zM1345 420h8v4h-8zM1373 420h8v4h-8zM1345 424h8v4h-8zM1373 424h8v4h-8zM1345 428h4v4h-4zM1377 428h4v4h-4zM1341 432h8v4h-8zM1377 432h8v4h-8zM1341 436h4v4h-4zM1377 436h8v4h-8zM1337 440h8v4h-8zM1381 440h4v4h-4zM1337 444h4v4h-4zM1381 444h4v4h-4zM1337 448h4v4h-4zM1381 448h4v4h-4zM1333 452h8v4h-8zM1381 452h4v4h-4zM1333 456h4v4h-4zM1333 460h4v4h-4zM1333 464h4v4h-4zM1385 468h4v4h-4zM1385 472h4v4h-4zM1385 476h4v4h-4zM1385 480h4v4h-4zM1329 484h4v4h-4zM1385 484h4v4h-4zM1329 488h4v4h-4zM1385 488h4v4h-4zM1329 492h4v4h-4zM1385 492h4v4h-4zM1329 496h4v4h-4zM1385 496h4v4h-4zM1329 500h4v4h-4zM1385 500h4v4h-4zM1329 504h4v4h-4zM1329 508h4v4h-4zM1389 536h4v4h-4zM1389 540h4v4h-4zM1389 544h4v4h-4zM1389 572h4v4h-4zM1389 576h4v4h-4zM1329 588h4v4h-4zM1385 592h4v4h-4zM1333 596h4v4h-4zM1341 600h4v4h-4zM1377 600h4v4h-4z"/><path fill="#575757" d="M1357 408h12v4h-12zM1357 412h12v4h-12zM1357 416h12v4h-12zM1353 420h20v4h-20zM1353 424h20v4h-20zM1349 428h8v4h-8zM1365 428h12v4h-12zM1349 432h4v4h-4zM1369 432h8v4h-8zM1345 436h8v4h-8zM1373 436h4v4h-4zM1345 440h4v4h-4zM1373 440h8v4h-8zM1341 444h8v4h-8zM1377 444h4v4h-4zM1341 448h4v4h-4zM1377 448h4v4h-4zM1341 452h4v4h-4zM1377 452h4v4h-4zM1337 456h4v4h-4zM1381 456h4v4h-4zM1337 460h4v4h-4zM1381 460h4v4h-4zM1381 464h4v4h-4zM1333 468h4v4h-4zM1381 468h4v4h-4zM1333 472h4v4h-4zM1381 472h4v4h-4zM1333 476h4v4h-4zM1385 504h4v4h-4zM1385 508h4v4h-4zM1329 512h4v4h-4zM1385 512h4v4h-4zM1329 516h4v4h-4zM1385 516h4v4h-4zM1329 520h4v4h-4zM1385 520h4v4h-4zM1329 524h4v4h-4zM1329 528h4v4h-4zM1329 532h4v4h-4zM1389 548h4v4h-4zM1389 552h4v4h-4zM1389 556h4v4h-4zM1389 560h4v4h-4zM1389 564h4v4h-4zM1389 568h4v4h-4zM1329 580h4v4h-4zM1329 584h4v4h-4zM1385 588h4v4h-4zM1333 592h4v4h-4zM1381 596h4v4h-4zM1373 600h4v4h-4z"/><path fill="#5c5c5c" d="M1357 428h8v4h-8zM1353 432h16v4h-16zM1353 436h20v4h-20zM1349 440h8v4h-8zM1365 440h8v4h-8zM1349 444h4v4h-4zM1369 444h8v4h-8zM1345 448h8v4h-8zM1373 448h4v4h-4zM1345 452h4v4h-4zM1373 452h4v4h-4zM1341 456h8v4h-8zM1373 456h8v4h-8zM1341 460h4v4h-4zM1377 460h4v4h-4zM1337 464h8v4h-8zM1377 464h4v4h-4zM1337 468h4v4h-4zM1377 468h4v4h-4zM1337 472h4v4h-4zM1381 476h4v4h-4zM1333 480h4v4h-4zM1381 480h4v4h-4zM1333 484h4v4h-4zM1381 484h4v4h-4zM1333 488h4v4h-4zM1381 488h4v4h-4zM1333 492h4v4h-4zM1381 492h4v4h-4zM1381 496h4v4h-4zM1385 524h4v4h-4zM1385 528h4v4h-4zM1329 536h4v4h-4zM1329 540h4v4h-4zM1329 544h4v4h-4zM1329 548h4v4h-4zM1329 568h4v4h-4zM1329 572h4v4h-4zM1329 576h4v4h-4zM1385 584h4v4h-4zM1333 588h4v4h-4zM1337 596h4v4h-4zM1345 600h4v4h-4z"/><path fill="#626262" d="M1357 440h8v4h-8zM1353 444h16v4h-16zM1353 448h20v4h-20zM1349 452h8v4h-8zM1365 452h8v4h-8zM1349 456h4v4h-4zM1369 456h4v4h-4zM1345 460h4v4h-4zM1373 460h4v4h-4zM1345 464h4v4h-4zM1373 464h4v4h-4zM1341 468h4v4h-4zM1373 468h4v4h-4zM1341 472h4v4h-4zM1377 472h4v4h-4zM1337 476h4v4h-4zM1377 476h4v4h-4zM1337 480h4v4h-4zM1377 480h4v4h-4zM1337 484h4v4h-4zM1377 484h4v4h-4zM1333 496h4v4h-4zM1333 500h4v4h-4zM1381 500h4v4h-4zM1333 504h4v4h-4zM1381 504h4v4h-4zM1333 508h4v4h-4zM1381 508h4v4h-4zM1333 512h4v4h-4zM1381 512h4v4h-4zM1333 516h4v4h-4zM1385 532h4v4h-4zM1385 536h4v4h-4zM1329 552h4v4h-4zM1329 556h4v4h-4zM1329 560h4v4h-4zM1329 564h4v4h-4zM1385 580h4v4h-4zM1333 584h4v4h-4zM1381 592h4v4h-4zM1349 600h4v4h-4zM1369 600h4v4h-4z"/><path fill="#676767" d="M1357 452h8v4h-8zM1353 456h16v4h-16zM1349 460h8v4h-8zM1365 460h8v4h-8zM1349 464h4v4h-4zM1369 464h4v4h-4zM1345 468h4v4h-4zM1369 468h4v4h-4zM1345 472h4v4h-4zM1373 472h4v4h-4zM1341 476h4v4h-4zM1373 476h4v4h-4zM1341 480h4v4h-4zM1373 480h4v4h-4zM1337 488h4v4h-4zM1377 488h4v4h-4zM1337 492h4v4h-4zM1377 492h4v4h-4zM1337 496h4v4h-4zM1377 496h4v4h-4zM1377 500h4v4h-4zM1381 516h4v4h-4zM1333 520h4v4h-4zM1381 520h4v4h-4zM1333 524h4v4h-4zM1333 528h4v4h-4zM1385 540h4v4h-4zM1385 544h4v4h-4zM1385 572h4v4h-4zM1385 576h4v4h-4zM1333 580h4v4h-4zM1381 588h4v4h-4zM1337 592h4v4h-4zM1341 596h4v4h-4zM1377 596h4v4h-4zM1353 600h16v4h-16z"/><path fill="#6d6d6d" d="M1357 460h8v4h-8zM1353 464h16v4h-16zM1349 468h4v4h-4zM1365 468h4v4h-4zM1349 472h4v4h-4zM1369 472h4v4h-4zM1345 476h4v4h-4zM1369 476h4v4h-4zM1345 480h4v4h-4zM1341 484h4v4h-4zM1373 484h4v4h-4zM1341 488h4v4h-4zM1373 488h4v4h-4zM1373 492h4v4h-4zM1337 500h4v4h-4zM1337 504h4v4h-4zM1377 504h4v4h-4zM1337 508h4v4h-4zM1377 508h4v4h-4zM1337 512h4v4h-4zM1381 524h4v4h-4zM1381 528h4v4h-4zM1333 532h4v4h-4zM1333 536h4v4h-4zM1333 540h4v4h-4zM1385 548h4v4h-4zM1385 552h4v4h-4zM1385 556h4v4h-4zM1385 560h4v4h-4zM1385 564h4v4h-4zM1385 568h4v4h-4zM1333 576h4v4h-4zM1337 588h4v4h-4z"/><path fill="#727272" d="M1353 468h12v4h-12zM1353 472h4v4h-4zM1361 472h8v4h-8zM1349 476h4v4h-4zM1365 476h4v4h-4zM1369 480h4v4h-4zM1345 484h4v4h-4zM1369 484h4v4h-4zM1345 488h4v4h-4zM1341 492h4v4h-4zM1341 496h4v4h-4zM1373 496h4v4h-4zM1341 500h4v4h-4zM1373 500h4v4h-4zM1377 512h4v4h-4zM1337 516h4v4h-4zM1377 516h4v4h-4zM1337 520h4v4h-4zM1337 524h4v4h-4zM1381 532h4v4h-4zM1333 544h4v4h-4zM1333 548h4v4h-4zM1333 552h4v4h-4zM1333 556h4v4h-4zM1333 560h4v4h-4zM1333 564h4v4h-4zM1333 568h4v4h-4zM1333 572h4v4h-4zM1337 584h4v4h-4zM1381 584h4v4h-4zM1341 592h4v4h-4zM1377 592h4v4h-4zM1345 596h4v4h-4zM1373 596h4v4h-4z"/><path fill="#777777" d="M1357 472h4v4h-4zM1353 476h12v4h-12zM1349 480h8v4h-8zM1365 480h4v4h-4zM1349 484h4v4h-4zM1365 484h4v4h-4zM1369 488h4v4h-4zM1345 492h4v4h-4zM1369 492h4v4h-4zM1345 496h4v4h-4zM1341 504h4v4h-4zM1373 504h4v4h-4zM1341 508h4v4h-4zM1373 508h4v4h-4zM1341 512h4v4h-4zM1377 520h4v4h-4zM1337 528h4v4h-4zM1381 536h4v4h-4zM1337 580h4v4h-4zM1381 580h4v4h-4z"/><path fill="#7d7d7d" d="M1357 480h8v4h-8zM1353 484h4v4h-4zM1361 484h4v4h-4zM1349 488h4v4h-4zM1365 488h4v4h-4zM1349 492h4v4h-4zM1369 496h4v4h-4zM1345 500h4v4h-4zM1369 500h4v4h-4zM1345 504h4v4h-4zM1373 512h4v4h-4zM1341 516h4v4h-4zM1377 524h4v4h-4zM1377 528h4v4h-4zM1337 532h4v4h-4zM1337 536h4v4h-4zM1381 540h4v4h-4zM1381 544h4v4h-4zM1337 576h4v4h-4zM1381 576h4v4h-4zM1341 588h4v4h-4zM1377 588h4v4h-4zM1349 596h4v4h-4zM1369 596h4v4h-4z"/><path fill="#828282" d="M1357 484h4v4h-4zM1353 488h12v4h-12zM1353 492h4v4h-4zM1365 492h4v4h-4zM1349 496h4v4h-4zM1365 496h4v4h-4zM1369 504h4v4h-4zM1345 508h4v4h-4zM1369 508h4v4h-4zM1373 516h4v4h-4zM1341 520h4v4h-4zM1373 520h4v4h-4zM1341 524h4v4h-4zM1377 532h4v4h-4zM1337 540h4v4h-4zM1337 544h4v4h-4zM1381 548h4v4h-4zM1337 572h4v4h-4zM1381 572h4v4h-4zM1345 592h4v4h-4zM1373 592h4v4h-4zM1353 596h4v4h-4z"/><path fill="#888888" d="M1357 492h8v4h-8zM1353 496h4v4h-4zM1361 496h4v4h-4zM1349 500h4v4h-4zM1365 500h4v4h-4zM1349 504h4v4h-4zM1365 504h4v4h-4zM1345 512h4v4h-4zM1369 512h4v4h-4zM1345 516h4v4h-4zM1373 524h4v4h-4zM1341 528h4v4h-4zM1337 548h4v4h-4zM1337 552h4v4h-4zM1381 552h4v4h-4zM1381 556h4v4h-4zM1381 560h4v4h-4zM1337 564h4v4h-4zM1381 564h4v4h-4zM1337 568h4v4h-4zM1381 568h4v4h-4zM1341 584h4v4h-4zM1377 584h4v4h-4zM1357 596h12v4h-12z"/><path fill="#8d8d8d" d="M1357 496h4v4h-4zM1353 500h12v4h-12zM1349 508h4v4h-4zM1365 508h4v4h-4zM1369 516h4v4h-4zM1345 520h4v4h-4zM1341 532h4v4h-4zM1377 536h4v4h-4zM1337 556h4v4h-4zM1337 560h4v4h-4zM1341 580h4v4h-4zM1377 580h4v4h-4zM1345 588h4v4h-4zM1373 588h4v4h-4zM1349 592h4v4h-4z"/><path fill="#929292" d="M1353 504h12v4h-12zM1353 508h4v4h-4zM1361 508h4v4h-4zM1349 512h4v4h-4zM1365 512h4v4h-4zM1369 520h4v4h-4zM1345 524h4v4h-4zM1373 528h4v4h-4zM1341 536h4v4h-4zM1377 540h4v4h-4zM1369 592h4v4h-4z"/><path fill="#989898" d="M1357 508h4v4h-4zM1353 512h4v4h-4zM1361 512h4v4h-4zM1349 516h4v4h-4zM1365 516h4v4h-4zM1369 524h4v4h-4zM1345 528h4v4h-4zM1373 532h4v4h-4zM1341 540h4v4h-4zM1341 544h4v4h-4zM1377 544h4v4h-4zM1341 576h4v4h-4zM1377 576h4v4h-4zM1345 584h4v4h-4zM1353 592h4v4h-4zM1365 592h4v4h-4z"/><path fill="#9d9d9d" d="M1357 512h4v4h-4zM1353 516h4v4h-4zM1361 516h4v4h-4zM1349 520h4v4h-4zM1365 520h4v4h-4zM1345 532h4v4h-4zM1373 536h4v4h-4zM1341 548h4v4h-4zM1377 548h4v4h-4zM1341 572h4v4h-4zM1377 572h4v4h-4zM1373 584h4v4h-4zM1349 588h4v4h-4zM1369 588h4v4h-4zM1357 592h8v4h-8z"/><path fill="#a3a3a3" d="M1357 516h4v4h-4zM1353 520h4v4h-4zM1349 524h4v4h-4zM1365 524h4v4h-4zM1369 528h4v4h-4zM1345 536h4v4h-4zM1341 552h4v4h-4zM1377 552h4v4h-4zM1341 556h4v4h-4zM1377 556h4v4h-4zM1341 560h4v4h-4zM1377 560h4v4h-4zM1341 564h4v4h-4zM1377 564h4v4h-4zM1341 568h4v4h-4zM1377 568h4v4h-4zM1345 580h4v4h-4z"/><path fill="#a8a8a8" d="M1357 520h8v4h-8zM1349 528h4v4h-4zM1369 532h4v4h-4zM1373 540h4v4h-4zM1373 580h4v4h-4zM1353 588h4v4h-4z"/><path fill="#aeaeae" d="M1353 524h4v4h-4zM1361 524h4v4h-4zM1365 528h4v4h-4zM1349 532h4v4h-4zM1345 540h4v4h-4zM1373 544h4v4h-4zM1345 576h4v4h-4zM1349 584h4v4h-4zM1369 584h4v4h-4zM1365 588h4v4h-4z"/><path fill="#b3b3b3" d="M1357 524h4v4h-4zM1353 528h4v4h-4zM1369 536h4v4h-4zM1345 544h4v4h-4zM1373 576h4v4h-4zM1357 588h8v4h-8z"/><path fill="#b8b8b8" d="M1357 528h8v4h-8zM1365 532h4v4h-4zM1349 536h4v4h-4zM1345 548h4v4h-4zM1373 548h4v4h-4zM1345 572h4v4h-4zM1373 572h4v4h-4zM1349 580h4v4h-4zM1353 584h4v4h-4z"/><path fill="#bebebe" d="M1353 532h4v4h-4zM1369 540h4v4h-4zM1345 552h4v4h-4zM1373 552h4v4h-4zM1345 556h4v4h-4zM1373 556h4v4h-4zM1345 564h4v4h-4zM1345 568h4v4h-4zM1373 568h4v4h-4zM1369 580h4v4h-4zM1365 584h4v4h-4z"/><path fill="#c3c3c3" d="M1357 532h8v4h-8zM1365 536h4v4h-4zM1349 540h4v4h-4zM1369 544h4v4h-4zM1345 560h4v4h-4zM1373 560h4v4h-4zM1373 564h4v4h-4zM1349 576h4v4h-4zM1357 584h8v4h-8z"/><path fill="#c9c9c9" d="M1353 536h4v4h-4zM1349 544h4v4h-4zM1369 576h4v4h-4zM1353 580h4v4h-4z"/><path fill="#cecece" d="M1357 536h8v4h-8zM1365 540h4v4h-4zM1349 548h4v4h-4zM1369 548h4v4h-4zM1349 572h4v4h-4zM1365 580h4v4h-4z"/><path fill="#d4d4d4" d="M1353 540h4v4h-4zM1369 552h4v4h-4zM1349 568h4v4h-4zM1369 572h4v4h-4zM1357 580h8v4h-8z"/><path fill="#d9d9d9" d="M1357 540h8v4h-8zM1353 544h4v4h-4zM1365 544h4v4h-4zM1349 552h4v4h-4zM1349 556h4v4h-4zM1369 556h4v4h-4zM1349 564h4v4h-4zM1369 568h4v4h-4zM1353 576h4v4h-4zM1365 576h4v4h-4z"/><path fill="#dedede" d="M1365 548h4v4h-4zM1349 560h4v4h-4zM1369 560h4v4h-4zM1369 564h4v4h-4zM1357 576h4v4h-4z"/><path fill="#e4e4e4" d="M1357 544h8v4h-8zM1353 548h4v4h-4zM1353 572h4v4h-4zM1365 572h4v4h-4zM1361 576h4v4h-4z"/><path fill="#e9e9e9" d="M1361 548h4v4h-4zM1353 552h4v4h-4zM1365 552h4v4h-4zM1353 568h4v4h-4zM1365 568h4v4h-4z"/><path fill="#efefef" d="M1357 548h4v4h-4zM1353 556h4v4h-4zM1365 556h4v4h-4zM1353 560h4v4h-4zM1365 560h4v4h-4zM1353 564h4v4h-4zM1365 564h4v4h-4zM1357 572h8v4h-8z"/><path fill="#f4f4f4" d="M1357 552h8v4h-8zM1357 568h8v4h-8z"/><path fill="#fafafa" d="M1357 556h8v4h-8zM1361 560h4v4h-4zM1357 564h8v4h-8z"/><path fill="#ffffff" d="M1357 560h4v4h-4z"/></g></g><rect x="1247.9" y="418.1" width="221.8" height="199.2" fill="none" stroke="#262626" stroke-width="1.1"/><path d="M1265.6 617.3v-3.0M1265.6 418.1v3.0M1310.0 617.3v-3.0M1310.0 418.1v3.0M1354.4 617.3v-3.0M1354.4 418.1v3.0M1398.7 617.3v-3.0M1398.7 418.1v3.0M1443.1 617.3v-3.0M1443.1 418.1v3.0M1247.9 589.9h3.0M1469.7 589.9h-3.0M1247.9 562.6h3.0M1469.7 562.6h-3.0M1247.9 535.2h3.0M1469.7 535.2h-3.0M1247.9 507.8h3.0M1469.7 507.8h-3.0M1247.9 480.5h3.0M1469.7 480.5h-3.0M1247.9 453.1h3.0M1469.7 453.1h-3.0M1247.9 425.8h3.0M1469.7 425.8h-3.0" stroke="#262626" stroke-width="1.1" fill="none"/><rect x="1474.3" y="418.1" width="8.3" height="199.2" fill="url(#cbg)" stroke="#333" stroke-width="1"/><path d="M1482.6 446.6h-2.5M1482.6 475.0h-2.5M1482.6 503.5h-2.5M1482.6 531.9h-2.5M1482.6 560.4h-2.5M1482.6 588.8h-2.5" stroke="#262626" stroke-width="1" fill="none"/><text x="1235.4" y="627.6" text-anchor="end">0</text><text x="1235.4" y="572.9" text-anchor="end">100</text><text x="1235.4" y="518.1" text-anchor="end">200</text><text x="1235.4" y="463.4" text-anchor="end">300</text><text x="1358.8" y="402.7" text-anchor="middle">Medial temporal lobe</text><text x="1493.6" y="434.4" font-size="24">0.15</text><text x="1493.6" y="616.0" font-size="24">−0.05</text><text x="1310.0" y="654.7" text-anchor="middle">0</text><text x="1398.7" y="654.7" text-anchor="middle">1</text><text x="1358.8" y="692.7" text-anchor="middle">Time (s)</text><text x="773.3" y="362.3" text-anchor="middle" transform="rotate(-90 773.3 362.3)">Frequency (Hz)</text><text x="1567.0" y="362.0" text-anchor="middle" transform="rotate(90 1567.0 362.0)">Power (<tspan font-style="italic">z</tspan>)</text><text x="407.4" y="807.9" font-size="42" font-weight="bold">e</text><g clip-path="url(#cl6)"><g filter="url(#fe)"><path fill="#101010" d="M563 1068h8v4h-8zM563 1072h8v4h-8zM563 1076h8v4h-8z"/><path fill="#141414" d="M563 1064h8v4h-8zM571 1068h4v4h-4zM559 1072h4v4h-4zM571 1072h4v4h-4zM559 1076h4v4h-4zM571 1076h4v4h-4zM563 1080h8v4h-8z"/><path fill="#181818" d="M571 1064h4v4h-4zM559 1068h4v4h-4zM559 1080h4v4h-4zM571 1080h4v4h-4zM563 1084h8v4h-8z"/><path fill="#1c1c1c" d="M563 1060h8v4h-8zM559 1064h4v4h-4zM575 1072h4v4h-4zM575 1076h4v4h-4zM571 1084h4v4h-4z"/><path fill="#202020" d="M559 1060h4v4h-4zM571 1060h4v4h-4zM555 1068h4v4h-4zM575 1068h4v4h-4zM555 1072h4v4h-4zM555 1076h4v4h-4zM555 1080h4v4h-4zM575 1080h4v4h-4zM559 1084h4v4h-4zM563 1088h8v4h-8z"/><path fill="#242424" d="M563 1056h8v4h-8zM555 1064h4v4h-4zM575 1064h4v4h-4zM559 1088h4v4h-4zM571 1088h4v4h-4z"/><path fill="#282828" d="M571 1056h4v4h-4zM555 1060h4v4h-4zM575 1060h4v4h-4zM579 1072h4v4h-4zM579 1076h4v4h-4zM555 1084h4v4h-4zM575 1084h4v4h-4z"/><path fill="#2d2d2d" d="M559 1056h4v4h-4zM579 1064h4v4h-4zM551 1068h4v4h-4zM579 1068h4v4h-4zM551 1072h4v4h-4zM551 1076h4v4h-4zM579 1080h4v4h-4zM555 1088h4v4h-4zM575 1088h4v4h-4zM559 1092h12v4h-12z"/><path fill="#313131" d="M555 1056h4v4h-4zM575 1056h4v4h-4zM551 1064h4v4h-4zM551 1080h4v4h-4zM579 1084h4v4h-4zM571 1092h4v4h-4z"/><path fill="#353535" d="M563 1052h8v4h-8zM551 1060h4v4h-4zM579 1060h4v4h-4zM551 1084h4v4h-4zM555 1092h4v4h-4zM563 1096h8v4h-8z"/><path fill="#393939" d="M559 1052h4v4h-4zM571 1052h4v4h-4zM583 1068h4v4h-4zM583 1072h4v4h-4zM583 1076h4v4h-4zM551 1088h4v4h-4zM579 1088h4v4h-4zM575 1092h4v4h-4zM559 1096h4v4h-4zM571 1096h4v4h-4z"/><path fill="#3d3d3d" d="M575 1052h4v4h-4zM551 1056h4v4h-4zM579 1056h4v4h-4zM583 1064h4v4h-4zM547 1068h4v4h-4zM547 1072h4v4h-4zM547 1076h4v4h-4zM583 1080h4v4h-4z"/><path fill="#414141" d="M511 1008h12v4h-12zM511 1012h12v4h-12zM511 1016h12v4h-12zM515 1020h4v4h-4zM555 1052h4v4h-4zM583 1060h4v4h-4zM547 1064h4v4h-4zM547 1080h4v4h-4zM547 1084h4v4h-4zM583 1084h4v4h-4zM551 1092h4v4h-4zM555 1096h4v4h-4zM575 1096h4v4h-4zM559 1100h12v4h-12zM563 1104h8v4h-8zM563 1108h8v4h-8zM563 1112h8v4h-8z"/><path fill="#454545" d="M515 1000h4v4h-4zM511 1004h12v4h-12zM507 1008h4v4h-4zM523 1008h4v4h-4zM507 1012h4v4h-4zM523 1012h4v4h-4zM503 1016h8v4h-8zM523 1016h4v4h-4zM507 1020h8v4h-8zM519 1020h4v4h-4zM579 1052h4v4h-4zM547 1060h4v4h-4zM587 1068h4v4h-4zM587 1072h4v4h-4zM587 1076h4v4h-4zM583 1088h4v4h-4zM579 1092h4v4h-4zM571 1100h4v4h-4zM559 1104h4v4h-4zM571 1104h4v4h-4zM559 1108h4v4h-4zM571 1108h4v4h-4zM559 1112h4v4h-4zM571 1112h4v4h-4z"/><path fill="#494949" d="M507 1000h8v4h-8zM519 1000h4v4h-4zM503 1004h8v4h-8zM523 1004h4v4h-4zM503 1008h4v4h-4zM499 1012h8v4h-8zM495 1016h8v4h-8zM499 1020h8v4h-8zM523 1020h4v4h-4zM507 1024h16v4h-16zM551 1052h4v4h-4zM547 1056h4v4h-4zM583 1056h4v4h-4zM587 1064h4v4h-4zM587 1080h4v4h-4zM547 1088h4v4h-4zM551 1096h4v4h-4zM555 1100h4v4h-4zM555 1104h4v4h-4zM555 1108h4v4h-4zM555 1112h4v4h-4z"/><path fill="#4d4d4d" d="M507 996h16v4h-16zM499 1000h8v4h-8zM523 1000h4v4h-4zM495 1004h8v4h-8zM491 1008h12v4h-12zM491 1012h8v4h-8zM491 1016h4v4h-4zM491 1020h8v4h-8zM499 1024h8v4h-8zM523 1024h4v4h-4zM563 1048h12v4h-12zM587 1060h4v4h-4zM587 1084h4v4h-4zM547 1092h4v4h-4zM583 1092h4v4h-4zM579 1096h4v4h-4zM575 1100h4v4h-4zM575 1104h4v4h-4zM575 1108h4v4h-4zM575 1112h4v4h-4z"/><path fill="#515151" d="M511 992h8v4h-8zM499 996h8v4h-8zM523 996h4v4h-4zM491 1000h8v4h-8zM487 1004h8v4h-8zM487 1008h4v4h-4zM527 1008h4v4h-4zM487 1012h4v4h-4zM527 1012h4v4h-4zM487 1016h4v4h-4zM527 1016h4v4h-4zM487 1020h4v4h-4zM495 1024h4v4h-4zM507 1028h16v4h-16zM559 1048h4v4h-4zM583 1052h4v4h-4zM543 1068h4v4h-4zM591 1068h4v4h-4zM543 1072h4v4h-4zM591 1072h4v4h-4zM543 1076h4v4h-4zM591 1076h4v4h-4zM587 1088h4v4h-4zM551 1100h4v4h-4zM551 1104h4v4h-4zM551 1108h4v4h-4zM551 1112h4v4h-4z"/><path fill="#555555" d="M499 992h12v4h-12zM519 992h4v4h-4zM491 996h8v4h-8zM487 1000h4v4h-4zM527 1000h4v4h-4zM475 1004h12v4h-12zM527 1004h4v4h-4zM475 1008h12v4h-12zM475 1012h12v4h-12zM475 1016h12v4h-12zM475 1020h12v4h-12zM527 1020h4v4h-4zM491 1024h4v4h-4zM503 1028h4v4h-4zM523 1028h4v4h-4zM555 1048h4v4h-4zM575 1048h4v4h-4zM547 1052h4v4h-4zM587 1056h4v4h-4zM543 1060h4v4h-4zM543 1064h4v4h-4zM591 1064h4v4h-4zM543 1080h4v4h-4zM591 1080h4v4h-4zM543 1084h4v4h-4zM547 1096h4v4h-4zM583 1096h4v4h-4zM579 1100h4v4h-4zM579 1104h4v4h-4zM579 1108h4v4h-4zM579 1112h4v4h-4z"/><path fill="#595959" d="M507 988h12v4h-12zM491 992h8v4h-8zM523 992h4v4h-4zM475 996h16v4h-16zM527 996h4v4h-4zM475 1000h12v4h-12zM475 1024h16v4h-16zM527 1024h4v4h-4zM495 1028h8v4h-8zM579 1048h4v4h-4zM591 1060h4v4h-4zM591 1084h4v4h-4zM543 1088h4v4h-4zM587 1092h4v4h-4zM547 1100h4v4h-4z"/><path fill="#5d5d5d" d="M567 896h8v4h-8zM567 900h12v4h-12zM567 904h12v4h-12zM567 908h12v4h-12zM567 912h12v4h-12zM491 988h16v4h-16zM519 988h8v4h-8zM475 992h16v4h-16zM491 1028h4v4h-4zM527 1028h4v4h-4zM511 1032h12v4h-12zM551 1048h4v4h-4zM587 1052h4v4h-4zM543 1056h4v4h-4zM543 1092h4v4h-4zM583 1100h4v4h-4zM547 1104h4v4h-4zM583 1104h4v4h-4zM547 1108h4v4h-4zM583 1108h4v4h-4zM547 1112h4v4h-4zM583 1112h4v4h-4z"/><path fill="#616161" d="M563 888h16v4h-16zM559 892h24v4h-24zM559 896h8v4h-8zM575 896h12v4h-12zM559 900h8v4h-8zM579 900h8v4h-8zM563 904h4v4h-4zM579 904h8v4h-8zM563 908h4v4h-4zM579 908h8v4h-8zM563 912h4v4h-4zM579 912h8v4h-8zM563 916h24v4h-24zM563 920h20v4h-20zM567 924h16v4h-16zM475 988h16v4h-16zM527 992h4v4h-4zM475 1028h16v4h-16zM503 1032h8v4h-8zM523 1032h4v4h-4zM583 1048h4v4h-4zM543 1052h4v4h-4zM591 1056h4v4h-4zM595 1068h4v4h-4zM595 1072h4v4h-4zM595 1076h4v4h-4zM591 1088h4v4h-4zM587 1096h4v4h-4z"/><path fill="#656565" d="M563 876h24v4h-24zM563 880h24v4h-24zM563 884h24v4h-24zM559 888h4v4h-4zM579 888h8v4h-8zM583 892h8v4h-8zM555 896h4v4h-4zM587 896h4v4h-4zM587 900h4v4h-4zM559 904h4v4h-4zM587 904h4v4h-4zM559 908h4v4h-4zM587 908h4v4h-4zM559 912h4v4h-4zM587 912h4v4h-4zM559 916h4v4h-4zM587 916h4v4h-4zM559 920h4v4h-4zM583 920h8v4h-8zM559 924h8v4h-8zM583 924h4v4h-4zM563 928h24v4h-24zM563 932h20v4h-20zM567 936h8v4h-8zM567 940h4v4h-4zM487 984h40v4h-40zM527 988h4v4h-4zM495 1032h8v4h-8zM547 1048h4v4h-4zM591 1052h4v4h-4zM595 1060h4v4h-4zM595 1064h4v4h-4zM595 1080h4v4h-4zM591 1092h4v4h-4zM543 1096h4v4h-4zM587 1100h4v4h-4z"/><path fill="#696969" d="M559 876h4v4h-4zM587 876h4v4h-4zM559 880h4v4h-4zM587 880h4v4h-4zM559 884h4v4h-4zM587 884h4v4h-4zM555 888h4v4h-4zM587 888h4v4h-4zM555 892h4v4h-4zM591 892h4v4h-4zM591 896h4v4h-4zM555 900h4v4h-4zM591 900h4v4h-4zM555 904h4v4h-4zM591 904h4v4h-4zM555 908h4v4h-4zM591 908h4v4h-4zM555 912h4v4h-4zM591 912h4v4h-4zM555 916h4v4h-4zM591 916h4v4h-4zM555 920h4v4h-4zM591 920h4v4h-4zM555 924h4v4h-4zM587 924h8v4h-8zM559 928h4v4h-4zM587 928h4v4h-4zM559 932h4v4h-4zM583 932h8v4h-8zM559 936h8v4h-8zM575 936h12v4h-12zM559 940h8v4h-8zM571 940h8v4h-8zM563 944h12v4h-12zM563 948h8v4h-8zM475 984h12v4h-12zM531 1008h4v4h-4zM531 1012h4v4h-4zM475 1032h20v4h-20zM527 1032h4v4h-4zM587 1048h4v4h-4zM595 1056h4v4h-4zM595 1084h4v4h-4zM591 1096h4v4h-4zM543 1100h4v4h-4zM543 1104h4v4h-4zM587 1104h4v4h-4zM543 1108h4v4h-4zM587 1108h4v4h-4zM543 1112h4v4h-4zM587 1112h4v4h-4z"/><path fill="#6d6d6d" d="M555 876h4v4h-4zM591 876h4v4h-4zM555 880h4v4h-4zM591 880h4v4h-4zM555 884h4v4h-4zM591 884h4v4h-4zM551 888h4v4h-4zM591 888h8v4h-8zM551 892h4v4h-4zM595 892h4v4h-4zM551 896h4v4h-4zM595 896h4v4h-4zM551 900h4v4h-4zM595 900h4v4h-4zM551 904h4v4h-4zM595 904h4v4h-4zM551 908h4v4h-4zM595 908h8v4h-8zM551 912h4v4h-4zM595 912h8v4h-8zM551 916h4v4h-4zM595 916h4v4h-4zM551 920h4v4h-4zM595 920h4v4h-4zM551 924h4v4h-4zM595 924h4v4h-4zM555 928h4v4h-4zM591 928h8v4h-8zM555 932h4v4h-4zM591 932h4v4h-4zM555 936h4v4h-4zM587 936h4v4h-4zM579 940h12v4h-12zM559 944h4v4h-4zM575 944h8v4h-8zM559 948h4v4h-4zM571 948h8v4h-8zM487 980h40v4h-40zM527 984h4v4h-4zM531 1000h4v4h-4zM531 1004h4v4h-4zM643 1004h32v4h-32zM639 1008h36v4h-36zM639 1012h36v4h-36zM531 1016h4v4h-4zM639 1016h36v4h-36zM531 1020h4v4h-4zM643 1020h32v4h-32zM647 1024h24v4h-24zM507 1036h20v4h-20zM543 1048h4v4h-4zM595 1052h4v4h-4zM539 1068h4v4h-4zM599 1068h4v4h-4zM539 1072h4v4h-4zM599 1072h4v4h-4zM539 1076h4v4h-4zM599 1076h4v4h-4zM595 1088h4v4h-4zM591 1100h4v4h-4z"/><path fill="#717171" d="M551 876h4v4h-4zM595 876h8v4h-8zM551 880h4v4h-4zM595 880h8v4h-8zM551 884h4v4h-4zM595 884h8v4h-8zM599 888h4v4h-4zM599 892h4v4h-4zM547 896h4v4h-4zM599 896h4v4h-4zM547 900h4v4h-4zM599 900h4v4h-4zM547 904h4v4h-4zM599 904h8v4h-8zM547 908h4v4h-4zM603 908h4v4h-4zM547 912h4v4h-4zM603 912h4v4h-4zM547 916h4v4h-4zM599 916h4v4h-4zM547 920h4v4h-4zM599 920h4v4h-4zM547 924h4v4h-4zM599 924h4v4h-4zM551 928h4v4h-4zM599 928h4v4h-4zM551 932h4v4h-4zM595 932h4v4h-4zM551 936h4v4h-4zM591 936h8v4h-8zM555 940h4v4h-4zM591 940h4v4h-4zM555 944h4v4h-4zM583 944h8v4h-8zM555 948h4v4h-4zM579 948h8v4h-8zM559 952h16v4h-16zM475 980h12v4h-12zM527 980h4v4h-4zM531 992h4v4h-4zM531 996h4v4h-4zM643 996h32v4h-32zM639 1000h40v4h-40zM635 1004h8v4h-8zM675 1004h16v4h-16zM635 1008h4v4h-4zM675 1008h16v4h-16zM635 1012h4v4h-4zM675 1012h16v4h-16zM635 1016h4v4h-4zM675 1016h16v4h-16zM635 1020h8v4h-8zM675 1020h16v4h-16zM531 1024h4v4h-4zM639 1024h8v4h-8zM671 1024h8v4h-8zM643 1028h32v4h-32zM651 1032h16v4h-16zM495 1036h12v4h-12zM563 1044h16v4h-16zM591 1048h4v4h-4zM539 1060h4v4h-4zM599 1060h4v4h-4zM539 1064h4v4h-4zM599 1064h4v4h-4zM539 1080h4v4h-4zM599 1080h4v4h-4zM539 1084h4v4h-4zM599 1084h4v4h-4zM595 1092h4v4h-4zM591 1104h4v4h-4zM591 1108h4v4h-4zM591 1112h4v4h-4z"/><path fill="#757575" d="M547 876h4v4h-4zM603 876h4v4h-4zM547 880h4v4h-4zM603 880h4v4h-4zM547 884h4v4h-4zM603 884h4v4h-4zM547 888h4v4h-4zM603 888h4v4h-4zM547 892h4v4h-4zM603 892h4v4h-4zM603 896h4v4h-4zM603 900h4v4h-4zM607 904h4v4h-4zM607 908h4v4h-4zM607 912h4v4h-4zM603 916h4v4h-4zM603 920h4v4h-4zM603 924h4v4h-4zM547 928h4v4h-4zM603 928h4v4h-4zM547 932h4v4h-4zM599 932h8v4h-8zM547 936h4v4h-4zM599 936h4v4h-4zM551 940h4v4h-4zM595 940h8v4h-8zM551 944h4v4h-4zM591 944h8v4h-8zM587 948h8v4h-8zM555 952h4v4h-4zM575 952h12v4h-12zM563 956h8v4h-8zM487 976h36v4h-36zM531 988h4v4h-4zM639 992h36v4h-36zM635 996h8v4h-8zM675 996h16v4h-16zM631 1000h8v4h-8zM679 1000h12v4h-12zM631 1004h4v4h-4zM631 1008h4v4h-4zM627 1012h8v4h-8zM631 1016h4v4h-4zM631 1020h4v4h-4zM631 1024h8v4h-8zM679 1024h12v4h-12zM531 1028h4v4h-4zM635 1028h8v4h-8zM675 1028h16v4h-16zM639 1032h12v4h-12zM667 1032h8v4h-8zM475 1036h20v4h-20zM527 1036h4v4h-4zM647 1036h20v4h-20zM555 1044h8v4h-8zM579 1044h8v4h-8zM595 1048h4v4h-4zM539 1056h4v4h-4zM599 1056h4v4h-4zM539 1088h4v4h-4zM599 1088h4v4h-4zM539 1092h4v4h-4zM595 1096h4v4h-4z"/><path fill="#797979" d="M543 876h4v4h-4zM607 876h4v4h-4zM543 880h4v4h-4zM607 880h4v4h-4zM543 884h4v4h-4zM607 884h4v4h-4zM543 888h4v4h-4zM607 888h4v4h-4zM543 892h4v4h-4zM607 892h4v4h-4zM543 896h4v4h-4zM607 896h8v4h-8zM543 900h4v4h-4zM607 900h8v4h-8zM543 904h4v4h-4zM611 904h4v4h-4zM543 908h4v4h-4zM611 908h4v4h-4zM543 912h4v4h-4zM611 912h4v4h-4zM543 916h4v4h-4zM607 916h8v4h-8zM543 920h4v4h-4zM607 920h4v4h-4zM543 924h4v4h-4zM607 924h4v4h-4zM543 928h4v4h-4zM607 928h4v4h-4zM543 932h4v4h-4zM607 932h4v4h-4zM543 936h4v4h-4zM603 936h8v4h-8zM547 940h4v4h-4zM603 940h4v4h-4zM547 944h4v4h-4zM599 944h8v4h-8zM551 948h4v4h-4zM595 948h8v4h-8zM551 952h4v4h-4zM587 952h8v4h-8zM555 956h8v4h-8zM571 956h12v4h-12zM475 976h12v4h-12zM523 976h8v4h-8zM531 984h4v4h-4zM635 988h40v4h-40zM631 992h8v4h-8zM675 992h16v4h-16zM627 996h8v4h-8zM627 1000h4v4h-4zM623 1004h8v4h-8zM623 1008h8v4h-8zM623 1012h4v4h-4zM623 1016h8v4h-8zM623 1020h8v4h-8zM627 1024h4v4h-4zM627 1028h8v4h-8zM531 1032h4v4h-4zM631 1032h8v4h-8zM675 1032h16v4h-16zM635 1036h12v4h-12zM667 1036h24v4h-24zM643 1040h28v4h-28zM551 1044h4v4h-4zM587 1044h4v4h-4zM539 1052h4v4h-4zM599 1052h4v4h-4zM603 1060h4v4h-4zM603 1064h4v4h-4zM603 1068h4v4h-4zM603 1072h4v4h-4zM603 1076h4v4h-4zM603 1080h4v4h-4zM599 1092h4v4h-4zM539 1096h4v4h-4zM595 1100h4v4h-4zM595 1104h4v4h-4zM595 1108h4v4h-4zM595 1112h4v4h-4z"/><path fill="#7d7d7d" d="M539 876h4v4h-4zM611 876h4v4h-4zM539 880h4v4h-4zM611 880h4v4h-4zM539 884h4v4h-4zM611 884h4v4h-4zM539 888h4v4h-4zM611 888h4v4h-4zM539 892h4v4h-4zM611 892h8v4h-8zM539 896h4v4h-4zM615 896h4v4h-4zM539 900h4v4h-4zM615 900h4v4h-4zM539 904h4v4h-4zM615 904h4v4h-4zM539 908h4v4h-4zM615 908h4v4h-4zM539 912h4v4h-4zM615 912h4v4h-4zM539 916h4v4h-4zM615 916h4v4h-4zM539 920h4v4h-4zM611 920h8v4h-8zM539 924h4v4h-4zM611 924h4v4h-4zM539 928h4v4h-4zM611 928h4v4h-4zM539 932h4v4h-4zM611 932h4v4h-4zM539 936h4v4h-4zM611 936h4v4h-4zM543 940h4v4h-4zM607 940h8v4h-8zM543 944h4v4h-4zM607 944h4v4h-4zM547 948h4v4h-4zM603 948h8v4h-8zM595 952h12v4h-12zM551 956h4v4h-4zM583 956h16v4h-16zM563 960h4v4h-4zM487 972h40v4h-40zM531 980h4v4h-4zM635 980h8v4h-8zM631 984h36v4h-36zM679 984h12v4h-12zM627 988h8v4h-8zM675 988h16v4h-16zM623 992h8v4h-8zM623 996h4v4h-4zM619 1000h8v4h-8zM619 1004h4v4h-4zM619 1008h4v4h-4zM619 1012h4v4h-4zM619 1016h4v4h-4zM619 1020h4v4h-4zM619 1024h8v4h-8zM623 1028h4v4h-4zM623 1032h8v4h-8zM627 1036h8v4h-8zM631 1040h12v4h-12zM671 1040h20v4h-20zM591 1044h4v4h-4zM643 1044h28v4h-28zM539 1048h4v4h-4zM599 1048h4v4h-4zM603 1052h4v4h-4zM603 1056h4v4h-4zM607 1068h4v4h-4zM607 1072h4v4h-4zM607 1076h4v4h-4zM603 1084h4v4h-4zM603 1088h4v4h-4zM599 1096h4v4h-4zM539 1100h4v4h-4zM539 1104h4v4h-4zM539 1108h4v4h-4zM539 1112h4v4h-4z"/><path fill="#828282" d="M535 876h4v4h-4zM615 876h8v4h-8zM535 880h4v4h-4zM615 880h8v4h-8zM535 884h4v4h-4zM615 884h8v4h-8zM535 888h4v4h-4zM615 888h8v4h-8zM535 892h4v4h-4zM619 892h4v4h-4zM535 896h4v4h-4zM619 896h4v4h-4zM535 900h4v4h-4zM619 900h4v4h-4zM619 904h4v4h-4zM535 908h4v4h-4zM619 908h4v4h-4zM535 912h4v4h-4zM619 912h4v4h-4zM535 916h4v4h-4zM619 916h4v4h-4zM535 920h4v4h-4zM619 920h4v4h-4zM535 924h4v4h-4zM615 924h8v4h-8zM535 928h4v4h-4zM615 928h8v4h-8zM535 932h4v4h-4zM615 932h4v4h-4zM535 936h4v4h-4zM615 936h4v4h-4zM535 940h8v4h-8zM615 940h4v4h-4zM539 944h4v4h-4zM611 944h8v4h-8zM539 948h8v4h-8zM611 948h8v4h-8zM547 952h4v4h-4zM607 952h8v4h-8zM547 956h4v4h-4zM599 956h12v4h-12zM551 960h12v4h-12zM567 960h36v4h-36zM475 972h12v4h-12zM527 972h4v4h-4zM635 972h8v4h-8zM531 976h4v4h-4zM627 976h32v4h-32zM623 980h12v4h-12zM643 980h20v4h-20zM675 980h16v4h-16zM623 984h8v4h-8zM667 984h12v4h-12zM619 988h8v4h-8zM619 992h4v4h-4zM615 996h8v4h-8zM615 1000h4v4h-4zM615 1004h4v4h-4zM615 1008h4v4h-4zM615 1012h4v4h-4zM615 1016h4v4h-4zM615 1020h4v4h-4zM615 1024h4v4h-4zM615 1028h8v4h-8zM619 1032h4v4h-4zM531 1036h4v4h-4zM619 1036h8v4h-8zM499 1040h28v4h-28zM623 1040h8v4h-8zM547 1044h4v4h-4zM595 1044h4v4h-4zM627 1044h16v4h-16zM671 1044h20v4h-20zM603 1048h4v4h-4zM643 1048h28v4h-28zM607 1052h4v4h-4zM607 1056h4v4h-4zM607 1060h4v4h-4zM607 1064h4v4h-4zM607 1080h4v4h-4zM607 1084h4v4h-4zM603 1092h4v4h-4zM599 1100h4v4h-4zM599 1104h4v4h-4zM599 1108h4v4h-4zM599 1112h4v4h-4z"/><path fill="#868686" d="M531 876h4v4h-4zM623 876h8v4h-8zM531 880h4v4h-4zM623 880h8v4h-8zM531 884h4v4h-4zM623 884h8v4h-8zM623 888h12v4h-12zM623 892h12v4h-12zM623 896h8v4h-8zM623 900h8v4h-8zM535 904h4v4h-4zM623 904h4v4h-4zM623 908h4v4h-4zM623 912h4v4h-4zM623 916h4v4h-4zM531 920h4v4h-4zM623 920h4v4h-4zM531 924h4v4h-4zM623 924h4v4h-4zM531 928h4v4h-4zM623 928h4v4h-4zM531 932h4v4h-4zM619 932h4v4h-4zM531 936h4v4h-4zM619 936h4v4h-4zM531 940h4v4h-4zM619 940h4v4h-4zM531 944h8v4h-8zM619 944h4v4h-4zM531 948h8v4h-8zM619 948h12v4h-12zM535 952h12v4h-12zM615 952h20v4h-20zM535 956h12v4h-12zM611 956h28v4h-28zM539 960h12v4h-12zM603 960h40v4h-40zM527 964h4v4h-4zM551 964h16v4h-16zM591 964h60v4h-60zM475 968h60v4h-60zM607 968h48v4h-48zM679 968h12v4h-12zM531 972h4v4h-4zM615 972h20v4h-20zM643 972h20v4h-20zM675 972h16v4h-16zM615 976h12v4h-12zM659 976h8v4h-8zM671 976h20v4h-20zM615 980h8v4h-8zM663 980h12v4h-12zM615 984h8v4h-8zM611 988h8v4h-8zM611 992h8v4h-8zM611 996h4v4h-4zM611 1000h4v4h-4zM607 1004h8v4h-8zM607 1008h8v4h-8zM607 1012h8v4h-8zM607 1016h8v4h-8zM607 1020h8v4h-8zM607 1024h8v4h-8zM607 1028h8v4h-8zM607 1032h12v4h-12zM611 1036h8v4h-8zM475 1040h24v4h-24zM527 1040h4v4h-4zM611 1040h12v4h-12zM543 1044h4v4h-4zM599 1044h28v4h-28zM607 1048h36v4h-36zM671 1048h20v4h-20zM611 1052h80v4h-80zM611 1056h12v4h-12zM611 1060h8v4h-8zM611 1064h8v4h-8zM611 1068h8v4h-8zM611 1072h8v4h-8zM611 1076h4v4h-4zM611 1080h4v4h-4zM611 1084h4v4h-4zM607 1088h4v4h-4zM607 1092h4v4h-4zM603 1096h4v4h-4zM603 1100h4v4h-4zM603 1104h4v4h-4zM603 1108h4v4h-4zM603 1112h4v4h-4z"/><path fill="#8a8a8a" d="M527 876h4v4h-4zM631 876h16v4h-16zM527 880h4v4h-4zM631 880h16v4h-16zM527 884h4v4h-4zM631 884h16v4h-16zM531 888h4v4h-4zM635 888h12v4h-12zM531 892h4v4h-4zM635 892h12v4h-12zM531 896h4v4h-4zM631 896h16v4h-16zM531 900h4v4h-4zM631 900h16v4h-16zM531 904h4v4h-4zM627 904h16v4h-16zM531 908h4v4h-4zM627 908h12v4h-12zM531 912h4v4h-4zM627 912h8v4h-8zM531 916h4v4h-4zM627 916h8v4h-8zM627 920h8v4h-8zM527 924h4v4h-4zM627 924h8v4h-8zM527 928h4v4h-4zM627 928h8v4h-8zM527 932h4v4h-4zM623 932h8v4h-8zM527 936h4v4h-4zM623 936h4v4h-4zM671 936h20v4h-20zM527 940h4v4h-4zM623 940h4v4h-4zM667 940h24v4h-24zM527 944h4v4h-4zM623 944h12v4h-12zM647 944h4v4h-4zM667 944h24v4h-24zM527 948h4v4h-4zM631 948h60v4h-60zM527 952h8v4h-8zM635 952h56v4h-56zM475 956h16v4h-16zM523 956h12v4h-12zM639 956h52v4h-52zM475 960h20v4h-20zM519 960h20v4h-20zM643 960h48v4h-48zM475 964h52v4h-52zM531 964h20v4h-20zM567 964h24v4h-24zM651 964h40v4h-40zM535 968h12v4h-12zM595 968h12v4h-12zM655 968h24v4h-24zM535 972h4v4h-4zM603 972h12v4h-12zM663 972h12v4h-12zM535 976h4v4h-4zM607 976h8v4h-8zM667 976h4v4h-4zM535 980h4v4h-4zM607 980h8v4h-8zM535 984h4v4h-4zM607 984h8v4h-8zM535 988h4v4h-4zM607 988h4v4h-4zM535 992h4v4h-4zM607 992h4v4h-4zM535 996h4v4h-4zM607 996h4v4h-4zM535 1000h4v4h-4zM607 1000h4v4h-4zM603 1004h4v4h-4zM603 1008h4v4h-4zM603 1012h4v4h-4zM603 1016h4v4h-4zM603 1020h4v4h-4zM599 1024h8v4h-8zM599 1028h8v4h-8zM599 1032h8v4h-8zM599 1036h12v4h-12zM531 1040h4v4h-4zM575 1040h36v4h-36zM539 1044h4v4h-4zM623 1056h68v4h-68zM619 1060h12v4h-12zM619 1064h8v4h-8zM619 1068h8v4h-8zM619 1072h4v4h-4zM615 1076h8v4h-8zM615 1080h8v4h-8zM615 1084h8v4h-8zM611 1088h8v4h-8zM611 1092h8v4h-8zM607 1096h8v4h-8zM607 1100h4v4h-4zM607 1104h4v4h-4zM607 1108h4v4h-4zM607 1112h4v4h-4z"/><path fill="#8e8e8e" d="M523 876h4v4h-4zM647 876h44v4h-44zM523 880h4v4h-4zM647 880h44v4h-44zM523 884h4v4h-4zM647 884h44v4h-44zM523 888h8v4h-8zM647 888h44v4h-44zM527 892h4v4h-4zM647 892h44v4h-44zM527 896h4v4h-4zM647 896h44v4h-44zM527 900h4v4h-4zM647 900h44v4h-44zM527 904h4v4h-4zM643 904h12v4h-12zM659 904h32v4h-32zM527 908h4v4h-4zM639 908h52v4h-52zM527 912h4v4h-4zM635 912h56v4h-56zM527 916h4v4h-4zM635 916h56v4h-56zM527 920h4v4h-4zM635 920h56v4h-56zM635 924h56v4h-56zM523 928h4v4h-4zM635 928h56v4h-56zM523 932h4v4h-4zM631 932h60v4h-60zM523 936h4v4h-4zM627 936h44v4h-44zM523 940h4v4h-4zM627 940h40v4h-40zM519 944h8v4h-8zM635 944h12v4h-12zM651 944h16v4h-16zM475 948h20v4h-20zM519 948h8v4h-8zM475 952h24v4h-24zM515 952h12v4h-12zM491 956h32v4h-32zM495 960h24v4h-24zM547 968h16v4h-16zM587 968h8v4h-8zM539 972h8v4h-8zM595 972h8v4h-8zM539 976h4v4h-4zM599 976h8v4h-8zM603 980h4v4h-4zM603 984h4v4h-4zM603 988h4v4h-4zM603 992h4v4h-4zM603 996h4v4h-4zM603 1000h4v4h-4zM535 1004h4v4h-4zM535 1008h4v4h-4zM599 1008h4v4h-4zM535 1012h4v4h-4zM599 1012h4v4h-4zM599 1016h4v4h-4zM599 1020h4v4h-4zM595 1024h4v4h-4zM595 1028h4v4h-4zM591 1032h8v4h-8zM587 1036h12v4h-12zM571 1040h4v4h-4zM535 1056h4v4h-4zM535 1060h4v4h-4zM631 1060h60v4h-60zM535 1064h4v4h-4zM627 1064h64v4h-64zM535 1068h4v4h-4zM627 1068h12v4h-12zM651 1068h16v4h-16zM623 1072h16v4h-16zM651 1072h16v4h-16zM623 1076h12v4h-12zM651 1076h12v4h-12zM623 1080h12v4h-12zM655 1080h8v4h-8zM623 1084h12v4h-12zM655 1084h8v4h-8zM619 1088h16v4h-16zM655 1088h8v4h-8zM619 1092h16v4h-16zM655 1092h12v4h-12zM615 1096h20v4h-20zM655 1096h16v4h-16zM611 1100h28v4h-28zM655 1100h20v4h-20zM611 1104h28v4h-28zM655 1104h20v4h-20zM611 1108h28v4h-28zM655 1108h20v4h-20zM611 1112h28v4h-28zM655 1112h20v4h-20z"/><path fill="#929292" d="M475 876h16v4h-16zM519 876h4v4h-4zM475 880h16v4h-16zM519 880h4v4h-4zM475 884h16v4h-16zM519 884h4v4h-4zM475 888h16v4h-16zM519 888h4v4h-4zM475 892h12v4h-12zM519 892h8v4h-8zM475 896h12v4h-12zM519 896h8v4h-8zM523 900h4v4h-4zM523 904h4v4h-4zM655 904h4v4h-4zM523 908h4v4h-4zM523 912h4v4h-4zM523 916h4v4h-4zM523 920h4v4h-4zM519 924h8v4h-8zM475 928h12v4h-12zM519 928h4v4h-4zM475 932h12v4h-12zM519 932h4v4h-4zM475 936h16v4h-16zM515 936h8v4h-8zM475 940h24v4h-24zM511 940h12v4h-12zM475 944h44v4h-44zM495 948h24v4h-24zM499 952h16v4h-16zM563 968h24v4h-24zM547 972h8v4h-8zM591 972h4v4h-4zM595 976h4v4h-4zM539 980h4v4h-4zM599 980h4v4h-4zM599 984h4v4h-4zM599 988h4v4h-4zM599 992h4v4h-4zM599 996h4v4h-4zM599 1000h4v4h-4zM599 1004h4v4h-4zM535 1016h4v4h-4zM595 1016h4v4h-4zM535 1020h4v4h-4zM595 1020h4v4h-4zM535 1024h4v4h-4zM591 1024h4v4h-4zM535 1028h4v4h-4zM591 1028h4v4h-4zM587 1032h4v4h-4zM583 1036h4v4h-4zM535 1040h4v4h-4zM567 1040h4v4h-4zM535 1044h4v4h-4zM535 1048h4v4h-4zM535 1052h4v4h-4zM639 1068h12v4h-12zM667 1068h24v4h-24zM535 1072h4v4h-4zM639 1072h12v4h-12zM667 1072h24v4h-24zM535 1076h4v4h-4zM635 1076h16v4h-16zM663 1076h28v4h-28zM535 1080h4v4h-4zM635 1080h20v4h-20zM663 1080h28v4h-28zM535 1084h4v4h-4zM635 1084h20v4h-20zM663 1084h28v4h-28zM535 1088h4v4h-4zM635 1088h20v4h-20zM663 1088h28v4h-28zM535 1092h4v4h-4zM635 1092h20v4h-20zM667 1092h24v4h-24zM535 1096h4v4h-4zM635 1096h20v4h-20zM671 1096h20v4h-20zM535 1100h4v4h-4zM639 1100h16v4h-16zM675 1100h16v4h-16zM535 1104h4v4h-4zM639 1104h16v4h-16zM675 1104h16v4h-16zM535 1108h4v4h-4zM639 1108h16v4h-16zM675 1108h16v4h-16zM535 1112h4v4h-4zM639 1112h16v4h-16zM675 1112h16v4h-16z"/><path fill="#969696" d="M491 876h28v4h-28zM491 880h28v4h-28zM491 884h28v4h-28zM491 888h8v4h-8zM507 888h12v4h-12zM487 892h12v4h-12zM511 892h8v4h-8zM487 896h8v4h-8zM511 896h8v4h-8zM475 900h20v4h-20zM515 900h8v4h-8zM475 904h20v4h-20zM515 904h8v4h-8zM475 908h16v4h-16zM515 908h8v4h-8zM475 912h16v4h-16zM519 912h4v4h-4zM475 916h20v4h-20zM519 916h4v4h-4zM475 920h20v4h-20zM515 920h8v4h-8zM475 924h20v4h-20zM515 924h4v4h-4zM487 928h12v4h-12zM511 928h8v4h-8zM487 932h32v4h-32zM491 936h24v4h-24zM499 940h12v4h-12zM555 972h4v4h-4zM587 972h4v4h-4zM543 976h4v4h-4zM595 980h4v4h-4zM539 984h4v4h-4zM595 1004h4v4h-4zM595 1008h4v4h-4zM595 1012h4v4h-4zM591 1020h4v4h-4zM587 1028h4v4h-4zM535 1032h4v4h-4zM535 1036h4v4h-4zM579 1036h4v4h-4zM563 1040h4v4h-4zM531 1044h4v4h-4z"/><path fill="#9a9a9a" d="M499 888h8v4h-8zM499 892h12v4h-12zM495 896h16v4h-16zM495 900h20v4h-20zM495 904h20v4h-20zM491 908h24v4h-24zM491 912h28v4h-28zM495 916h24v4h-24zM495 920h20v4h-20zM495 924h20v4h-20zM499 928h12v4h-12zM559 972h8v4h-8zM583 972h4v4h-4zM547 976h8v4h-8zM591 976h4v4h-4zM543 980h4v4h-4zM595 984h4v4h-4zM539 988h4v4h-4zM595 988h4v4h-4zM595 992h4v4h-4zM595 996h4v4h-4zM595 1000h4v4h-4zM591 1016h4v4h-4zM587 1024h4v4h-4zM583 1032h4v4h-4zM559 1040h4v4h-4zM495 1044h36v4h-36z"/><path fill="#9e9e9e" d="M567 972h16v4h-16zM555 976h4v4h-4zM587 976h4v4h-4zM591 980h4v4h-4zM539 992h4v4h-4zM591 1008h4v4h-4zM591 1012h4v4h-4zM587 1020h4v4h-4zM583 1028h4v4h-4zM579 1032h4v4h-4zM575 1036h4v4h-4zM555 1040h4v4h-4zM475 1044h20v4h-20z"/><path fill="#a2a2a2" d="M559 976h4v4h-4zM583 976h4v4h-4zM547 980h4v4h-4zM543 984h4v4h-4zM591 984h4v4h-4zM591 988h4v4h-4zM539 996h4v4h-4zM591 1000h4v4h-4zM591 1004h4v4h-4zM587 1016h4v4h-4zM571 1036h4v4h-4zM539 1040h4v4h-4zM551 1040h4v4h-4zM531 1048h4v4h-4z"/><path fill="#a6a6a6" d="M579 976h4v4h-4zM551 980h4v4h-4zM587 980h4v4h-4zM591 992h4v4h-4zM591 996h4v4h-4zM539 1000h4v4h-4zM583 1024h4v4h-4zM543 1040h8v4h-8zM531 1052h4v4h-4z"/><path fill="#aaaaaa" d="M563 976h8v4h-8zM575 976h4v4h-4zM555 980h4v4h-4zM547 984h4v4h-4zM587 984h4v4h-4zM543 988h4v4h-4zM587 1012h4v4h-4zM583 1020h4v4h-4zM579 1028h4v4h-4zM575 1032h4v4h-4zM531 1056h4v4h-4zM531 1060h4v4h-4zM531 1064h4v4h-4zM531 1100h4v4h-4zM531 1104h4v4h-4zM531 1108h4v4h-4zM531 1112h4v4h-4z"/><path fill="#aeaeae" d="M571 976h4v4h-4zM583 980h4v4h-4zM587 988h4v4h-4zM539 1004h4v4h-4zM587 1008h4v4h-4zM567 1036h4v4h-4zM527 1048h4v4h-4zM531 1068h4v4h-4zM531 1072h4v4h-4zM531 1076h4v4h-4zM531 1080h4v4h-4zM531 1084h4v4h-4zM531 1088h4v4h-4zM531 1092h4v4h-4zM531 1096h4v4h-4z"/><path fill="#b2b2b2" d="M559 980h4v4h-4zM579 980h4v4h-4zM551 984h4v4h-4zM543 992h4v4h-4zM587 992h4v4h-4zM587 996h4v4h-4zM587 1000h4v4h-4zM587 1004h4v4h-4zM539 1008h4v4h-4zM583 1016h4v4h-4zM579 1024h4v4h-4zM475 1048h52v4h-52z"/><path fill="#b6b6b6" d="M563 980h4v4h-4zM583 984h4v4h-4zM547 988h4v4h-4zM539 1012h4v4h-4zM575 1028h4v4h-4zM571 1032h4v4h-4zM539 1036h4v4h-4zM563 1036h4v4h-4zM527 1052h4v4h-4z"/><path fill="#bababa" d="M567 980h4v4h-4zM575 980h4v4h-4zM555 984h4v4h-4zM583 988h4v4h-4zM543 996h4v4h-4zM583 1012h4v4h-4zM539 1016h4v4h-4zM539 1020h4v4h-4zM579 1020h4v4h-4zM539 1024h4v4h-4zM527 1056h4v4h-4z"/><path fill="#bebebe" d="M571 980h4v4h-4zM579 984h4v4h-4zM583 992h4v4h-4zM583 1008h4v4h-4zM539 1028h4v4h-4zM539 1032h4v4h-4zM559 1036h4v4h-4zM475 1052h52v4h-52zM527 1060h4v4h-4zM527 1064h4v4h-4zM487 1088h4v4h-4zM527 1088h4v4h-4zM475 1092h20v4h-20zM527 1092h4v4h-4zM475 1096h20v4h-20zM527 1096h4v4h-4zM475 1100h20v4h-20zM527 1100h4v4h-4zM487 1104h4v4h-4zM527 1104h4v4h-4zM487 1108h4v4h-4zM527 1108h4v4h-4zM487 1112h4v4h-4zM527 1112h4v4h-4z"/><path fill="#c2c2c2" d="M559 984h4v4h-4zM551 988h4v4h-4zM547 992h4v4h-4zM583 996h4v4h-4zM583 1000h4v4h-4zM583 1004h4v4h-4zM575 1024h4v4h-4zM567 1032h4v4h-4zM555 1036h4v4h-4zM475 1056h32v4h-32zM519 1056h8v4h-8zM475 1060h28v4h-28zM475 1064h20v4h-20zM475 1068h12v4h-12zM527 1068h4v4h-4zM475 1072h16v4h-16zM527 1072h4v4h-4zM475 1076h16v4h-16zM527 1076h4v4h-4zM475 1080h20v4h-20zM527 1080h4v4h-4zM475 1084h20v4h-20zM527 1084h4v4h-4zM475 1088h12v4h-12zM491 1088h8v4h-8zM495 1092h4v4h-4zM495 1096h8v4h-8zM523 1096h4v4h-4zM495 1100h8v4h-8zM523 1100h4v4h-4zM475 1104h12v4h-12zM491 1104h12v4h-12zM523 1104h4v4h-4zM475 1108h12v4h-12zM491 1108h12v4h-12zM523 1108h4v4h-4zM475 1112h12v4h-12zM491 1112h12v4h-12zM523 1112h4v4h-4z"/><path fill="#c6c6c6" d="M575 984h4v4h-4zM579 988h4v4h-4zM543 1000h4v4h-4zM579 1016h4v4h-4zM571 1028h4v4h-4zM507 1056h12v4h-12zM503 1060h8v4h-8zM519 1060h8v4h-8zM495 1064h12v4h-12zM523 1064h4v4h-4zM487 1068h16v4h-16zM491 1072h12v4h-12zM491 1076h12v4h-12zM495 1080h8v4h-8zM495 1084h12v4h-12zM523 1084h4v4h-4zM499 1088h12v4h-12zM519 1088h8v4h-8zM499 1092h28v4h-28zM503 1096h20v4h-20zM503 1100h20v4h-20zM503 1104h20v4h-20zM503 1108h20v4h-20zM503 1112h20v4h-20z"/><path fill="#cacaca" d="M563 984h4v4h-4zM555 988h4v4h-4zM551 1036h4v4h-4zM511 1060h8v4h-8zM507 1064h4v4h-4zM519 1064h4v4h-4zM503 1068h4v4h-4zM523 1068h4v4h-4zM503 1072h4v4h-4zM503 1076h4v4h-4zM523 1076h4v4h-4zM503 1080h8v4h-8zM523 1080h4v4h-4zM507 1084h16v4h-16zM511 1088h8v4h-8z"/><path fill="#cecece" d="M567 984h8v4h-8zM579 992h4v4h-4zM547 996h4v4h-4zM543 1004h4v4h-4zM579 1012h4v4h-4zM575 1020h4v4h-4zM563 1032h4v4h-4zM511 1064h8v4h-8zM507 1068h8v4h-8zM519 1068h4v4h-4zM507 1072h4v4h-4zM523 1072h4v4h-4zM507 1076h4v4h-4zM519 1076h4v4h-4zM511 1080h12v4h-12z"/><path fill="#d2d2d2" d="M575 988h4v4h-4zM551 992h4v4h-4zM579 1008h4v4h-4zM543 1036h8v4h-8zM515 1068h4v4h-4zM511 1072h12v4h-12zM511 1076h8v4h-8z"/><path fill="#d7d7d7" d="M559 988h4v4h-4zM579 996h4v4h-4zM579 1004h4v4h-4zM543 1008h4v4h-4zM571 1024h4v4h-4zM567 1028h4v4h-4z"/><path fill="#dbdbdb" d="M563 988h4v4h-4zM571 988h4v4h-4zM579 1000h4v4h-4zM575 1016h4v4h-4zM559 1032h4v4h-4z"/><path fill="#dfdfdf" d="M567 988h4v4h-4zM555 992h4v4h-4zM575 992h4v4h-4zM547 1000h4v4h-4zM543 1012h4v4h-4z"/><path fill="#e3e3e3" d="M551 996h4v4h-4zM543 1016h4v4h-4z"/><path fill="#e7e7e7" d="M575 996h4v4h-4zM575 1012h4v4h-4zM543 1020h4v4h-4zM571 1020h4v4h-4zM543 1024h4v4h-4zM563 1028h4v4h-4zM543 1032h4v4h-4zM555 1032h4v4h-4z"/><path fill="#ebebeb" d="M559 992h4v4h-4zM571 992h4v4h-4zM547 1004h4v4h-4zM575 1008h4v4h-4zM567 1024h4v4h-4zM543 1028h4v4h-4z"/><path fill="#efefef" d="M563 992h8v4h-8zM575 1000h4v4h-4zM575 1004h4v4h-4z"/><path fill="#f3f3f3" d="M555 996h4v4h-4zM551 1000h4v4h-4zM571 1016h4v4h-4zM551 1032h4v4h-4z"/><path fill="#f7f7f7" d="M571 996h4v4h-4zM547 1008h4v4h-4zM559 1028h4v4h-4z"/><path fill="#fbfbfb" d="M567 1020h4v4h-4zM563 1024h4v4h-4zM547 1032h4v4h-4z"/><path fill="#ffffff" d="M559 996h12v4h-12zM555 1000h20v4h-20zM551 1004h24v4h-24zM551 1008h24v4h-24zM547 1012h28v4h-28zM547 1016h24v4h-24zM547 1020h20v4h-20zM547 1024h16v4h-16zM547 1028h12v4h-12z"/></g></g><rect x="485.5" y="886.5" width="193.6" height="216.5" fill="none" stroke="#262626" stroke-width="1.1"/><path d="M527.6 1103.0v-3.0M527.6 886.5v3.0M569.7 1103.0v-3.0M569.7 886.5v3.0M611.8 1103.0v-3.0M611.8 886.5v3.0M653.8 1103.0v-3.0M653.8 886.5v3.0M485.5 1055.9h3.0M679.1 1055.9h-3.0M485.5 1008.9h3.0M679.1 1008.9h-3.0M485.5 961.8h3.0M679.1 961.8h-3.0M485.5 914.7h3.0M679.1 914.7h-3.0" stroke="#262626" stroke-width="1.1" fill="none"/><text x="582.3" y="849.6" text-anchor="middle">True</text><text x="527.6" y="1136.4" text-anchor="middle">0</text><text x="611.8" y="1136.4" text-anchor="middle">1</text><text x="473.0" y="1069.4" text-anchor="end">0</text><text x="473.0" y="975.3" text-anchor="end">1</text><g clip-path="url(#cl7)"><g filter="url(#fe)"><path fill="#080808" d="M765 1069h4v4h-4zM765 1073h4v4h-4z"/><path fill="#0c0c0c" d="M765 1065h8v4h-8zM761 1069h4v4h-4zM769 1069h4v4h-4zM761 1073h4v4h-4zM769 1073h4v4h-4zM765 1077h8v4h-8z"/><path fill="#101010" d="M765 1061h8v4h-8zM761 1065h4v4h-4zM773 1069h4v4h-4zM773 1073h4v4h-4zM761 1077h4v4h-4zM765 1081h4v4h-4z"/><path fill="#141414" d="M761 1061h4v4h-4zM773 1065h4v4h-4zM757 1069h4v4h-4zM757 1073h4v4h-4zM773 1077h4v4h-4zM761 1081h4v4h-4zM769 1081h4v4h-4z"/><path fill="#181818" d="M761 1057h12v4h-12zM773 1061h4v4h-4zM757 1065h4v4h-4zM757 1077h4v4h-4zM773 1081h4v4h-4zM765 1085h4v4h-4z"/><path fill="#1c1c1c" d="M773 1057h4v4h-4zM757 1061h4v4h-4zM777 1065h4v4h-4zM777 1069h4v4h-4zM777 1073h4v4h-4zM777 1077h4v4h-4zM757 1081h4v4h-4zM761 1085h4v4h-4zM769 1085h4v4h-4z"/><path fill="#202020" d="M757 1057h4v4h-4zM777 1061h4v4h-4zM753 1065h4v4h-4zM753 1069h4v4h-4zM753 1073h4v4h-4zM753 1077h4v4h-4zM773 1085h4v4h-4z"/><path fill="#242424" d="M761 1053h12v4h-12zM753 1061h4v4h-4zM777 1081h4v4h-4zM757 1085h4v4h-4zM761 1089h12v4h-12z"/><path fill="#282828" d="M773 1053h4v4h-4zM777 1057h4v4h-4zM781 1065h4v4h-4zM781 1069h4v4h-4zM781 1073h4v4h-4zM781 1077h4v4h-4zM753 1081h4v4h-4zM777 1085h4v4h-4zM773 1089h4v4h-4z"/><path fill="#2d2d2d" d="M757 1053h4v4h-4zM753 1057h4v4h-4zM781 1061h4v4h-4zM749 1065h4v4h-4zM749 1069h4v4h-4zM749 1073h4v4h-4zM781 1081h4v4h-4zM753 1085h4v4h-4zM757 1089h4v4h-4zM765 1093h4v4h-4z"/><path fill="#313131" d="M749 1061h4v4h-4zM749 1077h4v4h-4zM777 1089h4v4h-4zM761 1093h4v4h-4zM769 1093h4v4h-4z"/><path fill="#353535" d="M753 1053h4v4h-4zM777 1053h4v4h-4zM781 1057h4v4h-4zM785 1069h4v4h-4zM749 1081h4v4h-4zM781 1085h4v4h-4zM753 1089h4v4h-4zM757 1093h4v4h-4zM773 1093h4v4h-4z"/><path fill="#393939" d="M713 1009h4v4h-4zM709 1013h8v4h-8zM749 1057h4v4h-4zM785 1065h4v4h-4zM785 1073h4v4h-4zM785 1077h4v4h-4zM777 1093h4v4h-4zM761 1097h12v4h-12z"/><path fill="#3d3d3d" d="M709 1005h12v4h-12zM705 1009h8v4h-8zM717 1009h8v4h-8zM705 1013h4v4h-4zM717 1013h8v4h-8zM709 1017h12v4h-12zM765 1049h8v4h-8zM781 1053h4v4h-4zM785 1061h4v4h-4zM785 1081h4v4h-4zM749 1085h4v4h-4zM781 1089h4v4h-4zM773 1097h4v4h-4z"/><path fill="#414141" d="M709 1001h8v4h-8zM705 1005h4v4h-4zM721 1005h4v4h-4zM701 1009h4v4h-4zM701 1013h4v4h-4zM725 1013h4v4h-4zM701 1017h8v4h-8zM721 1017h4v4h-4zM709 1021h16v4h-16zM761 1049h4v4h-4zM773 1049h4v4h-4zM749 1053h4v4h-4zM785 1057h4v4h-4zM745 1061h4v4h-4zM745 1065h4v4h-4zM745 1069h4v4h-4zM745 1073h4v4h-4zM785 1085h4v4h-4zM753 1093h4v4h-4zM757 1097h4v4h-4z"/><path fill="#454545" d="M705 1001h4v4h-4zM717 1001h8v4h-8zM701 1005h4v4h-4zM725 1005h4v4h-4zM697 1009h4v4h-4zM725 1009h4v4h-4zM697 1013h4v4h-4zM725 1017h4v4h-4zM701 1021h8v4h-8zM713 1025h4v4h-4zM757 1049h4v4h-4zM789 1069h4v4h-4zM789 1073h4v4h-4zM745 1077h4v4h-4zM789 1077h4v4h-4zM749 1089h4v4h-4zM785 1089h4v4h-4zM781 1093h4v4h-4zM777 1097h4v4h-4zM761 1101h12v4h-12z"/><path fill="#494949" d="M705 997h20v4h-20zM701 1001h4v4h-4zM725 1001h4v4h-4zM697 1005h4v4h-4zM693 1009h4v4h-4zM693 1013h4v4h-4zM697 1017h4v4h-4zM697 1021h4v4h-4zM725 1021h4v4h-4zM705 1025h8v4h-8zM717 1025h8v4h-8zM777 1049h4v4h-4zM785 1053h4v4h-4zM745 1057h4v4h-4zM789 1061h4v4h-4zM789 1065h4v4h-4zM745 1081h4v4h-4zM789 1081h4v4h-4zM749 1093h4v4h-4zM753 1097h4v4h-4zM757 1101h4v4h-4zM773 1101h4v4h-4zM761 1105h12v4h-12zM761 1109h12v4h-12zM761 1113h12v4h-12z"/><path fill="#4d4d4d" d="M701 997h4v4h-4zM725 997h4v4h-4zM693 1001h8v4h-8zM693 1005h4v4h-4zM689 1009h4v4h-4zM729 1009h4v4h-4zM689 1013h4v4h-4zM729 1013h4v4h-4zM693 1017h4v4h-4zM729 1017h4v4h-4zM693 1021h4v4h-4zM701 1025h4v4h-4zM725 1025h4v4h-4zM753 1049h4v4h-4zM745 1085h4v4h-4zM789 1085h4v4h-4zM785 1093h4v4h-4zM781 1097h4v4h-4zM777 1101h4v4h-4zM757 1105h4v4h-4zM773 1105h4v4h-4zM757 1109h4v4h-4zM773 1109h4v4h-4zM757 1113h4v4h-4zM773 1113h4v4h-4z"/><path fill="#515151" d="M769 905h12v4h-12zM769 909h12v4h-12zM765 913h16v4h-16zM765 917h16v4h-16zM765 921h16v4h-16zM769 925h12v4h-12zM701 993h24v4h-24zM693 997h8v4h-8zM689 1001h4v4h-4zM729 1001h4v4h-4zM677 1005h16v4h-16zM729 1005h4v4h-4zM677 1009h12v4h-12zM677 1013h12v4h-12zM677 1017h16v4h-16zM689 1021h4v4h-4zM729 1021h4v4h-4zM693 1025h8v4h-8zM705 1029h20v4h-20zM781 1049h4v4h-4zM745 1053h4v4h-4zM789 1057h4v4h-4zM789 1089h4v4h-4zM749 1097h4v4h-4zM753 1101h4v4h-4zM753 1105h4v4h-4zM777 1105h4v4h-4zM753 1109h4v4h-4zM777 1109h4v4h-4zM753 1113h4v4h-4zM777 1113h4v4h-4z"/><path fill="#555555" d="M769 893h12v4h-12zM765 897h20v4h-20zM765 901h20v4h-20zM761 905h8v4h-8zM781 905h4v4h-4zM761 909h8v4h-8zM781 909h4v4h-4zM761 913h4v4h-4zM781 913h4v4h-4zM761 917h4v4h-4zM781 917h4v4h-4zM761 921h4v4h-4zM781 921h4v4h-4zM761 925h8v4h-8zM781 925h4v4h-4zM765 929h20v4h-20zM765 933h16v4h-16zM773 937h4v4h-4zM709 989h4v4h-4zM693 993h8v4h-8zM725 993h4v4h-4zM689 997h4v4h-4zM729 997h4v4h-4zM677 1001h12v4h-12zM677 1021h12v4h-12zM689 1025h4v4h-4zM729 1025h4v4h-4zM697 1029h8v4h-8zM725 1029h4v4h-4zM749 1049h4v4h-4zM789 1053h4v4h-4zM793 1061h4v4h-4zM793 1065h4v4h-4zM793 1069h4v4h-4zM793 1073h4v4h-4zM793 1077h4v4h-4zM793 1081h4v4h-4zM745 1089h4v4h-4zM785 1097h4v4h-4zM781 1101h4v4h-4z"/><path fill="#595959" d="M765 877h16v4h-16zM765 881h16v4h-16zM765 885h16v4h-16zM761 889h24v4h-24zM761 893h8v4h-8zM781 893h8v4h-8zM761 897h4v4h-4zM785 897h4v4h-4zM757 901h8v4h-8zM785 901h4v4h-4zM757 905h4v4h-4zM785 905h4v4h-4zM757 909h4v4h-4zM785 909h4v4h-4zM757 913h4v4h-4zM785 913h4v4h-4zM757 917h4v4h-4zM785 917h4v4h-4zM757 921h4v4h-4zM785 921h4v4h-4zM757 925h4v4h-4zM785 925h4v4h-4zM757 929h8v4h-8zM785 929h4v4h-4zM761 933h4v4h-4zM781 933h8v4h-8zM761 937h12v4h-12zM777 937h8v4h-8zM765 941h16v4h-16zM697 989h12v4h-12zM713 989h16v4h-16zM677 993h16v4h-16zM677 997h12v4h-12zM677 1025h12v4h-12zM693 1029h4v4h-4zM705 1033h16v4h-16zM785 1049h4v4h-4zM793 1057h4v4h-4zM793 1085h4v4h-4zM745 1093h4v4h-4zM789 1093h4v4h-4zM749 1101h4v4h-4zM781 1105h4v4h-4zM781 1109h4v4h-4zM781 1113h4v4h-4z"/><path fill="#5d5d5d" d="M757 877h8v4h-8zM781 877h8v4h-8zM757 881h8v4h-8zM781 881h8v4h-8zM757 885h8v4h-8zM781 885h8v4h-8zM757 889h4v4h-4zM785 889h4v4h-4zM757 893h4v4h-4zM789 893h4v4h-4zM753 897h8v4h-8zM789 897h4v4h-4zM753 901h4v4h-4zM789 901h4v4h-4zM753 905h4v4h-4zM789 905h4v4h-4zM753 909h4v4h-4zM789 909h4v4h-4zM753 913h4v4h-4zM789 913h4v4h-4zM753 917h4v4h-4zM753 921h4v4h-4zM753 925h4v4h-4zM753 929h4v4h-4zM789 929h4v4h-4zM757 933h4v4h-4zM789 933h4v4h-4zM757 937h4v4h-4zM785 937h4v4h-4zM761 941h4v4h-4zM781 941h8v4h-8zM765 945h20v4h-20zM705 985h4v4h-4zM689 989h8v4h-8zM729 993h4v4h-4zM677 1029h16v4h-16zM729 1029h4v4h-4zM697 1033h8v4h-8zM721 1033h8v4h-8zM793 1053h4v4h-4zM741 1061h4v4h-4zM741 1065h4v4h-4zM741 1069h4v4h-4zM741 1073h4v4h-4zM793 1089h4v4h-4zM789 1097h4v4h-4zM785 1101h4v4h-4zM749 1105h4v4h-4zM785 1105h4v4h-4zM749 1109h4v4h-4zM785 1109h4v4h-4zM749 1113h4v4h-4zM785 1113h4v4h-4z"/><path fill="#616161" d="M753 877h4v4h-4zM789 877h4v4h-4zM753 881h4v4h-4zM789 881h4v4h-4zM753 885h4v4h-4zM789 885h4v4h-4zM753 889h4v4h-4zM789 889h4v4h-4zM753 893h4v4h-4zM793 893h4v4h-4zM793 897h4v4h-4zM749 901h4v4h-4zM793 901h4v4h-4zM749 905h4v4h-4zM793 905h4v4h-4zM749 909h4v4h-4zM793 909h4v4h-4zM749 913h4v4h-4zM749 917h4v4h-4zM789 917h4v4h-4zM749 921h4v4h-4zM789 921h4v4h-4zM749 925h4v4h-4zM789 925h4v4h-4zM793 929h4v4h-4zM753 933h4v4h-4zM793 933h4v4h-4zM753 937h4v4h-4zM789 937h8v4h-8zM753 941h8v4h-8zM789 941h4v4h-4zM757 945h8v4h-8zM785 945h8v4h-8zM761 949h28v4h-28zM697 985h8v4h-8zM709 985h20v4h-20zM677 989h12v4h-12zM729 989h4v4h-4zM689 1033h8v4h-8zM765 1045h12v4h-12zM745 1049h4v4h-4zM789 1049h4v4h-4zM741 1057h4v4h-4zM797 1057h4v4h-4zM797 1061h4v4h-4zM797 1065h4v4h-4zM797 1069h4v4h-4zM797 1073h4v4h-4zM741 1077h4v4h-4zM797 1077h4v4h-4zM797 1081h4v4h-4zM745 1097h4v4h-4z"/><path fill="#656565" d="M749 877h4v4h-4zM793 877h4v4h-4zM749 881h4v4h-4zM793 881h4v4h-4zM749 885h4v4h-4zM793 885h4v4h-4zM749 889h4v4h-4zM793 889h4v4h-4zM749 893h4v4h-4zM797 893h4v4h-4zM749 897h4v4h-4zM797 897h4v4h-4zM797 901h4v4h-4zM797 905h4v4h-4zM797 909h4v4h-4zM793 913h8v4h-8zM793 917h4v4h-4zM793 921h4v4h-4zM793 925h8v4h-8zM749 929h4v4h-4zM797 929h4v4h-4zM749 933h4v4h-4zM797 933h4v4h-4zM749 937h4v4h-4zM797 937h4v4h-4zM793 941h4v4h-4zM753 945h4v4h-4zM793 945h4v4h-4zM757 949h4v4h-4zM789 949h8v4h-8zM761 953h32v4h-32zM677 985h20v4h-20zM841 1001h4v4h-4zM733 1005h4v4h-4zM837 1005h12v4h-12zM857 1005h12v4h-12zM733 1009h4v4h-4zM833 1009h20v4h-20zM857 1009h16v4h-16zM733 1013h4v4h-4zM829 1013h44v4h-44zM733 1017h4v4h-4zM825 1017h44v4h-44zM825 1021h20v4h-20zM833 1025h4v4h-4zM677 1033h12v4h-12zM729 1033h4v4h-4zM705 1037h8v4h-8zM761 1045h4v4h-4zM777 1045h4v4h-4zM793 1049h4v4h-4zM797 1053h4v4h-4zM741 1081h4v4h-4zM797 1085h4v4h-4zM793 1093h4v4h-4zM745 1101h4v4h-4zM789 1101h4v4h-4zM745 1105h4v4h-4zM789 1105h4v4h-4zM745 1109h4v4h-4zM789 1109h4v4h-4zM745 1113h4v4h-4zM789 1113h4v4h-4z"/><path fill="#696969" d="M797 877h4v4h-4zM797 881h4v4h-4zM797 885h4v4h-4zM745 889h4v4h-4zM797 889h8v4h-8zM745 893h4v4h-4zM801 893h4v4h-4zM745 897h4v4h-4zM801 897h4v4h-4zM745 901h4v4h-4zM801 901h4v4h-4zM745 905h4v4h-4zM801 905h4v4h-4zM745 909h4v4h-4zM801 909h4v4h-4zM745 913h4v4h-4zM801 913h4v4h-4zM745 917h4v4h-4zM797 917h8v4h-8zM745 921h4v4h-4zM797 921h12v4h-12zM745 925h4v4h-4zM801 925h8v4h-8zM745 929h4v4h-4zM801 929h8v4h-8zM745 933h4v4h-4zM801 933h4v4h-4zM745 937h4v4h-4zM801 937h4v4h-4zM749 941h4v4h-4zM797 941h4v4h-4zM749 945h4v4h-4zM797 945h4v4h-4zM753 949h4v4h-4zM797 949h4v4h-4zM753 953h8v4h-8zM793 953h4v4h-4zM761 957h32v4h-32zM697 981h32v4h-32zM729 985h4v4h-4zM841 993h20v4h-20zM733 997h4v4h-4zM833 997h32v4h-32zM733 1001h4v4h-4zM833 1001h8v4h-8zM845 1001h28v4h-28zM829 1005h8v4h-8zM849 1005h8v4h-8zM869 1005h8v4h-8zM825 1009h8v4h-8zM853 1009h4v4h-4zM873 1009h4v4h-4zM825 1013h4v4h-4zM873 1013h4v4h-4zM821 1017h4v4h-4zM869 1017h8v4h-8zM733 1021h4v4h-4zM821 1021h4v4h-4zM845 1021h28v4h-28zM733 1025h4v4h-4zM825 1025h8v4h-8zM837 1025h36v4h-36zM829 1029h8v4h-8zM693 1037h12v4h-12zM713 1037h12v4h-12zM757 1045h4v4h-4zM781 1045h4v4h-4zM797 1049h4v4h-4zM741 1053h4v4h-4zM801 1053h4v4h-4zM801 1057h4v4h-4zM801 1061h4v4h-4zM801 1065h4v4h-4zM801 1069h4v4h-4zM801 1073h4v4h-4zM741 1085h4v4h-4zM797 1089h4v4h-4zM793 1097h4v4h-4z"/><path fill="#6d6d6d" d="M745 877h4v4h-4zM801 877h4v4h-4zM745 881h4v4h-4zM801 881h4v4h-4zM745 885h4v4h-4zM801 885h4v4h-4zM805 889h4v4h-4zM805 893h4v4h-4zM741 897h4v4h-4zM805 897h4v4h-4zM741 901h4v4h-4zM805 901h4v4h-4zM741 905h4v4h-4zM805 905h4v4h-4zM741 909h4v4h-4zM805 909h4v4h-4zM741 913h4v4h-4zM805 913h4v4h-4zM741 917h4v4h-4zM805 917h8v4h-8zM741 921h4v4h-4zM809 921h4v4h-4zM741 925h4v4h-4zM809 925h4v4h-4zM809 929h4v4h-4zM805 933h8v4h-8zM805 937h4v4h-4zM745 941h4v4h-4zM801 941h8v4h-8zM745 945h4v4h-4zM801 945h4v4h-4zM749 949h4v4h-4zM801 949h4v4h-4zM749 953h4v4h-4zM797 953h4v4h-4zM753 957h8v4h-8zM793 957h8v4h-8zM761 961h32v4h-32zM677 981h20v4h-20zM729 981h4v4h-4zM841 985h20v4h-20zM833 989h32v4h-32zM733 993h4v4h-4zM829 993h12v4h-12zM861 993h8v4h-8zM825 997h8v4h-8zM865 997h8v4h-8zM825 1001h8v4h-8zM873 1001h4v4h-4zM821 1005h8v4h-8zM877 1005h16v4h-16zM821 1009h4v4h-4zM877 1009h16v4h-16zM821 1013h4v4h-4zM877 1013h16v4h-16zM817 1017h4v4h-4zM877 1017h16v4h-16zM817 1021h4v4h-4zM873 1021h8v4h-8zM821 1025h4v4h-4zM873 1025h8v4h-8zM733 1029h4v4h-4zM825 1029h4v4h-4zM837 1029h40v4h-40zM829 1033h12v4h-12zM857 1033h12v4h-12zM677 1037h16v4h-16zM725 1037h4v4h-4zM753 1045h4v4h-4zM785 1045h4v4h-4zM801 1049h4v4h-4zM805 1053h4v4h-4zM805 1057h4v4h-4zM801 1077h4v4h-4zM801 1081h4v4h-4zM741 1089h4v4h-4zM797 1093h4v4h-4zM793 1101h4v4h-4zM793 1105h4v4h-4zM793 1109h4v4h-4zM793 1113h4v4h-4z"/><path fill="#717171" d="M741 877h4v4h-4zM805 877h8v4h-8zM741 881h4v4h-4zM805 881h8v4h-8zM741 885h4v4h-4zM805 885h8v4h-8zM741 889h4v4h-4zM809 889h4v4h-4zM741 893h4v4h-4zM809 893h4v4h-4zM809 897h4v4h-4zM809 901h4v4h-4zM809 905h4v4h-4zM809 909h4v4h-4zM809 913h4v4h-4zM813 921h4v4h-4zM813 925h4v4h-4zM741 929h4v4h-4zM813 929h4v4h-4zM741 933h4v4h-4zM813 933h4v4h-4zM741 937h4v4h-4zM809 937h4v4h-4zM741 941h4v4h-4zM809 941h4v4h-4zM741 945h4v4h-4zM805 945h4v4h-4zM745 949h4v4h-4zM805 949h4v4h-4zM745 953h4v4h-4zM801 953h8v4h-8zM749 957h4v4h-4zM801 957h4v4h-4zM753 961h8v4h-8zM793 961h8v4h-8zM777 965h12v4h-12zM697 977h32v4h-32zM845 977h16v4h-16zM833 981h32v4h-32zM733 985h4v4h-4zM825 985h16v4h-16zM861 985h8v4h-8zM733 989h4v4h-4zM821 989h12v4h-12zM865 989h8v4h-8zM817 993h12v4h-12zM869 993h4v4h-4zM817 997h8v4h-8zM873 997h20v4h-20zM817 1001h8v4h-8zM877 1001h16v4h-16zM817 1005h4v4h-4zM813 1009h8v4h-8zM813 1013h8v4h-8zM813 1017h4v4h-4zM813 1021h4v4h-4zM881 1021h12v4h-12zM817 1025h4v4h-4zM881 1025h12v4h-12zM817 1029h8v4h-8zM877 1029h16v4h-16zM821 1033h8v4h-8zM841 1033h16v4h-16zM869 1033h12v4h-12zM729 1037h4v4h-4zM825 1037h48v4h-48zM829 1041h12v4h-12zM749 1045h4v4h-4zM789 1045h4v4h-4zM741 1049h4v4h-4zM805 1049h4v4h-4zM805 1061h4v4h-4zM805 1065h4v4h-4zM801 1085h4v4h-4zM801 1089h4v4h-4zM741 1093h4v4h-4zM797 1097h4v4h-4z"/><path fill="#757575" d="M737 877h4v4h-4zM813 877h4v4h-4zM737 881h4v4h-4zM813 881h4v4h-4zM737 885h4v4h-4zM813 885h4v4h-4zM737 889h4v4h-4zM813 889h8v4h-8zM737 893h4v4h-4zM813 893h8v4h-8zM737 897h4v4h-4zM813 897h8v4h-8zM737 901h4v4h-4zM813 901h4v4h-4zM737 905h4v4h-4zM813 905h4v4h-4zM737 909h4v4h-4zM813 909h4v4h-4zM737 913h4v4h-4zM813 913h4v4h-4zM737 917h4v4h-4zM813 917h4v4h-4zM737 921h4v4h-4zM737 925h4v4h-4zM817 925h4v4h-4zM737 929h4v4h-4zM817 929h4v4h-4zM737 933h4v4h-4zM737 937h4v4h-4zM813 937h4v4h-4zM813 941h4v4h-4zM809 945h4v4h-4zM741 949h4v4h-4zM809 949h4v4h-4zM741 953h4v4h-4zM809 953h4v4h-4zM745 957h4v4h-4zM805 957h8v4h-8zM745 961h8v4h-8zM801 961h12v4h-12zM749 965h28v4h-28zM789 965h20v4h-20zM845 965h8v4h-8zM845 969h16v4h-16zM829 973h36v4h-36zM677 977h20v4h-20zM729 977h4v4h-4zM821 977h24v4h-24zM861 977h12v4h-12zM733 981h4v4h-4zM813 981h20v4h-20zM865 981h12v4h-12zM805 985h20v4h-20zM869 985h12v4h-12zM805 989h16v4h-16zM873 989h20v4h-20zM809 993h8v4h-8zM873 993h20v4h-20zM809 997h8v4h-8zM809 1001h8v4h-8zM809 1005h8v4h-8zM809 1009h4v4h-4zM809 1013h4v4h-4zM809 1017h4v4h-4zM809 1021h4v4h-4zM809 1025h8v4h-8zM813 1029h4v4h-4zM733 1033h4v4h-4zM813 1033h8v4h-8zM881 1033h12v4h-12zM817 1037h8v4h-8zM873 1037h20v4h-20zM701 1041h8v4h-8zM817 1041h12v4h-12zM841 1041h36v4h-36zM793 1045h16v4h-16zM821 1045h28v4h-28zM809 1049h4v4h-4zM829 1049h12v4h-12zM809 1053h4v4h-4zM809 1057h4v4h-4zM805 1069h4v4h-4zM805 1073h4v4h-4zM805 1077h4v4h-4zM805 1081h4v4h-4zM801 1093h4v4h-4zM741 1097h4v4h-4zM741 1101h4v4h-4zM797 1101h4v4h-4zM741 1105h4v4h-4zM797 1105h4v4h-4zM741 1109h4v4h-4zM797 1109h4v4h-4zM741 1113h4v4h-4zM797 1113h4v4h-4z"/><path fill="#797979" d="M817 877h8v4h-8zM817 881h8v4h-8zM817 885h8v4h-8zM821 889h4v4h-4zM821 893h4v4h-4zM821 897h4v4h-4zM817 901h4v4h-4zM817 905h4v4h-4zM817 909h4v4h-4zM817 913h4v4h-4zM817 917h4v4h-4zM817 921h4v4h-4zM817 933h4v4h-4zM817 937h4v4h-4zM737 941h4v4h-4zM737 945h4v4h-4zM813 945h4v4h-4zM737 949h4v4h-4zM813 949h4v4h-4zM737 953h4v4h-4zM813 953h4v4h-4zM737 957h8v4h-8zM813 957h8v4h-8zM741 961h4v4h-4zM813 961h44v4h-44zM745 965h4v4h-4zM809 965h36v4h-36zM853 965h12v4h-12zM749 969h96v4h-96zM861 969h12v4h-12zM693 973h40v4h-40zM793 973h36v4h-36zM865 973h28v4h-28zM733 977h4v4h-4zM801 977h20v4h-20zM873 977h20v4h-20zM801 981h12v4h-12zM877 981h16v4h-16zM801 985h4v4h-4zM881 985h12v4h-12zM801 989h4v4h-4zM801 993h8v4h-8zM805 997h4v4h-4zM805 1001h4v4h-4zM805 1005h4v4h-4zM801 1009h8v4h-8zM801 1013h8v4h-8zM801 1017h8v4h-8zM797 1021h12v4h-12zM793 1025h16v4h-16zM793 1029h20v4h-20zM805 1033h8v4h-8zM733 1037h4v4h-4zM805 1037h12v4h-12zM689 1041h12v4h-12zM709 1041h16v4h-16zM777 1041h16v4h-16zM801 1041h16v4h-16zM877 1041h16v4h-16zM745 1045h4v4h-4zM809 1045h12v4h-12zM849 1045h44v4h-44zM813 1049h16v4h-16zM841 1049h8v4h-8zM813 1053h28v4h-28zM813 1057h16v4h-16zM809 1061h4v4h-4zM809 1065h4v4h-4zM809 1069h4v4h-4zM805 1085h4v4h-4zM805 1089h4v4h-4zM805 1093h4v4h-4zM801 1097h4v4h-4zM801 1101h4v4h-4zM801 1105h4v4h-4zM801 1109h4v4h-4zM801 1113h4v4h-4z"/><path fill="#7d7d7d" d="M733 877h4v4h-4zM825 877h4v4h-4zM733 881h4v4h-4zM825 881h4v4h-4zM733 885h4v4h-4zM825 885h4v4h-4zM733 889h4v4h-4zM825 889h8v4h-8zM733 893h4v4h-4zM825 893h8v4h-8zM733 897h4v4h-4zM825 897h4v4h-4zM733 901h4v4h-4zM821 901h8v4h-8zM733 905h4v4h-4zM821 905h4v4h-4zM733 909h4v4h-4zM733 913h4v4h-4zM733 917h4v4h-4zM821 917h4v4h-4zM733 921h4v4h-4zM821 921h4v4h-4zM733 925h4v4h-4zM821 925h8v4h-8zM733 929h4v4h-4zM821 929h8v4h-8zM733 933h4v4h-4zM821 933h4v4h-4zM733 937h4v4h-4zM821 937h4v4h-4zM733 941h4v4h-4zM817 941h4v4h-4zM733 945h4v4h-4zM817 945h4v4h-4zM733 949h4v4h-4zM817 949h8v4h-8zM733 953h4v4h-4zM817 953h40v4h-40zM733 957h4v4h-4zM821 957h48v4h-48zM733 961h8v4h-8zM857 961h20v4h-20zM733 965h12v4h-12zM865 965h28v4h-28zM721 969h28v4h-28zM873 969h20v4h-20zM677 973h16v4h-16zM733 973h4v4h-4zM749 973h8v4h-8zM781 973h12v4h-12zM789 977h12v4h-12zM797 981h4v4h-4zM797 985h4v4h-4zM797 989h4v4h-4zM797 993h4v4h-4zM801 997h4v4h-4zM801 1001h4v4h-4zM797 1005h8v4h-8zM797 1009h4v4h-4zM797 1013h4v4h-4zM793 1017h8v4h-8zM789 1021h8v4h-8zM789 1025h4v4h-4zM785 1029h8v4h-8zM785 1033h20v4h-20zM785 1037h20v4h-20zM677 1041h12v4h-12zM725 1041h8v4h-8zM769 1041h8v4h-8zM793 1041h8v4h-8zM849 1049h12v4h-12zM877 1049h16v4h-16zM841 1053h8v4h-8zM829 1057h12v4h-12zM813 1061h24v4h-24zM813 1065h16v4h-16zM813 1069h8v4h-8zM809 1073h8v4h-8zM809 1077h4v4h-4zM809 1081h4v4h-4zM809 1093h4v4h-4zM805 1097h4v4h-4zM805 1101h4v4h-4zM805 1105h4v4h-4zM805 1109h4v4h-4zM805 1113h4v4h-4z"/><path fill="#828282" d="M729 877h4v4h-4zM829 877h12v4h-12zM729 881h4v4h-4zM829 881h12v4h-12zM729 885h4v4h-4zM829 885h12v4h-12zM729 889h4v4h-4zM833 889h8v4h-8zM729 893h4v4h-4zM833 893h8v4h-8zM729 897h4v4h-4zM829 897h12v4h-12zM729 901h4v4h-4zM829 901h12v4h-12zM729 905h4v4h-4zM825 905h12v4h-12zM729 909h4v4h-4zM821 909h8v4h-8zM729 913h4v4h-4zM821 913h8v4h-8zM825 917h16v4h-16zM729 921h4v4h-4zM825 921h20v4h-20zM865 921h8v4h-8zM729 925h4v4h-4zM829 925h48v4h-48zM729 929h4v4h-4zM829 929h48v4h-48zM729 933h4v4h-4zM825 933h48v4h-48zM729 937h4v4h-4zM825 937h44v4h-44zM729 941h4v4h-4zM821 941h48v4h-48zM729 945h4v4h-4zM821 945h52v4h-52zM729 949h4v4h-4zM825 949h68v4h-68zM729 953h4v4h-4zM857 953h36v4h-36zM729 957h4v4h-4zM869 957h24v4h-24zM725 961h8v4h-8zM877 961h16v4h-16zM721 965h12v4h-12zM677 969h44v4h-44zM737 973h12v4h-12zM757 973h24v4h-24zM737 977h12v4h-12zM785 977h4v4h-4zM737 981h4v4h-4zM789 981h8v4h-8zM737 985h4v4h-4zM789 985h8v4h-8zM737 989h4v4h-4zM793 989h4v4h-4zM737 993h4v4h-4zM793 993h4v4h-4zM737 997h4v4h-4zM797 997h4v4h-4zM737 1001h4v4h-4zM797 1001h4v4h-4zM737 1005h4v4h-4zM737 1009h4v4h-4zM793 1009h4v4h-4zM793 1013h4v4h-4zM789 1017h4v4h-4zM785 1025h4v4h-4zM781 1033h4v4h-4zM781 1037h4v4h-4zM733 1041h4v4h-4zM765 1041h4v4h-4zM741 1045h4v4h-4zM861 1049h16v4h-16zM849 1053h8v4h-8zM877 1053h16v4h-16zM841 1057h8v4h-8zM737 1061h4v4h-4zM837 1061h8v4h-8zM737 1065h4v4h-4zM829 1065h8v4h-8zM737 1069h4v4h-4zM821 1069h12v4h-12zM737 1073h4v4h-4zM817 1073h12v4h-12zM813 1077h16v4h-16zM813 1081h12v4h-12zM809 1085h16v4h-16zM809 1089h12v4h-12zM813 1093h8v4h-8zM809 1097h12v4h-12zM809 1101h8v4h-8zM809 1105h8v4h-8zM809 1109h8v4h-8zM809 1113h8v4h-8z"/><path fill="#868686" d="M725 877h4v4h-4zM841 877h52v4h-52zM725 881h4v4h-4zM841 881h52v4h-52zM725 885h4v4h-4zM841 885h52v4h-52zM725 889h4v4h-4zM841 889h52v4h-52zM725 893h4v4h-4zM841 893h52v4h-52zM841 897h52v4h-52zM841 901h52v4h-52zM837 905h56v4h-56zM829 909h64v4h-64zM829 913h64v4h-64zM729 917h4v4h-4zM841 917h52v4h-52zM845 921h20v4h-20zM873 921h20v4h-20zM877 925h16v4h-16zM877 929h16v4h-16zM873 933h20v4h-20zM725 937h4v4h-4zM869 937h24v4h-24zM725 941h4v4h-4zM869 941h24v4h-24zM725 945h4v4h-4zM873 945h20v4h-20zM725 949h4v4h-4zM725 953h4v4h-4zM721 957h8v4h-8zM677 961h12v4h-12zM717 961h8v4h-8zM677 965h44v4h-44zM749 977h12v4h-12zM777 977h8v4h-8zM741 981h8v4h-8zM785 981h4v4h-4zM741 985h4v4h-4zM785 985h4v4h-4zM789 989h4v4h-4zM789 993h4v4h-4zM793 997h4v4h-4zM793 1001h4v4h-4zM793 1005h4v4h-4zM737 1013h4v4h-4zM789 1013h4v4h-4zM737 1017h4v4h-4zM737 1021h4v4h-4zM785 1021h4v4h-4zM781 1029h4v4h-4zM777 1037h4v4h-4zM761 1041h4v4h-4zM737 1045h4v4h-4zM737 1049h4v4h-4zM737 1053h4v4h-4zM857 1053h20v4h-20zM737 1057h4v4h-4zM849 1057h4v4h-4zM877 1057h16v4h-16zM845 1061h4v4h-4zM881 1061h12v4h-12zM837 1065h8v4h-8zM833 1069h12v4h-12zM829 1073h12v4h-12zM737 1077h4v4h-4zM829 1077h8v4h-8zM737 1081h4v4h-4zM825 1081h12v4h-12zM737 1085h4v4h-4zM825 1085h20v4h-20zM821 1089h32v4h-32zM881 1089h12v4h-12zM821 1093h36v4h-36zM877 1093h16v4h-16zM821 1097h72v4h-72zM817 1101h76v4h-76zM817 1105h76v4h-76zM817 1109h76v4h-76zM817 1113h76v4h-76z"/><path fill="#8a8a8a" d="M721 877h4v4h-4zM721 881h4v4h-4zM721 885h4v4h-4zM721 889h4v4h-4zM725 897h4v4h-4zM725 901h4v4h-4zM725 905h4v4h-4zM725 909h4v4h-4zM725 913h4v4h-4zM725 917h4v4h-4zM725 921h4v4h-4zM725 925h4v4h-4zM725 929h4v4h-4zM725 933h4v4h-4zM721 941h4v4h-4zM721 945h4v4h-4zM677 949h12v4h-12zM717 949h8v4h-8zM677 953h16v4h-16zM717 953h8v4h-8zM677 957h44v4h-44zM689 961h28v4h-28zM761 977h16v4h-16zM749 981h4v4h-4zM781 981h4v4h-4zM741 989h4v4h-4zM785 989h4v4h-4zM789 997h4v4h-4zM789 1001h4v4h-4zM789 1005h4v4h-4zM789 1009h4v4h-4zM785 1017h4v4h-4zM737 1025h4v4h-4zM781 1025h4v4h-4zM737 1029h4v4h-4zM737 1033h4v4h-4zM777 1033h4v4h-4zM737 1037h4v4h-4zM773 1037h4v4h-4zM737 1041h4v4h-4zM757 1041h4v4h-4zM853 1057h24v4h-24zM849 1061h4v4h-4zM873 1061h8v4h-8zM845 1065h8v4h-8zM877 1065h16v4h-16zM845 1069h8v4h-8zM877 1069h16v4h-16zM841 1073h12v4h-12zM877 1073h16v4h-16zM837 1077h16v4h-16zM877 1077h16v4h-16zM837 1081h20v4h-20zM877 1081h16v4h-16zM845 1085h16v4h-16zM873 1085h20v4h-20zM737 1089h4v4h-4zM853 1089h28v4h-28zM737 1093h4v4h-4zM857 1093h20v4h-20z"/><path fill="#8e8e8e" d="M677 877h20v4h-20zM713 877h8v4h-8zM677 881h20v4h-20zM713 881h8v4h-8zM677 885h20v4h-20zM713 885h8v4h-8zM677 889h20v4h-20zM717 889h4v4h-4zM677 893h16v4h-16zM717 893h8v4h-8zM677 897h16v4h-16zM721 897h4v4h-4zM677 901h12v4h-12zM721 901h4v4h-4zM677 905h12v4h-12zM721 905h4v4h-4zM677 909h12v4h-12zM721 909h4v4h-4zM677 913h12v4h-12zM721 913h4v4h-4zM677 917h12v4h-12zM721 917h4v4h-4zM677 921h12v4h-12zM721 921h4v4h-4zM677 925h12v4h-12zM721 925h4v4h-4zM677 929h16v4h-16zM721 929h4v4h-4zM677 933h16v4h-16zM721 933h4v4h-4zM677 937h16v4h-16zM717 937h8v4h-8zM677 941h20v4h-20zM717 941h4v4h-4zM677 945h24v4h-24zM713 945h8v4h-8zM689 949h28v4h-28zM693 953h24v4h-24zM753 981h4v4h-4zM777 981h4v4h-4zM745 985h4v4h-4zM781 985h4v4h-4zM741 993h4v4h-4zM785 993h4v4h-4zM785 1013h4v4h-4zM781 1021h4v4h-4zM777 1029h4v4h-4zM769 1037h4v4h-4zM753 1041h4v4h-4zM693 1045h16v4h-16zM733 1045h4v4h-4zM853 1061h20v4h-20zM853 1065h4v4h-4zM873 1065h4v4h-4zM853 1069h4v4h-4zM873 1069h4v4h-4zM853 1073h4v4h-4zM873 1073h4v4h-4zM853 1077h8v4h-8zM873 1077h4v4h-4zM857 1081h20v4h-20zM861 1085h12v4h-12zM737 1097h4v4h-4zM737 1101h4v4h-4zM737 1105h4v4h-4zM737 1109h4v4h-4zM737 1113h4v4h-4z"/><path fill="#929292" d="M697 877h16v4h-16zM697 881h16v4h-16zM697 885h16v4h-16zM697 889h20v4h-20zM693 893h24v4h-24zM693 897h8v4h-8zM713 897h8v4h-8zM689 901h12v4h-12zM717 901h4v4h-4zM689 905h8v4h-8zM717 905h4v4h-4zM689 909h8v4h-8zM717 909h4v4h-4zM689 913h8v4h-8zM717 913h4v4h-4zM689 917h8v4h-8zM717 917h4v4h-4zM689 921h8v4h-8zM717 921h4v4h-4zM689 925h12v4h-12zM717 925h4v4h-4zM693 929h8v4h-8zM713 929h8v4h-8zM693 933h12v4h-12zM709 933h12v4h-12zM693 937h24v4h-24zM697 941h20v4h-20zM701 945h12v4h-12zM757 981h8v4h-8zM773 981h4v4h-4zM749 985h4v4h-4zM745 989h4v4h-4zM781 989h4v4h-4zM741 997h4v4h-4zM785 997h4v4h-4zM785 1001h4v4h-4zM785 1005h4v4h-4zM785 1009h4v4h-4zM777 1025h4v4h-4zM773 1033h4v4h-4zM741 1041h4v4h-4zM749 1041h4v4h-4zM677 1045h16v4h-16zM709 1045h24v4h-24zM857 1065h16v4h-16zM857 1069h16v4h-16zM857 1073h16v4h-16zM861 1077h12v4h-12z"/><path fill="#969696" d="M701 897h12v4h-12zM701 901h16v4h-16zM697 905h20v4h-20zM697 909h20v4h-20zM697 913h20v4h-20zM697 917h20v4h-20zM697 921h20v4h-20zM701 925h16v4h-16zM701 929h12v4h-12zM705 933h4v4h-4zM765 981h8v4h-8zM753 985h4v4h-4zM777 985h4v4h-4zM781 993h4v4h-4zM741 1001h4v4h-4zM781 1017h4v4h-4zM765 1037h4v4h-4zM745 1041h4v4h-4z"/><path fill="#9a9a9a" d="M757 985h4v4h-4zM749 989h4v4h-4zM745 993h4v4h-4zM781 1013h4v4h-4zM777 1021h4v4h-4zM773 1029h4v4h-4zM769 1033h4v4h-4zM733 1049h4v4h-4z"/><path fill="#9e9e9e" d="M761 985h4v4h-4zM773 985h4v4h-4zM777 989h4v4h-4zM781 997h4v4h-4zM741 1005h4v4h-4zM781 1009h4v4h-4zM761 1037h4v4h-4zM733 1053h4v4h-4z"/><path fill="#a2a2a2" d="M765 985h8v4h-8zM753 989h4v4h-4zM745 997h4v4h-4zM781 1001h4v4h-4zM781 1005h4v4h-4zM741 1009h4v4h-4zM777 1017h4v4h-4zM773 1025h4v4h-4zM741 1037h4v4h-4zM733 1057h4v4h-4zM733 1061h4v4h-4zM733 1065h4v4h-4zM733 1069h4v4h-4zM733 1073h4v4h-4zM733 1077h4v4h-4zM733 1081h4v4h-4zM733 1085h4v4h-4z"/><path fill="#a6a6a6" d="M749 993h4v4h-4zM777 993h4v4h-4zM741 1013h4v4h-4zM769 1029h4v4h-4zM765 1033h4v4h-4zM757 1037h4v4h-4zM677 1049h32v4h-32zM729 1049h4v4h-4zM733 1089h4v4h-4zM733 1093h4v4h-4zM733 1097h4v4h-4zM733 1101h4v4h-4zM733 1105h4v4h-4zM733 1109h4v4h-4zM733 1113h4v4h-4z"/><path fill="#aaaaaa" d="M757 989h4v4h-4zM773 989h4v4h-4zM777 1013h4v4h-4zM741 1017h4v4h-4zM741 1021h4v4h-4zM741 1025h4v4h-4zM741 1029h4v4h-4zM741 1033h4v4h-4zM709 1049h20v4h-20z"/><path fill="#aeaeae" d="M761 989h4v4h-4zM769 989h4v4h-4zM753 993h4v4h-4zM777 997h4v4h-4zM745 1001h4v4h-4zM773 1021h4v4h-4zM753 1037h4v4h-4z"/><path fill="#b2b2b2" d="M765 989h4v4h-4zM773 993h4v4h-4zM749 997h4v4h-4zM777 1001h4v4h-4zM777 1005h4v4h-4zM777 1009h4v4h-4zM769 1025h4v4h-4zM761 1033h4v4h-4zM689 1053h12v4h-12zM729 1053h4v4h-4z"/><path fill="#b6b6b6" d="M745 1005h4v4h-4zM773 1017h4v4h-4zM765 1029h4v4h-4zM745 1037h8v4h-8zM677 1053h12v4h-12zM701 1053h12v4h-12zM721 1053h8v4h-8zM729 1057h4v4h-4zM729 1061h4v4h-4zM729 1065h4v4h-4zM729 1069h4v4h-4zM729 1073h4v4h-4zM729 1081h4v4h-4zM729 1085h4v4h-4zM729 1089h4v4h-4zM729 1093h4v4h-4zM729 1097h4v4h-4zM729 1101h4v4h-4zM729 1105h4v4h-4zM729 1109h4v4h-4zM729 1113h4v4h-4z"/><path fill="#bababa" d="M757 993h4v4h-4zM713 1053h8v4h-8zM677 1057h28v4h-28zM725 1057h4v4h-4zM729 1077h4v4h-4z"/><path fill="#bebebe" d="M761 993h12v4h-12zM753 997h4v4h-4zM773 997h4v4h-4zM749 1001h4v4h-4zM745 1009h4v4h-4zM773 1013h4v4h-4zM769 1021h4v4h-4zM757 1033h4v4h-4zM705 1057h20v4h-20zM677 1061h28v4h-28zM725 1061h4v4h-4zM677 1065h20v4h-20zM725 1065h4v4h-4zM677 1069h16v4h-16zM677 1073h16v4h-16zM677 1077h16v4h-16zM677 1081h16v4h-16zM677 1085h20v4h-20zM725 1085h4v4h-4zM677 1089h28v4h-28zM725 1089h4v4h-4zM677 1093h32v4h-32zM725 1093h4v4h-4zM677 1097h52v4h-52zM677 1101h52v4h-52zM677 1105h52v4h-52zM677 1109h52v4h-52zM677 1113h52v4h-52z"/><path fill="#c2c2c2" d="M773 1001h4v4h-4zM765 1025h4v4h-4zM761 1029h4v4h-4zM705 1061h20v4h-20zM697 1065h8v4h-8zM721 1065h4v4h-4zM693 1069h8v4h-8zM721 1069h8v4h-8zM693 1073h8v4h-8zM725 1073h4v4h-4zM693 1077h8v4h-8zM725 1077h4v4h-4zM693 1081h8v4h-8zM721 1081h8v4h-8zM697 1085h12v4h-12zM721 1085h4v4h-4zM705 1089h20v4h-20zM709 1093h16v4h-16z"/><path fill="#c6c6c6" d="M773 1005h4v4h-4zM773 1009h4v4h-4zM745 1013h4v4h-4zM745 1033h4v4h-4zM705 1065h16v4h-16zM701 1069h20v4h-20zM701 1073h8v4h-8zM717 1073h8v4h-8zM701 1077h8v4h-8zM717 1077h8v4h-8zM701 1081h20v4h-20zM709 1085h12v4h-12z"/><path fill="#cacaca" d="M757 997h4v4h-4zM769 997h4v4h-4zM749 1005h4v4h-4zM745 1017h4v4h-4zM769 1017h4v4h-4zM745 1021h4v4h-4zM745 1025h4v4h-4zM745 1029h4v4h-4zM753 1033h4v4h-4zM709 1073h8v4h-8zM709 1077h8v4h-8z"/><path fill="#cecece" d="M761 997h8v4h-8zM753 1001h4v4h-4z"/><path fill="#d2d2d2" d="M769 1001h4v4h-4zM769 1013h4v4h-4zM765 1021h4v4h-4zM757 1029h4v4h-4zM749 1033h4v4h-4z"/><path fill="#d7d7d7" d="M749 1009h4v4h-4zM761 1025h4v4h-4z"/><path fill="#dbdbdb" d="M757 1001h4v4h-4zM765 1001h4v4h-4zM753 1005h4v4h-4zM769 1005h4v4h-4zM769 1009h4v4h-4zM749 1013h4v4h-4z"/><path fill="#dfdfdf" d="M761 1001h4v4h-4zM749 1017h4v4h-4zM765 1017h4v4h-4zM749 1021h4v4h-4zM749 1025h4v4h-4zM749 1029h8v4h-8z"/><path fill="#e3e3e3" d="M761 1021h4v4h-4zM757 1025h4v4h-4z"/><path fill="#e7e7e7" d="M757 1005h4v4h-4zM765 1005h4v4h-4zM753 1009h4v4h-4zM765 1009h4v4h-4zM765 1013h4v4h-4zM753 1025h4v4h-4z"/><path fill="#ebebeb" d="M761 1005h4v4h-4zM753 1013h4v4h-4zM761 1017h4v4h-4zM753 1021h8v4h-8z"/><path fill="#efefef" d="M757 1009h8v4h-8zM761 1013h4v4h-4zM753 1017h4v4h-4z"/><path fill="#f3f3f3" d="M757 1013h4v4h-4zM757 1017h4v4h-4z"/></g></g><rect x="687.3" y="887.5" width="194.0" height="216.9" fill="none" stroke="#262626" stroke-width="1.1"/><path d="M729.5 1104.4v-3.0M729.5 887.5v3.0M771.6 1104.4v-3.0M771.6 887.5v3.0M813.8 1104.4v-3.0M813.8 887.5v3.0M856.0 1104.4v-3.0M856.0 887.5v3.0M687.3 1057.2h3.0M881.3 1057.2h-3.0M687.3 1010.1h3.0M881.3 1010.1h-3.0M687.3 962.9h3.0M881.3 962.9h-3.0M687.3 915.8h3.0M881.3 915.8h-3.0" stroke="#262626" stroke-width="1.1" fill="none"/><text x="784.3" y="849.6" text-anchor="middle">Shuffled</text><text x="729.5" y="1136.4" text-anchor="middle">0</text><text x="813.8" y="1136.4" text-anchor="middle">1</text><g clip-path="url(#cl8)"><g filter="url(#fe)"><path fill="#616161" d="M946 925h4v4h-4zM946 929h4v4h-4z"/><path fill="#656565" d="M942 925h4v4h-4zM942 929h4v4h-4zM950 929h4v4h-4zM946 933h4v4h-4z"/><path fill="#696969" d="M946 921h4v4h-4zM950 925h4v4h-4zM942 933h4v4h-4zM950 933h4v4h-4z"/><path fill="#6d6d6d" d="M938 921h8v4h-8zM950 921h4v4h-4zM938 925h4v4h-4zM954 925h4v4h-4zM946 937h4v4h-4zM998 1077h8v4h-8z"/><path fill="#717171" d="M934 921h4v4h-4zM954 921h4v4h-4zM934 925h4v4h-4zM938 929h4v4h-4zM954 929h4v4h-4zM942 937h4v4h-4zM950 937h4v4h-4zM1018 1065h4v4h-4zM1014 1069h8v4h-8zM1078 1069h4v4h-4zM998 1073h24v4h-24zM1074 1073h8v4h-8zM1094 1073h8v4h-8zM994 1077h4v4h-4zM1006 1077h12v4h-12zM1074 1077h8v4h-8zM998 1081h16v4h-16z"/><path fill="#757575" d="M938 917h16v4h-16zM930 921h4v4h-4zM958 921h4v4h-4zM930 925h4v4h-4zM958 925h4v4h-4zM934 929h4v4h-4zM938 933h4v4h-4zM954 933h4v4h-4zM942 941h8v4h-8zM1018 1061h4v4h-4zM1074 1061h8v4h-8zM1014 1065h4v4h-4zM1022 1065h4v4h-4zM1074 1065h12v4h-12zM1006 1069h8v4h-8zM1022 1069h4v4h-4zM1074 1069h4v4h-4zM1082 1069h4v4h-4zM1094 1069h8v4h-8zM994 1073h4v4h-4zM1022 1073h4v4h-4zM1082 1073h4v4h-4zM1018 1077h8v4h-8zM1082 1077h4v4h-4zM1094 1077h8v4h-8zM994 1081h4v4h-4zM1014 1081h8v4h-8zM1074 1081h8v4h-8zM1002 1085h12v4h-12z"/><path fill="#797979" d="M934 917h4v4h-4zM954 917h8v4h-8zM962 921h4v4h-4zM926 925h4v4h-4zM930 929h4v4h-4zM958 929h4v4h-4zM930 933h8v4h-8zM934 937h8v4h-8zM954 937h4v4h-4zM930 941h12v4h-12zM950 941h4v4h-4zM934 945h4v4h-4zM942 945h8v4h-8zM922 969h4v4h-4zM922 973h8v4h-8zM922 977h8v4h-8zM926 981h4v4h-4zM1070 1057h16v4h-16zM1014 1061h4v4h-4zM1022 1061h4v4h-4zM1070 1061h4v4h-4zM1082 1061h4v4h-4zM1010 1065h4v4h-4zM1070 1065h4v4h-4zM998 1069h8v4h-8zM1070 1069h4v4h-4zM1086 1069h8v4h-8zM1026 1073h4v4h-4zM1070 1073h4v4h-4zM1086 1073h8v4h-8zM1102 1073h4v4h-4zM990 1077h4v4h-4zM1026 1077h4v4h-4zM1070 1077h4v4h-4zM1086 1077h8v4h-8zM1102 1077h4v4h-4zM1022 1081h8v4h-8zM1038 1081h12v4h-12zM1082 1081h4v4h-4zM994 1085h8v4h-8zM1014 1085h12v4h-12zM1038 1085h16v4h-16zM1038 1089h12v4h-12zM1042 1093h8v4h-8z"/><path fill="#7d7d7d" d="M946 913h8v4h-8zM930 917h4v4h-4zM926 921h4v4h-4zM962 925h4v4h-4zM926 929h4v4h-4zM962 929h4v4h-4zM926 933h4v4h-4zM958 933h4v4h-4zM922 937h12v4h-12zM922 941h8v4h-8zM954 941h4v4h-4zM922 945h12v4h-12zM938 945h4v4h-4zM950 945h4v4h-4zM922 949h28v4h-28zM922 953h20v4h-20zM922 957h12v4h-12zM918 961h16v4h-16zM918 965h16v4h-16zM914 969h8v4h-8zM926 969h8v4h-8zM918 973h4v4h-4zM930 973h4v4h-4zM918 977h4v4h-4zM930 977h4v4h-4zM922 981h4v4h-4zM930 981h4v4h-4zM926 985h8v4h-8zM926 989h8v4h-8zM1086 989h4v4h-4zM926 993h8v4h-8zM1070 1053h16v4h-16zM1014 1057h12v4h-12zM1066 1057h4v4h-4zM1086 1057h4v4h-4zM1010 1061h4v4h-4zM1086 1061h4v4h-4zM1002 1065h8v4h-8zM1026 1065h4v4h-4zM1086 1065h16v4h-16zM938 1069h8v4h-8zM994 1069h4v4h-4zM1026 1069h8v4h-8zM1102 1069h4v4h-4zM938 1073h8v4h-8zM990 1073h4v4h-4zM1030 1073h20v4h-20zM1106 1073h12v4h-12zM938 1077h4v4h-4zM1030 1077h24v4h-24zM1106 1077h12v4h-12zM982 1081h12v4h-12zM1030 1081h8v4h-8zM1050 1081h4v4h-4zM1070 1081h4v4h-4zM1098 1081h4v4h-4zM974 1085h20v4h-20zM1026 1085h12v4h-12zM1074 1085h8v4h-8zM974 1089h64v4h-64zM1050 1089h4v4h-4zM974 1093h12v4h-12zM1010 1093h12v4h-12zM1034 1093h8v4h-8zM1050 1093h4v4h-4z"/><path fill="#828282" d="M946 909h8v4h-8zM934 913h12v4h-12zM954 913h4v4h-4zM926 917h4v4h-4zM962 917h4v4h-4zM922 925h4v4h-4zM922 929h4v4h-4zM922 933h4v4h-4zM918 937h4v4h-4zM958 937h4v4h-4zM918 941h4v4h-4zM918 945h4v4h-4zM954 945h4v4h-4zM918 949h4v4h-4zM950 949h4v4h-4zM914 953h8v4h-8zM942 953h12v4h-12zM914 957h8v4h-8zM934 957h16v4h-16zM902 961h16v4h-16zM934 961h4v4h-4zM902 965h16v4h-16zM934 965h4v4h-4zM902 969h12v4h-12zM934 969h4v4h-4zM902 973h16v4h-16zM934 973h4v4h-4zM950 973h4v4h-4zM914 977h4v4h-4zM934 977h4v4h-4zM950 977h4v4h-4zM918 981h4v4h-4zM922 985h4v4h-4zM1086 985h4v4h-4zM1082 989h4v4h-4zM1090 989h4v4h-4zM1086 993h4v4h-4zM926 997h8v4h-8zM1090 1001h8v4h-8zM1070 1049h12v4h-12zM1018 1053h8v4h-8zM1066 1053h4v4h-4zM1086 1053h4v4h-4zM1010 1057h4v4h-4zM1002 1061h8v4h-8zM1026 1061h4v4h-4zM1066 1061h4v4h-4zM1090 1061h8v4h-8zM926 1065h4v4h-4zM938 1065h8v4h-8zM998 1065h4v4h-4zM1030 1065h4v4h-4zM1042 1065h4v4h-4zM1066 1065h4v4h-4zM926 1069h12v4h-12zM990 1069h4v4h-4zM1034 1069h20v4h-20zM1062 1069h8v4h-8zM934 1073h4v4h-4zM986 1073h4v4h-4zM1050 1073h20v4h-20zM934 1077h4v4h-4zM942 1077h4v4h-4zM978 1077h12v4h-12zM1054 1077h16v4h-16zM938 1081h8v4h-8zM974 1081h8v4h-8zM1054 1081h4v4h-4zM1066 1081h4v4h-4zM1086 1081h12v4h-12zM1102 1081h16v4h-16zM1054 1085h4v4h-4zM1070 1085h4v4h-4zM1082 1085h4v4h-4zM970 1089h4v4h-4zM1054 1089h4v4h-4zM970 1093h4v4h-4zM986 1093h24v4h-24zM1022 1093h12v4h-12zM1054 1093h4v4h-4zM974 1097h80v4h-80z"/><path fill="#868686" d="M938 897h8v4h-8zM938 901h12v4h-12zM1070 901h4v4h-4zM938 905h16v4h-16zM938 909h8v4h-8zM954 909h4v4h-4zM922 913h12v4h-12zM958 913h8v4h-8zM922 917h4v4h-4zM966 917h4v4h-4zM922 921h4v4h-4zM966 921h4v4h-4zM966 925h4v4h-4zM966 929h4v4h-4zM918 933h4v4h-4zM962 933h4v4h-4zM914 937h4v4h-4zM962 937h4v4h-4zM902 941h16v4h-16zM958 941h4v4h-4zM902 945h16v4h-16zM958 945h4v4h-4zM902 949h16v4h-16zM954 949h4v4h-4zM902 953h12v4h-12zM954 953h4v4h-4zM902 957h12v4h-12zM950 957h8v4h-8zM938 961h16v4h-16zM938 965h16v4h-16zM938 969h16v4h-16zM938 973h12v4h-12zM954 973h4v4h-4zM902 977h12v4h-12zM938 977h12v4h-12zM954 977h4v4h-4zM934 981h4v4h-4zM946 981h8v4h-8zM934 985h4v4h-4zM1082 985h4v4h-4zM1090 985h4v4h-4zM922 989h4v4h-4zM934 989h4v4h-4zM1094 989h4v4h-4zM922 993h4v4h-4zM934 993h4v4h-4zM1082 993h4v4h-4zM1090 993h4v4h-4zM922 997h4v4h-4zM934 997h4v4h-4zM1086 997h12v4h-12zM922 1001h12v4h-12zM1086 1001h4v4h-4zM1098 1001h4v4h-4zM1090 1005h8v4h-8zM1070 1045h8v4h-8zM1018 1049h4v4h-4zM1062 1049h8v4h-8zM1082 1049h4v4h-4zM1010 1053h8v4h-8zM1062 1053h4v4h-4zM1090 1053h4v4h-4zM1002 1057h8v4h-8zM1026 1057h4v4h-4zM1058 1057h8v4h-8zM1090 1057h8v4h-8zM938 1061h8v4h-8zM998 1061h4v4h-4zM1042 1061h24v4h-24zM1098 1061h4v4h-4zM922 1065h4v4h-4zM930 1065h8v4h-8zM990 1065h8v4h-8zM1034 1065h8v4h-8zM1046 1065h20v4h-20zM1102 1065h4v4h-4zM922 1069h4v4h-4zM946 1069h4v4h-4zM978 1069h12v4h-12zM1054 1069h8v4h-8zM1106 1069h12v4h-12zM926 1073h8v4h-8zM946 1073h4v4h-4zM974 1073h12v4h-12zM946 1077h4v4h-4zM974 1077h4v4h-4zM934 1081h4v4h-4zM946 1081h4v4h-4zM1058 1081h8v4h-8zM934 1085h12v4h-12zM970 1085h4v4h-4zM1058 1085h12v4h-12zM966 1089h4v4h-4zM1058 1089h4v4h-4zM1070 1089h12v4h-12zM962 1093h8v4h-8zM966 1097h8v4h-8zM1054 1097h4v4h-4zM970 1101h84v4h-84zM978 1105h76v4h-76zM978 1109h76v4h-76zM978 1113h76v4h-76z"/><path fill="#8a8a8a" d="M930 889h16v4h-16zM922 893h24v4h-24zM918 897h20v4h-20zM946 897h4v4h-4zM1066 897h8v4h-8zM918 901h20v4h-20zM950 901h4v4h-4zM1066 901h4v4h-4zM1074 901h4v4h-4zM918 905h12v4h-12zM934 905h4v4h-4zM954 905h4v4h-4zM1074 905h4v4h-4zM1086 905h16v4h-16zM918 909h20v4h-20zM958 909h4v4h-4zM1094 909h4v4h-4zM966 913h4v4h-4zM994 913h8v4h-8zM970 917h4v4h-4zM994 917h8v4h-8zM970 921h4v4h-4zM918 925h4v4h-4zM918 929h4v4h-4zM914 933h4v4h-4zM966 933h4v4h-4zM902 937h12v4h-12zM962 941h4v4h-4zM958 949h4v4h-4zM954 961h4v4h-4zM954 965h4v4h-4zM954 969h4v4h-4zM902 981h16v4h-16zM938 981h8v4h-8zM954 981h4v4h-4zM1090 981h8v4h-8zM918 985h4v4h-4zM938 985h4v4h-4zM946 985h8v4h-8zM1094 985h4v4h-4zM1078 989h4v4h-4zM1078 993h4v4h-4zM1094 993h4v4h-4zM914 997h8v4h-8zM1082 997h4v4h-4zM1098 997h4v4h-4zM902 1001h20v4h-20zM934 1001h4v4h-4zM1082 1001h4v4h-4zM1102 1001h4v4h-4zM902 1005h32v4h-32zM1086 1005h4v4h-4zM1098 1005h8v4h-8zM926 1009h4v4h-4zM1030 1025h4v4h-4zM1026 1029h8v4h-8zM1026 1033h8v4h-8zM1026 1037h4v4h-4zM1066 1041h16v4h-16zM1058 1045h12v4h-12zM1078 1045h12v4h-12zM1010 1049h8v4h-8zM1022 1049h4v4h-4zM1046 1049h16v4h-16zM1086 1049h8v4h-8zM958 1053h8v4h-8zM998 1053h12v4h-12zM1026 1053h4v4h-4zM1046 1053h16v4h-16zM1094 1053h4v4h-4zM938 1057h4v4h-4zM958 1057h8v4h-8zM982 1057h20v4h-20zM1042 1057h16v4h-16zM1098 1057h4v4h-4zM934 1061h4v4h-4zM946 1061h4v4h-4zM958 1061h4v4h-4zM974 1061h24v4h-24zM1030 1061h12v4h-12zM1102 1061h4v4h-4zM946 1065h12v4h-12zM974 1065h16v4h-16zM1106 1065h12v4h-12zM950 1069h8v4h-8zM974 1069h4v4h-4zM922 1073h4v4h-4zM950 1073h8v4h-8zM926 1077h8v4h-8zM950 1077h8v4h-8zM930 1081h4v4h-4zM950 1081h12v4h-12zM970 1081h4v4h-4zM930 1085h4v4h-4zM946 1085h16v4h-16zM966 1085h4v4h-4zM1086 1085h8v4h-8zM1098 1085h20v4h-20zM930 1089h36v4h-36zM1062 1089h8v4h-8zM1082 1089h4v4h-4zM934 1093h28v4h-28zM1058 1093h24v4h-24zM918 1097h8v4h-8zM942 1097h24v4h-24zM1058 1097h8v4h-8zM918 1101h8v4h-8zM950 1101h20v4h-20zM1054 1101h12v4h-12zM918 1105h8v4h-8zM954 1105h24v4h-24zM1054 1105h12v4h-12zM918 1109h8v4h-8zM954 1109h24v4h-24zM1054 1109h12v4h-12zM918 1113h8v4h-8zM954 1113h24v4h-24zM1054 1113h12v4h-12z"/><path fill="#8e8e8e" d="M902 877h48v4h-48zM974 877h20v4h-20zM902 881h48v4h-48zM974 881h20v4h-20zM902 885h48v4h-48zM974 885h20v4h-20zM902 889h28v4h-28zM946 889h4v4h-4zM974 889h16v4h-16zM902 893h20v4h-20zM946 893h4v4h-4zM974 893h16v4h-16zM1062 893h12v4h-12zM902 897h16v4h-16zM950 897h4v4h-4zM974 897h16v4h-16zM1062 897h4v4h-4zM1074 897h4v4h-4zM1094 897h12v4h-12zM902 901h16v4h-16zM954 901h4v4h-4zM970 901h24v4h-24zM1062 901h4v4h-4zM1078 901h28v4h-28zM902 905h16v4h-16zM930 905h4v4h-4zM958 905h40v4h-40zM1070 905h4v4h-4zM1078 905h8v4h-8zM1102 905h4v4h-4zM902 909h16v4h-16zM962 909h40v4h-40zM1086 909h8v4h-8zM1098 909h4v4h-4zM914 913h8v4h-8zM970 913h24v4h-24zM1002 913h4v4h-4zM918 917h4v4h-4zM974 917h8v4h-8zM990 917h4v4h-4zM1002 917h4v4h-4zM918 921h4v4h-4zM974 921h4v4h-4zM994 921h8v4h-8zM970 925h4v4h-4zM914 929h4v4h-4zM970 929h4v4h-4zM902 933h12v4h-12zM970 933h4v4h-4zM966 937h4v4h-4zM966 941h4v4h-4zM962 945h4v4h-4zM958 953h4v4h-4zM1098 953h4v4h-4zM958 957h4v4h-4zM1098 957h4v4h-4zM958 961h4v4h-4zM1098 961h4v4h-4zM1090 977h8v4h-8zM1086 981h4v4h-4zM1098 981h4v4h-4zM902 985h12v4h-12zM942 985h4v4h-4zM954 985h4v4h-4zM1078 985h4v4h-4zM1098 985h8v4h-8zM918 989h4v4h-4zM938 989h16v4h-16zM1074 989h4v4h-4zM1098 989h8v4h-8zM902 993h12v4h-12zM918 993h4v4h-4zM938 993h4v4h-4zM1074 993h4v4h-4zM1098 993h20v4h-20zM902 997h12v4h-12zM938 997h4v4h-4zM1070 997h12v4h-12zM1102 997h16v4h-16zM938 1001h4v4h-4zM1066 1001h8v4h-8zM1078 1001h4v4h-4zM1106 1001h12v4h-12zM934 1005h8v4h-8zM1082 1005h4v4h-4zM1106 1005h12v4h-12zM902 1009h24v4h-24zM930 1009h8v4h-8zM1090 1009h28v4h-28zM902 1013h12v4h-12zM922 1013h16v4h-16zM1094 1013h24v4h-24zM926 1017h12v4h-12zM1034 1017h8v4h-8zM1090 1017h28v4h-28zM930 1021h8v4h-8zM1030 1021h12v4h-12zM1086 1021h32v4h-32zM930 1025h8v4h-8zM1026 1025h4v4h-4zM1034 1025h8v4h-8zM1062 1025h56v4h-56zM1022 1029h4v4h-4zM1034 1029h8v4h-8zM1058 1029h60v4h-60zM902 1033h16v4h-16zM1022 1033h4v4h-4zM1034 1033h4v4h-4zM1050 1033h68v4h-68zM902 1037h20v4h-20zM1022 1037h4v4h-4zM1030 1037h4v4h-4zM1046 1037h72v4h-72zM902 1041h16v4h-16zM1018 1041h12v4h-12zM1046 1041h20v4h-20zM1082 1041h36v4h-36zM902 1045h12v4h-12zM1010 1045h16v4h-16zM1042 1045h16v4h-16zM1090 1045h28v4h-28zM954 1049h12v4h-12zM998 1049h12v4h-12zM1026 1049h4v4h-4zM1042 1049h4v4h-4zM1094 1049h24v4h-24zM954 1053h4v4h-4zM966 1053h4v4h-4zM982 1053h16v4h-16zM1042 1053h4v4h-4zM1098 1053h20v4h-20zM934 1057h4v4h-4zM942 1057h16v4h-16zM966 1057h16v4h-16zM1030 1057h4v4h-4zM1038 1057h4v4h-4zM1102 1057h16v4h-16zM902 1061h12v4h-12zM922 1061h12v4h-12zM950 1061h8v4h-8zM962 1061h12v4h-12zM1106 1061h12v4h-12zM902 1065h20v4h-20zM958 1065h8v4h-8zM970 1065h4v4h-4zM914 1069h8v4h-8zM958 1069h4v4h-4zM970 1069h4v4h-4zM918 1073h4v4h-4zM958 1073h4v4h-4zM970 1073h4v4h-4zM918 1077h8v4h-8zM958 1077h4v4h-4zM970 1077h4v4h-4zM922 1081h8v4h-8zM922 1085h8v4h-8zM962 1085h4v4h-4zM1094 1085h4v4h-4zM918 1089h12v4h-12zM1086 1089h4v4h-4zM1106 1089h12v4h-12zM914 1093h20v4h-20zM1082 1093h4v4h-4zM902 1097h16v4h-16zM926 1097h16v4h-16zM1066 1097h16v4h-16zM902 1101h16v4h-16zM926 1101h24v4h-24zM1066 1101h4v4h-4zM1074 1101h8v4h-8zM1106 1101h12v4h-12zM902 1105h16v4h-16zM926 1105h28v4h-28zM1066 1105h4v4h-4zM1078 1105h4v4h-4zM1102 1105h16v4h-16zM902 1109h16v4h-16zM926 1109h28v4h-28zM1066 1109h4v4h-4zM1078 1109h4v4h-4zM1102 1109h16v4h-16zM902 1113h16v4h-16zM926 1113h28v4h-28zM1066 1113h4v4h-4zM1078 1113h4v4h-4zM1102 1113h16v4h-16z"/><path fill="#929292" d="M950 877h8v4h-8zM962 877h12v4h-12zM994 877h24v4h-24zM1030 877h4v4h-4zM1050 877h68v4h-68zM950 881h8v4h-8zM962 881h12v4h-12zM994 881h24v4h-24zM1030 881h4v4h-4zM1050 881h68v4h-68zM950 885h8v4h-8zM962 885h12v4h-12zM994 885h24v4h-24zM1030 885h4v4h-4zM1050 885h68v4h-68zM950 889h4v4h-4zM966 889h8v4h-8zM990 889h20v4h-20zM1058 889h24v4h-24zM1086 889h32v4h-32zM950 893h4v4h-4zM966 893h8v4h-8zM990 893h12v4h-12zM1058 893h4v4h-4zM1074 893h8v4h-8zM1090 893h28v4h-28zM966 897h8v4h-8zM990 897h8v4h-8zM1058 897h4v4h-4zM1078 897h16v4h-16zM1106 897h12v4h-12zM958 901h12v4h-12zM994 901h8v4h-8zM1058 901h4v4h-4zM1106 901h12v4h-12zM998 905h8v4h-8zM1066 905h4v4h-4zM1106 905h12v4h-12zM1002 909h4v4h-4zM1074 909h12v4h-12zM1102 909h16v4h-16zM902 913h12v4h-12zM1090 913h16v4h-16zM902 917h16v4h-16zM982 917h8v4h-8zM1006 917h4v4h-4zM978 921h4v4h-4zM990 921h4v4h-4zM1002 921h4v4h-4zM914 925h4v4h-4zM974 925h8v4h-8zM902 929h12v4h-12zM974 929h8v4h-8zM974 933h8v4h-8zM970 937h8v4h-8zM970 941h4v4h-4zM966 945h4v4h-4zM962 949h4v4h-4zM1098 949h4v4h-4zM962 953h4v4h-4zM1102 953h16v4h-16zM1094 957h4v4h-4zM1102 957h16v4h-16zM1094 961h4v4h-4zM1102 961h16v4h-16zM958 965h4v4h-4zM1094 965h24v4h-24zM958 969h4v4h-4zM1094 969h24v4h-24zM958 973h4v4h-4zM1090 973h28v4h-28zM958 977h4v4h-4zM1086 977h4v4h-4zM1098 977h20v4h-20zM958 981h4v4h-4zM1082 981h4v4h-4zM1102 981h16v4h-16zM914 985h4v4h-4zM1074 985h4v4h-4zM1106 985h12v4h-12zM902 989h16v4h-16zM1070 989h4v4h-4zM1106 989h12v4h-12zM914 993h4v4h-4zM942 993h8v4h-8zM1066 993h8v4h-8zM942 997h4v4h-4zM1062 997h8v4h-8zM942 1001h4v4h-4zM1062 1001h4v4h-4zM1074 1001h4v4h-4zM942 1005h4v4h-4zM1062 1005h12v4h-12zM1078 1005h4v4h-4zM938 1009h4v4h-4zM1062 1009h4v4h-4zM1086 1009h4v4h-4zM914 1013h8v4h-8zM938 1013h4v4h-4zM1062 1013h4v4h-4zM1086 1013h8v4h-8zM902 1017h16v4h-16zM922 1017h4v4h-4zM938 1017h4v4h-4zM1042 1017h4v4h-4zM1062 1017h8v4h-8zM1082 1017h8v4h-8zM902 1021h12v4h-12zM926 1021h4v4h-4zM938 1021h4v4h-4zM1026 1021h4v4h-4zM1042 1021h4v4h-4zM1058 1021h28v4h-28zM902 1025h12v4h-12zM926 1025h4v4h-4zM1022 1025h4v4h-4zM1042 1025h8v4h-8zM1054 1025h8v4h-8zM902 1029h16v4h-16zM926 1029h12v4h-12zM1042 1029h16v4h-16zM918 1033h16v4h-16zM1038 1033h12v4h-12zM922 1037h12v4h-12zM1018 1037h4v4h-4zM1034 1037h12v4h-12zM918 1041h12v4h-12zM1010 1041h8v4h-8zM1030 1041h4v4h-4zM1038 1041h8v4h-8zM914 1045h8v4h-8zM958 1045h8v4h-8zM998 1045h12v4h-12zM1026 1045h4v4h-4zM902 1049h16v4h-16zM950 1049h4v4h-4zM966 1049h4v4h-4zM982 1049h16v4h-16zM902 1053h16v4h-16zM934 1053h20v4h-20zM970 1053h12v4h-12zM1038 1053h4v4h-4zM902 1057h20v4h-20zM930 1057h4v4h-4zM1034 1057h4v4h-4zM914 1061h8v4h-8zM966 1065h4v4h-4zM902 1069h12v4h-12zM962 1069h4v4h-4zM902 1073h16v4h-16zM902 1077h16v4h-16zM914 1081h8v4h-8zM962 1081h8v4h-8zM914 1085h8v4h-8zM902 1089h16v4h-16zM1090 1089h4v4h-4zM1102 1089h4v4h-4zM902 1093h12v4h-12zM1086 1093h4v4h-4zM1106 1093h12v4h-12zM1082 1097h4v4h-4zM1102 1097h16v4h-16zM1070 1101h4v4h-4zM1082 1101h4v4h-4zM1094 1101h12v4h-12zM1070 1105h8v4h-8zM1082 1105h4v4h-4zM1094 1105h8v4h-8zM1070 1109h8v4h-8zM1082 1109h4v4h-4zM1094 1109h8v4h-8zM1070 1113h8v4h-8zM1082 1113h4v4h-4zM1094 1113h8v4h-8z"/><path fill="#969696" d="M958 877h4v4h-4zM1018 877h12v4h-12zM1034 877h16v4h-16zM958 881h4v4h-4zM1018 881h12v4h-12zM1034 881h16v4h-16zM958 885h4v4h-4zM1018 885h12v4h-12zM1034 885h16v4h-16zM954 889h12v4h-12zM1010 889h8v4h-8zM1030 889h28v4h-28zM1082 889h4v4h-4zM954 893h4v4h-4zM962 893h4v4h-4zM1002 893h8v4h-8zM1050 893h8v4h-8zM1082 893h8v4h-8zM954 897h12v4h-12zM998 897h8v4h-8zM1054 897h4v4h-4zM1002 901h4v4h-4zM1054 901h4v4h-4zM1058 905h8v4h-8zM1006 909h4v4h-4zM1070 909h4v4h-4zM1006 913h4v4h-4zM1086 913h4v4h-4zM1106 913h12v4h-12zM1090 917h28v4h-28zM902 921h16v4h-16zM982 921h8v4h-8zM1006 921h4v4h-4zM1086 921h8v4h-8zM902 925h12v4h-12zM982 925h4v4h-4zM990 925h16v4h-16zM1086 925h8v4h-8zM982 929h4v4h-4zM982 933h8v4h-8zM978 937h12v4h-12zM974 941h8v4h-8zM970 945h8v4h-8zM1098 945h20v4h-20zM966 949h4v4h-4zM1102 949h16v4h-16zM1094 953h4v4h-4zM962 957h4v4h-4zM1090 965h4v4h-4zM1090 969h4v4h-4zM1086 973h4v4h-4zM1078 981h4v4h-4zM1070 985h4v4h-4zM954 989h4v4h-4zM1066 989h4v4h-4zM950 993h4v4h-4zM1062 993h4v4h-4zM946 997h8v4h-8zM946 1001h4v4h-4zM1058 1001h4v4h-4zM946 1005h4v4h-4zM1058 1005h4v4h-4zM1074 1005h4v4h-4zM942 1009h4v4h-4zM1058 1009h4v4h-4zM1066 1009h8v4h-8zM1082 1009h4v4h-4zM942 1013h4v4h-4zM1034 1013h8v4h-8zM1058 1013h4v4h-4zM1066 1013h4v4h-4zM1082 1013h4v4h-4zM918 1017h4v4h-4zM942 1017h4v4h-4zM1030 1017h4v4h-4zM1058 1017h4v4h-4zM1070 1017h12v4h-12zM914 1021h12v4h-12zM942 1021h4v4h-4zM1022 1021h4v4h-4zM1046 1021h4v4h-4zM1054 1021h4v4h-4zM914 1025h12v4h-12zM938 1025h4v4h-4zM1050 1025h4v4h-4zM918 1029h8v4h-8zM1018 1029h4v4h-4zM934 1033h4v4h-4zM1018 1033h4v4h-4zM934 1037h4v4h-4zM1014 1037h4v4h-4zM930 1041h8v4h-8zM1002 1041h8v4h-8zM1034 1041h4v4h-4zM922 1045h16v4h-16zM950 1045h8v4h-8zM990 1045h8v4h-8zM1030 1045h4v4h-4zM1038 1045h4v4h-4zM918 1049h8v4h-8zM930 1049h20v4h-20zM970 1049h4v4h-4zM978 1049h4v4h-4zM1038 1049h4v4h-4zM918 1053h4v4h-4zM930 1053h4v4h-4zM1030 1053h8v4h-8zM922 1057h8v4h-8zM966 1069h4v4h-4zM962 1073h8v4h-8zM962 1077h8v4h-8zM902 1081h12v4h-12zM902 1085h12v4h-12zM1094 1089h8v4h-8zM1090 1093h4v4h-4zM1102 1093h4v4h-4zM1086 1097h16v4h-16zM1086 1101h8v4h-8zM1086 1105h8v4h-8zM1086 1109h8v4h-8zM1086 1113h8v4h-8z"/><path fill="#9a9a9a" d="M1018 889h12v4h-12zM958 893h4v4h-4zM1010 893h4v4h-4zM1042 893h8v4h-8zM1006 897h4v4h-4zM1046 897h8v4h-8zM1006 901h4v4h-4zM1050 901h4v4h-4zM1006 905h4v4h-4zM1050 905h8v4h-8zM1050 909h20v4h-20zM1050 913h8v4h-8zM1078 913h8v4h-8zM1010 917h4v4h-4zM1046 917h8v4h-8zM1082 917h8v4h-8zM1010 921h4v4h-4zM1082 921h4v4h-4zM1094 921h24v4h-24zM986 925h4v4h-4zM1006 925h4v4h-4zM1082 925h4v4h-4zM1094 925h4v4h-4zM986 929h16v4h-16zM1086 929h8v4h-8zM1106 929h12v4h-12zM990 933h8v4h-8zM1102 933h16v4h-16zM990 937h8v4h-8zM1098 937h20v4h-20zM982 941h12v4h-12zM1098 941h20v4h-20zM978 945h8v4h-8zM970 949h8v4h-8zM1094 949h4v4h-4zM966 953h4v4h-4zM962 961h4v4h-4zM1090 961h4v4h-4zM962 965h4v4h-4zM1086 965h4v4h-4zM1086 969h4v4h-4zM1082 977h4v4h-4zM1070 981h8v4h-8zM958 985h4v4h-4zM1066 985h4v4h-4zM954 993h4v4h-4zM1058 997h4v4h-4zM950 1001h4v4h-4zM946 1009h4v4h-4zM1038 1009h4v4h-4zM1074 1009h8v4h-8zM946 1013h4v4h-4zM1030 1013h4v4h-4zM1042 1013h4v4h-4zM1070 1013h12v4h-12zM946 1017h4v4h-4zM1026 1017h4v4h-4zM1054 1017h4v4h-4zM1050 1021h4v4h-4zM942 1025h4v4h-4zM1018 1025h4v4h-4zM938 1029h4v4h-4zM1014 1033h4v4h-4zM1002 1037h12v4h-12zM950 1041h16v4h-16zM998 1041h4v4h-4zM938 1045h4v4h-4zM946 1045h4v4h-4zM966 1045h4v4h-4zM986 1045h4v4h-4zM1034 1045h4v4h-4zM926 1049h4v4h-4zM974 1049h4v4h-4zM1030 1049h8v4h-8zM922 1053h8v4h-8zM1094 1093h8v4h-8z"/><path fill="#9e9e9e" d="M1014 893h4v4h-4zM1030 893h12v4h-12zM1010 897h4v4h-4zM1042 897h4v4h-4zM1046 901h4v4h-4zM1046 905h4v4h-4zM1046 909h4v4h-4zM1010 913h4v4h-4zM1046 913h4v4h-4zM1058 913h20v4h-20zM1042 917h4v4h-4zM1054 917h4v4h-4zM1078 917h4v4h-4zM1042 921h8v4h-8zM1010 925h4v4h-4zM1098 925h20v4h-20zM1002 929h8v4h-8zM1082 929h4v4h-4zM1094 929h12v4h-12zM998 933h4v4h-4zM1086 933h16v4h-16zM998 937h4v4h-4zM1090 937h8v4h-8zM994 941h8v4h-8zM1094 941h4v4h-4zM986 945h8v4h-8zM1094 945h4v4h-4zM978 949h8v4h-8zM970 953h4v4h-4zM966 957h4v4h-4zM1090 957h4v4h-4zM1086 961h4v4h-4zM962 969h4v4h-4zM962 973h4v4h-4zM1082 973h4v4h-4zM1070 977h12v4h-12zM958 989h4v4h-4zM1062 989h4v4h-4zM1058 993h4v4h-4zM954 997h4v4h-4zM1054 1001h4v4h-4zM950 1005h4v4h-4zM1054 1005h4v4h-4zM950 1009h4v4h-4zM1034 1009h4v4h-4zM1042 1009h4v4h-4zM1054 1009h4v4h-4zM950 1013h4v4h-4zM1054 1013h4v4h-4zM950 1017h4v4h-4zM1022 1017h4v4h-4zM1046 1017h8v4h-8zM946 1021h4v4h-4zM1018 1021h4v4h-4zM946 1025h4v4h-4zM1014 1025h4v4h-4zM942 1029h8v4h-8zM1010 1029h8v4h-8zM938 1033h4v4h-4zM1006 1033h8v4h-8zM938 1037h4v4h-4zM950 1037h8v4h-8zM998 1037h4v4h-4zM938 1041h4v4h-4zM946 1041h4v4h-4zM966 1041h4v4h-4zM994 1041h4v4h-4zM942 1045h4v4h-4zM970 1045h16v4h-16z"/><path fill="#a2a2a2" d="M1018 893h12v4h-12zM1038 897h4v4h-4zM1010 901h4v4h-4zM1042 901h4v4h-4zM1010 905h4v4h-4zM1010 909h4v4h-4zM1042 909h4v4h-4zM1042 913h4v4h-4zM1014 917h4v4h-4zM1038 917h4v4h-4zM1058 917h20v4h-20zM1014 921h4v4h-4zM1038 921h4v4h-4zM1050 921h8v4h-8zM1078 921h4v4h-4zM1042 925h8v4h-8zM1078 925h4v4h-4zM1010 929h4v4h-4zM1078 929h4v4h-4zM1002 933h12v4h-12zM1078 933h8v4h-8zM1002 937h8v4h-8zM1078 937h12v4h-12zM1002 941h8v4h-8zM1090 941h4v4h-4zM994 945h8v4h-8zM986 949h8v4h-8zM974 953h8v4h-8zM1090 953h4v4h-4zM970 957h4v4h-4zM1082 957h8v4h-8zM966 961h4v4h-4zM1082 961h4v4h-4zM966 965h4v4h-4zM1082 965h4v4h-4zM1070 969h4v4h-4zM1082 969h4v4h-4zM1066 973h12v4h-12zM962 977h4v4h-4zM1066 977h4v4h-4zM962 981h4v4h-4zM1066 981h4v4h-4zM1062 985h4v4h-4zM1058 989h4v4h-4zM958 993h4v4h-4zM1054 997h4v4h-4zM954 1001h4v4h-4zM1042 1001h12v4h-12zM954 1005h4v4h-4zM1034 1005h20v4h-20zM1030 1009h4v4h-4zM1046 1009h4v4h-4zM1026 1013h4v4h-4zM1046 1013h4v4h-4zM1018 1017h4v4h-4zM950 1021h4v4h-4zM1014 1021h4v4h-4zM950 1025h4v4h-4zM1010 1025h4v4h-4zM950 1029h4v4h-4zM1006 1029h4v4h-4zM942 1033h16v4h-16zM1002 1033h4v4h-4zM942 1037h8v4h-8zM958 1037h8v4h-8zM942 1041h4v4h-4zM990 1041h4v4h-4z"/><path fill="#a6a6a6" d="M1014 897h4v4h-4zM1034 897h4v4h-4zM1042 905h4v4h-4zM1014 913h4v4h-4zM1038 913h4v4h-4zM1018 917h4v4h-4zM1034 917h4v4h-4zM1018 921h4v4h-4zM1034 921h4v4h-4zM1058 921h20v4h-20zM1014 925h4v4h-4zM1038 925h4v4h-4zM1050 925h4v4h-4zM1070 925h8v4h-8zM1014 929h4v4h-4zM1042 929h8v4h-8zM1070 929h8v4h-8zM1070 933h8v4h-8zM1010 937h8v4h-8zM1070 937h8v4h-8zM1010 941h4v4h-4zM1074 941h16v4h-16zM1002 945h8v4h-8zM1078 945h16v4h-16zM994 949h8v4h-8zM1078 949h8v4h-8zM1090 949h4v4h-4zM982 953h8v4h-8zM1062 953h28v4h-28zM974 957h8v4h-8zM1062 957h20v4h-20zM970 961h4v4h-4zM1062 961h20v4h-20zM1062 965h20v4h-20zM1062 969h8v4h-8zM1074 969h8v4h-8zM1078 973h4v4h-4zM1062 981h4v4h-4zM962 985h4v4h-4zM1054 993h4v4h-4zM1042 997h12v4h-12zM1038 1001h4v4h-4zM1030 1005h4v4h-4zM954 1009h4v4h-4zM1026 1009h4v4h-4zM1050 1009h4v4h-4zM954 1013h4v4h-4zM1022 1013h4v4h-4zM1050 1013h4v4h-4zM954 1017h4v4h-4zM1014 1017h4v4h-4zM954 1021h4v4h-4zM1010 1021h4v4h-4zM954 1025h4v4h-4zM1006 1025h4v4h-4zM954 1029h4v4h-4zM1002 1029h4v4h-4zM958 1033h4v4h-4zM998 1033h4v4h-4zM966 1037h4v4h-4zM994 1037h4v4h-4zM970 1041h4v4h-4zM986 1041h4v4h-4z"/><path fill="#aaaaaa" d="M1018 897h4v4h-4zM1030 897h4v4h-4zM1014 901h4v4h-4zM1038 901h4v4h-4zM1014 905h4v4h-4zM1038 905h4v4h-4zM1014 909h4v4h-4zM1038 909h4v4h-4zM1018 913h4v4h-4zM1030 913h8v4h-8zM1022 917h12v4h-12zM1022 921h12v4h-12zM1018 925h4v4h-4zM1030 925h8v4h-8zM1054 925h16v4h-16zM1034 929h8v4h-8zM1062 929h8v4h-8zM1014 933h4v4h-4zM1066 933h4v4h-4zM1018 937h4v4h-4zM1066 937h4v4h-4zM1014 941h4v4h-4zM1066 941h8v4h-8zM1010 945h4v4h-4zM1066 945h12v4h-12zM1002 949h8v4h-8zM1058 949h20v4h-20zM1086 949h4v4h-4zM990 953h8v4h-8zM1058 953h4v4h-4zM982 957h4v4h-4zM1058 957h4v4h-4zM974 961h4v4h-4zM1058 961h4v4h-4zM970 965h4v4h-4zM1058 965h4v4h-4zM966 969h4v4h-4zM1062 973h4v4h-4zM1062 977h4v4h-4zM1058 985h4v4h-4zM962 989h4v4h-4zM1054 989h4v4h-4zM1042 993h12v4h-12zM958 997h4v4h-4zM1038 997h4v4h-4zM1034 1001h4v4h-4zM1018 1013h4v4h-4zM958 1017h4v4h-4zM1010 1017h4v4h-4zM1006 1021h4v4h-4zM962 1033h4v4h-4zM974 1041h4v4h-4zM982 1041h4v4h-4z"/><path fill="#aeaeae" d="M1026 897h4v4h-4zM1034 901h4v4h-4zM1034 905h4v4h-4zM1034 909h4v4h-4zM1022 913h8v4h-8zM1022 925h8v4h-8zM1018 929h4v4h-4zM1030 929h4v4h-4zM1050 929h12v4h-12zM1018 933h4v4h-4zM1034 933h16v4h-16zM1058 933h8v4h-8zM1022 937h4v4h-4zM1062 937h4v4h-4zM1018 941h8v4h-8zM1062 941h4v4h-4zM1014 945h8v4h-8zM1058 945h8v4h-8zM1010 949h4v4h-4zM998 953h8v4h-8zM986 957h8v4h-8zM978 961h4v4h-4zM1058 969h4v4h-4zM966 973h4v4h-4zM1058 973h4v4h-4zM1058 981h4v4h-4zM1042 989h12v4h-12zM962 993h4v4h-4zM1038 993h4v4h-4zM1034 997h4v4h-4zM958 1001h4v4h-4zM1030 1001h4v4h-4zM958 1005h4v4h-4zM1026 1005h4v4h-4zM958 1009h4v4h-4zM1022 1009h4v4h-4zM958 1013h4v4h-4zM1014 1013h4v4h-4zM1006 1017h4v4h-4zM958 1021h4v4h-4zM1002 1021h4v4h-4zM958 1025h4v4h-4zM1002 1025h4v4h-4zM958 1029h4v4h-4zM998 1029h4v4h-4zM970 1037h4v4h-4zM990 1037h4v4h-4zM978 1041h4v4h-4z"/><path fill="#b2b2b2" d="M1022 897h4v4h-4zM1018 901h4v4h-4zM1030 901h4v4h-4zM1018 909h4v4h-4zM1026 909h8v4h-8zM1022 929h8v4h-8zM1022 933h12v4h-12zM1050 933h8v4h-8zM1026 937h36v4h-36zM1026 941h8v4h-8zM1054 941h8v4h-8zM1022 945h4v4h-4zM1054 945h4v4h-4zM1014 949h4v4h-4zM1054 949h4v4h-4zM1006 953h4v4h-4zM1054 953h4v4h-4zM994 957h8v4h-8zM1054 957h4v4h-4zM982 961h4v4h-4zM1054 961h4v4h-4zM974 965h4v4h-4zM1054 965h4v4h-4zM970 969h4v4h-4zM1054 969h4v4h-4zM1054 973h4v4h-4zM966 977h4v4h-4zM1058 977h4v4h-4zM966 981h4v4h-4zM966 985h4v4h-4zM1042 985h16v4h-16zM1038 989h4v4h-4zM1034 993h4v4h-4zM1030 997h4v4h-4zM1026 1001h4v4h-4zM1022 1005h4v4h-4zM1018 1009h4v4h-4zM1006 1013h8v4h-8zM962 1017h4v4h-4zM1002 1017h4v4h-4zM962 1021h4v4h-4zM962 1025h4v4h-4zM962 1029h4v4h-4zM966 1033h4v4h-4zM994 1033h4v4h-4z"/><path fill="#b6b6b6" d="M1018 905h4v4h-4zM1030 905h4v4h-4zM1022 909h4v4h-4zM1034 941h20v4h-20zM1026 945h8v4h-8zM1050 945h4v4h-4zM1018 949h8v4h-8zM1050 949h4v4h-4zM1010 953h8v4h-8zM1002 957h4v4h-4zM986 961h8v4h-8zM978 965h4v4h-4zM1050 973h4v4h-4zM1046 977h12v4h-12zM1042 981h16v4h-16zM1038 985h4v4h-4zM966 989h4v4h-4zM1034 989h4v4h-4zM1030 993h4v4h-4zM962 997h4v4h-4zM1026 997h4v4h-4zM1022 1001h4v4h-4zM1018 1005h4v4h-4zM1014 1009h4v4h-4zM962 1013h4v4h-4zM1002 1013h4v4h-4zM998 1025h4v4h-4zM966 1029h4v4h-4zM974 1037h4v4h-4z"/><path fill="#bababa" d="M1022 901h8v4h-8zM1022 905h8v4h-8zM1034 945h16v4h-16zM1026 949h8v4h-8zM1046 949h4v4h-4zM1018 953h4v4h-4zM1050 953h4v4h-4zM1006 957h8v4h-8zM994 961h8v4h-8zM982 965h4v4h-4zM1050 969h4v4h-4zM970 973h4v4h-4zM1046 973h4v4h-4zM1042 977h4v4h-4zM1038 981h4v4h-4zM1034 985h4v4h-4zM1030 989h4v4h-4zM966 993h4v4h-4zM1026 993h4v4h-4zM1018 997h8v4h-8zM962 1001h4v4h-4zM1018 1001h4v4h-4zM962 1005h4v4h-4zM962 1009h4v4h-4zM1002 1009h12v4h-12zM966 1017h4v4h-4zM998 1017h4v4h-4zM966 1021h4v4h-4zM998 1021h4v4h-4zM966 1025h4v4h-4zM994 1029h4v4h-4zM970 1033h4v4h-4zM986 1037h4v4h-4z"/><path fill="#bebebe" d="M1034 949h12v4h-12zM1022 953h20v4h-20zM1046 953h4v4h-4zM1014 957h4v4h-4zM1050 957h4v4h-4zM1002 961h4v4h-4zM986 965h8v4h-8zM1050 965h4v4h-4zM974 969h4v4h-4zM1042 969h8v4h-8zM1038 973h8v4h-8zM970 977h4v4h-4zM1038 977h4v4h-4zM970 981h4v4h-4zM1034 981h4v4h-4zM970 985h4v4h-4zM1030 985h4v4h-4zM1026 989h4v4h-4zM1018 993h8v4h-8zM966 997h4v4h-4zM1014 997h4v4h-4zM1014 1001h4v4h-4zM1002 1005h16v4h-16zM998 1009h4v4h-4zM966 1013h4v4h-4zM998 1013h4v4h-4zM990 1033h4v4h-4zM978 1037h8v4h-8z"/><path fill="#c2c2c2" d="M1042 953h4v4h-4zM1018 957h24v4h-24zM1006 961h8v4h-8zM1038 961h4v4h-4zM1050 961h4v4h-4zM994 965h8v4h-8zM1038 965h12v4h-12zM978 969h4v4h-4zM1038 969h4v4h-4zM1034 973h4v4h-4zM1034 977h4v4h-4zM1030 981h4v4h-4zM970 989h4v4h-4zM1018 989h8v4h-8zM970 993h4v4h-4zM1014 993h4v4h-4zM966 1001h4v4h-4zM966 1005h4v4h-4zM966 1009h4v4h-4zM994 1025h4v4h-4zM970 1029h4v4h-4z"/><path fill="#c6c6c6" d="M1042 957h8v4h-8zM1014 961h24v4h-24zM1042 961h8v4h-8zM1002 965h8v4h-8zM1030 965h8v4h-8zM982 969h12v4h-12zM1034 969h4v4h-4zM974 973h4v4h-4zM1030 973h4v4h-4zM1030 977h4v4h-4zM1026 981h4v4h-4zM1022 985h8v4h-8zM1014 989h4v4h-4zM1010 993h4v4h-4zM970 997h4v4h-4zM1010 997h4v4h-4zM970 1001h4v4h-4zM1002 1001h12v4h-12zM970 1005h4v4h-4zM998 1005h4v4h-4zM970 1009h4v4h-4zM970 1013h4v4h-4zM970 1017h4v4h-4zM994 1017h4v4h-4zM970 1021h4v4h-4zM994 1021h4v4h-4zM970 1025h4v4h-4zM974 1033h4v4h-4z"/><path fill="#cacaca" d="M1010 965h4v4h-4zM1022 965h8v4h-8zM994 969h12v4h-12zM1026 969h8v4h-8zM1026 973h4v4h-4zM974 977h4v4h-4zM1026 977h4v4h-4zM974 981h4v4h-4zM1022 981h4v4h-4zM1014 985h8v4h-8zM1010 989h4v4h-4zM998 993h8v4h-8zM998 997h12v4h-12zM998 1001h4v4h-4zM974 1005h4v4h-4zM974 1009h4v4h-4zM994 1009h4v4h-4zM994 1013h4v4h-4zM990 1029h4v4h-4zM986 1033h4v4h-4z"/><path fill="#cecece" d="M1014 965h8v4h-8zM1006 969h8v4h-8zM1022 969h4v4h-4zM978 973h4v4h-4zM998 973h4v4h-4zM1022 973h4v4h-4zM1022 977h4v4h-4zM1018 981h4v4h-4zM974 985h4v4h-4zM1010 985h4v4h-4zM974 989h4v4h-4zM998 989h12v4h-12zM974 993h4v4h-4zM1006 993h4v4h-4zM974 997h4v4h-4zM974 1001h4v4h-4zM978 1005h4v4h-4zM974 1013h4v4h-4zM974 1029h4v4h-4zM978 1033h4v4h-4z"/><path fill="#d2d2d2" d="M1014 969h8v4h-8zM982 973h16v4h-16zM1002 973h20v4h-20zM998 977h24v4h-24zM1010 981h8v4h-8zM998 985h12v4h-12zM994 989h4v4h-4zM994 993h4v4h-4zM994 997h4v4h-4zM978 1001h4v4h-4zM994 1001h4v4h-4zM994 1005h4v4h-4zM978 1009h4v4h-4zM990 1013h4v4h-4zM974 1017h4v4h-4zM990 1017h4v4h-4zM990 1021h4v4h-4zM990 1025h4v4h-4zM982 1033h4v4h-4z"/><path fill="#d7d7d7" d="M978 977h4v4h-4zM994 977h4v4h-4zM978 981h4v4h-4zM998 981h12v4h-12zM978 997h4v4h-4zM982 1005h4v4h-4zM982 1009h4v4h-4zM990 1009h4v4h-4zM978 1013h4v4h-4zM974 1021h4v4h-4zM974 1025h4v4h-4z"/><path fill="#dbdbdb" d="M982 977h12v4h-12zM994 981h4v4h-4zM978 985h4v4h-4zM994 985h4v4h-4zM978 989h4v4h-4zM978 993h4v4h-4zM982 1001h4v4h-4zM990 1005h4v4h-4zM986 1009h4v4h-4zM982 1013h8v4h-8zM986 1029h4v4h-4z"/><path fill="#dfdfdf" d="M982 981h4v4h-4zM990 981h4v4h-4zM990 989h4v4h-4zM990 993h4v4h-4zM990 997h4v4h-4zM990 1001h4v4h-4zM986 1005h4v4h-4zM978 1017h4v4h-4zM986 1017h4v4h-4zM978 1029h4v4h-4z"/><path fill="#e3e3e3" d="M986 981h4v4h-4zM982 985h4v4h-4zM990 985h4v4h-4zM982 997h4v4h-4zM986 1001h4v4h-4zM982 1017h4v4h-4zM978 1021h4v4h-4zM986 1021h4v4h-4zM978 1025h4v4h-4zM986 1025h4v4h-4zM982 1029h4v4h-4z"/><path fill="#e7e7e7" d="M986 985h4v4h-4zM982 989h8v4h-8zM982 993h8v4h-8zM986 997h4v4h-4zM982 1021h4v4h-4z"/><path fill="#ebebeb" d="M982 1025h4v4h-4z"/></g></g><rect x="912.4" y="887.6" width="194.1" height="216.9" fill="none" stroke="#262626" stroke-width="1.1"/><path d="M954.6 1104.5v-3.0M954.6 887.6v3.0M996.8 1104.5v-3.0M996.8 887.6v3.0M1039.0 1104.5v-3.0M1039.0 887.6v3.0M1081.2 1104.5v-3.0M1081.2 887.6v3.0M912.4 1057.3h3.0M1106.5 1057.3h-3.0M912.4 1010.2h3.0M1106.5 1010.2h-3.0M912.4 963.0h3.0M1106.5 963.0h-3.0M912.4 915.9h3.0M1106.5 915.9h-3.0" stroke="#262626" stroke-width="1.1" fill="none"/><text x="1009.5" y="849.6" text-anchor="middle">True–shuffled</text><text x="954.6" y="1136.4" text-anchor="middle">0</text><text x="1039.0" y="1136.4" text-anchor="middle">1</text><polygon points="1022.0,930.1 1039.0,930.1 1043.4,934.9 1043.4,944.6 1051.0,953.5 1051.6,963.6 1064.3,977.4 1068.7,973.0 1068.7,963.6 1072.5,958.5 1089.5,958.5 1093.3,962.9 1089.5,967.3 1081.3,967.3 1068.7,981.9 1076.3,991.3 1052.3,1019.1 1059.2,1029.2 1055.8,1033.4 1030.4,1005.9 1026.4,1009.9 1026.4,1029.8 1022.2,1033.6 1018.2,1029.2 1018.2,1020.4 1013.8,1014.7 1005.6,1024.2 996.7,1024.5 993.3,1029.0 1000.9,1038.4 996.7,1043.1 988.5,1043.1 980.1,1034.3 975.9,1038.4 975.9,1057.6 971.7,1062.0 967.4,1057.6 967.4,1047.5 959.1,1038.4 967.4,1029.8 967.4,981.9 988.5,958.5 996.7,958.5 1005.6,967.7 1026.4,944.6 1018.2,934.9" fill="none" stroke="#000" stroke-width="1.4" stroke-linejoin="miter"/><path d="M1030.4 968.6L1034.6 972.8L1030.4 976.9L1026.3 972.8Z" fill="none" stroke="#000" stroke-width="1.4"/><path d="M1055.8 987.2L1060.0 991.3L1055.8 995.5L1051.6 991.3Z" fill="none" stroke="#000" stroke-width="1.4"/><rect x="886.2" y="887.5" width="8.5" height="216.9" fill="url(#cbg)" stroke="#333" stroke-width="1"/><path d="M894.7 905.6h-2.5M894.7 923.6h-2.5M894.7 941.7h-2.5M894.7 959.8h-2.5M894.7 977.9h-2.5M894.7 996.0h-2.5M894.7 1014.0h-2.5M894.7 1032.1h-2.5M894.7 1050.2h-2.5M894.7 1068.2h-2.5M894.7 1086.3h-2.5" stroke="#262626" stroke-width="1" fill="none"/><rect x="1110.7" y="887.6" width="9.2" height="216.9" fill="url(#cbg)" stroke="#333" stroke-width="1"/><path d="M1119.9 923.8h-2.5M1119.9 959.9h-2.5M1119.9 996.0h-2.5M1119.9 1032.2h-2.5M1119.9 1068.3h-2.5" stroke="#262626" stroke-width="1" fill="none"/><text x="890.2" y="875.4" text-anchor="middle" font-size="24">3</text><text x="889.5" y="1136.4" text-anchor="middle" font-size="24">−3</text><text x="1115.8" y="875.4" text-anchor="middle" font-size="24">1.5</text><text x="1113.0" y="1136.4" text-anchor="middle" font-size="24">−1.5</text><text x="789.0" y="1180.5" text-anchor="middle">Retrieval time (s)</text><text x="434.0" y="995.0" text-anchor="middle" transform="rotate(-90 434.0 995.0)">Encoding time (s)</text><text x="1138.4" y="995.7" text-anchor="middle" font-size="25" transform="rotate(90 1138.4 995.7)">Reinstatement (<tspan font-style="italic">z</tspan>)</text><text x="-1.5" y="807.2" font-size="42" font-weight="bold">d</text><text x="1208.0" y="807.2" font-size="42" font-weight="bold">f</text><path d="M79.7 863.1V1105.8H351.7" stroke="#262626" stroke-width="1.3" fill="none"/><path d="M79.7 1105.8v-3.5M133.8 1105.8v-3.5M188.0 1105.8v-3.5M242.1 1105.8v-3.5M296.3 1105.8v-3.5M350.4 1105.8v-3.5M79.7 1093.8h3.5M79.7 1070.7h3.5M79.7 1047.7h3.5M79.7 1024.7h3.5M79.7 1001.6h3.5M79.7 978.6h3.5M79.7 955.6h3.5M79.7 932.6h3.5M79.7 909.5h3.5M79.7 886.5h3.5M79.7 863.5h3.5" stroke="#262626" stroke-width="1.2" fill="none"/><path d="M79.7 1056.1V1062.1M77.7 1056.1h4M77.7 1062.1h4M90.5 1054.0V1060.1M88.5 1054.0h4M88.5 1060.1h4M101.4 1054.5V1059.6M99.4 1054.5h4M99.4 1059.6h4M112.2 1055.3V1060.4M110.2 1055.3h4M110.2 1060.4h4M123.0 1052.5V1057.6M121.0 1052.5h4M121.0 1057.6h4M133.8 1053.3V1058.3M131.8 1053.3h4M131.8 1058.3h4M144.7 1050.3V1057.8M142.7 1050.3h4M142.7 1057.8h4M155.5 1038.6V1047.7M153.5 1038.6h4M153.5 1047.7h4M166.3 1026.8V1036.9M164.3 1026.8h4M164.3 1036.9h4M177.2 1015.4V1028.0M175.2 1015.4h4M175.2 1028.0h4M188.0 1006.1V1021.2M186.0 1006.1h4M186.0 1021.2h4M198.8 1002.8V1020.5M196.8 1002.8h4M196.8 1020.5h4M209.7 1007.1V1021.2M207.7 1007.1h4M207.7 1021.2h4M220.5 1014.1V1026.8M218.5 1014.1h4M218.5 1026.8h4M231.3 1024.2V1034.3M229.3 1024.2h4M229.3 1034.3h4M242.1 1031.8V1039.4M240.1 1031.8h4M240.1 1039.4h4M253.0 1037.6V1043.7M251.0 1037.6h4M251.0 1043.7h4M263.8 1043.2V1048.2M261.8 1043.2h4M261.8 1048.2h4M274.6 1045.7V1050.8M272.6 1045.7h4M272.6 1050.8h4M285.5 1047.0V1052.0M283.5 1047.0h4M283.5 1052.0h4M296.3 1047.0V1052.0M294.3 1047.0h4M294.3 1052.0h4M307.1 1047.2V1053.3M305.1 1047.2h4M305.1 1053.3h4M318.0 1047.7V1053.8M316.0 1047.7h4M316.0 1053.8h4M328.8 1049.0V1055.1M326.8 1049.0h4M326.8 1055.1h4M79.7 1068.4V1076.0M77.7 1068.4h4M77.7 1076.0h4M90.5 1067.2V1073.2M88.5 1067.2h4M88.5 1073.2h4M101.4 1069.7V1077.3M99.4 1069.7h4M99.4 1077.3h4M112.2 1072.5V1078.5M110.2 1072.5h4M110.2 1078.5h4M123.0 1073.0V1079.0M121.0 1073.0h4M121.0 1079.0h4M133.8 1072.5V1078.5M131.8 1072.5h4M131.8 1078.5h4M144.7 1057.1V1067.2M142.7 1057.1h4M142.7 1067.2h4M155.5 1021.7V1041.9M153.5 1021.7h4M153.5 1041.9h4M166.3 991.4V1014.1M164.3 991.4h4M164.3 1014.1h4M177.2 978.0V997.2M175.2 978.0h4M175.2 997.2h4M188.0 967.4V985.1M186.0 967.4h4M186.0 985.1h4M198.8 969.4V984.6M196.8 969.4h4M196.8 984.6h4M209.7 980.1V992.7M207.7 980.1h4M207.7 992.7h4M220.5 992.2V1003.3M218.5 992.2h4M218.5 1003.3h4M231.3 1000.8V1009.8M229.3 1000.8h4M229.3 1009.8h4M242.1 1007.8V1015.4M240.1 1007.8h4M240.1 1015.4h4M253.0 1017.9V1025.5M251.0 1017.9h4M251.0 1025.5h4M263.8 1024.5V1030.6M261.8 1024.5h4M261.8 1030.6h4M274.6 1028.3V1034.3M272.6 1028.3h4M272.6 1034.3h4M285.5 1031.3V1037.4M283.5 1031.3h4M283.5 1037.4h4M296.3 1033.1V1040.7M294.3 1033.1h4M294.3 1040.7h4M307.1 1035.6V1043.2M305.1 1035.6h4M305.1 1043.2h4M318.0 1036.1V1043.7M316.0 1036.1h4M316.0 1043.7h4M328.8 1036.9V1044.4M326.8 1036.9h4M326.8 1044.4h4M79.7 1066.4V1075.5M77.7 1066.4h4M77.7 1075.5h4M90.5 1065.4V1071.5M88.5 1065.4h4M88.5 1071.5h4M101.4 1067.2V1074.7M99.4 1067.2h4M99.4 1074.7h4M112.2 1071.7V1077.8M110.2 1071.7h4M110.2 1077.8h4M123.0 1073.5V1079.5M121.0 1073.5h4M121.0 1079.5h4M133.8 1071.7V1077.8M131.8 1071.7h4M131.8 1077.8h4M144.7 1045.7V1058.3M142.7 1045.7h4M142.7 1058.3h4M155.5 999.0V1024.2M153.5 999.0h4M153.5 1024.2h4M166.3 959.8V982.6M164.3 959.8h4M164.3 982.6h4M177.2 953.3V972.5M175.2 953.3h4M175.2 972.5h4M188.0 956.8V974.5M186.0 956.8h4M186.0 974.5h4M198.8 968.7V983.8M196.8 968.7h4M196.8 983.8h4M209.7 982.6V995.2M207.7 982.6h4M207.7 995.2h4M220.5 996.0V1007.1M218.5 996.0h4M218.5 1007.1h4M231.3 1012.1V1021.2M229.3 1012.1h4M229.3 1021.2h4M242.1 1026.8V1034.3M240.1 1026.8h4M240.1 1034.3h4M253.0 1035.6V1043.2M251.0 1035.6h4M251.0 1043.2h4M263.8 1042.7V1048.7M261.8 1042.7h4M261.8 1048.7h4M274.6 1046.5V1052.5M272.6 1046.5h4M272.6 1052.5h4M285.5 1047.7V1053.8M283.5 1047.7h4M283.5 1053.8h4M296.3 1049.5V1057.1M294.3 1049.5h4M294.3 1057.1h4M307.1 1051.3V1060.4M305.1 1051.3h4M305.1 1060.4h4M318.0 1052.0V1066.2M316.0 1052.0h4M316.0 1066.2h4M328.8 1052.5V1062.6M326.8 1052.5h4M326.8 1062.6h4M79.7 1073.0V1083.1M77.7 1073.0h4M77.7 1083.1h4M90.5 1062.9V1080.6M88.5 1062.9h4M88.5 1080.6h4M101.4 1071.0V1086.1M99.4 1071.0h4M99.4 1086.1h4M112.2 1082.3V1092.4M110.2 1082.3h4M110.2 1092.4h4M123.0 1088.4V1095.5M121.0 1088.4h4M121.0 1095.5h4M133.8 1091.9V1098.0M131.8 1091.9h4M131.8 1098.0h4M144.7 1045.7V1058.3M142.7 1045.7h4M142.7 1058.3h4M155.5 973.7V988.9M153.5 973.7h4M153.5 988.9h4M166.3 921.2V941.4M164.3 921.2h4M164.3 941.4h4M177.2 941.4V960.6M175.2 941.4h4M175.2 960.6h4M188.0 964.9V982.6M186.0 964.9h4M186.0 982.6h4M198.8 986.4V1001.5M196.8 986.4h4M196.8 1001.5h4M209.7 1002.8V1015.4M207.7 1002.8h4M207.7 1015.4h4M220.5 1018.7V1029.8M218.5 1018.7h4M218.5 1029.8h4M231.3 1029.8V1038.9M229.3 1029.8h4M229.3 1038.9h4M242.1 1034.3V1041.9M240.1 1034.3h4M240.1 1041.9h4M253.0 1039.4V1047.0M251.0 1039.4h4M251.0 1047.0h4M263.8 1043.9V1050.0M261.8 1043.9h4M261.8 1050.0h4M274.6 1045.2V1051.3M272.6 1045.2h4M272.6 1051.3h4M285.5 1043.9V1050.0M283.5 1043.9h4M283.5 1050.0h4M296.3 1046.5V1052.5M294.3 1046.5h4M294.3 1052.5h4M307.1 1049.5V1057.1M305.1 1049.5h4M305.1 1057.1h4M318.0 1048.2V1055.8M316.0 1048.2h4M316.0 1055.8h4M328.8 1050.3V1057.8M326.8 1050.3h4M326.8 1057.8h4" stroke="#000" stroke-width="1.2" fill="none"/><polyline points="79.7,1059.1 90.5,1057.1 101.4,1057.1 112.2,1057.8 123.0,1055.1 133.8,1055.8 144.7,1054.0 155.5,1043.2 166.3,1031.8 177.2,1021.7 188.0,1013.6 198.8,1011.6 209.7,1014.1 220.5,1020.5 231.3,1029.3 242.1,1035.6 253.0,1040.7 263.8,1045.7 274.6,1048.2 285.5,1049.5 296.3,1049.5 307.1,1050.3 318.0,1050.8 328.8,1052.0" fill="none" stroke="#b940b9" stroke-width="2.2" stroke-linejoin="round"/><polyline points="79.7,1072.2 90.5,1070.2 101.4,1073.5 112.2,1075.5 123.0,1076.0 133.8,1075.5 144.7,1062.1 155.5,1031.8 166.3,1002.8 177.2,987.6 188.0,976.3 198.8,977.0 209.7,986.4 220.5,997.7 231.3,1005.3 242.1,1011.6 253.0,1021.7 263.8,1027.5 274.6,1031.3 285.5,1034.3 296.3,1036.9 307.1,1039.4 318.0,1039.9 328.8,1040.7" fill="none" stroke="#000000" stroke-width="2.2" stroke-linejoin="round"/><polyline points="79.7,1071.0 90.5,1068.4 101.4,1071.0 112.2,1074.7 123.0,1076.5 133.8,1074.7 144.7,1052.0 155.5,1011.6 166.3,971.2 177.2,962.9 188.0,965.7 198.8,976.3 209.7,988.9 220.5,1001.5 231.3,1016.7 242.1,1030.6 253.0,1039.4 263.8,1045.7 274.6,1049.5 285.5,1050.8 296.3,1053.3 307.1,1055.8 318.0,1059.1 328.8,1057.6" fill="none" stroke="#3a3aff" stroke-width="2.2" stroke-linejoin="round"/><polyline points="79.7,1078.0 90.5,1071.7 101.4,1078.5 112.2,1087.4 123.0,1091.9 133.8,1094.9 144.7,1052.0 155.5,981.3 166.3,931.3 177.2,951.0 188.0,973.7 198.8,993.9 209.7,1009.1 220.5,1024.2 231.3,1034.3 242.1,1038.1 253.0,1043.2 263.8,1047.0 274.6,1048.2 285.5,1047.0 296.3,1049.5 307.1,1053.3 318.0,1052.0 328.8,1054.0" fill="none" stroke="#3cb43c" stroke-width="2.2" stroke-linejoin="round"/><ellipse cx="155.5" cy="874.7" rx="4.3" ry="5.0" fill="#32b432" stroke="#000" stroke-width="1.1"/><ellipse cx="166.3" cy="874.7" rx="4.3" ry="5.0" fill="#32b432" stroke="#000" stroke-width="1.1"/><ellipse cx="177.2" cy="874.7" rx="4.3" ry="5.0" fill="#32b432" stroke="#000" stroke-width="1.1"/><ellipse cx="188.0" cy="874.7" rx="4.3" ry="5.0" fill="#32b432" stroke="#000" stroke-width="1.1"/><ellipse cx="198.8" cy="874.7" rx="4.3" ry="5.0" fill="#32b432" stroke="#000" stroke-width="1.1"/><ellipse cx="209.7" cy="874.7" rx="4.3" ry="5.0" fill="#32b432" stroke="#000" stroke-width="1.1"/><ellipse cx="220.5" cy="874.7" rx="4.3" ry="5.0" fill="#32b432" stroke="#000" stroke-width="1.1"/><ellipse cx="231.3" cy="874.7" rx="4.3" ry="5.0" fill="#32b432" stroke="#000" stroke-width="1.1"/><ellipse cx="155.5" cy="886.3" rx="4.3" ry="5.0" fill="#000" stroke="#000" stroke-width="1.1"/><ellipse cx="166.3" cy="886.3" rx="4.3" ry="5.0" fill="#000" stroke="#000" stroke-width="1.1"/><ellipse cx="177.2" cy="886.3" rx="4.3" ry="5.0" fill="#000" stroke="#000" stroke-width="1.1"/><ellipse cx="188.0" cy="886.3" rx="4.3" ry="5.0" fill="#000" stroke="#000" stroke-width="1.1"/><ellipse cx="198.8" cy="886.3" rx="4.3" ry="5.0" fill="#000" stroke="#000" stroke-width="1.1"/><ellipse cx="209.7" cy="886.3" rx="4.3" ry="5.0" fill="#000" stroke="#000" stroke-width="1.1"/><ellipse cx="220.5" cy="886.3" rx="4.3" ry="5.0" fill="#000" stroke="#000" stroke-width="1.1"/><ellipse cx="231.3" cy="886.3" rx="4.3" ry="5.0" fill="#000" stroke="#000" stroke-width="1.1"/><ellipse cx="242.1" cy="886.3" rx="4.3" ry="5.0" fill="#000" stroke="#000" stroke-width="1.1"/><ellipse cx="253.0" cy="886.3" rx="4.3" ry="5.0" fill="#000" stroke="#000" stroke-width="1.1"/><ellipse cx="263.8" cy="886.3" rx="4.3" ry="5.0" fill="#000" stroke="#000" stroke-width="1.1"/><ellipse cx="274.6" cy="886.3" rx="4.3" ry="5.0" fill="#000" stroke="#000" stroke-width="1.1"/><ellipse cx="285.5" cy="886.3" rx="4.3" ry="5.0" fill="#000" stroke="#000" stroke-width="1.1"/><ellipse cx="296.3" cy="886.3" rx="4.3" ry="5.0" fill="#000" stroke="#000" stroke-width="1.1"/><ellipse cx="155.5" cy="897.9" rx="4.3" ry="5.0" fill="#3737ff" stroke="#000" stroke-width="1.1"/><ellipse cx="166.3" cy="897.9" rx="4.3" ry="5.0" fill="#3737ff" stroke="#000" stroke-width="1.1"/><ellipse cx="177.2" cy="897.9" rx="4.3" ry="5.0" fill="#3737ff" stroke="#000" stroke-width="1.1"/><ellipse cx="188.0" cy="897.9" rx="4.3" ry="5.0" fill="#3737ff" stroke="#000" stroke-width="1.1"/><ellipse cx="198.8" cy="897.9" rx="4.3" ry="5.0" fill="#3737ff" stroke="#000" stroke-width="1.1"/><ellipse cx="209.7" cy="897.9" rx="4.3" ry="5.0" fill="#3737ff" stroke="#000" stroke-width="1.1"/><ellipse cx="220.5" cy="897.9" rx="4.3" ry="5.0" fill="#3737ff" stroke="#000" stroke-width="1.1"/><ellipse cx="231.3" cy="897.9" rx="4.3" ry="5.0" fill="#3737ff" stroke="#000" stroke-width="1.1"/><ellipse cx="242.1" cy="897.9" rx="4.3" ry="5.0" fill="#3737ff" stroke="#000" stroke-width="1.1"/><ellipse cx="253.0" cy="897.9" rx="4.3" ry="5.0" fill="#3737ff" stroke="#000" stroke-width="1.1"/><ellipse cx="155.5" cy="909.5" rx="4.3" ry="5.0" fill="#b932b9" stroke="#000" stroke-width="1.1"/><ellipse cx="166.3" cy="909.5" rx="4.3" ry="5.0" fill="#b932b9" stroke="#000" stroke-width="1.1"/><ellipse cx="177.2" cy="909.5" rx="4.3" ry="5.0" fill="#b932b9" stroke="#000" stroke-width="1.1"/><ellipse cx="188.0" cy="909.5" rx="4.3" ry="5.0" fill="#b932b9" stroke="#000" stroke-width="1.1"/><ellipse cx="198.8" cy="909.5" rx="4.3" ry="5.0" fill="#b932b9" stroke="#000" stroke-width="1.1"/><ellipse cx="209.7" cy="909.5" rx="4.3" ry="5.0" fill="#b932b9" stroke="#000" stroke-width="1.1"/><ellipse cx="220.5" cy="909.5" rx="4.3" ry="5.0" fill="#b932b9" stroke="#000" stroke-width="1.1"/><ellipse cx="231.3" cy="909.5" rx="4.3" ry="5.0" fill="#b932b9" stroke="#000" stroke-width="1.1"/><ellipse cx="242.1" cy="909.5" rx="4.3" ry="5.0" fill="#b932b9" stroke="#000" stroke-width="1.1"/><ellipse cx="253.0" cy="909.5" rx="4.3" ry="5.0" fill="#b932b9" stroke="#000" stroke-width="1.1"/><path d="M1319.4 863.1V1105.8H1590.4" stroke="#262626" stroke-width="1.3" fill="none"/><path d="M1319.4 1105.8v-3.5M1373.5 1105.8v-3.5M1427.5 1105.8v-3.5M1481.6 1105.8v-3.5M1535.6 1105.8v-3.5M1589.7 1105.8v-3.5M1319.4 1077.3h3.5M1319.4 1048.8h3.5M1319.4 1020.2h3.5M1319.4 991.7h3.5M1319.4 963.1h3.5M1319.4 934.6h3.5M1319.4 906.1h3.5M1319.4 877.5h3.5" stroke="#262626" stroke-width="1.2" fill="none"/><path d="M1319.4 1076.8V1091.9M1317.4 1076.8h4M1317.4 1091.9h4M1330.2 1074.2V1089.4M1328.2 1074.2h4M1328.2 1089.4h4M1341.0 1073.5V1088.6M1339.0 1073.5h4M1339.0 1088.6h4M1351.8 1074.7V1087.4M1349.8 1074.7h4M1349.8 1087.4h4M1362.6 1079.8V1092.4M1360.6 1079.8h4M1360.6 1092.4h4M1373.5 1061.6V1076.8M1371.5 1061.6h4M1371.5 1076.8h4M1384.3 1045.2V1065.4M1382.3 1045.2h4M1382.3 1065.4h4M1395.1 1041.2V1061.4M1393.1 1041.2h4M1393.1 1061.4h4M1405.9 1041.9V1062.1M1403.9 1041.9h4M1403.9 1062.1h4M1416.7 1041.9V1059.6M1414.7 1041.9h4M1414.7 1059.6h4M1427.5 1047.5V1062.6M1425.5 1047.5h4M1425.5 1062.6h4M1438.3 1055.3V1067.9M1436.3 1055.3h4M1436.3 1067.9h4M1449.1 1054.0V1069.2M1447.1 1054.0h4M1447.1 1069.2h4M1459.9 1046.5V1061.6M1457.9 1046.5h4M1457.9 1061.6h4M1470.7 1041.9V1059.6M1468.7 1041.9h4M1468.7 1059.6h4M1481.6 1041.2V1061.4M1479.6 1041.2h4M1479.6 1061.4h4M1492.4 1044.4V1067.2M1490.4 1044.4h4M1490.4 1067.2h4M1503.2 1049.5V1072.2M1501.2 1049.5h4M1501.2 1072.2h4M1514.0 1044.4V1064.6M1512.0 1044.4h4M1512.0 1064.6h4M1524.8 1049.5V1069.7M1522.8 1049.5h4M1522.8 1069.7h4M1535.6 1049.5V1067.2M1533.6 1049.5h4M1533.6 1067.2h4M1546.4 1052.8V1070.5M1544.4 1052.8h4M1544.4 1070.5h4M1557.2 1055.3V1073.0M1555.2 1055.3h4M1555.2 1073.0h4M1568.0 1059.6V1077.3M1566.0 1059.6h4M1566.0 1077.3h4M1319.4 1058.8V1076.5M1317.4 1058.8h4M1317.4 1076.5h4M1330.2 1062.1V1077.3M1328.2 1062.1h4M1328.2 1077.3h4M1341.0 1072.7V1087.9M1339.0 1072.7h4M1339.0 1087.9h4M1351.8 1071.7V1086.9M1349.8 1071.7h4M1349.8 1086.9h4M1362.6 1062.9V1078.0M1360.6 1062.9h4M1360.6 1078.0h4M1373.5 1057.6V1075.3M1371.5 1057.6h4M1371.5 1075.3h4M1384.3 1024.2V1049.5M1382.3 1024.2h4M1382.3 1049.5h4M1395.1 1009.1V1036.9M1393.1 1009.1h4M1393.1 1036.9h4M1405.9 1009.8V1037.6M1403.9 1009.8h4M1403.9 1037.6h4M1416.7 989.6V1030.1M1414.7 989.6h4M1414.7 1030.1h4M1427.5 988.9V1024.2M1425.5 988.9h4M1425.5 1024.2h4M1438.3 992.2V1027.5M1436.3 992.2h4M1436.3 1027.5h4M1449.1 1000.3V1038.1M1447.1 1000.3h4M1447.1 1038.1h4M1459.9 1004.0V1029.3M1457.9 1004.0h4M1457.9 1029.3h4M1470.7 1009.6V1034.8M1468.7 1009.6h4M1468.7 1034.8h4M1481.6 1022.5V1060.4M1479.6 1022.5h4M1479.6 1060.4h4M1492.4 1019.7V1055.1M1490.4 1019.7h4M1490.4 1055.1h4M1503.2 1019.2V1052.0M1501.2 1019.2h4M1501.2 1052.0h4M1514.0 1021.0V1051.3M1512.0 1021.0h4M1512.0 1051.3h4M1524.8 1033.1V1060.9M1522.8 1033.1h4M1522.8 1060.9h4M1535.6 1044.9V1070.2M1533.6 1044.9h4M1533.6 1070.2h4M1546.4 1053.3V1078.5M1544.4 1053.3h4M1544.4 1078.5h4M1557.2 1049.0V1071.7M1555.2 1049.0h4M1555.2 1071.7h4M1568.0 1045.2V1075.5M1566.0 1045.2h4M1566.0 1075.5h4M1319.4 1068.4V1088.6M1317.4 1068.4h4M1317.4 1088.6h4M1330.2 1070.7V1089.9M1328.2 1070.7h4M1328.2 1089.9h4M1341.0 1072.7V1087.9M1339.0 1072.7h4M1339.0 1087.9h4M1351.8 1052.8V1067.9M1349.8 1052.8h4M1349.8 1067.9h4M1362.6 1051.5V1069.2M1360.6 1051.5h4M1360.6 1069.2h4M1373.5 1064.1V1084.3M1371.5 1064.1h4M1371.5 1084.3h4M1384.3 1028.0V1063.4M1382.3 1028.0h4M1382.3 1063.4h4M1395.1 986.4V1016.7M1393.1 986.4h4M1393.1 1016.7h4M1405.9 965.7V996.0M1403.9 965.7h4M1403.9 996.0h4M1416.7 965.7V996.0M1414.7 965.7h4M1414.7 996.0h4M1427.5 978.8V1014.1M1425.5 978.8h4M1425.5 1014.1h4M1438.3 978.3V1013.6M1436.3 978.3h4M1436.3 1013.6h4M1449.1 969.4V1007.3M1447.1 969.4h4M1447.1 1007.3h4M1459.9 969.4V1004.8M1457.9 969.4h4M1457.9 1004.8h4M1470.7 965.4V1000.8M1468.7 965.4h4M1468.7 1000.8h4M1481.6 966.9V1002.3M1479.6 966.9h4M1479.6 1002.3h4M1492.4 986.4V1016.7M1490.4 986.4h4M1490.4 1016.7h4M1503.2 997.0V1024.7M1501.2 997.0h4M1501.2 1024.7h4M1514.0 1004.0V1029.3M1512.0 1004.0h4M1512.0 1029.3h4M1524.8 1017.9V1040.7M1522.8 1017.9h4M1522.8 1040.7h4M1535.6 1023.0V1045.7M1533.6 1023.0h4M1533.6 1045.7h4M1546.4 1026.8V1049.5M1544.4 1026.8h4M1544.4 1049.5h4M1557.2 1026.3V1046.5M1555.2 1026.3h4M1555.2 1046.5h4M1568.0 1011.6V1036.9M1566.0 1011.6h4M1566.0 1036.9h4M1319.4 1089.9V1110.1M1317.4 1089.9h4M1317.4 1110.1h4M1330.2 1067.2V1087.4M1328.2 1067.2h4M1328.2 1087.4h4M1341.0 1063.4V1078.5M1339.0 1063.4h4M1339.0 1078.5h4M1351.8 1068.4V1083.6M1349.8 1068.4h4M1349.8 1083.6h4M1362.6 1073.0V1090.7M1360.6 1073.0h4M1360.6 1090.7h4M1373.5 1081.1V1101.3M1371.5 1081.1h4M1371.5 1101.3h4M1384.3 993.9V1024.2M1382.3 993.9h4M1382.3 1024.2h4M1395.1 937.1V959.8M1393.1 937.1h4M1393.1 959.8h4M1405.9 945.5V970.7M1403.9 945.5h4M1403.9 970.7h4M1416.7 952.8V983.1M1414.7 952.8h4M1414.7 983.1h4M1427.5 946.7V982.1M1425.5 946.7h4M1425.5 982.1h4M1438.3 938.4V983.8M1436.3 938.4h4M1436.3 983.8h4M1449.1 942.2V982.6M1447.1 942.2h4M1447.1 982.6h4M1459.9 951.8V984.6M1457.9 951.8h4M1457.9 984.6h4M1470.7 976.3V1006.6M1468.7 976.3h4M1468.7 1006.6h4M1481.6 997.7V1023.0M1479.6 997.7h4M1479.6 1023.0h4M1492.4 1007.1V1032.3M1490.4 1007.1h4M1490.4 1032.3h4M1503.2 1017.2V1039.9M1501.2 1017.2h4M1501.2 1039.9h4M1514.0 1016.7V1036.9M1512.0 1016.7h4M1512.0 1036.9h4M1524.8 1014.6V1034.8M1522.8 1014.6h4M1522.8 1034.8h4M1535.6 1023.7V1043.9M1533.6 1023.7h4M1533.6 1043.9h4M1546.4 1024.2V1044.4M1544.4 1024.2h4M1544.4 1044.4h4M1557.2 1026.8V1046.0M1555.2 1026.8h4M1555.2 1046.0h4M1568.0 1026.0V1050.3M1566.0 1026.0h4M1566.0 1050.3h4" stroke="#000" stroke-width="1.2" fill="none"/><polyline points="1319.4,1084.3 1330.2,1081.8 1341.0,1081.1 1351.8,1081.1 1362.6,1086.1 1373.5,1069.2 1384.3,1055.3 1395.1,1051.3 1405.9,1052.0 1416.7,1050.8 1427.5,1055.1 1438.3,1061.6 1449.1,1061.6 1459.9,1054.0 1470.7,1050.8 1481.6,1051.3 1492.4,1055.8 1503.2,1060.9 1514.0,1054.5 1524.8,1059.6 1535.6,1058.3 1546.4,1061.6 1557.2,1064.1 1568.0,1068.4" fill="none" stroke="#b940b9" stroke-width="2.2" stroke-linejoin="round"/><polyline points="1319.4,1067.7 1330.2,1069.7 1341.0,1080.3 1351.8,1079.3 1362.6,1070.5 1373.5,1066.4 1384.3,1036.9 1395.1,1023.0 1405.9,1023.7 1416.7,1009.8 1427.5,1006.6 1438.3,1009.8 1449.1,1019.2 1459.9,1016.7 1470.7,1022.2 1481.6,1041.4 1492.4,1037.4 1503.2,1035.6 1514.0,1036.1 1524.8,1047.0 1535.6,1057.6 1546.4,1065.9 1557.2,1060.4 1568.0,1060.4" fill="none" stroke="#000000" stroke-width="2.2" stroke-linejoin="round"/><polyline points="1319.4,1078.5 1330.2,1080.3 1341.0,1080.3 1351.8,1060.4 1362.6,1060.4 1373.5,1074.2 1384.3,1045.7 1395.1,1001.5 1405.9,980.8 1416.7,980.8 1427.5,996.5 1438.3,996.0 1449.1,988.4 1459.9,987.1 1470.7,983.1 1481.6,984.6 1492.4,1001.5 1503.2,1010.9 1514.0,1016.7 1524.8,1029.3 1535.6,1034.3 1546.4,1038.1 1557.2,1036.4 1568.0,1024.2" fill="none" stroke="#3a3abf" stroke-width="2.2" stroke-linejoin="round"/><polyline points="1319.4,1100.0 1330.2,1077.3 1341.0,1071.0 1351.8,1076.0 1362.6,1081.8 1373.5,1091.2 1384.3,1009.1 1395.1,948.5 1405.9,958.1 1416.7,967.9 1427.5,964.4 1438.3,961.1 1449.1,962.4 1459.9,968.2 1470.7,991.4 1481.6,1010.4 1492.4,1019.7 1503.2,1028.5 1514.0,1026.8 1524.8,1024.7 1535.6,1033.8 1546.4,1034.3 1557.2,1036.4 1568.0,1038.1" fill="none" stroke="#3cb43c" stroke-width="2.2" stroke-linejoin="round"/><ellipse cx="1384.3" cy="873.1" rx="4.3" ry="4.8" fill="#32b432" stroke="#000" stroke-width="1.1"/><ellipse cx="1395.1" cy="873.1" rx="4.3" ry="4.8" fill="#32b432" stroke="#000" stroke-width="1.1"/><ellipse cx="1405.9" cy="873.1" rx="4.3" ry="4.8" fill="#32b432" stroke="#000" stroke-width="1.1"/><ellipse cx="1416.7" cy="873.1" rx="4.3" ry="4.8" fill="#32b432" stroke="#000" stroke-width="1.1"/><ellipse cx="1427.5" cy="873.1" rx="4.3" ry="4.8" fill="#32b432" stroke="#000" stroke-width="1.1"/><ellipse cx="1438.3" cy="873.1" rx="4.3" ry="4.8" fill="#32b432" stroke="#000" stroke-width="1.1"/><ellipse cx="1449.1" cy="873.1" rx="4.3" ry="4.8" fill="#32b432" stroke="#000" stroke-width="1.1"/><ellipse cx="1459.9" cy="873.1" rx="4.3" ry="4.8" fill="#32b432" stroke="#000" stroke-width="1.1"/><ellipse cx="1470.7" cy="873.1" rx="4.3" ry="4.8" fill="#32b432" stroke="#000" stroke-width="1.1"/><ellipse cx="1481.6" cy="873.1" rx="4.3" ry="4.8" fill="#32b432" stroke="#000" stroke-width="1.1"/><ellipse cx="1492.4" cy="873.1" rx="4.3" ry="4.8" fill="#32b432" stroke="#000" stroke-width="1.1"/><ellipse cx="1503.2" cy="873.1" rx="4.3" ry="4.8" fill="#32b432" stroke="#000" stroke-width="1.1"/><ellipse cx="1514.0" cy="873.1" rx="4.3" ry="4.8" fill="#32b432" stroke="#000" stroke-width="1.1"/><ellipse cx="1524.8" cy="873.1" rx="4.3" ry="4.8" fill="#32b432" stroke="#000" stroke-width="1.1"/><ellipse cx="1535.6" cy="873.1" rx="4.3" ry="4.8" fill="#32b432" stroke="#000" stroke-width="1.1"/><ellipse cx="1546.4" cy="873.1" rx="4.3" ry="4.8" fill="#32b432" stroke="#000" stroke-width="1.1"/><ellipse cx="1557.2" cy="873.1" rx="4.3" ry="4.8" fill="#32b432" stroke="#000" stroke-width="1.1"/><ellipse cx="1384.3" cy="883.2" rx="4.3" ry="4.8" fill="#3232b9" stroke="#000" stroke-width="1.1"/><ellipse cx="1395.1" cy="883.2" rx="4.3" ry="4.8" fill="#3232b9" stroke="#000" stroke-width="1.1"/><ellipse cx="1405.9" cy="883.2" rx="4.3" ry="4.8" fill="#3232b9" stroke="#000" stroke-width="1.1"/><ellipse cx="1416.7" cy="883.2" rx="4.3" ry="4.8" fill="#3232b9" stroke="#000" stroke-width="1.1"/><ellipse cx="1427.5" cy="883.2" rx="4.3" ry="4.8" fill="#3232b9" stroke="#000" stroke-width="1.1"/><ellipse cx="1438.3" cy="883.2" rx="4.3" ry="4.8" fill="#3232b9" stroke="#000" stroke-width="1.1"/><ellipse cx="1449.1" cy="883.2" rx="4.3" ry="4.8" fill="#3232b9" stroke="#000" stroke-width="1.1"/><ellipse cx="1459.9" cy="883.2" rx="4.3" ry="4.8" fill="#3232b9" stroke="#000" stroke-width="1.1"/><ellipse cx="1470.7" cy="883.2" rx="4.3" ry="4.8" fill="#3232b9" stroke="#000" stroke-width="1.1"/><ellipse cx="1481.6" cy="883.2" rx="4.3" ry="4.8" fill="#3232b9" stroke="#000" stroke-width="1.1"/><ellipse cx="1492.4" cy="883.2" rx="4.3" ry="4.8" fill="#3232b9" stroke="#000" stroke-width="1.1"/><ellipse cx="1503.2" cy="883.2" rx="4.3" ry="4.8" fill="#3232b9" stroke="#000" stroke-width="1.1"/><ellipse cx="1514.0" cy="883.2" rx="4.3" ry="4.8" fill="#3232b9" stroke="#000" stroke-width="1.1"/><ellipse cx="1524.8" cy="883.2" rx="4.3" ry="4.8" fill="#3232b9" stroke="#000" stroke-width="1.1"/><ellipse cx="1535.6" cy="883.2" rx="4.3" ry="4.8" fill="#3232b9" stroke="#000" stroke-width="1.1"/><ellipse cx="1546.4" cy="883.2" rx="4.3" ry="4.8" fill="#3232b9" stroke="#000" stroke-width="1.1"/><ellipse cx="1557.2" cy="883.2" rx="4.3" ry="4.8" fill="#3232b9" stroke="#000" stroke-width="1.1"/><ellipse cx="1568.0" cy="883.2" rx="4.3" ry="4.8" fill="#3232b9" stroke="#000" stroke-width="1.1"/><ellipse cx="1384.3" cy="893.2" rx="4.3" ry="4.8" fill="#000" stroke="#000" stroke-width="1.1"/><ellipse cx="1395.1" cy="893.2" rx="4.3" ry="4.8" fill="#000" stroke="#000" stroke-width="1.1"/><ellipse cx="1405.9" cy="893.2" rx="4.3" ry="4.8" fill="#000" stroke="#000" stroke-width="1.1"/><ellipse cx="1416.7" cy="893.2" rx="4.3" ry="4.8" fill="#000" stroke="#000" stroke-width="1.1"/><ellipse cx="1427.5" cy="893.2" rx="4.3" ry="4.8" fill="#000" stroke="#000" stroke-width="1.1"/><ellipse cx="1438.3" cy="893.2" rx="4.3" ry="4.8" fill="#000" stroke="#000" stroke-width="1.1"/><ellipse cx="1449.1" cy="893.2" rx="4.3" ry="4.8" fill="#000" stroke="#000" stroke-width="1.1"/><ellipse cx="1459.9" cy="893.2" rx="4.3" ry="4.8" fill="#000" stroke="#000" stroke-width="1.1"/><ellipse cx="1470.7" cy="893.2" rx="4.3" ry="4.8" fill="#000" stroke="#000" stroke-width="1.1"/><ellipse cx="1384.3" cy="903.3" rx="4.3" ry="4.8" fill="#b932b9" stroke="#000" stroke-width="1.1"/><ellipse cx="1395.1" cy="903.3" rx="4.3" ry="4.8" fill="#b932b9" stroke="#000" stroke-width="1.1"/><ellipse cx="1405.9" cy="903.3" rx="4.3" ry="4.8" fill="#b932b9" stroke="#000" stroke-width="1.1"/><ellipse cx="1416.7" cy="903.3" rx="4.3" ry="4.8" fill="#b932b9" stroke="#000" stroke-width="1.1"/><ellipse cx="1427.5" cy="903.3" rx="4.3" ry="4.8" fill="#b932b9" stroke="#000" stroke-width="1.1"/><ellipse cx="1438.3" cy="903.3" rx="4.3" ry="4.8" fill="#b932b9" stroke="#000" stroke-width="1.1"/><circle cx="124.0" cy="807.2" r="12.8" fill="#139e28" stroke="#000" stroke-width="2.8"/><circle cx="124.0" cy="841.3" r="12.8" fill="#3a3af5" stroke="#000" stroke-width="2.8"/><circle cx="236.6" cy="807.2" r="12.8" fill="#000" stroke="#000" stroke-width="2.8"/><circle cx="236.6" cy="839.2" r="12.8" fill="#b94cb9" stroke="#000" stroke-width="2.8"/><circle cx="1363.3" cy="807.2" r="12.8" fill="#139e28" stroke="#000" stroke-width="2.8"/><circle cx="1363.3" cy="841.3" r="12.8" fill="#1a4dc8" stroke="#000" stroke-width="2.8"/><circle cx="1475.9" cy="807.2" r="12.8" fill="#000" stroke="#000" stroke-width="2.8"/><circle cx="1475.9" cy="838.8" r="12.8" fill="#b94cb9" stroke="#000" stroke-width="2.8"/><text x="150.9" y="815.9" font-size="23.7">LOC</text><text x="151.5" y="850.2" font-size="23.7">PT</text><text x="263.5" y="815.9" font-size="23.7">PAR</text><text x="263.5" y="848.1" font-size="23.7">MTL</text><text x="65.2" y="942.9" text-anchor="end">1</text><text x="65.2" y="1058.0" text-anchor="end">0</text><text x="133.8" y="1138.0" text-anchor="middle">0</text><text x="242.1" y="1138.0" text-anchor="middle">1</text><text x="350.4" y="1138.0" text-anchor="middle">2</text><text x="214.2" y="1179.2" text-anchor="middle">Time (s)</text><text x="23.6" y="985.0" text-anchor="middle" transform="rotate(-90 23.6 985.0)">80–120 Hz power (<tspan font-style="italic">z</tspan>)</text><text x="1391.2" y="815.9" font-size="23.7">LOC</text><text x="1391.8" y="850.2" font-size="23.7">PT</text><text x="1503.8" y="817.0" font-size="23.7">PAR</text><text x="1503.8" y="848.1" font-size="23.7">MTL</text><text x="1303.0" y="944.9" text-anchor="end">1</text><text x="1303.0" y="1087.6" text-anchor="end">0</text><text x="1373.5" y="1138.0" text-anchor="middle">0</text><text x="1481.6" y="1138.0" text-anchor="middle">1</text><text x="1589.7" y="1138.0" text-anchor="middle">2</text><text x="1453.8" y="1179.8" text-anchor="middle">Time (s)</text><text x="1233.4" y="984.2" text-anchor="middle" transform="rotate(-90 1233.4 984.2)">Image-specific</text><text x="1267.7" y="985.2" text-anchor="middle" transform="rotate(-90 1267.7 985.2)">reinstatement (<tspan font-style="italic">z</tspan>)</text></svg></body></html>
